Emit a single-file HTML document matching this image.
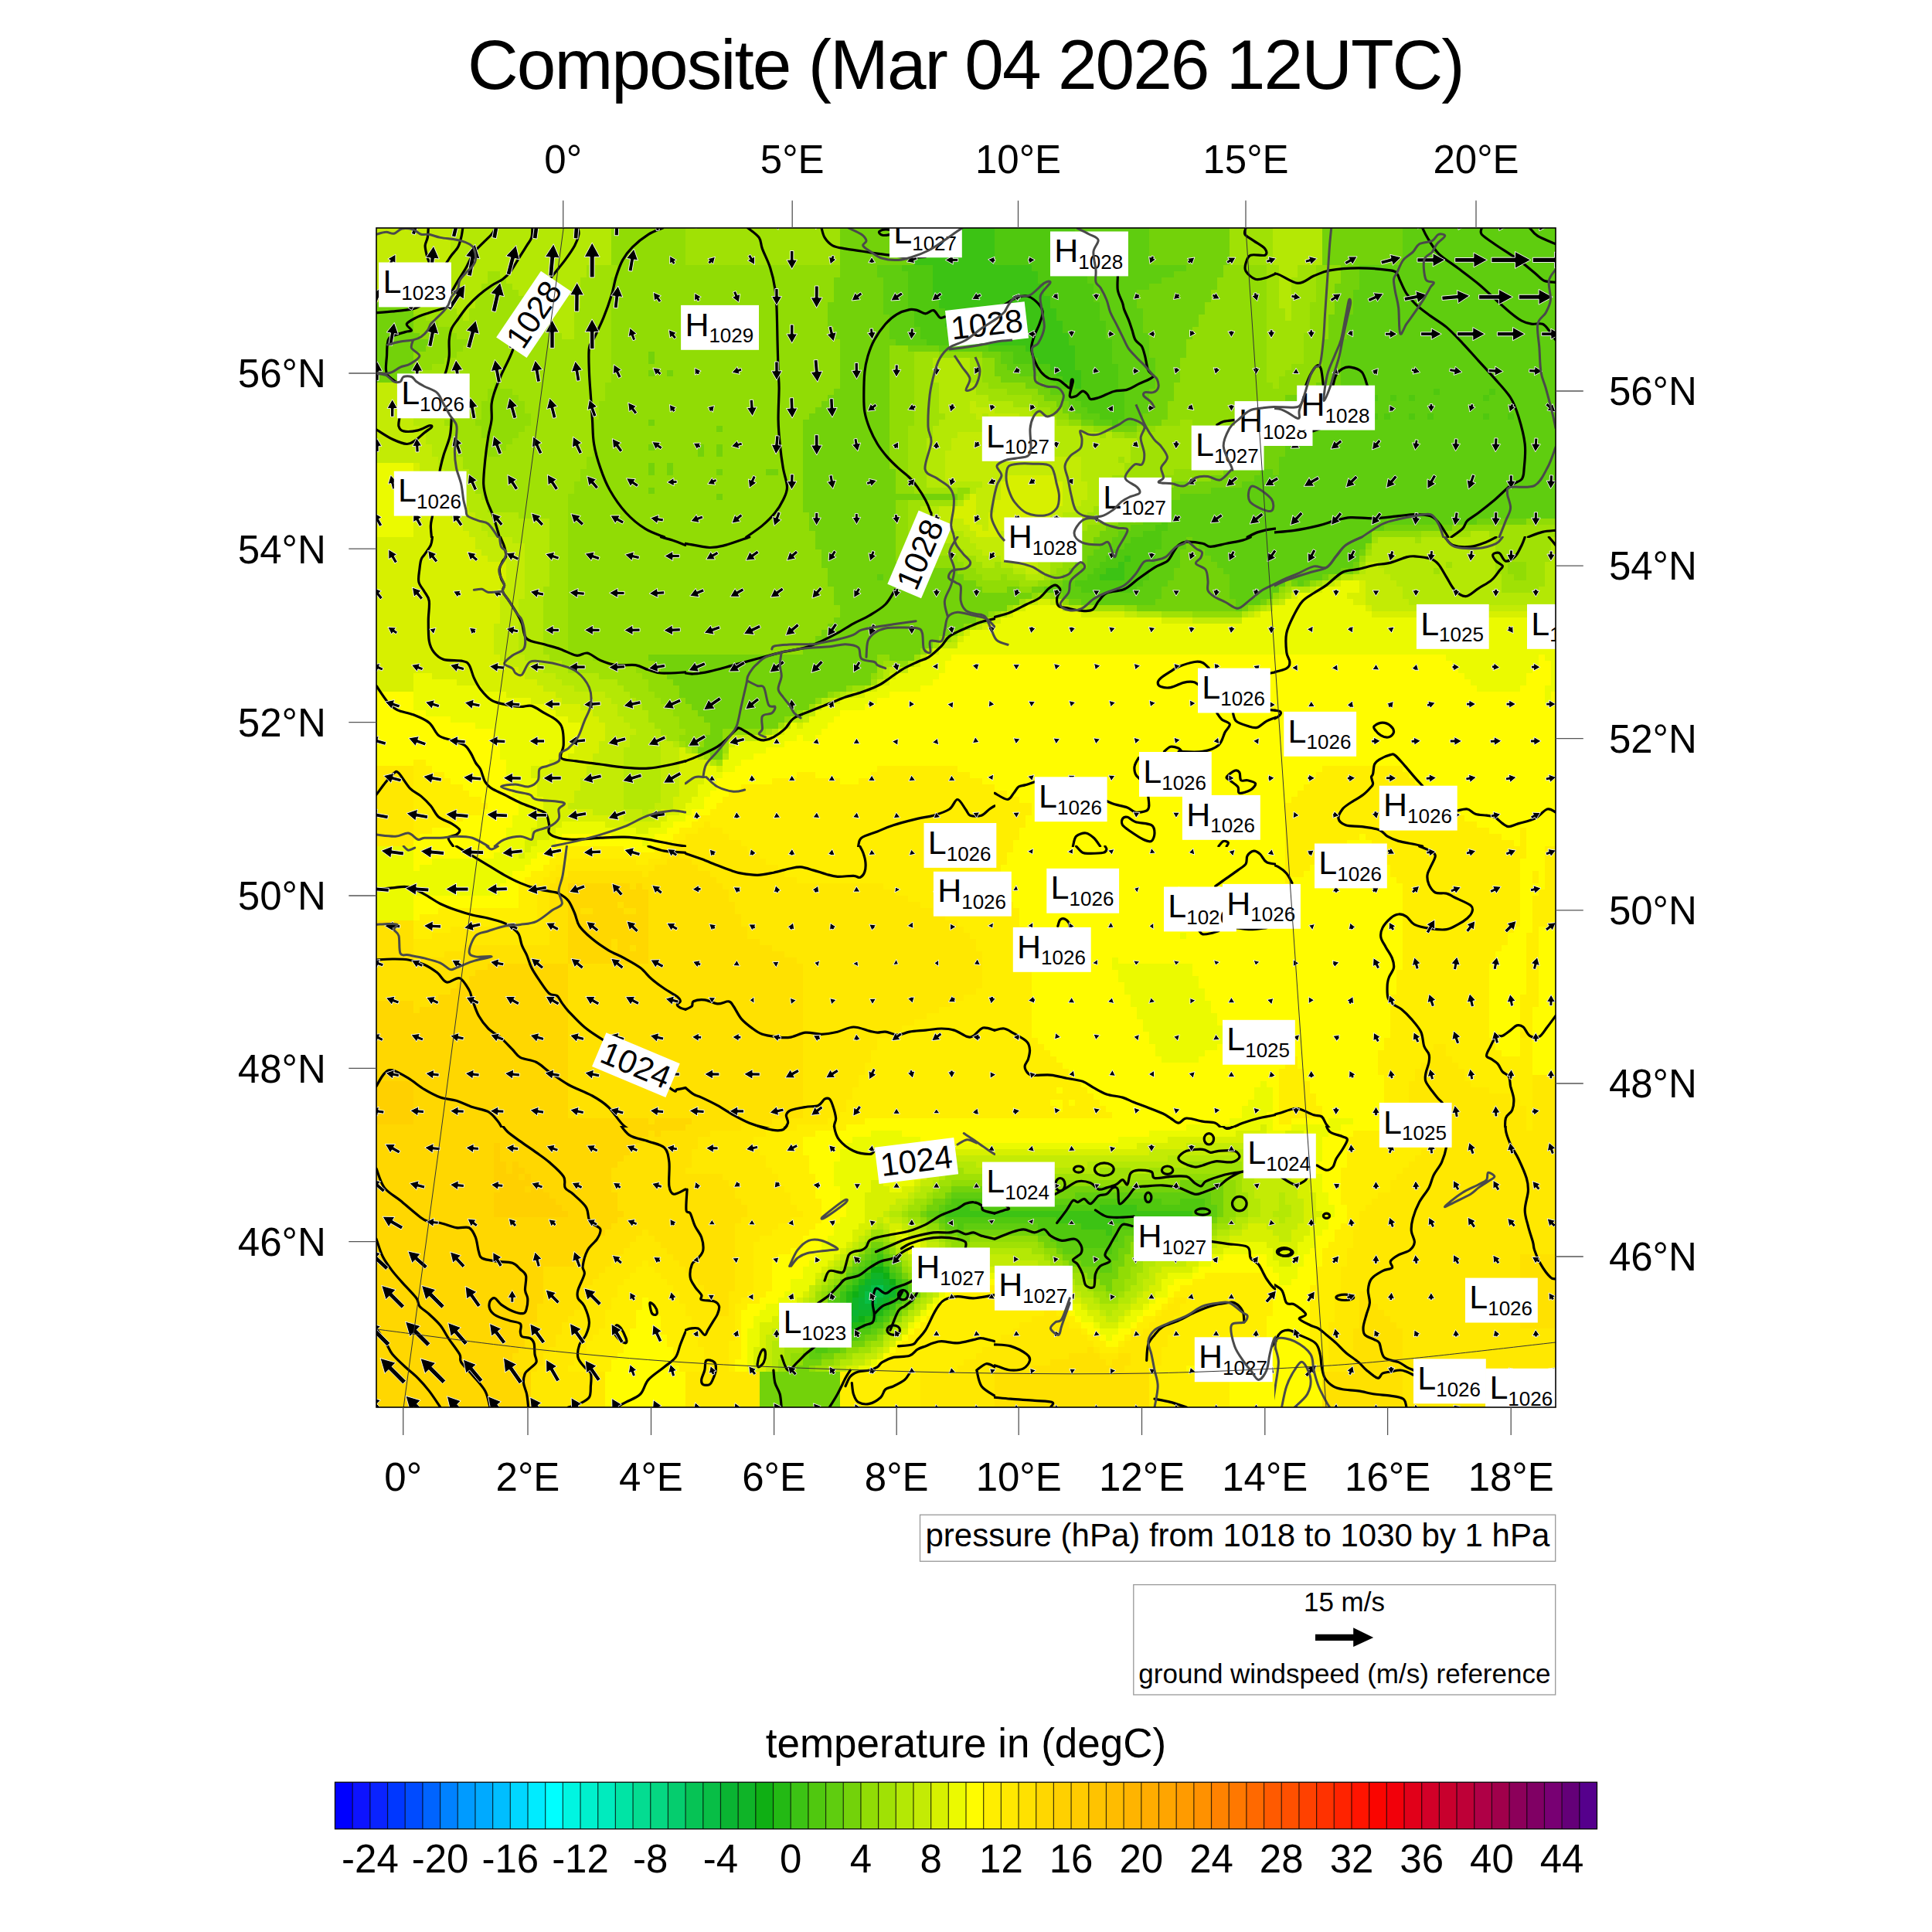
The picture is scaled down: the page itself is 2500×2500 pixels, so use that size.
<!DOCTYPE html>
<html><head><meta charset="utf-8"><title>Composite (Mar 04 2026 12UTC)</title>
<style>html,body{margin:0;padding:0;background:#fff;}svg{display:block;}</style></head>
<body><svg xmlns="http://www.w3.org/2000/svg" width="2500" height="2500" viewBox="0 0 2500 2500">
<rect width="2500" height="2500" fill="#fff"/>
<defs>
<clipPath id="cmap"><rect x="487" y="295" width="1526" height="1526"/></clipPath>
<clipPath id="tA"><rect x="487" y="295" width="401" height="401"/></clipPath>
<clipPath id="tB"><rect x="886" y="295" width="402" height="401"/></clipPath>
<clipPath id="tC"><rect x="1286" y="295" width="365" height="401"/></clipPath>
<clipPath id="tD"><rect x="1649" y="295" width="365" height="401"/></clipPath>
<clipPath id="tE"><rect x="487" y="694" width="401" height="402"/></clipPath>
<clipPath id="tF"><rect x="886" y="694" width="402" height="402"/></clipPath>
<clipPath id="tG"><rect x="1286" y="694" width="365" height="402"/></clipPath>
<clipPath id="tH"><rect x="1649" y="694" width="365" height="402"/></clipPath>
<clipPath id="tI"><rect x="487" y="1094" width="401" height="365"/></clipPath>
<clipPath id="tJ"><rect x="886" y="1094" width="402" height="365"/></clipPath>
<clipPath id="tK"><rect x="1286" y="1094" width="365" height="365"/></clipPath>
<clipPath id="tL"><rect x="1649" y="1094" width="365" height="365"/></clipPath>
<clipPath id="tM"><rect x="487" y="1457" width="401" height="365"/></clipPath>
<clipPath id="tN"><rect x="886" y="1457" width="402" height="365"/></clipPath>
<clipPath id="tO"><rect x="1286" y="1457" width="365" height="365"/></clipPath>
<clipPath id="tP"><rect x="1649" y="1457" width="365" height="365"/></clipPath>
</defs>
<g clip-path="url(#cmap)">
<path fill="#c3eb05" d="M487 295h96v8h-96zM487 303h96v8h-96zM487 311h96v8h-96zM487 319h96v8h-96zM487 327h96v8h-96zM487 335h96v8h-96zM487 343h48v8h-48zM487 351h48v8h-48zM487 359h48v8h-48zM487 367h48v8h-48zM487 375h48v8h-48zM487 383h48v8h-48zM487 495h48v8h-48zM487 503h48v8h-48zM487 511h48v8h-48zM487 519h48v8h-48zM1255 519h8v8h-8zM487 527h48v8h-48zM1255 527h32v8h-32zM487 535h48v8h-48zM1263 535h8v8h-8zM1279 535h40v8h-40zM487 543h48v8h-48zM1271 543h64v8h-64zM487 551h56v8h-56zM1279 551h64v8h-64zM487 559h64v8h-64zM1239 559h104v8h-104zM487 567h64v8h-64zM1231 567h120v8h-120zM487 575h72v8h-72zM1231 575h120v8h-120zM487 583h72v8h-72zM1223 583h136v8h-136zM487 591h80v8h-80zM1223 591h176v8h-176zM543 599h24v8h-24zM1223 599h176v8h-176zM543 607h32v8h-32zM1223 607h176v8h-176zM551 615h32v8h-32zM1223 615h80v8h-80zM1367 615h32v8h-32zM559 623h24v8h-24zM1271 623h24v8h-24zM1375 623h32v8h-32zM559 631h32v8h-32zM1263 631h32v8h-32zM1375 631h32v8h-32zM567 639h24v8h-24zM1263 639h32v8h-32zM1375 639h32v8h-32zM567 647h32v8h-32zM1263 647h24v8h-24zM1375 647h24v8h-24zM575 655h32v8h-32zM1215 655h16v8h-16zM1263 655h24v8h-24zM1367 655h24v8h-24zM583 663h32v8h-32zM1215 663h16v8h-16zM1263 663h16v8h-16zM1359 663h16v8h-16zM591 671h32v8h-32zM1215 671h32v8h-32zM1263 671h16v8h-16zM1351 671h16v8h-16zM599 679h24v8h-24zM1215 679h40v8h-40zM1271 679h8v8h-8zM1319 679h16v8h-16zM1351 679h16v8h-16zM607 687h24v8h-24zM1247 687h16v8h-16zM1295 687h64v8h-64zM615 695h48v8h-48zM1255 695h104v8h-104zM615 703h64v8h-64zM1263 703h88v8h-88zM623 711h56v8h-56zM1271 711h80v8h-80zM631 719h48v8h-48zM1295 719h56v8h-56zM655 727h24v8h-24zM1311 727h32v8h-32zM1767 727h16v8h-16zM655 735h24v8h-24zM1327 735h16v8h-16zM1767 735h24v8h-24zM655 743h24v8h-24zM1751 743h48v8h-48zM647 751h32v8h-32zM1719 751h8v8h-8zM1767 751h40v8h-40zM647 759h32v8h-32zM1695 759h8v8h-8zM1767 759h48v8h-48zM647 767h32v8h-32zM1767 767h48v8h-48zM647 775h24v8h-24zM1335 775h8v8h-8zM1359 775h8v8h-8zM1655 775h8v8h-8zM1767 775h56v8h-56zM647 783h24v8h-24zM1375 783h8v8h-8zM1639 783h8v8h-8zM1775 783h240v8h-240zM647 791h24v8h-24zM1455 791h16v8h-16zM1615 791h8v8h-8zM647 799h24v8h-24zM1279 799h8v8h-8zM1543 799h64v8h-64zM639 807h32v8h-32zM1263 807h8v8h-8zM639 815h32v8h-32zM639 823h32v8h-32zM639 831h32v8h-32zM1215 831h24v8h-24zM639 839h32v8h-32zM647 847h32v8h-32zM1191 847h8v8h-8zM655 855h40v8h-40zM671 863h32v8h-32zM1151 863h24v8h-24zM679 871h40v8h-40zM695 879h32v8h-32zM1135 879h8v8h-8zM703 887h40v8h-40zM719 895h64v8h-64zM1095 895h8v8h-8zM727 903h64v8h-64zM1071 903h8v8h-8zM751 911h48v8h-48zM1055 911h8v8h-8zM767 919h32v8h-32zM1047 919h8v8h-8zM775 927h32v8h-32zM1039 927h8v8h-8zM783 935h32v8h-32zM1015 935h8v8h-8zM783 943h40v8h-40zM783 951h32v8h-32zM943 951h48v8h-48zM775 959h40v8h-40zM855 959h16v8h-16zM775 967h32v8h-32zM855 967h24v8h-24zM767 975h40v8h-40zM855 975h24v8h-24zM767 983h40v8h-40zM855 983h24v8h-24zM759 991h48v8h-48zM855 991h24v8h-24zM759 999h48v8h-48zM855 999h24v8h-24zM751 1007h56v8h-56zM855 1007h24v8h-24zM751 1015h56v8h-56zM855 1015h24v8h-24zM743 1023h64v8h-64zM855 1023h24v8h-24zM743 1031h64v8h-64zM855 1031h16v8h-16zM735 1039h72v8h-72zM847 1039h24v8h-24zM767 1047h64v8h-64zM839 1047h16v8h-16zM807 1055h40v8h-40zM1535 1479h96v8h-96zM1487 1487h112v8h-112zM1615 1487h16v8h-16zM1231 1495h280v8h-280zM1623 1495h8v8h-8zM1639 1495h24v8h-24zM1223 1503h8v8h-8zM1263 1503h144v8h-144zM1623 1503h8v8h-8zM1639 1503h24v8h-24zM1215 1511h8v8h-8zM1623 1511h48v8h-48zM1199 1519h16v8h-16zM1623 1519h48v8h-48zM1191 1527h16v8h-16zM1623 1527h56v8h-56zM1183 1535h8v8h-8zM1623 1535h56v8h-56zM1175 1543h8v8h-8zM1623 1543h32v8h-32zM1663 1543h16v8h-16zM1159 1551h16v8h-16zM1631 1551h24v8h-24zM1663 1551h24v8h-24zM1151 1559h16v8h-16zM1631 1559h24v8h-24zM1671 1559h16v8h-16zM1143 1567h8v8h-8zM1631 1567h16v8h-16zM1671 1567h16v8h-16zM1135 1575h8v8h-8zM1151 1575h16v8h-16zM1615 1575h40v8h-40zM1663 1575h24v8h-24zM1127 1583h8v8h-8zM1143 1583h8v8h-8zM1167 1583h8v8h-8zM1607 1583h8v8h-8zM1639 1583h40v8h-40zM1119 1591h8v8h-8zM1175 1591h16v8h-16zM1591 1591h16v8h-16zM1647 1591h24v8h-24zM1111 1599h8v8h-8zM1151 1599h8v8h-8zM1191 1599h8v8h-8zM1575 1599h16v8h-16zM1655 1599h16v8h-16zM1103 1607h8v8h-8zM1159 1607h8v8h-8zM1199 1607h16v8h-16zM1567 1607h8v8h-8zM1095 1615h8v8h-8zM1167 1615h8v8h-8zM1207 1615h16v8h-16zM1551 1615h16v8h-16zM1087 1623h8v8h-8zM1175 1623h8v8h-8zM1223 1623h8v8h-8zM1263 1623h48v8h-48zM1535 1623h16v8h-16zM1079 1631h8v8h-8zM1231 1631h40v8h-40zM1279 1631h64v8h-64zM1495 1631h40v8h-40zM1071 1639h8v8h-8zM1183 1639h8v8h-8zM1343 1639h16v8h-16zM1487 1639h16v8h-16zM1063 1647h8v8h-8zM1191 1647h8v8h-8zM1359 1647h8v8h-8zM1487 1647h8v8h-8zM1055 1655h8v8h-8zM1199 1655h8v8h-8zM1367 1655h16v8h-16zM1479 1655h16v8h-16zM1047 1663h8v8h-8zM1207 1663h8v8h-8zM1375 1663h16v8h-16zM1479 1663h8v8h-8zM1047 1671h8v8h-8zM1207 1671h8v8h-8zM1391 1671h8v8h-8zM1471 1671h8v8h-8zM1039 1679h8v8h-8zM1199 1679h8v8h-8zM1399 1679h16v8h-16zM1463 1679h8v8h-8zM1039 1687h8v8h-8zM1191 1687h8v8h-8zM1407 1687h16v8h-16zM1447 1687h16v8h-16zM1031 1695h8v8h-8zM1183 1695h8v8h-8zM1423 1695h8v8h-8zM1439 1695h16v8h-16zM1023 1703h16v8h-16zM1175 1703h8v8h-8zM1431 1703h16v8h-16zM1007 1711h24v8h-24zM1167 1711h8v8h-8zM999 1719h24v8h-24zM1159 1719h8v8h-8zM991 1727h16v8h-16zM1151 1727h8v8h-8zM991 1735h8v8h-8zM1143 1735h8v8h-8zM991 1743h8v8h-8zM1135 1743h8v8h-8zM991 1751h8v8h-8zM1119 1751h16v8h-16zM991 1759h8v8h-8zM1103 1759h16v8h-16zM991 1767h8v8h-8zM1087 1767h8v8h-8z"/>
<path fill="#b4e805" d="M583 295h208v8h-208zM1647 295h64v8h-64zM583 303h208v8h-208zM1647 303h64v8h-64zM583 311h208v8h-208zM1647 311h64v8h-64zM583 319h208v8h-208zM1647 319h64v8h-64zM583 327h208v8h-208zM1647 327h64v8h-64zM583 335h208v8h-208zM1647 335h64v8h-64zM535 343h224v8h-224zM1655 343h24v8h-24zM535 351h96v8h-96zM647 351h112v8h-112zM1655 351h24v8h-24zM535 359h96v8h-96zM655 359h96v8h-96zM1655 359h16v8h-16zM535 367h88v8h-88zM663 367h88v8h-88zM1655 367h16v8h-16zM543 375h80v8h-80zM671 375h80v8h-80zM1655 375h16v8h-16zM559 383h56v8h-56zM679 383h72v8h-72zM1655 383h16v8h-16zM575 391h40v8h-40zM687 391h64v8h-64zM1655 391h16v8h-16zM591 399h16v8h-16zM695 399h48v8h-48zM1663 399h8v8h-8zM599 407h8v8h-8zM703 407h40v8h-40zM1663 407h8v8h-8zM711 415h32v8h-32zM719 423h24v8h-24zM727 431h16v8h-16zM1207 463h48v8h-48zM1207 471h48v8h-48zM1207 479h48v8h-48zM583 487h16v8h-16zM1207 487h48v8h-48zM567 495h32v8h-32zM1215 495h48v8h-48zM551 503h40v8h-40zM1215 503h48v8h-48zM543 511h48v8h-48zM1215 511h64v8h-64zM535 519h48v8h-48zM1215 519h40v8h-40zM1263 519h48v8h-48zM535 527h48v8h-48zM1215 527h40v8h-40zM1287 527h48v8h-48zM535 535h48v8h-48zM1223 535h40v8h-40zM1271 535h8v8h-8zM1319 535h32v8h-32zM535 543h40v8h-40zM1215 543h56v8h-56zM1335 543h32v8h-32zM543 551h40v8h-40zM1207 551h72v8h-72zM1343 551h56v8h-56zM551 559h32v8h-32zM1207 559h32v8h-32zM1343 559h80v8h-80zM1431 559h8v8h-8zM551 567h40v8h-40zM1199 567h32v8h-32zM1351 567h120v8h-120zM559 575h32v8h-32zM1199 575h32v8h-32zM1351 575h112v8h-112zM559 583h32v8h-32zM1199 583h24v8h-24zM1359 583h104v8h-104zM567 591h32v8h-32zM1199 591h24v8h-24zM1399 591h48v8h-48zM1455 591h8v8h-8zM567 599h32v8h-32zM1199 599h24v8h-24zM1399 599h56v8h-56zM575 607h32v8h-32zM1199 607h24v8h-24zM1399 607h56v8h-56zM583 615h24v8h-24zM1199 615h24v8h-24zM1399 615h40v8h-40zM583 623h32v8h-32zM1199 623h72v8h-72zM1407 623h40v8h-40zM591 631h24v8h-24zM1255 631h8v8h-8zM1407 631h32v8h-32zM591 639h32v8h-32zM1247 639h8v8h-8zM1407 639h32v8h-32zM599 647h32v8h-32zM1239 647h8v8h-8zM1399 647h32v8h-32zM607 655h24v8h-24zM1191 655h24v8h-24zM1391 655h24v8h-24zM615 663h56v8h-56zM1191 663h24v8h-24zM1375 663h32v8h-32zM623 671h88v8h-88zM1191 671h24v8h-24zM1367 671h24v8h-24zM623 679h88v8h-88zM1191 679h24v8h-24zM1367 679h16v8h-16zM631 687h80v8h-80zM1191 687h56v8h-56zM1359 687h16v8h-16zM1903 687h24v8h-24zM663 695h48v8h-48zM1199 695h56v8h-56zM1359 695h16v8h-16zM1783 695h48v8h-48zM1839 695h96v8h-96zM2007 695h8v8h-8zM679 703h32v8h-32zM1239 703h24v8h-24zM1351 703h16v8h-16zM1775 703h160v8h-160zM2007 703h8v8h-8zM679 711h32v8h-32zM1247 711h24v8h-24zM1351 711h16v8h-16zM1775 711h160v8h-160zM2007 711h8v8h-8zM679 719h32v8h-32zM1263 719h32v8h-32zM1351 719h8v8h-8zM1767 719h168v8h-168zM2007 719h8v8h-8zM679 727h32v8h-32zM1271 727h16v8h-16zM1295 727h16v8h-16zM1343 727h16v8h-16zM1783 727h88v8h-88zM1879 727h56v8h-56zM1999 727h16v8h-16zM679 735h32v8h-32zM1311 735h16v8h-16zM1343 735h16v8h-16zM1759 735h8v8h-8zM1791 735h64v8h-64zM1863 735h72v8h-72zM1999 735h16v8h-16zM679 743h32v8h-32zM1327 743h24v8h-24zM1735 743h16v8h-16zM1799 743h144v8h-144zM1999 743h16v8h-16zM679 751h32v8h-32zM1711 751h8v8h-8zM1807 751h136v8h-136zM1999 751h16v8h-16zM679 759h24v8h-24zM1671 759h24v8h-24zM1815 759h128v8h-128zM1991 759h24v8h-24zM679 767h24v8h-24zM1663 767h8v8h-8zM1815 767h200v8h-200zM671 775h32v8h-32zM1327 775h8v8h-8zM1367 775h8v8h-8zM1647 775h8v8h-8zM1823 775h192v8h-192zM671 783h32v8h-32zM1311 783h8v8h-8zM1383 783h16v8h-16zM1631 783h8v8h-8zM671 791h32v8h-32zM1295 791h8v8h-8zM1471 791h32v8h-32zM1607 791h8v8h-8zM671 799h32v8h-32zM671 807h32v8h-32zM1255 807h8v8h-8zM671 815h32v8h-32zM1239 815h8v8h-8zM671 823h32v8h-32zM1231 823h8v8h-8zM671 831h32v8h-32zM671 839h32v8h-32zM1199 839h8v8h-8zM679 847h32v8h-32zM695 855h32v8h-32zM1175 855h8v8h-8zM703 863h32v8h-32zM1143 863h8v8h-8zM719 871h56v8h-56zM1143 871h8v8h-8zM727 879h72v8h-72zM743 887h64v8h-64zM1119 887h8v8h-8zM783 895h32v8h-32zM1087 895h8v8h-8zM791 903h32v8h-32zM1063 903h8v8h-8zM799 911h32v8h-32zM799 919h40v8h-40zM1039 919h8v8h-8zM807 927h32v8h-32zM1023 927h16v8h-16zM815 935h32v8h-32zM823 943h32v8h-32zM999 943h8v8h-8zM815 951h48v8h-48zM815 959h40v8h-40zM871 959h8v8h-8zM807 967h48v8h-48zM887 967h8v8h-8zM807 975h48v8h-48zM903 975h8v8h-8zM935 975h8v8h-8zM807 983h48v8h-48zM919 983h8v8h-8zM807 991h48v8h-48zM807 999h48v8h-48zM807 1007h48v8h-48zM807 1015h48v8h-48zM807 1023h48v8h-48zM807 1031h48v8h-48zM807 1039h40v8h-40zM831 1047h8v8h-8zM1599 1487h16v8h-16zM1511 1495h112v8h-112zM1231 1503h32v8h-32zM1407 1503h128v8h-128zM1607 1503h16v8h-16zM1223 1511h16v8h-16zM1247 1511h176v8h-176zM1463 1511h24v8h-24zM1607 1511h16v8h-16zM1215 1519h8v8h-8zM1607 1519h16v8h-16zM1207 1527h8v8h-8zM1607 1527h16v8h-16zM1191 1535h16v8h-16zM1607 1535h16v8h-16zM1183 1543h16v8h-16zM1615 1543h8v8h-8zM1655 1543h8v8h-8zM1175 1551h8v8h-8zM1615 1551h16v8h-16zM1655 1551h8v8h-8zM1167 1559h8v8h-8zM1615 1559h16v8h-16zM1655 1559h16v8h-16zM1151 1567h16v8h-16zM1615 1567h16v8h-16zM1647 1567h24v8h-24zM1167 1575h8v8h-8zM1599 1575h16v8h-16zM1655 1575h8v8h-8zM1135 1583h8v8h-8zM1175 1583h16v8h-16zM1591 1583h16v8h-16zM1143 1591h8v8h-8zM1191 1591h8v8h-8zM1575 1591h16v8h-16zM1119 1599h8v8h-8zM1199 1599h16v8h-16zM1559 1599h16v8h-16zM1111 1607h8v8h-8zM1215 1607h8v8h-8zM1551 1607h16v8h-16zM1103 1615h8v8h-8zM1159 1615h8v8h-8zM1223 1615h8v8h-8zM1263 1615h72v8h-72zM1535 1615h16v8h-16zM1095 1623h8v8h-8zM1167 1623h8v8h-8zM1231 1623h32v8h-32zM1311 1623h40v8h-40zM1487 1623h48v8h-48zM1087 1631h8v8h-8zM1175 1631h8v8h-8zM1343 1631h16v8h-16zM1479 1631h16v8h-16zM1079 1639h8v8h-8zM1359 1639h16v8h-16zM1479 1639h8v8h-8zM1071 1647h8v8h-8zM1367 1647h16v8h-16zM1471 1647h16v8h-16zM1063 1655h8v8h-8zM1191 1655h8v8h-8zM1383 1655h8v8h-8zM1471 1655h8v8h-8zM1055 1663h8v8h-8zM1199 1663h8v8h-8zM1391 1663h16v8h-16zM1463 1663h16v8h-16zM1199 1671h8v8h-8zM1399 1671h16v8h-16zM1455 1671h16v8h-16zM1047 1679h8v8h-8zM1191 1679h8v8h-8zM1415 1679h8v8h-8zM1447 1679h16v8h-16zM1047 1687h8v8h-8zM1183 1687h8v8h-8zM1423 1687h24v8h-24zM1039 1695h8v8h-8zM1175 1695h8v8h-8zM1431 1695h8v8h-8zM1039 1703h8v8h-8zM1167 1703h8v8h-8zM1031 1711h8v8h-8zM1159 1711h8v8h-8zM1023 1719h16v8h-16zM1151 1719h8v8h-8zM1007 1727h24v8h-24zM1143 1727h8v8h-8zM999 1735h24v8h-24zM999 1743h16v8h-16zM1127 1743h8v8h-8zM999 1751h16v8h-16zM1103 1751h16v8h-16zM999 1759h8v8h-8zM1087 1759h16v8h-16zM999 1767h8v8h-8zM1071 1767h16v8h-16z"/>
<path fill="#91dc05" d="M791 295h96v8h-96zM791 303h96v8h-96zM791 311h96v8h-96zM791 319h96v8h-96zM791 327h96v8h-96zM791 335h96v8h-96zM799 343h288v8h-288zM1583 343h56v8h-56zM1703 343h32v8h-32zM799 351h288v8h-288zM1583 351h56v8h-56zM1703 351h32v8h-32zM791 359h288v8h-288zM1575 359h64v8h-64zM1703 359h32v8h-32zM791 367h288v8h-288zM1575 367h64v8h-64zM1703 367h24v8h-24zM791 375h288v8h-288zM1567 375h72v8h-72zM1703 375h24v8h-24zM791 383h288v8h-288zM1567 383h72v8h-72zM1703 383h24v8h-24zM791 391h280v8h-280zM1559 391h80v8h-80zM1695 391h32v8h-32zM791 399h280v8h-280zM1559 399h80v8h-80zM1695 399h32v8h-32zM535 407h16v8h-16zM791 407h280v8h-280zM1551 407h88v8h-88zM1695 407h24v8h-24zM535 415h32v8h-32zM791 415h280v8h-280zM1551 415h88v8h-88zM1695 415h24v8h-24zM535 423h48v8h-48zM791 423h288v8h-288zM1543 423h96v8h-96zM1695 423h24v8h-24zM543 431h48v8h-48zM791 431h288v8h-288zM1543 431h96v8h-96zM1687 431h32v8h-32zM559 439h48v8h-48zM791 439h296v8h-296zM1535 439h104v8h-104zM1687 439h24v8h-24zM551 447h48v8h-48zM791 447h296v8h-296zM1151 447h24v8h-24zM1535 447h104v8h-104zM1687 447h24v8h-24zM535 455h56v8h-56zM791 455h48v8h-48zM847 455h240v8h-240zM1151 455h32v8h-32zM1215 455h56v8h-56zM1535 455h104v8h-104zM1687 455h24v8h-24zM535 463h40v8h-40zM791 463h48v8h-48zM847 463h240v8h-240zM1151 463h32v8h-32zM1271 463h16v8h-16zM1527 463h112v8h-112zM1687 463h24v8h-24zM535 471h24v8h-24zM791 471h296v8h-296zM1151 471h32v8h-32zM1271 471h16v8h-16zM1527 471h112v8h-112zM1671 471h40v8h-40zM535 479h8v8h-8zM791 479h48v8h-48zM847 479h16v8h-16zM871 479h216v8h-216zM1151 479h32v8h-32zM1271 479h16v8h-16zM1527 479h112v8h-112zM1663 479h48v8h-48zM791 487h296v8h-296zM1151 487h32v8h-32zM1271 487h24v8h-24zM1527 487h112v8h-112zM1655 487h56v8h-56zM639 495h8v8h-8zM783 495h304v8h-304zM1151 495h32v8h-32zM1279 495h48v8h-48zM1519 495h128v8h-128zM1655 495h48v8h-48zM631 503h32v8h-32zM783 503h296v8h-296zM1151 503h32v8h-32zM1303 503h40v8h-40zM1519 503h160v8h-160zM631 511h40v8h-40zM783 511h288v8h-288zM1151 511h32v8h-32zM1335 511h16v8h-16zM1519 511h144v8h-144zM623 519h56v8h-56zM775 519h288v8h-288zM1151 519h32v8h-32zM1343 519h24v8h-24zM1511 519h144v8h-144zM623 527h56v8h-56zM775 527h280v8h-280zM1151 527h32v8h-32zM1359 527h16v8h-16zM1511 527h144v8h-144zM623 535h64v8h-64zM775 535h272v8h-272zM1151 535h32v8h-32zM1367 535h16v8h-16zM1511 535h136v8h-136zM615 543h72v8h-72zM767 543h72v8h-72zM847 543h192v8h-192zM1151 543h32v8h-32zM1383 543h16v8h-16zM1503 543h24v8h-24zM1543 543h104v8h-104zM623 551h56v8h-56zM767 551h160v8h-160zM935 551h104v8h-104zM1151 551h24v8h-24zM1415 551h24v8h-24zM1471 551h24v8h-24zM1551 551h96v8h-96zM623 559h48v8h-48zM767 559h272v8h-272zM1151 559h24v8h-24zM1455 559h16v8h-16zM1567 559h80v8h-80zM631 567h32v8h-32zM767 567h272v8h-272zM1151 567h24v8h-24zM1575 567h56v8h-56zM631 575h24v8h-24zM767 575h72v8h-72zM847 575h56v8h-56zM911 575h16v8h-16zM935 575h104v8h-104zM1151 575h24v8h-24zM1567 575h56v8h-56zM631 583h16v8h-16zM767 583h136v8h-136zM911 583h16v8h-16zM935 583h104v8h-104zM1151 583h24v8h-24zM1559 583h48v8h-48zM759 591h280v8h-280zM1151 591h24v8h-24zM1551 591h48v8h-48zM759 599h80v8h-80zM847 599h16v8h-16zM871 599h168v8h-168zM1151 599h24v8h-24zM1543 599h48v8h-48zM751 607h88v8h-88zM847 607h16v8h-16zM871 607h56v8h-56zM935 607h56v8h-56zM1007 607h32v8h-32zM1159 607h16v8h-16zM1519 607h64v8h-64zM751 615h288v8h-288zM1159 615h16v8h-16zM1503 615h64v8h-64zM743 623h296v8h-296zM1159 623h24v8h-24zM1495 623h24v8h-24zM743 631h96v8h-96zM847 631h192v8h-192zM1159 631h24v8h-24zM1239 631h16v8h-16zM1479 631h32v8h-32zM735 639h192v8h-192zM935 639h104v8h-104zM1239 639h8v8h-8zM1471 639h24v8h-24zM735 647h304v8h-304zM1159 647h16v8h-16zM1455 647h32v8h-32zM735 655h304v8h-304zM1159 655h16v8h-16zM1447 655h24v8h-24zM735 663h312v8h-312zM1159 663h16v8h-16zM1431 663h32v8h-32zM735 671h312v8h-312zM1159 671h16v8h-16zM1423 671h24v8h-24zM1975 671h40v8h-40zM735 679h312v8h-312zM1159 679h16v8h-16zM1407 679h24v8h-24zM1879 679h64v8h-64zM735 687h320v8h-320zM1159 687h16v8h-16zM1399 687h24v8h-24zM1775 687h64v8h-64zM735 695h320v8h-320zM1159 695h16v8h-16zM1391 695h24v8h-24zM735 703h320v8h-320zM1159 703h16v8h-16zM1383 703h16v8h-16zM1767 703h8v8h-8zM735 711h328v8h-328zM1159 711h24v8h-24zM1383 711h16v8h-16zM735 719h328v8h-328zM1159 719h80v8h-80zM1375 719h16v8h-16zM1759 719h8v8h-8zM735 727h328v8h-328zM1175 727h72v8h-72zM1375 727h16v8h-16zM1951 727h24v8h-24zM735 735h336v8h-336zM1239 735h24v8h-24zM1367 735h16v8h-16zM1751 735h8v8h-8zM1951 735h24v8h-24zM735 743h336v8h-336zM1247 743h24v8h-24zM1295 743h8v8h-8zM1359 743h16v8h-16zM1719 743h8v8h-8zM1959 743h16v8h-16zM735 751h336v8h-336zM1263 751h56v8h-56zM1343 751h16v8h-16zM1663 751h8v8h-8zM1695 751h8v8h-8zM735 759h344v8h-344zM1271 759h32v8h-32zM1319 759h16v8h-16zM1655 759h8v8h-8zM735 767h344v8h-344zM1335 767h8v8h-8zM1359 767h8v8h-8zM1647 767h8v8h-8zM735 775h344v8h-344zM1375 775h8v8h-8zM1639 775h8v8h-8zM735 783h352v8h-352zM1455 783h16v8h-16zM1615 783h8v8h-8zM735 791h352v8h-352zM1279 791h8v8h-8zM1543 791h64v8h-64zM735 799h344v8h-344zM1263 799h8v8h-8zM735 807h336v8h-336zM1247 807h8v8h-8zM735 815h328v8h-328zM1231 815h8v8h-8zM735 823h320v8h-320zM1215 823h8v8h-8zM735 831h312v8h-312zM735 839h304v8h-304zM1191 839h8v8h-8zM767 847h72v8h-72zM1135 847h16v8h-16zM799 855h48v8h-48zM1135 855h8v8h-8zM1159 855h16v8h-16zM823 863h32v8h-32zM831 871h32v8h-32zM1127 871h8v8h-8zM839 879h32v8h-32zM839 887h40v8h-40zM1095 887h8v8h-8zM847 895h32v8h-32zM1071 895h8v8h-8zM855 903h32v8h-32zM1055 903h8v8h-8zM863 911h32v8h-32zM871 919h32v8h-32zM1031 919h8v8h-8zM879 927h32v8h-32zM1015 927h8v8h-8zM879 935h40v8h-40zM887 943h32v8h-32zM935 943h56v8h-56zM879 951h32v8h-32zM935 951h8v8h-8zM887 959h24v8h-24zM1511 1519h80v8h-80zM1231 1527h296v8h-296zM1583 1527h16v8h-16zM1215 1535h16v8h-16zM1303 1535h72v8h-72zM1583 1535h16v8h-16zM1207 1543h16v8h-16zM1583 1543h16v8h-16zM1199 1551h8v8h-8zM1583 1551h16v8h-16zM1191 1559h8v8h-8zM1583 1559h16v8h-16zM1175 1567h16v8h-16zM1583 1567h16v8h-16zM1191 1575h8v8h-8zM1575 1575h16v8h-16zM1199 1583h16v8h-16zM1559 1583h16v8h-16zM1215 1591h8v8h-8zM1551 1591h8v8h-8zM1127 1599h16v8h-16zM1223 1599h16v8h-16zM1255 1599h88v8h-88zM1503 1599h48v8h-48zM1119 1607h8v8h-8zM1143 1607h8v8h-8zM1231 1607h24v8h-24zM1343 1607h8v8h-8zM1463 1607h56v8h-56zM1111 1615h8v8h-8zM1151 1615h8v8h-8zM1351 1615h16v8h-16zM1463 1615h16v8h-16zM1359 1623h16v8h-16zM1455 1623h16v8h-16zM1375 1631h8v8h-8zM1455 1631h16v8h-16zM1167 1639h8v8h-8zM1383 1639h16v8h-16zM1447 1639h16v8h-16zM1087 1647h8v8h-8zM1175 1647h8v8h-8zM1399 1647h8v8h-8zM1447 1647h16v8h-16zM1079 1655h8v8h-8zM1183 1655h8v8h-8zM1407 1655h16v8h-16zM1439 1655h16v8h-16zM1071 1663h8v8h-8zM1415 1663h16v8h-16zM1439 1663h16v8h-16zM1063 1671h8v8h-8zM1431 1671h16v8h-16zM1063 1679h8v8h-8zM1055 1687h8v8h-8zM1175 1687h8v8h-8zM1055 1695h8v8h-8zM1167 1695h8v8h-8zM1159 1703h8v8h-8zM1047 1711h8v8h-8zM1151 1711h8v8h-8zM1047 1719h8v8h-8zM1143 1719h8v8h-8zM1039 1727h8v8h-8zM1135 1727h8v8h-8zM1039 1735h8v8h-8zM1119 1735h8v8h-8zM1039 1743h8v8h-8zM1095 1743h16v8h-16zM1023 1751h16v8h-16zM1079 1751h16v8h-16zM1023 1759h16v8h-16zM1063 1759h16v8h-16zM1023 1767h8v8h-8zM1047 1767h8v8h-8z"/>
<path fill="#a0e105" d="M887 295h200v8h-200zM1591 295h56v8h-56zM887 303h200v8h-200zM1591 303h56v8h-56zM887 311h200v8h-200zM1591 311h56v8h-56zM887 319h200v8h-200zM1591 319h56v8h-56zM887 327h200v8h-200zM1591 327h56v8h-56zM887 335h200v8h-200zM1591 335h56v8h-56zM759 343h40v8h-40zM1639 343h16v8h-16zM1679 343h24v8h-24zM631 351h16v8h-16zM759 351h40v8h-40zM1639 351h16v8h-16zM1679 351h24v8h-24zM631 359h24v8h-24zM751 359h40v8h-40zM1639 359h16v8h-16zM1671 359h32v8h-32zM623 367h40v8h-40zM751 367h40v8h-40zM1639 367h16v8h-16zM1671 367h32v8h-32zM535 375h8v8h-8zM623 375h48v8h-48zM751 375h40v8h-40zM1639 375h16v8h-16zM1671 375h32v8h-32zM535 383h24v8h-24zM615 383h64v8h-64zM751 383h40v8h-40zM1639 383h16v8h-16zM1671 383h32v8h-32zM535 391h40v8h-40zM615 391h72v8h-72zM751 391h40v8h-40zM1639 391h16v8h-16zM1671 391h24v8h-24zM535 399h56v8h-56zM607 399h88v8h-88zM743 399h48v8h-48zM1639 399h24v8h-24zM1671 399h24v8h-24zM551 407h48v8h-48zM607 407h96v8h-96zM743 407h48v8h-48zM1639 407h24v8h-24zM1671 407h24v8h-24zM567 415h144v8h-144zM743 415h48v8h-48zM1639 415h56v8h-56zM583 423h136v8h-136zM743 423h48v8h-48zM1639 423h56v8h-56zM591 431h136v8h-136zM743 431h48v8h-48zM1639 431h48v8h-48zM607 439h184v8h-184zM1639 439h48v8h-48zM599 447h192v8h-192zM1639 447h48v8h-48zM591 455h200v8h-200zM1183 455h32v8h-32zM1639 455h48v8h-48zM575 463h216v8h-216zM1183 463h24v8h-24zM1255 463h16v8h-16zM1639 463h48v8h-48zM559 471h232v8h-232zM1183 471h24v8h-24zM1255 471h16v8h-16zM1639 471h32v8h-32zM543 479h248v8h-248zM1183 479h24v8h-24zM1255 479h16v8h-16zM1639 479h24v8h-24zM535 487h48v8h-48zM599 487h192v8h-192zM1183 487h24v8h-24zM1255 487h16v8h-16zM1639 487h16v8h-16zM535 495h32v8h-32zM599 495h40v8h-40zM647 495h136v8h-136zM1183 495h32v8h-32zM1263 495h16v8h-16zM1647 495h8v8h-8zM535 503h16v8h-16zM591 503h40v8h-40zM663 503h120v8h-120zM1183 503h32v8h-32zM1263 503h40v8h-40zM535 511h8v8h-8zM591 511h40v8h-40zM671 511h112v8h-112zM1183 511h32v8h-32zM1279 511h56v8h-56zM583 519h40v8h-40zM679 519h96v8h-96zM1183 519h32v8h-32zM1311 519h32v8h-32zM583 527h40v8h-40zM679 527h96v8h-96zM1183 527h32v8h-32zM1335 527h24v8h-24zM583 535h40v8h-40zM687 535h88v8h-88zM1183 535h40v8h-40zM1351 535h16v8h-16zM575 543h40v8h-40zM687 543h80v8h-80zM1183 543h32v8h-32zM1367 543h16v8h-16zM1527 543h16v8h-16zM583 551h40v8h-40zM679 551h88v8h-88zM1175 551h32v8h-32zM1399 551h16v8h-16zM1495 551h56v8h-56zM583 559h40v8h-40zM671 559h96v8h-96zM1175 559h32v8h-32zM1423 559h8v8h-8zM1439 559h16v8h-16zM1471 559h96v8h-96zM591 567h40v8h-40zM663 567h104v8h-104zM1175 567h24v8h-24zM1471 567h104v8h-104zM591 575h40v8h-40zM655 575h112v8h-112zM1175 575h24v8h-24zM1463 575h104v8h-104zM591 583h40v8h-40zM647 583h120v8h-120zM1175 583h24v8h-24zM1463 583h96v8h-96zM599 591h160v8h-160zM1175 591h24v8h-24zM1447 591h8v8h-8zM1463 591h88v8h-88zM599 599h160v8h-160zM1175 599h24v8h-24zM1455 599h88v8h-88zM607 607h144v8h-144zM1175 607h24v8h-24zM1455 607h64v8h-64zM607 615h144v8h-144zM1175 615h24v8h-24zM1439 615h64v8h-64zM615 623h128v8h-128zM1183 623h16v8h-16zM1447 623h48v8h-48zM615 631h128v8h-128zM1183 631h56v8h-56zM1439 631h40v8h-40zM623 639h112v8h-112zM1439 639h32v8h-32zM631 647h104v8h-104zM1175 647h64v8h-64zM1431 647h24v8h-24zM631 655h104v8h-104zM1175 655h16v8h-16zM1415 655h32v8h-32zM671 663h64v8h-64zM1175 663h16v8h-16zM1407 663h24v8h-24zM711 671h24v8h-24zM1175 671h16v8h-16zM1391 671h32v8h-32zM711 679h24v8h-24zM1175 679h16v8h-16zM1383 679h24v8h-24zM1943 679h72v8h-72zM711 687h24v8h-24zM1175 687h16v8h-16zM1375 687h24v8h-24zM1839 687h64v8h-64zM1927 687h88v8h-88zM711 695h24v8h-24zM1175 695h24v8h-24zM1375 695h16v8h-16zM1775 695h8v8h-8zM1831 695h8v8h-8zM1935 695h72v8h-72zM711 703h24v8h-24zM1175 703h64v8h-64zM1367 703h16v8h-16zM1935 703h72v8h-72zM711 711h24v8h-24zM1183 711h64v8h-64zM1367 711h16v8h-16zM1767 711h8v8h-8zM1935 711h72v8h-72zM711 719h24v8h-24zM1239 719h24v8h-24zM1359 719h16v8h-16zM1935 719h72v8h-72zM711 727h24v8h-24zM1247 727h24v8h-24zM1287 727h8v8h-8zM1359 727h16v8h-16zM1759 727h8v8h-8zM1871 727h8v8h-8zM1935 727h16v8h-16zM1975 727h24v8h-24zM711 735h24v8h-24zM1263 735h48v8h-48zM1359 735h8v8h-8zM1855 735h8v8h-8zM1935 735h16v8h-16zM1975 735h24v8h-24zM711 743h24v8h-24zM1271 743h24v8h-24zM1303 743h24v8h-24zM1351 743h8v8h-8zM1727 743h8v8h-8zM1943 743h16v8h-16zM1975 743h24v8h-24zM711 751h24v8h-24zM1319 751h24v8h-24zM1703 751h8v8h-8zM1943 751h56v8h-56zM703 759h32v8h-32zM1663 759h8v8h-8zM1943 759h48v8h-48zM703 767h32v8h-32zM1343 767h16v8h-16zM1655 767h8v8h-8zM703 775h32v8h-32zM1319 775h8v8h-8zM703 783h32v8h-32zM1303 783h8v8h-8zM1399 783h56v8h-56zM1623 783h8v8h-8zM703 791h32v8h-32zM1287 791h8v8h-8zM1503 791h40v8h-40zM703 799h32v8h-32zM1271 799h8v8h-8zM703 807h32v8h-32zM703 815h32v8h-32zM703 823h32v8h-32zM1223 823h8v8h-8zM703 831h32v8h-32zM1207 831h8v8h-8zM703 839h32v8h-32zM711 847h56v8h-56zM1183 847h8v8h-8zM727 855h72v8h-72zM1143 855h16v8h-16zM735 863h88v8h-88zM1135 863h8v8h-8zM775 871h56v8h-56zM1135 871h8v8h-8zM799 879h40v8h-40zM1127 879h8v8h-8zM807 887h32v8h-32zM1103 887h16v8h-16zM815 895h32v8h-32zM1079 895h8v8h-8zM823 903h32v8h-32zM831 911h32v8h-32zM1047 911h8v8h-8zM839 919h32v8h-32zM839 927h40v8h-40zM847 935h32v8h-32zM1007 935h8v8h-8zM855 943h32v8h-32zM991 943h8v8h-8zM863 951h16v8h-16zM879 959h8v8h-8zM935 959h8v8h-8zM895 967h8v8h-8zM935 967h8v8h-8zM911 975h8v8h-8zM927 983h8v8h-8zM1535 1503h72v8h-72zM1239 1511h8v8h-8zM1423 1511h40v8h-40zM1487 1511h120v8h-120zM1223 1519h288v8h-288zM1591 1519h16v8h-16zM1215 1527h16v8h-16zM1599 1527h8v8h-8zM1207 1535h8v8h-8zM1599 1535h8v8h-8zM1199 1543h8v8h-8zM1599 1543h16v8h-16zM1183 1551h16v8h-16zM1599 1551h16v8h-16zM1175 1559h16v8h-16zM1599 1559h16v8h-16zM1167 1567h8v8h-8zM1599 1567h16v8h-16zM1175 1575h16v8h-16zM1591 1575h8v8h-8zM1191 1583h8v8h-8zM1575 1583h16v8h-16zM1127 1591h16v8h-16zM1199 1591h16v8h-16zM1559 1591h16v8h-16zM1143 1599h8v8h-8zM1215 1599h8v8h-8zM1551 1599h8v8h-8zM1151 1607h8v8h-8zM1223 1607h8v8h-8zM1255 1607h88v8h-88zM1519 1607h32v8h-32zM1231 1615h32v8h-32zM1335 1615h16v8h-16zM1479 1615h56v8h-56zM1103 1623h8v8h-8zM1159 1623h8v8h-8zM1351 1623h8v8h-8zM1471 1623h16v8h-16zM1095 1631h8v8h-8zM1167 1631h8v8h-8zM1359 1631h16v8h-16zM1471 1631h8v8h-8zM1087 1639h8v8h-8zM1175 1639h8v8h-8zM1375 1639h8v8h-8zM1463 1639h16v8h-16zM1079 1647h8v8h-8zM1183 1647h8v8h-8zM1383 1647h16v8h-16zM1463 1647h8v8h-8zM1071 1655h8v8h-8zM1391 1655h16v8h-16zM1455 1655h16v8h-16zM1063 1663h8v8h-8zM1191 1663h8v8h-8zM1407 1663h8v8h-8zM1455 1663h8v8h-8zM1055 1671h8v8h-8zM1191 1671h8v8h-8zM1415 1671h16v8h-16zM1447 1671h8v8h-8zM1055 1679h8v8h-8zM1183 1679h8v8h-8zM1423 1679h24v8h-24zM1047 1695h8v8h-8zM1047 1703h8v8h-8zM1039 1711h8v8h-8zM1039 1719h8v8h-8zM1031 1727h8v8h-8zM1023 1735h16v8h-16zM1127 1735h16v8h-16zM1015 1743h24v8h-24zM1111 1743h16v8h-16zM1015 1751h8v8h-8zM1095 1751h8v8h-8zM1007 1759h16v8h-16zM1079 1759h8v8h-8zM1007 1767h16v8h-16zM1055 1767h16v8h-16z"/>
<path fill="#73d20a" d="M1087 295h96v8h-96zM1487 295h104v8h-104zM1711 295h104v8h-104zM1087 303h96v8h-96zM1487 303h104v8h-104zM1711 303h104v8h-104zM1087 311h96v8h-96zM1487 311h104v8h-104zM1711 311h104v8h-104zM1087 319h96v8h-96zM1487 319h104v8h-104zM1711 319h104v8h-104zM1087 327h96v8h-96zM1487 327h104v8h-104zM1711 327h104v8h-104zM1087 335h96v8h-96zM1487 335h104v8h-104zM1711 335h104v8h-104zM1087 343h48v8h-48zM1535 343h48v8h-48zM1735 343h24v8h-24zM1087 351h48v8h-48zM1519 351h64v8h-64zM1735 351h24v8h-24zM1079 359h64v8h-64zM1503 359h72v8h-72zM1735 359h24v8h-24zM1079 367h64v8h-64zM1487 367h88v8h-88zM1727 367h32v8h-32zM1079 375h64v8h-64zM1471 375h96v8h-96zM1727 375h24v8h-24zM1079 383h64v8h-64zM1471 383h96v8h-96zM1727 383h24v8h-24zM487 391h48v8h-48zM1071 391h72v8h-72zM1471 391h88v8h-88zM1727 391h24v8h-24zM487 399h48v8h-48zM1071 399h72v8h-72zM1479 399h80v8h-80zM1727 399h24v8h-24zM487 407h48v8h-48zM1071 407h80v8h-80zM1479 407h72v8h-72zM1719 407h24v8h-24zM487 415h48v8h-48zM1071 415h80v8h-80zM1479 415h72v8h-72zM1719 415h24v8h-24zM487 423h48v8h-48zM1079 423h72v8h-72zM1479 423h64v8h-64zM1719 423h24v8h-24zM487 431h56v8h-56zM1079 431h72v8h-72zM1487 431h56v8h-56zM1719 431h24v8h-24zM487 439h72v8h-72zM1087 439h72v8h-72zM1487 439h48v8h-48zM1711 439h24v8h-24zM487 447h64v8h-64zM1087 447h64v8h-64zM1175 447h40v8h-40zM1487 447h48v8h-48zM1711 447h24v8h-24zM487 455h48v8h-48zM839 455h8v8h-8zM1087 455h64v8h-64zM1271 455h24v8h-24zM1487 455h48v8h-48zM1711 455h24v8h-24zM487 463h48v8h-48zM839 463h8v8h-8zM1087 463h64v8h-64zM1287 463h8v8h-8zM1495 463h32v8h-32zM1711 463h24v8h-24zM487 471h48v8h-48zM1087 471h64v8h-64zM1287 471h16v8h-16zM1495 471h32v8h-32zM1711 471h24v8h-24zM487 479h48v8h-48zM839 479h8v8h-8zM863 479h8v8h-8zM1087 479h64v8h-64zM1287 479h32v8h-32zM1495 479h32v8h-32zM1711 479h24v8h-24zM487 487h48v8h-48zM1087 487h64v8h-64zM1295 487h48v8h-48zM1495 487h32v8h-32zM1711 487h24v8h-24zM1087 495h64v8h-64zM1327 495h24v8h-24zM1495 495h24v8h-24zM1703 495h32v8h-32zM1079 503h72v8h-72zM1343 503h16v8h-16zM1487 503h32v8h-32zM1679 503h56v8h-56zM1071 511h80v8h-80zM1351 511h24v8h-24zM1487 511h32v8h-32zM1663 511h72v8h-72zM1063 519h88v8h-88zM1367 519h16v8h-16zM1487 519h24v8h-24zM1655 519h72v8h-72zM1055 527h96v8h-96zM1375 527h16v8h-16zM1487 527h24v8h-24zM1655 527h48v8h-48zM1047 535h104v8h-104zM1383 535h16v8h-16zM1479 535h32v8h-32zM1647 535h32v8h-32zM839 543h8v8h-8zM1039 543h112v8h-112zM1399 543h16v8h-16zM1471 543h32v8h-32zM1647 543h16v8h-16zM927 551h8v8h-8zM1039 551h112v8h-112zM1439 551h32v8h-32zM1647 551h16v8h-16zM1039 559h112v8h-112zM1647 559h16v8h-16zM1039 567h112v8h-112zM1631 567h32v8h-32zM839 575h8v8h-8zM903 575h8v8h-8zM927 575h8v8h-8zM1039 575h112v8h-112zM1623 575h40v8h-40zM903 583h8v8h-8zM927 583h8v8h-8zM1039 583h112v8h-112zM1607 583h56v8h-56zM1039 591h112v8h-112zM1599 591h56v8h-56zM839 599h8v8h-8zM863 599h8v8h-8zM1039 599h112v8h-112zM1591 599h64v8h-64zM839 607h8v8h-8zM863 607h8v8h-8zM927 607h8v8h-8zM991 607h16v8h-16zM1039 607h120v8h-120zM1583 607h48v8h-48zM1647 607h8v8h-8zM1039 615h120v8h-120zM1567 615h56v8h-56zM1039 623h120v8h-120zM1519 623h88v8h-88zM839 631h8v8h-8zM1039 631h120v8h-120zM1511 631h56v8h-56zM927 639h8v8h-8zM1039 639h200v8h-200zM1495 639h32v8h-32zM1039 647h120v8h-120zM1487 647h24v8h-24zM1039 655h120v8h-120zM1471 655h32v8h-32zM1047 663h112v8h-112zM1463 663h24v8h-24zM1047 671h112v8h-112zM1447 671h32v8h-32zM1911 671h64v8h-64zM1047 679h112v8h-112zM1431 679h32v8h-32zM1791 679h88v8h-88zM1055 687h104v8h-104zM1423 687h24v8h-24zM1055 695h104v8h-104zM1415 695h24v8h-24zM1535 695h8v8h-8zM1055 703h104v8h-104zM1399 703h24v8h-24zM1535 703h16v8h-16zM1063 711h96v8h-96zM1399 711h16v8h-16zM1527 711h32v8h-32zM1759 711h8v8h-8zM1063 719h96v8h-96zM1391 719h16v8h-16zM1527 719h40v8h-40zM1063 727h112v8h-112zM1391 727h16v8h-16zM1527 727h48v8h-48zM1751 727h8v8h-8zM1071 735h168v8h-168zM1383 735h16v8h-16zM1519 735h64v8h-64zM1735 735h16v8h-16zM1071 743h64v8h-64zM1143 743h104v8h-104zM1375 743h16v8h-16zM1519 743h72v8h-72zM1711 743h8v8h-8zM1071 751h192v8h-192zM1359 751h16v8h-16zM1511 751h80v8h-80zM1671 751h8v8h-8zM1687 751h8v8h-8zM1079 759h192v8h-192zM1303 759h16v8h-16zM1335 759h16v8h-16zM1503 759h88v8h-88zM1079 767h256v8h-256zM1367 767h8v8h-8zM1503 767h88v8h-88zM1079 775h240v8h-240zM1383 775h16v8h-16zM1495 775h104v8h-104zM1631 775h8v8h-8zM1087 783h216v8h-216zM1471 783h128v8h-128zM1607 783h8v8h-8zM1087 791h192v8h-192zM1079 799h184v8h-184zM1071 807h176v8h-176zM1063 815h168v8h-168zM1055 823h160v8h-160zM1047 831h160v8h-160zM1039 839h152v8h-152zM839 847h296v8h-296zM1151 847h32v8h-32zM847 855h288v8h-288zM855 863h280v8h-280zM863 871h264v8h-264zM871 879h256v8h-256zM879 887h216v8h-216zM879 895h192v8h-192zM887 903h168v8h-168zM895 911h152v8h-152zM903 919h128v8h-128zM911 927h104v8h-104zM919 935h88v8h-88zM919 943h16v8h-16zM911 951h24v8h-24zM911 959h24v8h-24zM903 967h32v8h-32zM919 975h16v8h-16zM1527 1527h56v8h-56zM1231 1535h72v8h-72zM1375 1535h208v8h-208zM1223 1543h8v8h-8zM1287 1543h104v8h-104zM1567 1543h16v8h-16zM1207 1551h16v8h-16zM1567 1551h16v8h-16zM1199 1559h16v8h-16zM1575 1559h8v8h-8zM1191 1567h8v8h-8zM1575 1567h8v8h-8zM1199 1575h16v8h-16zM1559 1575h16v8h-16zM1215 1583h8v8h-8zM1543 1583h16v8h-16zM1223 1591h16v8h-16zM1247 1591h96v8h-96zM1487 1591h64v8h-64zM1239 1599h16v8h-16zM1343 1599h16v8h-16zM1455 1599h48v8h-48zM1127 1607h16v8h-16zM1351 1607h16v8h-16zM1455 1607h8v8h-8zM1119 1615h8v8h-8zM1143 1615h8v8h-8zM1367 1615h8v8h-8zM1447 1615h16v8h-16zM1111 1623h8v8h-8zM1151 1623h8v8h-8zM1375 1623h16v8h-16zM1447 1623h8v8h-8zM1103 1631h8v8h-8zM1159 1631h8v8h-8zM1383 1631h16v8h-16zM1439 1631h16v8h-16zM1095 1639h8v8h-8zM1399 1639h24v8h-24zM1439 1639h8v8h-8zM1167 1647h8v8h-8zM1407 1647h40v8h-40zM1175 1655h8v8h-8zM1423 1655h16v8h-16zM1183 1663h8v8h-8zM1431 1663h8v8h-8zM1071 1671h8v8h-8zM1183 1671h8v8h-8zM1175 1679h8v8h-8zM1063 1687h8v8h-8zM1167 1687h8v8h-8zM1063 1695h8v8h-8zM1159 1695h8v8h-8zM1055 1703h8v8h-8zM1151 1703h8v8h-8zM1055 1711h8v8h-8zM1143 1711h8v8h-8zM1135 1719h8v8h-8zM1047 1727h8v8h-8zM1119 1727h16v8h-16zM1047 1735h8v8h-8zM1103 1735h16v8h-16zM1087 1743h8v8h-8zM1039 1751h8v8h-8zM1063 1751h16v8h-16zM1039 1759h24v8h-24zM1031 1767h16v8h-16zM983 1775h104v8h-104zM983 1783h104v8h-104zM983 1791h104v8h-104zM983 1799h104v8h-104zM983 1807h104v8h-104zM983 1815h104v8h-104z"/>
<path fill="#3cc314" d="M1183 295h104v8h-104zM1183 303h104v8h-104zM1183 311h104v8h-104zM1183 319h104v8h-104zM1183 327h104v8h-104zM1183 335h104v8h-104zM1207 343h128v8h-128zM1207 351h136v8h-136zM1207 359h136v8h-136zM1207 367h144v8h-144zM1207 375h144v8h-144zM1215 383h144v8h-144zM1215 391h144v8h-144zM1223 399h144v8h-144zM1223 407h144v8h-144zM1223 415h152v8h-152zM1231 423h144v8h-144zM1231 431h152v8h-152zM1239 439h144v8h-144zM1327 447h64v8h-64zM1335 455h56v8h-56zM1343 463h48v8h-48zM1359 471h32v8h-32zM1367 479h32v8h-32zM1375 487h24v8h-24zM1391 495h8v8h-8zM1455 719h8v8h-8zM1447 727h8v8h-8zM1431 735h24v8h-24zM1423 743h32v8h-32zM1239 1559h16v8h-16zM1423 1559h48v8h-48zM1223 1567h320v8h-320zM1367 1575h88v8h-88zM1399 1583h40v8h-40zM1431 1591h8v8h-8zM1135 1623h8v8h-8zM1127 1631h8v8h-8zM1119 1639h8v8h-8zM1111 1647h8v8h-8zM1151 1647h8v8h-8zM1103 1655h8v8h-8zM1159 1655h8v8h-8zM1095 1663h8v8h-8zM1167 1663h8v8h-8zM1087 1671h8v8h-8zM1167 1671h8v8h-8zM1087 1679h8v8h-8zM1159 1679h8v8h-8zM1151 1687h8v8h-8zM1079 1695h8v8h-8zM1143 1695h8v8h-8zM1079 1703h8v8h-8zM1135 1703h8v8h-8zM1071 1711h8v8h-8zM1119 1711h8v8h-8zM1071 1719h8v8h-8zM1103 1719h8v8h-8zM1071 1727h24v8h-24zM1063 1735h16v8h-16z"/>
<path fill="#50c80f" d="M1287 295h104v8h-104zM1287 303h104v8h-104zM1287 311h104v8h-104zM1287 319h104v8h-104zM1287 327h104v8h-104zM1287 335h104v8h-104zM1167 343h40v8h-40zM1335 343h72v8h-72zM1175 351h32v8h-32zM1343 351h64v8h-64zM1175 359h32v8h-32zM1343 359h64v8h-64zM1175 367h32v8h-32zM1351 367h64v8h-64zM1175 375h32v8h-32zM1351 375h64v8h-64zM1175 383h40v8h-40zM1359 383h56v8h-56zM1175 391h40v8h-40zM1359 391h64v8h-64zM1183 399h40v8h-40zM1367 399h56v8h-56zM1183 407h40v8h-40zM1367 407h56v8h-56zM1183 415h40v8h-40zM1375 415h56v8h-56zM1191 423h40v8h-40zM1375 423h56v8h-56zM1191 431h40v8h-40zM1383 431h48v8h-48zM1199 439h40v8h-40zM1383 439h56v8h-56zM1279 447h48v8h-48zM1391 447h48v8h-48zM1311 455h24v8h-24zM1391 455h48v8h-48zM1311 463h32v8h-32zM1391 463h48v8h-48zM1335 471h24v8h-24zM1391 471h56v8h-56zM1351 479h16v8h-16zM1399 479h48v8h-48zM1359 487h16v8h-16zM1399 487h48v8h-48zM1367 495h24v8h-24zM1399 495h48v8h-48zM1383 503h72v8h-72zM1855 503h8v8h-8zM1927 503h8v8h-8zM1391 511h64v8h-64zM1775 511h8v8h-8zM1799 511h8v8h-8zM1823 511h8v8h-8zM1919 511h8v8h-8zM1399 519h56v8h-56zM1407 527h48v8h-48zM1423 535h32v8h-32zM1775 535h8v8h-8zM1791 535h8v8h-8zM1823 535h8v8h-8zM1847 535h8v8h-8zM1919 535h8v8h-8zM1951 535h8v8h-8zM1439 543h8v8h-8zM1503 671h8v8h-8zM1495 679h16v8h-16zM1479 687h24v8h-24zM1463 695h40v8h-40zM1455 703h48v8h-48zM1439 711h56v8h-56zM1431 719h24v8h-24zM1463 719h32v8h-32zM1423 727h24v8h-24zM1455 727h40v8h-40zM1415 735h16v8h-16zM1455 735h32v8h-32zM1407 743h16v8h-16zM1455 743h32v8h-32zM1391 751h88v8h-88zM1399 759h72v8h-72zM1231 1551h40v8h-40zM1407 1551h96v8h-96zM1527 1551h32v8h-32zM1223 1559h16v8h-16zM1255 1559h168v8h-168zM1471 1559h88v8h-88zM1215 1567h8v8h-8zM1543 1567h16v8h-16zM1223 1575h144v8h-144zM1455 1575h88v8h-88zM1239 1583h8v8h-8zM1343 1583h56v8h-56zM1439 1583h32v8h-32zM1359 1591h72v8h-72zM1439 1591h8v8h-8zM1367 1599h80v8h-80zM1399 1607h40v8h-40zM1135 1615h8v8h-8zM1431 1615h8v8h-8zM1127 1623h8v8h-8zM1119 1631h8v8h-8zM1143 1631h8v8h-8zM1111 1639h8v8h-8zM1151 1639h8v8h-8zM1103 1647h8v8h-8zM1159 1647h8v8h-8zM1095 1655h8v8h-8zM1167 1655h8v8h-8zM1087 1663h8v8h-8zM1079 1679h8v8h-8zM1079 1687h8v8h-8zM1071 1695h8v8h-8zM1151 1695h8v8h-8zM1071 1703h8v8h-8zM1143 1703h8v8h-8zM1127 1711h16v8h-16zM1063 1719h8v8h-8zM1111 1719h16v8h-16zM1063 1727h8v8h-8zM1095 1727h16v8h-16zM1079 1735h8v8h-8zM1055 1743h16v8h-16z"/>
<path fill="#5fcd0f" d="M1391 295h96v8h-96zM1815 295h200v8h-200zM1391 303h96v8h-96zM1815 303h200v8h-200zM1391 311h96v8h-96zM1815 311h200v8h-200zM1391 319h96v8h-96zM1815 319h200v8h-200zM1391 327h96v8h-96zM1815 327h200v8h-200zM1391 335h96v8h-96zM1815 335h200v8h-200zM1135 343h32v8h-32zM1407 343h128v8h-128zM1759 343h256v8h-256zM1135 351h40v8h-40zM1407 351h112v8h-112zM1759 351h256v8h-256zM1143 359h32v8h-32zM1407 359h96v8h-96zM1759 359h256v8h-256zM1143 367h32v8h-32zM1415 367h72v8h-72zM1759 367h256v8h-256zM1143 375h32v8h-32zM1415 375h56v8h-56zM1751 375h264v8h-264zM1143 383h32v8h-32zM1415 383h56v8h-56zM1751 383h264v8h-264zM1143 391h32v8h-32zM1423 391h48v8h-48zM1751 391h264v8h-264zM1143 399h40v8h-40zM1423 399h56v8h-56zM1751 399h264v8h-264zM1151 407h32v8h-32zM1423 407h56v8h-56zM1743 407h272v8h-272zM1151 415h32v8h-32zM1431 415h48v8h-48zM1743 415h272v8h-272zM1151 423h40v8h-40zM1431 423h48v8h-48zM1743 423h272v8h-272zM1151 431h40v8h-40zM1431 431h56v8h-56zM1743 431h272v8h-272zM1159 439h40v8h-40zM1439 439h48v8h-48zM1735 439h280v8h-280zM1215 447h64v8h-64zM1439 447h48v8h-48zM1735 447h280v8h-280zM1295 455h16v8h-16zM1439 455h48v8h-48zM1735 455h280v8h-280zM1295 463h16v8h-16zM1439 463h56v8h-56zM1735 463h280v8h-280zM1303 471h32v8h-32zM1447 471h48v8h-48zM1735 471h280v8h-280zM1319 479h32v8h-32zM1447 479h48v8h-48zM1735 479h280v8h-280zM1343 487h16v8h-16zM1447 487h48v8h-48zM1735 487h280v8h-280zM1351 495h16v8h-16zM1447 495h48v8h-48zM1735 495h280v8h-280zM1359 503h24v8h-24zM1455 503h32v8h-32zM1735 503h120v8h-120zM1863 503h64v8h-64zM1935 503h80v8h-80zM1375 511h16v8h-16zM1455 511h32v8h-32zM1735 511h40v8h-40zM1783 511h16v8h-16zM1807 511h16v8h-16zM1831 511h88v8h-88zM1927 511h88v8h-88zM1383 519h16v8h-16zM1455 519h32v8h-32zM1727 519h288v8h-288zM1391 527h16v8h-16zM1455 527h32v8h-32zM1703 527h312v8h-312zM1399 535h24v8h-24zM1455 535h24v8h-24zM1679 535h96v8h-96zM1783 535h8v8h-8zM1799 535h24v8h-24zM1831 535h16v8h-16zM1855 535h64v8h-64zM1927 535h24v8h-24zM1959 535h56v8h-56zM1415 543h24v8h-24zM1447 543h24v8h-24zM1663 543h352v8h-352zM1663 551h352v8h-352zM1663 559h352v8h-352zM1663 567h352v8h-352zM1663 575h352v8h-352zM1663 583h352v8h-352zM1655 591h360v8h-360zM1655 599h360v8h-360zM1631 607h16v8h-16zM1655 607h360v8h-360zM1623 615h392v8h-392zM1607 623h408v8h-408zM1567 631h448v8h-448zM1527 639h488v8h-488zM1511 647h504v8h-504zM1503 655h512v8h-512zM1487 663h528v8h-528zM1479 671h24v8h-24zM1511 671h400v8h-400zM1463 679h32v8h-32zM1511 679h280v8h-280zM1447 687h32v8h-32zM1503 687h272v8h-272zM1439 695h24v8h-24zM1503 695h32v8h-32zM1543 695h232v8h-232zM1423 703h32v8h-32zM1503 703h32v8h-32zM1551 703h216v8h-216zM1415 711h24v8h-24zM1495 711h32v8h-32zM1559 711h200v8h-200zM1407 719h24v8h-24zM1495 719h32v8h-32zM1567 719h192v8h-192zM1407 727h16v8h-16zM1495 727h32v8h-32zM1575 727h176v8h-176zM1399 735h16v8h-16zM1487 735h32v8h-32zM1583 735h152v8h-152zM1135 743h8v8h-8zM1391 743h16v8h-16zM1487 743h32v8h-32zM1591 743h120v8h-120zM1375 751h16v8h-16zM1479 751h32v8h-32zM1591 751h72v8h-72zM1679 751h8v8h-8zM1351 759h48v8h-48zM1471 759h32v8h-32zM1591 759h64v8h-64zM1375 767h128v8h-128zM1591 767h56v8h-56zM1399 775h96v8h-96zM1599 775h32v8h-32zM1599 783h8v8h-8zM1231 1543h56v8h-56zM1391 1543h176v8h-176zM1223 1551h8v8h-8zM1271 1551h136v8h-136zM1503 1551h24v8h-24zM1559 1551h8v8h-8zM1215 1559h8v8h-8zM1559 1559h16v8h-16zM1199 1567h16v8h-16zM1559 1567h16v8h-16zM1215 1575h8v8h-8zM1543 1575h16v8h-16zM1223 1583h16v8h-16zM1247 1583h96v8h-96zM1471 1583h72v8h-72zM1239 1591h8v8h-8zM1343 1591h16v8h-16zM1447 1591h40v8h-40zM1359 1599h8v8h-8zM1447 1599h8v8h-8zM1367 1607h32v8h-32zM1439 1607h16v8h-16zM1127 1615h8v8h-8zM1375 1615h56v8h-56zM1439 1615h8v8h-8zM1119 1623h8v8h-8zM1143 1623h8v8h-8zM1391 1623h56v8h-56zM1111 1631h8v8h-8zM1151 1631h8v8h-8zM1399 1631h40v8h-40zM1103 1639h8v8h-8zM1159 1639h8v8h-8zM1423 1639h16v8h-16zM1095 1647h8v8h-8zM1087 1655h8v8h-8zM1079 1663h8v8h-8zM1175 1663h8v8h-8zM1079 1671h8v8h-8zM1175 1671h8v8h-8zM1071 1679h8v8h-8zM1167 1679h8v8h-8zM1071 1687h8v8h-8zM1159 1687h8v8h-8zM1063 1703h8v8h-8zM1063 1711h8v8h-8zM1055 1719h8v8h-8zM1127 1719h8v8h-8zM1055 1727h8v8h-8zM1111 1727h8v8h-8zM1055 1735h8v8h-8zM1087 1735h16v8h-16zM1047 1743h8v8h-8zM1071 1743h16v8h-16zM1047 1751h16v8h-16z"/>
<path fill="#ebfa00" d="M487 599h48v8h-48zM487 607h48v8h-48zM487 615h48v8h-48zM487 623h48v8h-48zM487 631h48v8h-48zM487 639h48v8h-48zM487 647h48v8h-48zM487 655h48v8h-48zM487 663h48v8h-48zM487 671h48v8h-48zM487 679h48v8h-48zM487 687h48v8h-48zM1735 751h24v8h-24zM1711 759h48v8h-48zM1679 767h64v8h-64zM1663 775h88v8h-88zM1327 783h48v8h-48zM1647 783h120v8h-120zM1311 791h88v8h-88zM1631 791h144v8h-144zM1295 799h208v8h-208zM1607 799h408v8h-408zM1279 807h736v8h-736zM1255 815h760v8h-760zM1247 823h768v8h-768zM1239 831h776v8h-776zM1215 839h800v8h-800zM1199 847h32v8h-32zM1871 847h120v8h-120zM1999 847h16v8h-16zM1191 855h32v8h-32zM1879 855h112v8h-112zM2007 855h8v8h-8zM1175 863h48v8h-48zM1887 863h96v8h-96zM2007 863h8v8h-8zM535 871h24v8h-24zM1159 871h56v8h-56zM1895 871h80v8h-80zM2007 871h8v8h-8zM535 879h56v8h-56zM1151 879h56v8h-56zM1903 879h72v8h-72zM2007 879h8v8h-8zM535 887h88v8h-88zM1135 887h56v8h-56zM1911 887h56v8h-56zM1999 887h16v8h-16zM535 895h120v8h-120zM1119 895h32v8h-32zM1999 895h8v8h-8zM535 903h152v8h-152zM1087 903h48v8h-48zM1999 903h8v8h-8zM535 911h176v8h-176zM1063 911h56v8h-56zM551 919h168v8h-168zM1055 919h32v8h-32zM583 927h152v8h-152zM1047 927h32v8h-32zM615 935h136v8h-136zM1023 935h8v8h-8zM1039 935h32v8h-32zM639 943h112v8h-112zM1015 943h48v8h-48zM639 951h112v8h-112zM999 951h32v8h-32zM1039 951h16v8h-16zM647 959h96v8h-96zM951 959h64v8h-64zM647 967h96v8h-96zM943 967h48v8h-48zM647 975h88v8h-88zM943 975h32v8h-32zM655 983h56v8h-56zM935 983h24v8h-24zM655 991h32v8h-32zM911 991h16v8h-16zM935 991h16v8h-16zM655 999h32v8h-32zM911 999h24v8h-24zM663 1007h32v8h-32zM911 1007h16v8h-16zM663 1015h32v8h-32zM903 1015h24v8h-24zM663 1023h32v8h-32zM903 1023h16v8h-16zM671 1031h32v8h-32zM895 1031h16v8h-16zM671 1039h32v8h-32zM887 1039h24v8h-24zM671 1047h32v8h-32zM879 1047h16v8h-16zM663 1055h32v8h-32zM863 1055h24v8h-24zM663 1063h32v8h-32zM727 1063h56v8h-56zM855 1063h16v8h-16zM655 1071h32v8h-32zM719 1071h104v8h-104zM839 1071h24v8h-24zM655 1079h32v8h-32zM711 1079h16v8h-16zM791 1079h56v8h-56zM647 1087h32v8h-32zM695 1087h24v8h-24zM831 1087h8v8h-8zM487 1095h48v8h-48zM647 1095h32v8h-32zM687 1095h24v8h-24zM487 1103h48v8h-48zM639 1103h32v8h-32zM679 1103h16v8h-16zM487 1111h48v8h-48zM559 1111h128v8h-128zM487 1119h48v8h-48zM543 1119h136v8h-136zM487 1127h176v8h-176zM487 1135h168v8h-168zM487 1143h160v8h-160zM487 1151h160v8h-160zM1527 1151h8v8h-8zM487 1159h48v8h-48zM487 1167h48v8h-48zM487 1175h48v8h-48zM487 1183h48v8h-48zM1527 1207h8v8h-8zM1439 1239h8v8h-8zM1439 1247h104v8h-104zM1447 1255h96v8h-96zM1447 1263h104v8h-104zM1455 1271h96v8h-96zM1455 1279h104v8h-104zM1463 1287h96v8h-96zM1463 1295h104v8h-104zM1471 1303h96v8h-96zM1471 1311h104v8h-104zM1479 1319h96v8h-96zM1479 1327h104v8h-104zM1487 1335h96v8h-96zM1487 1343h96v8h-96zM1495 1351h80v8h-80zM1495 1359h64v8h-64zM1503 1367h48v8h-48zM1631 1399h8v8h-8zM1623 1407h24v8h-24zM1623 1415h24v8h-24zM1615 1423h32v8h-32zM1607 1431h40v8h-40zM1607 1439h32v8h-32zM1591 1447h56v8h-56zM1719 1447h32v8h-32zM1535 1455h96v8h-96zM1639 1455h8v8h-8zM1671 1455h64v8h-64zM1127 1463h40v8h-40zM1487 1463h112v8h-112zM1639 1463h24v8h-24zM1687 1463h32v8h-32zM1103 1471h88v8h-88zM1447 1471h64v8h-64zM1679 1471h32v8h-32zM1095 1479h104v8h-104zM1231 1479h240v8h-240zM1679 1479h32v8h-32zM1087 1487h120v8h-120zM1215 1487h16v8h-16zM1679 1487h32v8h-32zM1087 1495h136v8h-136zM1679 1495h32v8h-32zM1079 1503h128v8h-128zM1687 1503h16v8h-16zM1079 1511h120v8h-120zM1687 1511h16v8h-16zM1079 1519h112v8h-112zM1687 1519h24v8h-24zM1079 1527h48v8h-48zM1143 1527h40v8h-40zM1695 1527h16v8h-16zM1087 1535h40v8h-40zM1151 1535h16v8h-16zM1695 1535h16v8h-16zM1087 1543h32v8h-32zM1703 1543h16v8h-16zM1087 1551h32v8h-32zM1703 1551h16v8h-16zM1095 1559h24v8h-24zM1703 1559h24v8h-24zM1095 1567h24v8h-24zM1711 1567h16v8h-16zM1087 1575h32v8h-32zM1703 1575h16v8h-16zM1079 1583h32v8h-32zM1695 1583h24v8h-24zM1079 1591h24v8h-24zM1159 1591h8v8h-8zM1695 1591h16v8h-16zM1071 1599h32v8h-32zM1167 1599h8v8h-8zM1687 1599h16v8h-16zM1063 1607h32v8h-32zM1175 1607h16v8h-16zM1591 1607h48v8h-48zM1679 1607h24v8h-24zM1063 1615h24v8h-24zM1175 1615h8v8h-8zM1191 1615h8v8h-8zM1583 1615h64v8h-64zM1679 1615h16v8h-16zM1055 1623h24v8h-24zM1183 1623h8v8h-8zM1199 1623h8v8h-8zM1567 1623h16v8h-16zM1639 1623h8v8h-8zM1671 1623h16v8h-16zM1047 1631h24v8h-24zM1191 1631h8v8h-8zM1207 1631h16v8h-16zM1551 1631h16v8h-16zM1639 1631h16v8h-16zM1671 1631h16v8h-16zM1039 1639h24v8h-24zM1199 1639h8v8h-8zM1223 1639h8v8h-8zM1543 1639h8v8h-8zM1647 1639h32v8h-32zM1039 1647h16v8h-16zM1231 1647h112v8h-112zM1511 1647h32v8h-32zM1655 1647h24v8h-24zM1023 1655h32v8h-32zM1207 1655h8v8h-8zM1343 1655h8v8h-8zM1503 1655h16v8h-16zM1655 1655h16v8h-16zM1023 1663h24v8h-24zM1215 1663h8v8h-8zM1351 1663h16v8h-16zM1503 1663h8v8h-8zM1015 1671h24v8h-24zM1215 1671h8v8h-8zM1359 1671h16v8h-16zM1495 1671h16v8h-16zM1007 1679h24v8h-24zM1207 1679h8v8h-8zM1375 1679h8v8h-8zM1487 1679h8v8h-8zM991 1687h32v8h-32zM1199 1687h8v8h-8zM1383 1687h16v8h-16zM1479 1687h8v8h-8zM983 1695h24v8h-24zM1191 1695h8v8h-8zM1391 1695h16v8h-16zM1463 1695h16v8h-16zM975 1703h24v8h-24zM1183 1703h8v8h-8zM1399 1703h16v8h-16zM1455 1703h16v8h-16zM975 1711h8v8h-8zM1175 1711h8v8h-8zM1415 1711h8v8h-8zM1447 1711h16v8h-16zM967 1719h16v8h-16zM1423 1719h24v8h-24zM967 1727h16v8h-16zM1431 1727h8v8h-8zM967 1735h16v8h-16zM967 1743h8v8h-8zM967 1751h8v8h-8zM967 1759h8v8h-8zM1127 1759h8v8h-8zM967 1767h8v8h-8zM1111 1767h16v8h-16z"/>
<path fill="#d7f000" d="M535 599h8v8h-8zM535 607h8v8h-8zM535 615h16v8h-16zM1303 615h64v8h-64zM535 623h24v8h-24zM1295 623h80v8h-80zM535 631h24v8h-24zM1295 631h80v8h-80zM535 639h32v8h-32zM1255 639h8v8h-8zM1295 639h80v8h-80zM535 647h32v8h-32zM1247 647h16v8h-16zM1287 647h88v8h-88zM535 655h40v8h-40zM1231 655h32v8h-32zM1287 655h80v8h-80zM535 663h48v8h-48zM1231 663h32v8h-32zM1279 663h80v8h-80zM535 671h56v8h-56zM1247 671h16v8h-16zM1279 671h72v8h-72zM535 679h64v8h-64zM1255 679h16v8h-16zM1279 679h40v8h-40zM1335 679h16v8h-16zM535 687h72v8h-72zM1263 687h32v8h-32zM487 695h128v8h-128zM487 703h128v8h-128zM487 711h136v8h-136zM487 719h144v8h-144zM487 727h168v8h-168zM487 735h168v8h-168zM487 743h168v8h-168zM487 751h160v8h-160zM1727 751h8v8h-8zM1759 751h8v8h-8zM487 759h160v8h-160zM1703 759h8v8h-8zM1759 759h8v8h-8zM487 767h160v8h-160zM1671 767h8v8h-8zM1743 767h24v8h-24zM487 775h160v8h-160zM1343 775h16v8h-16zM1751 775h16v8h-16zM487 783h160v8h-160zM1319 783h8v8h-8zM1767 783h8v8h-8zM487 791h160v8h-160zM1303 791h8v8h-8zM1399 791h56v8h-56zM1623 791h8v8h-8zM1775 791h240v8h-240zM487 799h160v8h-160zM1287 799h8v8h-8zM1503 799h40v8h-40zM487 807h152v8h-152zM1271 807h8v8h-8zM487 815h152v8h-152zM1247 815h8v8h-8zM487 823h152v8h-152zM1239 823h8v8h-8zM487 831h152v8h-152zM487 839h152v8h-152zM1207 839h8v8h-8zM487 847h160v8h-160zM487 855h168v8h-168zM1183 855h8v8h-8zM487 863h184v8h-184zM487 871h48v8h-48zM559 871h120v8h-120zM1151 871h8v8h-8zM487 879h48v8h-48zM591 879h104v8h-104zM1143 879h8v8h-8zM487 887h48v8h-48zM623 887h80v8h-80zM1127 887h8v8h-8zM655 895h64v8h-64zM1103 895h16v8h-16zM687 903h40v8h-40zM1079 903h8v8h-8zM711 911h40v8h-40zM719 919h48v8h-48zM735 927h40v8h-40zM751 935h32v8h-32zM1031 935h8v8h-8zM751 943h32v8h-32zM1007 943h8v8h-8zM751 951h32v8h-32zM991 951h8v8h-8zM743 959h32v8h-32zM943 959h8v8h-8zM743 967h32v8h-32zM879 967h8v8h-8zM735 975h32v8h-32zM879 975h24v8h-24zM711 983h56v8h-56zM879 983h40v8h-40zM687 991h72v8h-72zM879 991h32v8h-32zM927 991h8v8h-8zM687 999h72v8h-72zM879 999h32v8h-32zM695 1007h56v8h-56zM879 1007h32v8h-32zM695 1015h56v8h-56zM879 1015h24v8h-24zM695 1023h48v8h-48zM879 1023h24v8h-24zM703 1031h40v8h-40zM871 1031h24v8h-24zM703 1039h32v8h-32zM871 1039h16v8h-16zM703 1047h64v8h-64zM855 1047h24v8h-24zM695 1055h112v8h-112zM847 1055h16v8h-16zM695 1063h32v8h-32zM783 1063h72v8h-72zM687 1071h32v8h-32zM823 1071h16v8h-16zM687 1079h24v8h-24zM679 1087h16v8h-16zM679 1095h8v8h-8zM671 1103h8v8h-8zM1631 1455h8v8h-8zM1599 1463h40v8h-40zM1663 1463h24v8h-24zM1511 1471h168v8h-168zM1471 1479h64v8h-64zM1631 1479h48v8h-48zM1231 1487h256v8h-256zM1631 1487h48v8h-48zM1223 1495h8v8h-8zM1631 1495h8v8h-8zM1663 1495h16v8h-16zM1207 1503h16v8h-16zM1631 1503h8v8h-8zM1663 1503h24v8h-24zM1199 1511h16v8h-16zM1671 1511h16v8h-16zM1191 1519h8v8h-8zM1671 1519h16v8h-16zM1127 1527h16v8h-16zM1183 1527h8v8h-8zM1679 1527h16v8h-16zM1127 1535h24v8h-24zM1167 1535h16v8h-16zM1679 1535h16v8h-16zM1119 1543h56v8h-56zM1679 1543h24v8h-24zM1119 1551h40v8h-40zM1687 1551h16v8h-16zM1119 1559h32v8h-32zM1687 1559h16v8h-16zM1119 1567h24v8h-24zM1687 1567h24v8h-24zM1119 1575h16v8h-16zM1143 1575h8v8h-8zM1687 1575h16v8h-16zM1111 1583h16v8h-16zM1151 1583h16v8h-16zM1615 1583h24v8h-24zM1679 1583h16v8h-16zM1103 1591h16v8h-16zM1151 1591h8v8h-8zM1167 1591h8v8h-8zM1607 1591h40v8h-40zM1671 1591h24v8h-24zM1103 1599h8v8h-8zM1159 1599h8v8h-8zM1175 1599h16v8h-16zM1591 1599h64v8h-64zM1671 1599h16v8h-16zM1095 1607h8v8h-8zM1167 1607h8v8h-8zM1191 1607h8v8h-8zM1575 1607h16v8h-16zM1639 1607h40v8h-40zM1087 1615h8v8h-8zM1199 1615h8v8h-8zM1567 1615h16v8h-16zM1647 1615h32v8h-32zM1079 1623h8v8h-8zM1207 1623h16v8h-16zM1551 1623h16v8h-16zM1647 1623h24v8h-24zM1071 1631h8v8h-8zM1183 1631h8v8h-8zM1223 1631h8v8h-8zM1271 1631h8v8h-8zM1535 1631h16v8h-16zM1655 1631h16v8h-16zM1063 1639h8v8h-8zM1191 1639h8v8h-8zM1231 1639h112v8h-112zM1503 1639h40v8h-40zM1055 1647h8v8h-8zM1199 1647h8v8h-8zM1343 1647h16v8h-16zM1495 1647h16v8h-16zM1351 1655h16v8h-16zM1495 1655h8v8h-8zM1367 1663h8v8h-8zM1487 1663h16v8h-16zM1039 1671h8v8h-8zM1375 1671h16v8h-16zM1479 1671h16v8h-16zM1031 1679h8v8h-8zM1383 1679h16v8h-16zM1471 1679h16v8h-16zM1023 1687h16v8h-16zM1399 1687h8v8h-8zM1463 1687h16v8h-16zM1007 1695h24v8h-24zM1407 1695h16v8h-16zM1455 1695h8v8h-8zM999 1703h24v8h-24zM1415 1703h16v8h-16zM1447 1703h8v8h-8zM983 1711h24v8h-24zM1423 1711h24v8h-24zM983 1719h16v8h-16zM1167 1719h8v8h-8zM983 1727h8v8h-8zM1159 1727h8v8h-8zM983 1735h8v8h-8zM1151 1735h8v8h-8zM975 1743h16v8h-16zM1143 1743h8v8h-8zM975 1751h16v8h-16zM1135 1751h8v8h-8zM975 1759h16v8h-16zM1119 1759h8v8h-8zM975 1767h16v8h-16zM1095 1767h16v8h-16z"/>
<path fill="#fffc00" d="M1231 847h640v8h-640zM1991 847h8v8h-8zM1223 855h656v8h-656zM1991 855h16v8h-16zM1223 863h664v8h-664zM1983 863h24v8h-24zM1215 871h680v8h-680zM1975 871h32v8h-32zM1207 879h696v8h-696zM1975 879h32v8h-32zM1191 887h720v8h-720zM1967 887h32v8h-32zM487 895h48v8h-48zM1151 895h848v8h-848zM2007 895h8v8h-8zM487 903h48v8h-48zM1135 903h864v8h-864zM2007 903h8v8h-8zM487 911h48v8h-48zM1119 911h896v8h-896zM487 919h64v8h-64zM1087 919h928v8h-928zM487 927h96v8h-96zM1079 927h936v8h-936zM487 935h128v8h-128zM1071 935h944v8h-944zM487 943h152v8h-152zM1063 943h952v8h-952zM487 951h152v8h-152zM1031 951h8v8h-8zM1055 951h960v8h-960zM487 959h160v8h-160zM1015 959h1000v8h-1000zM487 967h160v8h-160zM991 967h1024v8h-1024zM487 975h160v8h-160zM975 975h1040v8h-1040zM487 983h48v8h-48zM551 983h104v8h-104zM959 983h1056v8h-1056zM559 991h96v8h-96zM951 991h184v8h-184zM1239 991h472v8h-472zM1815 991h200v8h-200zM575 999h80v8h-80zM935 999h96v8h-96zM1055 999h72v8h-72zM1255 999h448v8h-448zM1823 999h192v8h-192zM583 1007h80v8h-80zM927 1007h72v8h-72zM1087 1007h24v8h-24zM1271 1007h424v8h-424zM1831 1007h184v8h-184zM599 1015h64v8h-64zM927 1015h32v8h-32zM1287 1015h400v8h-400zM1839 1015h176v8h-176zM607 1023h56v8h-56zM919 1023h24v8h-24zM1303 1023h376v8h-376zM1847 1023h168v8h-168zM623 1031h48v8h-48zM911 1031h24v8h-24zM1319 1031h352v8h-352zM1855 1031h160v8h-160zM631 1039h40v8h-40zM911 1039h16v8h-16zM1335 1039h328v8h-328zM1863 1039h152v8h-152zM623 1047h48v8h-48zM895 1047h24v8h-24zM1335 1047h328v8h-328zM1879 1047h136v8h-136zM599 1055h64v8h-64zM887 1055h16v8h-16zM1327 1055h336v8h-336zM1895 1055h120v8h-120zM583 1063h80v8h-80zM871 1063h24v8h-24zM1327 1063h336v8h-336zM1911 1063h104v8h-104zM559 1071h96v8h-96zM863 1071h16v8h-16zM1319 1071h344v8h-344zM1927 1071h40v8h-40zM1975 1071h40v8h-40zM543 1079h112v8h-112zM727 1079h64v8h-64zM847 1079h24v8h-24zM1319 1079h344v8h-344zM1759 1079h8v8h-8zM1943 1079h24v8h-24zM1975 1079h40v8h-40zM535 1087h112v8h-112zM719 1087h112v8h-112zM839 1087h16v8h-16zM1311 1087h352v8h-352zM1743 1087h32v8h-32zM1959 1087h8v8h-8zM1975 1087h40v8h-40zM535 1095h112v8h-112zM711 1095h24v8h-24zM807 1095h40v8h-40zM1311 1095h352v8h-352zM1735 1095h40v8h-40zM1975 1095h24v8h-24zM535 1103h104v8h-104zM695 1103h24v8h-24zM1303 1103h360v8h-360zM1719 1103h64v8h-64zM1975 1103h24v8h-24zM535 1111h24v8h-24zM687 1111h24v8h-24zM1303 1111h360v8h-360zM1711 1111h80v8h-80zM1967 1111h32v8h-32zM535 1119h8v8h-8zM679 1119h24v8h-24zM1295 1119h368v8h-368zM1695 1119h104v8h-104zM1967 1119h32v8h-32zM663 1127h24v8h-24zM1295 1127h368v8h-368zM1687 1127h112v8h-112zM1967 1127h16v8h-16zM1991 1127h8v8h-8zM655 1135h24v8h-24zM1287 1135h376v8h-376zM1671 1135h136v8h-136zM1967 1135h16v8h-16zM1991 1135h8v8h-8zM647 1143h24v8h-24zM1287 1143h528v8h-528zM1967 1143h32v8h-32zM647 1151h24v8h-24zM1295 1151h232v8h-232zM1535 1151h280v8h-280zM1967 1151h24v8h-24zM535 1159h136v8h-136zM1303 1159h512v8h-512zM1967 1159h16v8h-16zM535 1167h136v8h-136zM1311 1167h504v8h-504zM1967 1167h16v8h-16zM535 1175h32v8h-32zM1319 1175h496v8h-496zM1967 1175h16v8h-16zM535 1183h8v8h-8zM1319 1183h496v8h-496zM1967 1183h16v8h-16zM1319 1191h496v8h-496zM1967 1191h16v8h-16zM1327 1199h488v8h-488zM1959 1199h24v8h-24zM1991 1199h24v8h-24zM1327 1207h200v8h-200zM1535 1207h280v8h-280zM1951 1207h24v8h-24zM1991 1207h24v8h-24zM1327 1215h488v8h-488zM1951 1215h24v8h-24zM1991 1215h24v8h-24zM1335 1223h480v8h-480zM1943 1223h32v8h-32zM1991 1223h24v8h-24zM1335 1231h480v8h-480zM1935 1231h40v8h-40zM1991 1231h24v8h-24zM1335 1239h104v8h-104zM1447 1239h368v8h-368zM1935 1239h40v8h-40zM1991 1239h24v8h-24zM1335 1247h104v8h-104zM1543 1247h272v8h-272zM1927 1247h48v8h-48zM1991 1247h24v8h-24zM1335 1255h112v8h-112zM1543 1255h264v8h-264zM1927 1255h48v8h-48zM1991 1255h24v8h-24zM1335 1263h112v8h-112zM1551 1263h256v8h-256zM1927 1263h48v8h-48zM1991 1263h24v8h-24zM1335 1271h120v8h-120zM1551 1271h256v8h-256zM1927 1271h48v8h-48zM1991 1271h24v8h-24zM1335 1279h120v8h-120zM1559 1279h248v8h-248zM1927 1279h48v8h-48zM1991 1279h24v8h-24zM1335 1287h128v8h-128zM1559 1287h240v8h-240zM1927 1287h40v8h-40zM1991 1287h24v8h-24zM1335 1295h128v8h-128zM1567 1295h232v8h-232zM1927 1295h40v8h-40zM1991 1295h24v8h-24zM1335 1303h136v8h-136zM1567 1303h232v8h-232zM1927 1303h40v8h-40zM1983 1303h32v8h-32zM1335 1311h136v8h-136zM1575 1311h224v8h-224zM1927 1311h40v8h-40zM1983 1311h32v8h-32zM1335 1319h144v8h-144zM1575 1319h224v8h-224zM1927 1319h40v8h-40zM1983 1319h32v8h-32zM1335 1327h144v8h-144zM1583 1327h216v8h-216zM1927 1327h40v8h-40zM1983 1327h32v8h-32zM1335 1335h152v8h-152zM1583 1335h216v8h-216zM1927 1335h40v8h-40zM1983 1335h32v8h-32zM1343 1343h144v8h-144zM1583 1343h208v8h-208zM1935 1343h32v8h-32zM1983 1343h32v8h-32zM1351 1351h144v8h-144zM1575 1351h88v8h-88zM1671 1351h120v8h-120zM1935 1351h32v8h-32zM1983 1351h32v8h-32zM1359 1359h136v8h-136zM1559 1359h104v8h-104zM1671 1359h112v8h-112zM1943 1359h24v8h-24zM1983 1359h32v8h-32zM1367 1367h136v8h-136zM1551 1367h112v8h-112zM1679 1367h104v8h-104zM1983 1367h32v8h-32zM1375 1375h288v8h-288zM1679 1375h104v8h-104zM1983 1375h32v8h-32zM1383 1383h272v8h-272zM1687 1383h96v8h-96zM1983 1383h32v8h-32zM1391 1391h264v8h-264zM1687 1391h104v8h-104zM1399 1399h232v8h-232zM1639 1399h16v8h-16zM1695 1399h96v8h-96zM1367 1407h8v8h-8zM1407 1407h216v8h-216zM1647 1407h8v8h-8zM1695 1407h96v8h-96zM1415 1415h208v8h-208zM1647 1415h8v8h-8zM1703 1415h88v8h-88zM1359 1423h16v8h-16zM1383 1423h8v8h-8zM1423 1423h192v8h-192zM1647 1423h8v8h-8zM1703 1423h88v8h-88zM1367 1431h8v8h-8zM1431 1431h176v8h-176zM1647 1431h8v8h-8zM1711 1431h80v8h-80zM1439 1439h168v8h-168zM1639 1439h16v8h-16zM1711 1439h88v8h-88zM1119 1447h472v8h-472zM1647 1447h8v8h-8zM1671 1447h48v8h-48zM1751 1447h56v8h-56zM1095 1455h440v8h-440zM1647 1455h24v8h-24zM1735 1455h64v8h-64zM1055 1463h72v8h-72zM1167 1463h320v8h-320zM1719 1463h32v8h-32zM1039 1471h64v8h-64zM1191 1471h256v8h-256zM1711 1471h32v8h-32zM1039 1479h56v8h-56zM1199 1479h32v8h-32zM1711 1479h32v8h-32zM1039 1487h48v8h-48zM1207 1487h8v8h-8zM1711 1487h32v8h-32zM1047 1495h40v8h-40zM1711 1495h32v8h-32zM1047 1503h32v8h-32zM1703 1503h40v8h-40zM1047 1511h32v8h-32zM1703 1511h32v8h-32zM1055 1519h24v8h-24zM1711 1519h24v8h-24zM1055 1527h24v8h-24zM1711 1527h24v8h-24zM1055 1535h32v8h-32zM1711 1535h24v8h-24zM1055 1543h32v8h-32zM1719 1543h16v8h-16zM1063 1551h24v8h-24zM1719 1551h16v8h-16zM1063 1559h32v8h-32zM1727 1559h16v8h-16zM1063 1567h32v8h-32zM1727 1567h16v8h-16zM1063 1575h24v8h-24zM1719 1575h24v8h-24zM1055 1583h24v8h-24zM1719 1583h16v8h-16zM1047 1591h32v8h-32zM1711 1591h16v8h-16zM1039 1599h32v8h-32zM1703 1599h24v8h-24zM1039 1607h24v8h-24zM1703 1607h16v8h-16zM1023 1615h40v8h-40zM1183 1615h8v8h-8zM1695 1615h16v8h-16zM1007 1623h48v8h-48zM1191 1623h8v8h-8zM1583 1623h56v8h-56zM1687 1623h24v8h-24zM999 1631h48v8h-48zM1199 1631h8v8h-8zM1567 1631h72v8h-72zM1687 1631h24v8h-24zM999 1639h40v8h-40zM1207 1639h16v8h-16zM1551 1639h96v8h-96zM1679 1639h24v8h-24zM999 1647h40v8h-40zM1207 1647h8v8h-8zM1223 1647h8v8h-8zM1543 1647h16v8h-16zM1639 1647h16v8h-16zM1679 1647h24v8h-24zM999 1655h24v8h-24zM1215 1655h8v8h-8zM1231 1655h112v8h-112zM1519 1655h24v8h-24zM1639 1655h16v8h-16zM1671 1655h32v8h-32zM999 1663h24v8h-24zM1223 1663h8v8h-8zM1335 1663h16v8h-16zM1511 1663h16v8h-16zM1647 1663h48v8h-48zM991 1671h24v8h-24zM1223 1671h8v8h-8zM1351 1671h8v8h-8zM1511 1671h8v8h-8zM1647 1671h48v8h-48zM831 1679h8v8h-8zM983 1679h24v8h-24zM1215 1679h8v8h-8zM1359 1679h16v8h-16zM1495 1679h16v8h-16zM1647 1679h48v8h-48zM831 1687h16v8h-16zM967 1687h24v8h-24zM1207 1687h8v8h-8zM1367 1687h16v8h-16zM1487 1687h16v8h-16zM1647 1687h48v8h-48zM823 1695h24v8h-24zM959 1695h24v8h-24zM1199 1695h8v8h-8zM1383 1695h8v8h-8zM1479 1695h16v8h-16zM1647 1695h48v8h-48zM823 1703h32v8h-32zM959 1703h16v8h-16zM1191 1703h8v8h-8zM1391 1703h8v8h-8zM1471 1703h8v8h-8zM1639 1703h56v8h-56zM823 1711h32v8h-32zM959 1711h16v8h-16zM1183 1711h8v8h-8zM1399 1711h16v8h-16zM1463 1711h8v8h-8zM1639 1711h56v8h-56zM815 1719h40v8h-40zM959 1719h8v8h-8zM1175 1719h8v8h-8zM1407 1719h16v8h-16zM1447 1719h16v8h-16zM1639 1719h56v8h-56zM815 1727h48v8h-48zM959 1727h8v8h-8zM1167 1727h8v8h-8zM1423 1727h8v8h-8zM1439 1727h16v8h-16zM1639 1727h56v8h-56zM807 1735h56v8h-56zM959 1735h8v8h-8zM1159 1735h8v8h-8zM1431 1735h16v8h-16zM1599 1735h96v8h-96zM807 1743h64v8h-64zM959 1743h8v8h-8zM1151 1743h8v8h-8zM1583 1743h112v8h-112zM799 1751h72v8h-72zM959 1751h8v8h-8zM1143 1751h8v8h-8zM1567 1751h128v8h-128zM791 1759h80v8h-80zM951 1759h16v8h-16zM1135 1759h8v8h-8zM1551 1759h144v8h-144zM791 1767h88v8h-88zM951 1767h16v8h-16zM1127 1767h8v8h-8zM1535 1767h160v8h-160zM783 1775h104v8h-104zM1591 1775h120v8h-120zM783 1783h104v8h-104zM1591 1783h120v8h-120zM783 1791h104v8h-104zM1591 1791h120v8h-120zM783 1799h104v8h-104zM1591 1799h120v8h-120zM783 1807h104v8h-104zM1591 1807h120v8h-120zM783 1815h104v8h-104zM1591 1815h120v8h-120z"/>
<path fill="#ffee00" d="M535 983h16v8h-16zM535 991h24v8h-24zM1135 991h104v8h-104zM1711 991h104v8h-104zM535 999h40v8h-40zM1031 999h24v8h-24zM1127 999h128v8h-128zM1703 999h120v8h-120zM535 1007h48v8h-48zM999 1007h88v8h-88zM1111 1007h160v8h-160zM1695 1007h136v8h-136zM535 1015h64v8h-64zM959 1015h328v8h-328zM1687 1015h152v8h-152zM535 1023h72v8h-72zM943 1023h360v8h-360zM1679 1023h168v8h-168zM535 1031h88v8h-88zM935 1031h384v8h-384zM1671 1031h184v8h-184zM535 1039h96v8h-96zM927 1039h408v8h-408zM1663 1039h200v8h-200zM535 1047h88v8h-88zM919 1047h416v8h-416zM1663 1047h216v8h-216zM535 1055h64v8h-64zM903 1055h424v8h-424zM1663 1055h232v8h-232zM535 1063h48v8h-48zM895 1063h16v8h-16zM919 1063h408v8h-408zM1663 1063h248v8h-248zM535 1071h24v8h-24zM879 1071h24v8h-24zM935 1071h384v8h-384zM1663 1071h264v8h-264zM1967 1071h8v8h-8zM535 1079h8v8h-8zM871 1079h16v8h-16zM943 1079h376v8h-376zM1663 1079h96v8h-96zM1767 1079h176v8h-176zM1967 1079h8v8h-8zM855 1087h24v8h-24zM959 1087h352v8h-352zM1663 1087h80v8h-80zM1775 1087h184v8h-184zM1967 1087h8v8h-8zM735 1095h72v8h-72zM847 1095h16v8h-16zM967 1095h344v8h-344zM1663 1095h72v8h-72zM1775 1095h200v8h-200zM1999 1095h16v8h-16zM719 1103h136v8h-136zM983 1103h320v8h-320zM1663 1103h56v8h-56zM1783 1103h192v8h-192zM1999 1103h16v8h-16zM711 1111h24v8h-24zM823 1111h16v8h-16zM991 1111h312v8h-312zM1663 1111h48v8h-48zM1791 1111h176v8h-176zM1999 1111h16v8h-16zM703 1119h16v8h-16zM1007 1119h288v8h-288zM1663 1119h32v8h-32zM1799 1119h168v8h-168zM1999 1119h16v8h-16zM687 1127h24v8h-24zM1015 1127h280v8h-280zM1663 1127h24v8h-24zM1799 1127h168v8h-168zM1983 1127h8v8h-8zM1999 1127h16v8h-16zM679 1135h24v8h-24zM1031 1135h256v8h-256zM1663 1135h8v8h-8zM1807 1135h160v8h-160zM1983 1135h8v8h-8zM1999 1135h16v8h-16zM671 1143h24v8h-24zM1143 1143h144v8h-144zM1815 1143h152v8h-152zM1999 1143h16v8h-16zM671 1151h24v8h-24zM1159 1151h136v8h-136zM1815 1151h152v8h-152zM1991 1151h24v8h-24zM671 1159h24v8h-24zM1175 1159h128v8h-128zM1815 1159h152v8h-152zM1983 1159h32v8h-32zM671 1167h24v8h-24zM1191 1167h120v8h-120zM1815 1167h152v8h-152zM1983 1167h32v8h-32zM567 1175h128v8h-128zM1207 1175h112v8h-112zM1815 1175h152v8h-152zM1983 1175h32v8h-32zM543 1183h152v8h-152zM1223 1183h96v8h-96zM1815 1183h152v8h-152zM1983 1183h32v8h-32zM535 1191h160v8h-160zM1239 1191h80v8h-80zM1815 1191h152v8h-152zM1983 1191h32v8h-32zM535 1199h48v8h-48zM1247 1199h80v8h-80zM1815 1199h144v8h-144zM1983 1199h8v8h-8zM535 1207h24v8h-24zM1255 1207h72v8h-72zM1815 1207h136v8h-136zM1975 1207h16v8h-16zM1263 1215h64v8h-64zM1815 1215h136v8h-136zM1975 1215h16v8h-16zM1263 1223h72v8h-72zM1815 1223h128v8h-128zM1975 1223h16v8h-16zM1271 1231h64v8h-64zM1815 1231h120v8h-120zM1975 1231h16v8h-16zM1271 1239h64v8h-64zM1815 1239h120v8h-120zM1975 1239h16v8h-16zM1271 1247h64v8h-64zM1815 1247h112v8h-112zM1975 1247h16v8h-16zM1271 1255h64v8h-64zM1807 1255h120v8h-120zM1975 1255h16v8h-16zM1271 1263h64v8h-64zM1807 1263h120v8h-120zM1975 1263h16v8h-16zM1271 1271h64v8h-64zM1807 1271h120v8h-120zM1975 1271h16v8h-16zM1263 1279h72v8h-72zM1807 1279h120v8h-120zM1975 1279h16v8h-16zM1247 1287h88v8h-88zM1799 1287h128v8h-128zM1967 1287h24v8h-24zM1231 1295h104v8h-104zM1799 1295h128v8h-128zM1967 1295h24v8h-24zM1215 1303h120v8h-120zM1799 1303h128v8h-128zM1967 1303h16v8h-16zM1199 1311h136v8h-136zM1799 1311h128v8h-128zM1967 1311h16v8h-16zM1183 1319h152v8h-152zM1799 1319h128v8h-128zM1967 1319h16v8h-16zM1167 1327h168v8h-168zM1799 1327h128v8h-128zM1967 1327h16v8h-16zM1151 1335h184v8h-184zM1799 1335h128v8h-128zM1975 1335h8v8h-8zM1135 1343h208v8h-208zM1791 1343h144v8h-144zM1967 1343h16v8h-16zM1135 1351h216v8h-216zM1663 1351h8v8h-8zM1791 1351h64v8h-64zM1871 1351h64v8h-64zM1967 1351h16v8h-16zM1127 1359h232v8h-232zM1663 1359h8v8h-8zM1783 1359h64v8h-64zM1871 1359h72v8h-72zM1967 1359h16v8h-16zM1127 1367h240v8h-240zM1663 1367h16v8h-16zM1783 1367h64v8h-64zM1879 1367h104v8h-104zM1119 1375h256v8h-256zM1663 1375h16v8h-16zM1783 1375h56v8h-56zM1887 1375h96v8h-96zM1119 1383h264v8h-264zM1655 1383h32v8h-32zM1783 1383h48v8h-48zM1895 1383h88v8h-88zM1111 1391h280v8h-280zM1655 1391h32v8h-32zM1791 1391h40v8h-40zM1895 1391h88v8h-88zM1111 1399h288v8h-288zM1655 1399h40v8h-40zM1791 1399h32v8h-32zM1903 1399h80v8h-80zM1103 1407h264v8h-264zM1375 1407h32v8h-32zM1655 1407h40v8h-40zM1791 1407h32v8h-32zM1927 1407h56v8h-56zM1103 1415h312v8h-312zM1655 1415h48v8h-48zM1791 1415h32v8h-32zM1959 1415h24v8h-24zM1095 1423h264v8h-264zM1375 1423h8v8h-8zM1391 1423h32v8h-32zM1655 1423h48v8h-48zM1791 1423h32v8h-32zM1967 1423h16v8h-16zM1095 1431h272v8h-272zM1375 1431h56v8h-56zM1655 1431h56v8h-56zM1791 1431h40v8h-40zM1975 1431h8v8h-8zM1087 1439h352v8h-352zM1655 1439h56v8h-56zM1799 1439h32v8h-32zM1975 1439h8v8h-8zM1071 1447h48v8h-48zM1655 1447h16v8h-16zM1807 1447h32v8h-32zM1975 1447h8v8h-8zM1031 1455h64v8h-64zM1799 1455h48v8h-48zM1975 1455h8v8h-8zM991 1463h64v8h-64zM1751 1463h104v8h-104zM975 1471h64v8h-64zM1743 1471h112v8h-112zM975 1479h64v8h-64zM1743 1479h104v8h-104zM983 1487h56v8h-56zM1743 1487h96v8h-96zM991 1495h56v8h-56zM1743 1495h88v8h-88zM991 1503h56v8h-56zM1743 1503h80v8h-80zM999 1511h48v8h-48zM1735 1511h80v8h-80zM1007 1519h48v8h-48zM1735 1519h72v8h-72zM1007 1527h48v8h-48zM1735 1527h64v8h-64zM1015 1535h40v8h-40zM1735 1535h64v8h-64zM1023 1543h32v8h-32zM1735 1543h48v8h-48zM1023 1551h40v8h-40zM1735 1551h40v8h-40zM1031 1559h32v8h-32zM1743 1559h24v8h-24zM1039 1567h24v8h-24zM1743 1567h16v8h-16zM1023 1575h40v8h-40zM1743 1575h16v8h-16zM1007 1583h48v8h-48zM1735 1583h24v8h-24zM999 1591h48v8h-48zM1727 1591h24v8h-24zM983 1599h56v8h-56zM1727 1599h24v8h-24zM975 1607h64v8h-64zM1719 1607h32v8h-32zM975 1615h48v8h-48zM1711 1615h32v8h-32zM975 1623h32v8h-32zM1711 1623h32v8h-32zM831 1631h8v8h-8zM975 1631h24v8h-24zM1711 1631h32v8h-32zM823 1639h24v8h-24zM975 1639h24v8h-24zM1703 1639h32v8h-32zM815 1647h40v8h-40zM975 1647h24v8h-24zM1215 1647h8v8h-8zM1559 1647h80v8h-80zM1703 1647h32v8h-32zM807 1655h56v8h-56zM975 1655h24v8h-24zM1223 1655h8v8h-8zM1543 1655h96v8h-96zM1703 1655h32v8h-32zM799 1663h72v8h-72zM975 1663h24v8h-24zM1231 1663h104v8h-104zM1527 1663h120v8h-120zM1695 1663h40v8h-40zM799 1671h80v8h-80zM967 1671h24v8h-24zM1231 1671h120v8h-120zM1519 1671h128v8h-128zM1695 1671h32v8h-32zM791 1679h40v8h-40zM839 1679h40v8h-40zM959 1679h24v8h-24zM1223 1679h136v8h-136zM1511 1679h8v8h-8zM1535 1679h112v8h-112zM1695 1679h32v8h-32zM791 1687h40v8h-40zM847 1687h40v8h-40zM951 1687h16v8h-16zM1215 1687h152v8h-152zM1503 1687h8v8h-8zM1527 1687h120v8h-120zM1695 1687h32v8h-32zM783 1695h40v8h-40zM847 1695h40v8h-40zM951 1695h8v8h-8zM1207 1695h144v8h-144zM1367 1695h16v8h-16zM1495 1695h8v8h-8zM1527 1695h120v8h-120zM1695 1695h32v8h-32zM783 1703h40v8h-40zM855 1703h40v8h-40zM951 1703h8v8h-8zM1199 1703h136v8h-136zM1375 1703h16v8h-16zM1479 1703h16v8h-16zM1519 1703h120v8h-120zM1695 1703h32v8h-32zM783 1711h40v8h-40zM855 1711h40v8h-40zM951 1711h8v8h-8zM1191 1711h128v8h-128zM1383 1711h16v8h-16zM1471 1711h16v8h-16zM1519 1711h120v8h-120zM1695 1711h24v8h-24zM775 1719h40v8h-40zM855 1719h40v8h-40zM951 1719h8v8h-8zM1183 1719h128v8h-128zM1399 1719h8v8h-8zM1463 1719h16v8h-16zM1519 1719h120v8h-120zM1695 1719h24v8h-24zM767 1727h48v8h-48zM863 1727h40v8h-40zM951 1727h8v8h-8zM1175 1727h120v8h-120zM1407 1727h16v8h-16zM1455 1727h8v8h-8zM1511 1727h128v8h-128zM1695 1727h24v8h-24zM759 1735h48v8h-48zM863 1735h40v8h-40zM943 1735h16v8h-16zM1167 1735h120v8h-120zM1415 1735h16v8h-16zM1447 1735h8v8h-8zM1511 1735h88v8h-88zM1695 1735h24v8h-24zM759 1743h48v8h-48zM871 1743h40v8h-40zM943 1743h16v8h-16zM1159 1743h112v8h-112zM1423 1743h24v8h-24zM1503 1743h80v8h-80zM1695 1743h24v8h-24zM751 1751h48v8h-48zM871 1751h40v8h-40zM943 1751h16v8h-16zM1151 1751h112v8h-112zM1503 1751h64v8h-64zM1695 1751h24v8h-24zM743 1759h48v8h-48zM871 1759h40v8h-40zM943 1759h8v8h-8zM1143 1759h104v8h-104zM1503 1759h48v8h-48zM1695 1759h24v8h-24zM735 1767h56v8h-56zM879 1767h40v8h-40zM943 1767h8v8h-8zM1135 1767h104v8h-104zM1495 1767h40v8h-40zM1695 1767h24v8h-24zM1087 1775h104v8h-104zM1487 1775h104v8h-104zM1087 1783h104v8h-104zM1487 1783h104v8h-104zM1087 1791h104v8h-104zM1487 1791h104v8h-104zM1087 1799h104v8h-104zM1487 1799h104v8h-104zM1087 1807h104v8h-104zM1487 1807h104v8h-104zM1087 1815h104v8h-104zM1487 1815h104v8h-104z"/>
<path fill="#ffe800" d="M487 991h48v8h-48zM487 999h48v8h-48zM487 1007h48v8h-48zM487 1015h48v8h-48zM487 1023h48v8h-48zM487 1031h48v8h-48zM487 1039h48v8h-48zM487 1047h48v8h-48zM487 1055h48v8h-48zM487 1063h48v8h-48zM911 1063h8v8h-8zM487 1071h48v8h-48zM903 1071h32v8h-32zM487 1079h48v8h-48zM887 1079h56v8h-56zM487 1087h48v8h-48zM879 1087h80v8h-80zM863 1095h104v8h-104zM855 1103h16v8h-16zM879 1103h104v8h-104zM735 1111h88v8h-88zM839 1111h24v8h-24zM895 1111h96v8h-96zM719 1119h128v8h-128zM903 1119h104v8h-104zM711 1127h24v8h-24zM831 1127h8v8h-8zM919 1127h96v8h-96zM703 1135h16v8h-16zM927 1135h104v8h-104zM695 1143h16v8h-16zM935 1143h208v8h-208zM695 1151h16v8h-16zM943 1151h216v8h-216zM695 1159h16v8h-16zM943 1159h232v8h-232zM695 1167h16v8h-16zM951 1167h240v8h-240zM695 1175h16v8h-16zM951 1175h256v8h-256zM695 1183h16v8h-16zM959 1183h264v8h-264zM695 1191h16v8h-16zM959 1191h280v8h-280zM583 1199h128v8h-128zM967 1199h280v8h-280zM559 1207h152v8h-152zM967 1207h288v8h-288zM535 1215h176v8h-176zM983 1215h280v8h-280zM535 1223h64v8h-64zM999 1223h264v8h-264zM535 1231h40v8h-40zM1015 1231h256v8h-256zM535 1239h8v8h-8zM1031 1239h240v8h-240zM1039 1247h232v8h-232zM1039 1255h232v8h-232zM1039 1263h232v8h-232zM1039 1271h232v8h-232zM1039 1279h224v8h-224zM1039 1287h208v8h-208zM1039 1295h192v8h-192zM1039 1303h176v8h-176zM1039 1311h160v8h-160zM1039 1319h144v8h-144zM1039 1327h128v8h-128zM1039 1335h112v8h-112zM1967 1335h8v8h-8zM1039 1343h96v8h-96zM1039 1351h96v8h-96zM1855 1351h16v8h-16zM1039 1359h88v8h-88zM1847 1359h24v8h-24zM1039 1367h88v8h-88zM1847 1367h32v8h-32zM1039 1375h80v8h-80zM1839 1375h48v8h-48zM1039 1383h80v8h-80zM1831 1383h64v8h-64zM1039 1391h72v8h-72zM1831 1391h64v8h-64zM1983 1391h32v8h-32zM1039 1399h72v8h-72zM1823 1399h80v8h-80zM1983 1399h32v8h-32zM1039 1407h64v8h-64zM1823 1407h104v8h-104zM1983 1407h32v8h-32zM1039 1415h64v8h-64zM1823 1415h136v8h-136zM1983 1415h32v8h-32zM1039 1423h56v8h-56zM1823 1423h144v8h-144zM1983 1423h32v8h-32zM1039 1431h56v8h-56zM1831 1431h144v8h-144zM1983 1431h32v8h-32zM1039 1439h48v8h-48zM1831 1439h144v8h-144zM1983 1439h32v8h-32zM999 1447h72v8h-72zM1839 1447h136v8h-136zM1983 1447h32v8h-32zM959 1455h72v8h-72zM1847 1455h128v8h-128zM1983 1455h32v8h-32zM919 1463h72v8h-72zM1855 1463h160v8h-160zM903 1471h72v8h-72zM1855 1471h160v8h-160zM903 1479h72v8h-72zM1847 1479h168v8h-168zM895 1487h88v8h-88zM1839 1487h176v8h-176zM895 1495h96v8h-96zM1831 1495h184v8h-184zM895 1503h96v8h-96zM1823 1503h192v8h-192zM887 1511h112v8h-112zM1815 1511h200v8h-200zM935 1519h72v8h-72zM1807 1519h208v8h-208zM943 1527h64v8h-64zM1799 1527h216v8h-216zM951 1535h64v8h-64zM1799 1535h216v8h-216zM951 1543h72v8h-72zM1783 1543h232v8h-232zM959 1551h64v8h-64zM1775 1551h240v8h-240zM967 1559h64v8h-64zM1767 1559h248v8h-248zM967 1567h72v8h-72zM1759 1567h256v8h-256zM959 1575h64v8h-64zM1759 1575h256v8h-256zM951 1583h56v8h-56zM1759 1583h256v8h-256zM831 1591h8v8h-8zM951 1591h48v8h-48zM1751 1591h264v8h-264zM823 1599h24v8h-24zM951 1599h32v8h-32zM1751 1599h264v8h-264zM815 1607h40v8h-40zM951 1607h24v8h-24zM1751 1607h264v8h-264zM807 1615h56v8h-56zM951 1615h24v8h-24zM1743 1615h272v8h-272zM799 1623h72v8h-72zM951 1623h24v8h-24zM1743 1623h224v8h-224zM791 1631h40v8h-40zM839 1631h40v8h-40zM951 1631h24v8h-24zM1743 1631h224v8h-224zM783 1639h40v8h-40zM847 1639h40v8h-40zM951 1639h24v8h-24zM1735 1639h232v8h-232zM775 1647h40v8h-40zM855 1647h40v8h-40zM951 1647h24v8h-24zM1735 1647h232v8h-232zM767 1655h40v8h-40zM863 1655h40v8h-40zM951 1655h24v8h-24zM1735 1655h232v8h-232zM759 1663h40v8h-40zM871 1663h40v8h-40zM951 1663h24v8h-24zM1735 1663h232v8h-232zM759 1671h40v8h-40zM879 1671h40v8h-40zM943 1671h24v8h-24zM1727 1671h32v8h-32zM1767 1671h200v8h-200zM751 1679h40v8h-40zM879 1679h40v8h-40zM943 1679h16v8h-16zM1519 1679h16v8h-16zM1727 1679h32v8h-32zM1775 1679h192v8h-192zM751 1687h40v8h-40zM887 1687h40v8h-40zM943 1687h8v8h-8zM1511 1687h16v8h-16zM1727 1687h32v8h-32zM1783 1687h184v8h-184zM743 1695h40v8h-40zM887 1695h40v8h-40zM943 1695h8v8h-8zM1351 1695h16v8h-16zM1503 1695h24v8h-24zM1727 1695h32v8h-32zM1791 1695h176v8h-176zM735 1703h48v8h-48zM895 1703h56v8h-56zM1335 1703h40v8h-40zM1495 1703h24v8h-24zM1727 1703h32v8h-32zM1799 1703h168v8h-168zM727 1711h56v8h-56zM895 1711h56v8h-56zM1319 1711h64v8h-64zM1487 1711h32v8h-32zM1719 1711h40v8h-40zM1807 1711h160v8h-160zM727 1719h48v8h-48zM895 1719h56v8h-56zM1311 1719h88v8h-88zM1479 1719h40v8h-40zM1719 1719h32v8h-32zM1815 1719h200v8h-200zM719 1727h48v8h-48zM903 1727h48v8h-48zM1295 1727h112v8h-112zM1463 1727h48v8h-48zM1719 1727h32v8h-32zM1815 1727h200v8h-200zM719 1735h40v8h-40zM903 1735h40v8h-40zM1287 1735h128v8h-128zM1455 1735h56v8h-56zM1719 1735h32v8h-32zM1815 1735h200v8h-200zM711 1743h48v8h-48zM911 1743h32v8h-32zM1271 1743h136v8h-136zM1415 1743h8v8h-8zM1447 1743h56v8h-56zM1719 1743h32v8h-32zM1815 1743h200v8h-200zM703 1751h48v8h-48zM911 1751h32v8h-32zM1263 1751h120v8h-120zM1423 1751h24v8h-24zM1463 1751h40v8h-40zM1719 1751h32v8h-32zM1815 1751h200v8h-200zM703 1759h40v8h-40zM911 1759h32v8h-32zM1247 1759h112v8h-112zM1431 1759h8v8h-8zM1463 1759h40v8h-40zM1719 1759h32v8h-32zM1815 1759h200v8h-200zM695 1767h40v8h-40zM919 1767h24v8h-24zM1239 1767h96v8h-96zM1455 1767h40v8h-40zM1719 1767h32v8h-32zM1815 1767h200v8h-200zM687 1775h96v8h-96zM887 1775h96v8h-96zM1191 1775h96v8h-96zM1815 1775h200v8h-200zM687 1783h96v8h-96zM887 1783h96v8h-96zM1191 1783h96v8h-96zM1815 1783h200v8h-200zM687 1791h96v8h-96zM887 1791h96v8h-96zM1191 1791h96v8h-96zM1815 1791h200v8h-200zM687 1799h96v8h-96zM887 1799h96v8h-96zM1191 1799h96v8h-96zM1815 1799h200v8h-200zM687 1807h96v8h-96zM887 1807h96v8h-96zM1191 1807h96v8h-96zM1815 1807h200v8h-200zM687 1815h96v8h-96zM887 1815h96v8h-96zM1191 1815h96v8h-96zM1815 1815h200v8h-200z"/>
<path fill="#ffe100" d="M871 1103h8v8h-8zM863 1111h32v8h-32zM847 1119h56v8h-56zM735 1127h96v8h-96zM839 1127h80v8h-80zM719 1135h208v8h-208zM711 1143h24v8h-24zM815 1143h8v8h-8zM831 1143h104v8h-104zM711 1151h24v8h-24zM839 1151h104v8h-104zM711 1159h24v8h-24zM839 1159h104v8h-104zM711 1167h24v8h-24zM799 1167h8v8h-8zM839 1167h112v8h-112zM711 1175h24v8h-24zM751 1175h16v8h-16zM807 1175h16v8h-16zM839 1175h112v8h-112zM711 1183h24v8h-24zM839 1183h120v8h-120zM487 1191h48v8h-48zM711 1191h24v8h-24zM839 1191h120v8h-120zM487 1199h48v8h-48zM711 1199h24v8h-24zM839 1199h128v8h-128zM487 1207h48v8h-48zM711 1207h24v8h-24zM839 1207h128v8h-128zM487 1215h48v8h-48zM711 1215h24v8h-24zM791 1215h8v8h-8zM839 1215h144v8h-144zM487 1223h48v8h-48zM599 1223h136v8h-136zM791 1223h8v8h-8zM815 1223h8v8h-8zM839 1223h160v8h-160zM487 1231h48v8h-48zM575 1231h160v8h-160zM839 1231h176v8h-176zM487 1239h48v8h-48zM543 1239h192v8h-192zM839 1239h192v8h-192zM487 1247h144v8h-144zM735 1247h304v8h-304zM487 1255h128v8h-128zM735 1255h304v8h-304zM487 1263h120v8h-120zM735 1263h304v8h-304zM487 1271h104v8h-104zM735 1271h304v8h-304zM487 1279h96v8h-96zM735 1279h304v8h-304zM487 1287h80v8h-80zM735 1287h304v8h-304zM535 1295h24v8h-24zM735 1295h304v8h-304zM535 1303h8v8h-8zM735 1303h304v8h-304zM735 1311h304v8h-304zM735 1319h304v8h-304zM735 1327h304v8h-304zM735 1335h304v8h-304zM735 1343h304v8h-304zM735 1351h304v8h-304zM735 1359h304v8h-304zM735 1367h304v8h-304zM735 1375h304v8h-304zM735 1383h304v8h-304zM735 1391h304v8h-304zM735 1399h304v8h-304zM735 1407h304v8h-304zM735 1415h304v8h-304zM735 1423h304v8h-304zM735 1431h304v8h-304zM735 1439h304v8h-304zM839 1447h8v8h-8zM895 1447h104v8h-104zM887 1455h72v8h-72zM839 1463h8v8h-8zM855 1463h64v8h-64zM831 1471h72v8h-72zM823 1479h80v8h-80zM815 1487h80v8h-80zM807 1495h88v8h-88zM799 1503h96v8h-96zM791 1511h96v8h-96zM791 1519h144v8h-144zM791 1527h152v8h-152zM791 1535h160v8h-160zM799 1543h152v8h-152zM799 1551h160v8h-160zM799 1559h168v8h-168zM807 1567h160v8h-160zM799 1575h160v8h-160zM791 1583h160v8h-160zM783 1591h48v8h-48zM839 1591h112v8h-112zM775 1599h48v8h-48zM847 1599h104v8h-104zM767 1607h48v8h-48zM855 1607h96v8h-96zM759 1615h48v8h-48zM863 1615h88v8h-88zM751 1623h48v8h-48zM871 1623h80v8h-80zM1967 1623h48v8h-48zM743 1631h48v8h-48zM879 1631h72v8h-72zM1967 1631h48v8h-48zM703 1639h80v8h-80zM887 1639h64v8h-64zM1967 1639h48v8h-48zM703 1647h72v8h-72zM895 1647h56v8h-56zM1967 1647h48v8h-48zM703 1655h64v8h-64zM903 1655h48v8h-48zM1967 1655h48v8h-48zM703 1663h56v8h-56zM911 1663h40v8h-40zM1967 1663h48v8h-48zM703 1671h56v8h-56zM919 1671h24v8h-24zM1759 1671h8v8h-8zM1967 1671h48v8h-48zM703 1679h48v8h-48zM919 1679h24v8h-24zM1759 1679h16v8h-16zM1967 1679h48v8h-48zM695 1687h56v8h-56zM927 1687h16v8h-16zM1759 1687h24v8h-24zM1967 1687h48v8h-48zM695 1695h48v8h-48zM927 1695h16v8h-16zM1759 1695h32v8h-32zM1967 1695h48v8h-48zM695 1703h40v8h-40zM1759 1703h40v8h-40zM1967 1703h48v8h-48zM687 1711h40v8h-40zM1759 1711h48v8h-48zM1967 1711h48v8h-48zM687 1719h40v8h-40zM1751 1719h64v8h-64zM679 1727h40v8h-40zM1751 1727h64v8h-64zM679 1735h40v8h-40zM1751 1735h64v8h-64zM671 1743h40v8h-40zM1407 1743h8v8h-8zM1751 1743h64v8h-64zM663 1751h40v8h-40zM1383 1751h40v8h-40zM1447 1751h16v8h-16zM1751 1751h64v8h-64zM663 1759h40v8h-40zM1359 1759h72v8h-72zM1439 1759h24v8h-24zM1751 1759h64v8h-64zM655 1767h40v8h-40zM1335 1767h120v8h-120zM1751 1767h64v8h-64zM1287 1775h200v8h-200zM1711 1775h104v8h-104zM1287 1783h200v8h-200zM1711 1783h104v8h-104zM1287 1791h200v8h-200zM1711 1791h104v8h-104zM1287 1799h200v8h-200zM1711 1799h104v8h-104zM1287 1807h200v8h-200zM1711 1807h104v8h-104zM1287 1815h200v8h-200zM1711 1815h104v8h-104z"/>
<path fill="#ffd700" d="M735 1143h80v8h-80zM823 1143h8v8h-8zM735 1151h104v8h-104zM735 1159h104v8h-104zM735 1167h64v8h-64zM807 1167h32v8h-32zM735 1175h16v8h-16zM767 1175h40v8h-40zM823 1175h16v8h-16zM735 1183h104v8h-104zM735 1191h104v8h-104zM735 1199h104v8h-104zM735 1207h104v8h-104zM735 1215h56v8h-56zM799 1215h40v8h-40zM735 1223h56v8h-56zM799 1223h16v8h-16zM823 1223h16v8h-16zM735 1231h104v8h-104zM735 1239h104v8h-104zM631 1247h104v8h-104zM615 1255h120v8h-120zM607 1263h128v8h-128zM591 1271h144v8h-144zM583 1279h152v8h-152zM567 1287h168v8h-168zM487 1295h48v8h-48zM559 1295h176v8h-176zM487 1303h48v8h-48zM543 1303h192v8h-192zM487 1311h248v8h-248zM487 1319h248v8h-248zM487 1327h248v8h-248zM487 1335h248v8h-248zM487 1343h248v8h-248zM487 1351h248v8h-248zM487 1359h248v8h-248zM487 1367h248v8h-248zM487 1375h248v8h-248zM487 1383h248v8h-248zM487 1391h248v8h-248zM535 1399h200v8h-200zM535 1407h200v8h-200zM535 1415h200v8h-200zM535 1423h200v8h-200zM535 1431h200v8h-200zM535 1439h200v8h-200zM535 1447h304v8h-304zM847 1447h48v8h-48zM487 1455h400v8h-400zM487 1463h352v8h-352zM847 1463h8v8h-8zM487 1471h344v8h-344zM487 1479h152v8h-152zM647 1479h176v8h-176zM487 1487h152v8h-152zM647 1487h168v8h-168zM487 1495h152v8h-152zM647 1495h160v8h-160zM487 1503h152v8h-152zM655 1503h8v8h-8zM671 1503h128v8h-128zM487 1511h152v8h-152zM655 1511h8v8h-8zM679 1511h112v8h-112zM487 1519h152v8h-152zM671 1519h8v8h-8zM687 1519h104v8h-104zM487 1527h152v8h-152zM695 1527h96v8h-96zM487 1535h160v8h-160zM679 1535h8v8h-8zM703 1535h88v8h-88zM487 1543h152v8h-152zM711 1543h88v8h-88zM487 1551h152v8h-152zM719 1551h80v8h-80zM487 1559h152v8h-152zM727 1559h72v8h-72zM487 1567h152v8h-152zM735 1567h72v8h-72zM487 1575h312v8h-312zM487 1583h304v8h-304zM487 1591h296v8h-296zM487 1599h288v8h-288zM487 1607h280v8h-280zM487 1615h272v8h-272zM487 1623h264v8h-264zM487 1631h256v8h-256zM487 1639h216v8h-216zM487 1647h216v8h-216zM487 1655h216v8h-216zM487 1663h216v8h-216zM487 1671h216v8h-216zM487 1679h216v8h-216zM487 1687h208v8h-208zM487 1695h208v8h-208zM487 1703h208v8h-208zM487 1711h200v8h-200zM487 1719h200v8h-200zM487 1727h192v8h-192zM487 1735h192v8h-192zM487 1743h184v8h-184zM487 1751h176v8h-176zM487 1759h176v8h-176zM487 1767h168v8h-168zM487 1775h200v8h-200zM487 1783h200v8h-200zM487 1791h200v8h-200zM487 1799h200v8h-200zM487 1807h200v8h-200zM487 1815h200v8h-200z"/>
<path fill="#ffd000" d="M487 1399h48v8h-48zM487 1407h48v8h-48zM487 1415h48v8h-48zM487 1423h48v8h-48zM487 1431h48v8h-48zM487 1439h48v8h-48zM487 1447h48v8h-48zM639 1479h8v8h-8zM639 1487h8v8h-8zM639 1495h8v8h-8zM639 1503h16v8h-16zM663 1503h8v8h-8zM639 1511h16v8h-16zM663 1511h16v8h-16zM639 1519h32v8h-32zM679 1519h8v8h-8zM639 1527h56v8h-56zM647 1535h32v8h-32zM687 1535h16v8h-16zM639 1543h72v8h-72zM639 1551h80v8h-80zM639 1559h88v8h-88zM639 1567h96v8h-96z"/>
<path fill="#23b914" d="M1135 1631h8v8h-8zM1143 1639h8v8h-8zM1119 1647h8v8h-8zM1111 1655h8v8h-8zM1103 1663h8v8h-8zM1159 1663h8v8h-8zM1095 1671h8v8h-8zM1159 1671h8v8h-8zM1095 1679h8v8h-8zM1151 1679h8v8h-8zM1087 1687h8v8h-8zM1143 1687h8v8h-8zM1087 1695h8v8h-8zM1135 1695h8v8h-8zM1119 1703h16v8h-16zM1079 1711h8v8h-8zM1103 1711h16v8h-16zM1079 1719h24v8h-24z"/>
<path fill="#0faf14" d="M1127 1639h16v8h-16zM1143 1647h8v8h-8zM1151 1655h8v8h-8zM1103 1671h8v8h-8zM1095 1687h8v8h-8zM1095 1695h8v8h-8zM1127 1695h8v8h-8zM1087 1703h8v8h-8zM1111 1703h8v8h-8zM1087 1711h16v8h-16z"/>
<path fill="#0fb428" d="M1127 1647h16v8h-16zM1119 1655h8v8h-8zM1143 1655h8v8h-8zM1111 1663h8v8h-8zM1151 1663h8v8h-8zM1111 1671h8v8h-8zM1151 1671h8v8h-8zM1103 1679h8v8h-8zM1143 1679h8v8h-8zM1103 1687h8v8h-8zM1135 1687h8v8h-8zM1111 1695h16v8h-16zM1095 1703h16v8h-16z"/>
<path fill="#0ab432" d="M1127 1655h16v8h-16zM1119 1663h8v8h-8zM1143 1663h8v8h-8zM1143 1671h8v8h-8zM1111 1679h8v8h-8zM1135 1679h8v8h-8zM1111 1687h24v8h-24zM1103 1695h8v8h-8z"/>
<path fill="#08be46" d="M1127 1663h8v8h-8zM1119 1671h8v8h-8zM1135 1671h8v8h-8zM1119 1679h16v8h-16z"/>
<path fill="#06c355" d="M1135 1663h8v8h-8zM1127 1671h8v8h-8z"/>
<path clip-path="url(#tA)" fill="none" stroke="#000" stroke-width="3.2" stroke-linejoin="round" stroke-linecap="round"  d="M554.3,295.0C554.1,297.1 553.9,303.6 553.3,307.4C552.6,311.2 550.3,314.0 550.1,317.8C550.0,321.6 551.4,326.6 552.2,330.2C553.1,333.8 554.8,338.0 555.3,339.5M598.8,295.0C598.5,297.1 597.8,303.3 596.7,307.4C595.7,311.6 594.7,316.0 592.6,319.8C590.5,323.6 586.4,327.4 584.3,330.2C582.2,333.0 581.5,334.3 580.2,336.4C578.8,338.5 576.7,341.6 576.0,342.6M641.2,295.0C640.4,296.4 638.7,300.2 636.1,303.3C633.5,306.4 628.8,310.5 625.7,313.6C622.6,316.7 619.9,319.2 617.4,321.9C615.0,324.7 613.6,326.1 611.2,330.2C608.8,334.3 606.0,341.2 602.9,346.8C599.8,352.3 595.7,358.1 592.6,363.3C589.5,368.5 586.7,373.7 584.3,377.8C581.9,382.0 579.1,386.4 578.1,388.2M688.9,295.0C688.7,297.1 689.0,303.6 687.8,307.4C686.6,311.2 684.4,313.3 681.6,317.8C678.9,322.3 674.7,328.8 671.3,334.3C667.8,339.9 664.4,346.4 660.9,350.9C657.5,355.4 654.7,358.1 650.6,361.3C646.4,364.4 641.2,366.1 636.1,369.5C630.9,373.0 624.7,377.5 619.5,382.0C614.3,386.4 609.5,391.3 605.0,396.4C600.5,401.6 596.0,408.2 592.6,413.0C589.1,417.8 586.2,420.9 584.3,425.4C582.4,429.9 581.7,434.1 581.2,439.9C580.7,445.8 581.7,454.4 581.2,460.6C580.7,466.8 579.0,473.4 578.1,477.2C577.2,481.0 576.4,482.4 576.0,483.4M747.9,295.0C748.0,296.4 749.6,299.5 748.9,303.3C748.2,307.1 746.7,312.3 743.7,317.8C740.8,323.3 736.1,329.9 731.3,336.4C726.5,343.0 721.0,349.2 714.7,357.1C708.5,365.0 700.9,373.7 694.0,384.0C687.1,394.4 678.5,407.5 673.3,419.2C668.2,431.0 667.1,443.4 663.0,454.4C658.8,465.5 652.3,476.8 648.5,485.5C644.7,494.1 642.3,500.0 640.2,506.2C638.1,512.4 636.8,516.5 636.1,522.7C635.4,529.0 636.8,536.5 636.1,543.4C635.4,550.3 633.3,555.5 631.9,564.2C630.5,572.8 628.8,584.9 627.8,595.2C626.8,605.6 625.4,617.6 625.7,626.3C626.1,634.9 627.8,640.1 629.9,647.0C631.9,653.9 635.4,659.7 638.1,667.7C640.9,675.7 645.0,690.4 646.4,695.0M857.6,295.0C854.5,296.4 845.5,299.1 839.0,303.3C832.4,307.4 823.8,314.3 818.3,319.8C812.7,325.4 809.3,330.2 805.8,336.4C802.4,342.6 800.0,349.5 797.6,357.1C795.1,364.7 794.1,373.0 791.3,382.0C788.6,390.9 784.8,401.6 781.0,410.9C777.2,420.3 771.7,431.3 768.6,437.9C765.5,444.4 763.4,443.0 762.4,450.3C761.3,457.5 762.0,471.0 762.4,481.3C762.7,491.7 763.7,502.0 764.4,512.4C765.1,522.7 765.8,533.1 766.5,543.4C767.2,553.8 766.8,564.2 768.6,574.5C770.3,584.9 773.4,595.6 776.9,605.6C780.3,615.6 783.8,624.9 789.3,634.5C794.8,644.2 802.4,655.2 810.0,663.5C817.6,671.8 826.5,679.0 834.8,684.2C843.1,689.5 855.5,693.2 859.7,695.0M487.0,404.7C491.1,404.4 503.9,403.5 511.8,402.7C519.8,401.8 529.4,400.6 534.6,399.6C539.8,398.5 541.5,397.0 542.9,396.4M578.1,397.5C574.3,398.7 561.9,402.5 555.3,404.7C548.8,407.0 543.6,408.5 538.8,410.9C533.9,413.4 527.4,416.5 526.3,419.2C525.3,422.0 532.9,425.8 532.5,427.5C532.2,429.2 528.8,428.2 524.3,429.6C519.8,431.0 509.4,433.4 505.6,435.8C501.8,438.2 502.4,439.9 501.5,444.1C500.6,448.2 500.8,455.1 500.5,460.6C500.1,466.2 499.2,473.1 499.4,477.2C499.6,481.3 499.4,482.7 501.5,485.5C503.6,488.2 510.1,492.4 511.8,493.8M487.0,555.9C490.5,557.9 501.1,565.2 507.7,568.3C514.3,571.4 521.5,574.2 526.3,574.5C531.2,574.8 532.9,572.8 536.7,570.4C540.5,567.9 545.5,562.9 549.1,560.0C552.7,557.1 557.4,554.3 558.4,552.8C559.5,551.2 558.3,550.0 555.3,550.7C552.4,551.4 546.4,555.7 540.8,556.9C535.3,558.1 526.3,558.8 522.2,557.9C518.1,557.1 516.8,554.7 516.0,551.7C515.1,548.8 516.8,542.2 517.0,540.3M584.3,539.3C584.0,543.4 584.0,555.9 582.2,564.2C580.5,572.4 576.0,582.1 574.0,589.0C571.9,595.9 570.7,601.8 569.8,605.6C569.0,609.4 569.5,606.6 568.8,611.8C568.1,616.9 567.2,627.3 565.7,636.6C564.1,645.9 560.8,660.4 559.5,667.7C558.1,674.9 557.6,675.5 557.4,680.1C557.2,684.6 558.3,692.5 558.4,695.0"/>
<path clip-path="url(#tB)" fill="none" stroke="#000" stroke-width="3.2" stroke-linejoin="round" stroke-linecap="round"  d="M967.7,295.0C970.2,297.1 979.1,302.9 982.2,307.4C985.3,311.9 984.0,315.4 986.4,321.9C988.8,328.5 994.0,338.1 996.7,346.8C999.5,355.4 1001.6,365.0 1002.9,373.7C1004.3,382.3 1004.5,387.5 1005.0,398.5C1005.5,409.6 1005.7,426.1 1006.0,439.9C1006.4,453.7 1006.7,471.0 1007.1,481.3C1007.4,491.7 1008.1,491.7 1008.1,502.0C1008.1,512.4 1006.9,531.4 1007.1,543.4C1007.3,555.5 1008.1,564.2 1009.2,574.5C1010.2,584.9 1011.7,596.2 1013.3,605.6C1014.8,614.9 1018.5,623.5 1018.5,630.4C1018.5,637.3 1015.9,641.4 1013.3,647.0C1010.7,652.5 1007.4,658.0 1002.9,663.5C998.5,669.1 992.6,674.8 986.4,680.1C980.2,685.3 969.1,692.5 965.7,695.0M1063.0,295.0C1063.7,297.1 1064.7,303.6 1067.1,307.4C1069.5,311.2 1073.0,315.4 1077.5,317.8C1082.0,320.2 1087.8,320.7 1094.0,321.9C1100.3,323.1 1107.8,324.0 1114.7,325.0C1121.6,326.1 1129.2,327.3 1135.4,328.1C1141.7,329.0 1145.1,329.3 1152.0,330.2C1158.9,331.1 1169.3,333.0 1176.9,333.3C1184.4,333.6 1194.1,332.4 1197.6,332.3M1137.5,300.2C1137.9,299.0 1141.0,297.4 1143.7,297.1C1146.5,296.7 1152.7,297.1 1154.1,298.1C1155.5,299.1 1154.1,302.2 1152.0,303.3C1149.9,304.3 1144.1,304.8 1141.7,304.3C1139.2,303.8 1137.2,301.4 1137.5,300.2M1222.4,409.9C1221.4,410.1 1218.6,412.3 1216.2,410.9C1213.8,409.6 1211.0,402.5 1207.9,401.6C1204.8,400.8 1201.0,405.8 1197.6,405.8C1194.1,405.8 1190.7,402.5 1187.2,401.6C1183.8,400.8 1181.3,399.7 1176.9,400.6C1172.4,401.5 1165.5,403.7 1160.3,406.8C1155.1,409.9 1150.6,413.7 1145.8,419.2C1141.0,424.7 1135.1,433.0 1131.3,439.9C1127.5,446.8 1125.1,453.7 1123.0,460.6C1121.0,467.5 1119.7,472.7 1118.9,481.3C1118.0,490.0 1117.8,503.8 1117.8,512.4C1117.8,521.0 1117.7,526.2 1118.9,533.1C1120.1,540.0 1122.3,546.9 1125.1,553.8C1127.9,560.7 1131.7,568.3 1135.4,574.5C1139.2,580.7 1143.4,585.9 1147.9,591.1C1152.4,596.2 1157.5,601.1 1162.4,605.6C1167.2,610.0 1172.7,613.8 1176.9,618.0C1181.0,622.1 1183.8,625.6 1187.2,630.4C1190.7,635.2 1194.8,641.8 1197.6,647.0C1200.3,652.1 1202.6,658.0 1203.8,661.5C1205.0,664.9 1205.8,662.1 1204.8,667.7C1203.8,673.3 1198.8,690.4 1197.6,695.0"/>
<path clip-path="url(#tC)" fill="none" stroke="#000" stroke-width="3.2" stroke-linejoin="round" stroke-linecap="round"  d="M1287.0,398.5C1289.1,397.8 1294.9,396.4 1299.4,394.4C1303.9,392.3 1309.1,388.0 1313.9,386.1C1318.7,384.2 1323.9,382.3 1328.4,383.0C1332.9,383.7 1337.4,387.0 1340.8,390.2C1344.3,393.5 1348.4,397.8 1349.1,402.7C1349.8,407.5 1346.7,414.0 1345.0,419.2C1343.2,424.4 1340.5,428.5 1338.8,433.7C1337.0,438.9 1334.6,444.8 1334.6,450.3C1334.6,455.8 1336.7,461.7 1338.8,466.8C1340.8,472.0 1343.9,477.5 1347.0,481.3C1350.1,485.1 1353.6,487.9 1357.4,489.6C1361.2,491.3 1366.4,490.3 1369.8,491.7C1373.3,493.1 1375.7,496.2 1378.1,497.9C1380.5,499.6 1382.9,503.1 1384.3,502.0C1385.7,501.0 1385.7,493.1 1386.4,491.7C1387.1,490.3 1388.8,490.3 1388.4,493.8C1388.1,497.2 1383.6,509.3 1384.3,512.4C1385.0,515.5 1389.8,513.4 1392.6,512.4C1395.4,511.4 1398.5,506.5 1400.9,506.2C1403.3,505.8 1405.4,508.6 1407.1,510.3C1408.8,512.0 1408.8,515.8 1411.2,516.5C1413.6,517.2 1418.1,515.5 1421.6,514.5C1425.0,513.4 1428.5,511.7 1431.9,510.3C1435.4,508.9 1437.8,507.2 1442.3,506.2C1446.8,505.1 1453.7,505.7 1458.8,504.1C1464.0,502.6 1467.8,499.6 1473.3,496.9C1478.9,494.1 1489.9,490.5 1492.0,487.5C1494.0,484.6 1487.5,483.8 1485.8,479.3C1484.0,474.8 1483.0,465.8 1481.6,460.6C1480.2,455.5 1479.5,451.7 1477.5,448.2C1475.4,444.8 1471.3,443.4 1469.2,439.9C1467.1,436.5 1466.4,431.6 1465.1,427.5C1463.7,423.4 1462.6,419.6 1460.9,415.1C1459.2,410.6 1456.1,404.4 1454.7,400.6C1453.3,396.8 1454.0,396.4 1452.6,392.3C1451.3,388.2 1447.5,381.6 1446.4,375.7C1445.4,369.9 1446.4,360.2 1446.4,357.1M1612.1,295.0C1611.9,296.4 1609.3,300.5 1611.0,303.3C1612.7,306.0 1618.1,308.5 1622.4,311.6C1626.7,314.7 1634.5,318.8 1636.9,321.9C1639.3,325.0 1640.0,328.8 1636.9,330.2C1633.8,331.6 1622.4,328.5 1618.3,330.2C1614.1,331.9 1613.1,337.1 1612.1,340.5C1611.0,344.0 1610.0,347.4 1612.1,350.9C1614.1,354.4 1620.0,359.9 1624.5,361.3C1629.0,362.6 1633.8,360.6 1639.0,359.2C1644.1,357.8 1650.4,353.3 1655.5,353.0C1660.7,352.6 1665.9,355.0 1670.0,357.1C1674.2,359.2 1677.5,363.8 1680.4,365.4C1683.2,366.9 1685.9,366.3 1687.0,366.4M1574.8,549.7C1576.2,549.0 1579.3,546.6 1583.1,545.5C1586.9,544.5 1595.1,543.8 1597.6,543.4M1614.1,695.0C1616.5,693.9 1622.7,690.2 1628.6,688.4C1634.5,686.6 1642.4,684.9 1649.3,684.2C1656.2,683.5 1663.7,683.5 1670.0,684.2C1676.3,684.9 1684.2,687.7 1687.0,688.4"/>
<path clip-path="url(#tD)" fill="none" stroke="#000" stroke-width="3.2" stroke-linejoin="round" stroke-linecap="round"  d="M1613.0,362.3C1616.1,362.3 1625.4,363.7 1631.6,362.3C1637.8,360.9 1642.3,353.3 1650.3,354.0C1658.2,354.7 1671.0,365.9 1679.3,366.4C1687.5,366.9 1693.1,359.9 1700.0,357.1C1706.9,354.4 1711.0,351.6 1720.7,349.9C1730.3,348.1 1744.8,346.8 1757.9,346.8C1771.0,346.8 1791.1,348.7 1799.3,349.9C1807.6,351.1 1805.5,351.8 1807.6,354.0C1809.7,356.2 1809.7,359.0 1811.8,363.3C1813.8,367.6 1816.6,374.7 1820.0,379.9C1823.5,385.1 1827.3,389.5 1832.5,394.4C1837.6,399.2 1844.5,404.0 1851.1,408.9C1857.7,413.7 1864.9,417.5 1871.8,423.4C1878.7,429.2 1885.6,436.8 1892.5,444.1C1899.4,451.3 1906.3,459.3 1913.2,466.8C1920.1,474.4 1927.0,481.7 1933.9,489.6C1940.8,497.6 1949.4,506.2 1954.6,514.5C1959.8,522.7 1961.9,529.3 1965.0,539.3C1968.1,549.3 1972.0,563.5 1973.2,574.5C1974.5,585.5 1972.9,598.0 1972.2,605.6C1971.5,613.2 1972.0,616.3 1969.1,620.1C1966.2,623.8 1960.5,623.8 1954.6,628.3C1948.7,632.8 1940.8,641.1 1933.9,647.0C1927.0,652.8 1919.1,659.0 1913.2,663.5C1907.3,668.0 1902.2,670.4 1898.7,673.9C1895.3,677.3 1896.0,680.7 1892.5,684.2C1889.1,687.8 1880.4,693.2 1878.0,695.0M1840.7,295.0C1841.8,297.1 1843.5,301.9 1847.0,307.4C1850.4,312.9 1854.9,321.6 1861.4,328.1C1868.0,334.7 1877.7,340.2 1886.3,346.8C1894.9,353.3 1904.9,360.6 1913.2,367.5C1921.5,374.4 1929.1,382.0 1936.0,388.2C1942.9,394.4 1949.1,400.2 1954.6,404.7C1960.1,409.2 1964.6,412.7 1969.1,415.1C1973.6,417.5 1977.0,418.5 1981.5,419.2C1986.0,419.9 1992.2,417.8 1996.0,419.2C1999.8,420.6 2001.5,424.1 2004.3,427.5C2007.1,431.0 2011.6,437.9 2013.0,439.9M1917.3,295.0C1917.3,296.4 1914.6,299.8 1917.3,303.3C1920.1,306.7 1926.0,310.2 1933.9,315.7C1941.8,321.2 1956.3,330.2 1965.0,336.4C1973.6,342.6 1980.1,348.5 1985.7,353.0C1991.2,357.5 1993.5,361.3 1998.1,363.3C2002.6,365.4 2010.5,365.0 2013.0,365.4M1979.5,295.0C1981.2,296.7 1984.2,301.9 1989.8,305.4C1995.4,308.8 2009.1,314.0 2013.0,315.7M1689.6,498.9C1690.6,496.5 1693.4,488.8 1695.8,484.4C1698.2,480.1 1701.9,474.3 1704.1,473.1C1706.3,471.8 1707.9,472.9 1709.3,477.2C1710.7,481.5 1711.9,495.3 1712.4,498.9M1724.8,498.9C1725.5,496.7 1726.9,489.1 1728.9,485.5C1731.0,481.9 1734.1,478.9 1737.2,477.2C1740.3,475.5 1743.4,474.4 1747.6,475.1C1751.7,475.8 1758.4,477.4 1762.1,481.3C1765.7,485.3 1768.1,496.0 1769.3,498.9M1698.9,557.9C1700.5,557.4 1706.7,555.4 1708.2,554.8M1613.0,695.0C1616.5,694.2 1623.4,691.9 1633.7,690.4C1644.1,689.0 1663.0,688.0 1675.1,686.3C1687.2,684.6 1697.5,682.2 1706.2,680.1C1714.8,678.0 1720.0,675.6 1726.9,673.9C1733.8,672.2 1738.9,670.3 1747.6,669.7C1756.2,669.2 1768.3,671.1 1778.6,670.8C1789.0,670.4 1801.1,668.5 1809.7,667.7C1818.3,666.8 1823.5,665.6 1830.4,665.6C1837.3,665.6 1845.9,665.9 1851.1,667.7C1856.3,669.4 1858.3,672.5 1861.4,676.0C1864.6,679.4 1867.7,685.2 1869.7,688.4C1871.8,691.5 1873.2,693.9 1873.9,695.0M1977.4,695.0C1980.5,693.9 1990.1,689.8 1996.0,688.4C2002.0,686.9 2010.2,686.6 2013.0,686.3"/>
<path clip-path="url(#tE)" fill="none" stroke="#000" stroke-width="3.2" stroke-linejoin="round" stroke-linecap="round"  d="M559.5,695.0C559.1,696.7 559.1,701.6 557.4,705.4C555.7,709.1 551.2,714.7 549.1,717.8C547.0,720.9 546.0,720.9 545.0,724.0C543.9,727.1 543.4,731.6 542.9,736.4C542.4,741.2 540.8,748.1 541.9,753.0C542.9,757.8 546.9,761.3 549.1,765.4C551.4,769.5 554.5,771.6 555.3,777.8C556.2,784.0 554.3,794.0 554.3,802.7C554.3,811.3 554.1,822.7 555.3,829.6C556.5,836.5 558.4,840.1 561.5,844.1C564.6,848.0 567.7,851.5 574.0,853.4C580.2,855.3 593.3,854.2 598.8,855.5C604.3,856.7 604.7,857.0 607.1,860.6C609.5,864.3 610.9,872.0 613.3,877.2C615.7,882.4 617.8,886.9 621.6,891.7C625.4,896.5 630.9,902.9 636.1,906.2C641.2,909.5 646.4,910.0 652.6,911.4C658.8,912.7 667.5,914.1 673.3,914.5C679.2,914.8 682.7,912.0 687.8,913.4C693.0,914.8 699.2,919.8 704.4,922.7C709.6,925.7 715.1,927.9 718.9,931.0C722.7,934.1 725.4,935.9 727.2,941.4C728.9,946.9 729.4,957.6 729.2,964.2C729.1,970.7 723.4,977.3 726.1,980.7C728.9,984.2 737.3,983.5 745.8,984.9C754.3,986.2 766.5,987.6 776.9,989.0C787.2,990.4 797.6,992.3 807.9,993.1C818.3,994.0 828.6,994.9 839.0,994.2C849.3,993.5 862.0,990.5 870.0,989.0C878.0,987.4 884.2,985.5 887.0,984.9M855.5,695.0C857.9,695.7 864.8,697.4 870.0,699.1C875.3,700.9 884.2,704.3 887.0,705.4M647.5,695.0C648.3,697.1 651.4,703.3 652.6,707.4C653.8,711.6 655.0,716.7 654.7,719.8C654.4,723.0 651.9,723.3 650.6,726.1C649.2,728.8 646.8,732.6 646.4,736.4C646.1,740.2 647.5,745.4 648.5,748.8C649.5,752.3 652.3,754.4 652.6,757.1C653.0,759.9 649.5,761.9 650.6,765.4C651.6,768.8 655.7,773.0 658.8,777.8C661.9,782.6 666.4,789.5 669.2,794.4C672.0,799.2 673.3,801.5 675.4,806.8C677.5,812.1 676.8,822.0 681.6,826.5C686.4,831.0 697.1,831.5 704.4,833.7C711.6,836.0 718.2,837.5 725.1,839.9C732.0,842.3 739.9,847.3 745.8,848.2C751.7,849.1 755.1,844.1 760.3,845.1C765.5,846.1 770.6,851.8 776.9,854.4C783.1,857.0 790.0,859.6 797.6,860.6C805.2,861.7 815.5,859.6 822.4,860.6C829.3,861.7 833.4,865.1 839.0,866.8C844.5,868.6 847.5,870.5 855.5,871.0C863.5,871.5 881.8,870.1 887.0,869.9M487.0,887.5C489.4,891.0 497.0,903.1 501.5,908.3C506.0,913.4 508.4,915.8 513.9,918.6C519.4,921.4 527.7,922.1 534.6,924.8C541.5,927.6 549.8,930.7 555.3,935.2C560.8,939.7 562.9,947.9 567.7,951.7C572.6,955.5 578.8,955.9 584.3,957.9C589.8,960.0 596.7,961.4 600.9,964.2C605.0,966.9 606.7,970.7 609.2,974.5C611.6,978.3 613.3,983.5 615.4,986.9C617.4,990.4 619.5,991.1 621.6,995.2C623.6,999.3 625.4,1007.6 627.8,1011.8C630.2,1015.9 631.9,1017.3 636.1,1020.1C640.2,1022.8 646.4,1025.2 652.6,1028.3C658.8,1031.4 666.4,1035.6 673.3,1038.7C680.2,1041.8 688.5,1044.6 694.0,1047.0C699.6,1049.4 703.7,1049.7 706.5,1053.2C709.2,1056.6 709.9,1063.5 710.6,1067.7C711.3,1071.8 708.5,1075.3 710.6,1078.0C712.7,1080.8 717.2,1082.9 723.0,1084.2C728.9,1085.6 736.8,1086.3 745.8,1086.3C754.8,1086.3 766.5,1084.8 776.9,1084.2C787.2,1083.7 797.6,1082.9 807.9,1083.2C818.3,1083.5 828.6,1084.8 839.0,1086.3C849.3,1087.9 862.0,1091.1 870.0,1092.5C878.0,1094.0 884.2,1094.6 887.0,1095.0M487.0,1028.3C489.1,1025.6 495.6,1016.4 499.4,1011.8C503.2,1007.1 507.0,1002.3 509.8,1000.4C512.5,998.5 512.5,997.1 516.0,1000.4C519.4,1003.7 525.6,1015.0 530.5,1020.1C535.3,1025.1 540.5,1026.6 545.0,1030.4C549.5,1034.2 553.6,1038.3 557.4,1042.8C561.2,1047.3 563.3,1053.5 567.7,1057.3C572.2,1061.1 579.8,1062.8 584.3,1065.6C588.8,1068.4 593.6,1071.5 594.7,1073.9C595.7,1076.3 592.9,1078.4 590.5,1080.1C588.1,1081.8 580.9,1081.7 580.2,1084.2C579.5,1086.7 585.3,1093.2 586.4,1095.0"/>
<path clip-path="url(#tF)" fill="none" stroke="#000" stroke-width="3.2" stroke-linejoin="round" stroke-linecap="round"  d="M887.0,703.3C892.2,704.1 909.4,708.1 918.1,708.5C926.7,708.8 930.1,707.6 938.8,705.4C947.4,703.1 964.6,696.7 969.8,695.0M1158.2,763.3C1156.2,766.4 1151.3,776.4 1145.8,782.0C1140.3,787.5 1132.0,792.3 1125.1,796.4C1118.2,800.6 1111.3,803.0 1104.4,806.8C1097.5,810.6 1090.6,815.4 1083.7,819.2C1076.8,823.0 1069.9,826.5 1063.0,829.6C1056.1,832.7 1050.9,835.4 1042.3,837.9C1033.7,840.3 1021.6,841.7 1011.2,844.1C1000.9,846.5 990.5,849.6 980.2,852.3C969.8,855.1 959.5,857.9 949.1,860.6C938.8,863.4 926.7,867.0 918.1,868.9C909.4,870.8 902.5,871.7 897.4,872.0C892.2,872.4 888.7,871.2 887.0,871.0M887.0,984.9C890.5,983.5 900.8,979.7 907.7,976.6C914.6,973.5 922.9,969.7 928.4,966.2C933.9,962.8 936.7,959.7 940.8,955.9C945.0,952.1 950.5,945.7 953.3,943.4C956.0,941.2 954.6,941.4 957.4,942.4C960.2,943.4 966.0,947.4 969.8,949.7C973.6,951.9 977.1,954.5 980.2,955.9C983.3,957.2 985.0,958.3 988.4,957.9C991.9,957.6 996.4,956.2 1000.9,953.8C1005.4,951.4 1010.9,947.6 1015.4,943.4C1019.9,939.3 1021.6,933.1 1027.8,929.0C1034.0,924.8 1045.0,921.7 1052.6,918.6C1060.2,915.5 1066.4,913.1 1073.3,910.3C1080.2,907.6 1087.1,904.5 1094.0,902.0C1100.9,899.6 1107.8,898.2 1114.7,895.8C1121.6,893.4 1130.3,890.0 1135.4,887.5C1140.6,885.1 1140.6,884.8 1145.8,881.3C1151.0,877.9 1159.6,871.0 1166.5,866.8C1173.4,862.7 1181.3,859.3 1187.2,856.5C1193.1,853.7 1196.5,853.7 1201.7,850.3C1206.9,846.8 1213.8,840.3 1218.3,835.8C1222.7,831.3 1223.4,827.2 1228.6,823.4C1233.8,819.6 1242.4,816.1 1249.3,813.0C1256.2,809.9 1263.7,806.8 1270.0,804.7C1276.3,802.7 1284.2,801.3 1287.0,800.6M1110.6,1095.0C1111.3,1093.2 1110.6,1087.4 1114.7,1084.2C1118.9,1081.1 1128.5,1078.7 1135.4,1076.0C1142.3,1073.2 1147.5,1070.4 1156.2,1067.7C1164.8,1064.9 1178.6,1061.5 1187.2,1059.4C1195.8,1057.3 1201.0,1057.3 1207.9,1055.2C1214.8,1053.2 1223.4,1050.4 1228.6,1047.0C1233.8,1043.5 1235.5,1034.5 1239.0,1034.5C1242.4,1034.5 1246.6,1043.5 1249.3,1047.0C1252.1,1050.4 1252.1,1053.9 1255.5,1055.2C1259.0,1056.6 1265.9,1056.6 1270.0,1055.2C1274.2,1053.9 1277.5,1049.0 1280.4,1047.0C1283.2,1044.9 1285.9,1043.5 1287.0,1042.8"/>
<path clip-path="url(#tG)" fill="none" stroke="#000" stroke-width="3.2" stroke-linejoin="round" stroke-linecap="round"  d="M1287.0,798.5C1290.5,797.5 1300.8,795.1 1307.7,792.3C1314.6,789.5 1322.2,785.1 1328.4,782.0C1334.6,778.9 1340.1,777.1 1345.0,773.7C1349.8,770.2 1353.9,764.0 1357.4,761.3C1360.8,758.5 1363.3,756.8 1365.7,757.1C1368.1,757.5 1371.5,760.6 1371.9,763.3C1372.2,766.1 1368.1,770.2 1367.7,773.7C1367.4,777.1 1367.4,781.8 1369.8,784.0C1372.2,786.3 1377.4,786.1 1382.2,787.1C1387.1,788.2 1393.6,789.9 1398.8,790.2C1404.0,790.6 1409.5,791.3 1413.3,789.2C1417.1,787.1 1418.5,781.4 1421.6,777.8C1424.7,774.2 1426.8,769.9 1431.9,767.5C1437.1,765.0 1447.5,765.0 1452.6,763.3C1457.8,761.6 1459.5,759.5 1463.0,757.1C1466.4,754.7 1468.2,752.6 1473.3,748.8C1478.5,745.0 1487.8,738.1 1494.0,734.3C1500.3,730.5 1506.5,729.5 1510.6,726.1C1514.7,722.6 1516.5,717.1 1518.9,713.6C1521.3,710.2 1522.3,707.4 1525.1,705.4C1527.9,703.3 1530.3,701.6 1535.4,701.2C1540.6,700.9 1551.0,702.2 1556.2,703.3C1561.3,704.3 1561.3,707.4 1566.5,707.4C1571.7,707.4 1580.3,704.7 1587.2,703.3C1594.1,701.9 1602.7,700.5 1607.9,699.1C1613.1,697.8 1616.5,695.7 1618.3,695.0M1564.4,864.8C1563.1,863.6 1559.3,858.9 1556.2,857.5C1553.0,856.1 1551.0,855.6 1545.8,856.5C1540.6,857.4 1530.3,860.6 1525.1,862.7C1519.9,864.8 1518.5,866.5 1514.7,868.9C1510.9,871.3 1505.1,874.8 1502.3,877.2C1499.6,879.6 1498.2,881.5 1498.2,883.4C1498.2,885.3 1499.6,887.5 1502.3,888.6C1505.1,889.6 1509.9,890.5 1514.7,889.6C1519.6,888.8 1526.5,884.6 1531.3,883.4C1536.1,882.2 1540.6,882.0 1543.7,882.4C1546.8,882.7 1548.9,885.0 1549.9,885.5M1687.0,775.7C1685.2,778.2 1679.4,783.0 1676.2,790.2C1673.1,797.5 1669.7,810.9 1668.0,819.2C1666.2,827.5 1665.9,833.7 1665.9,839.9C1665.9,846.1 1669.0,852.0 1668.0,856.5C1666.9,861.0 1663.6,864.4 1659.7,866.8C1655.7,869.3 1646.7,870.3 1644.1,871.0M1574.8,922.7C1575.8,924.1 1578.2,928.6 1581.0,931.0C1583.8,933.4 1590.7,934.5 1591.3,937.2C1592.0,940.0 1587.6,943.1 1585.1,947.6C1582.7,952.1 1581.7,960.0 1576.9,964.2C1572.0,968.3 1564.8,971.1 1556.2,972.4C1547.5,973.8 1530.3,972.4 1525.1,972.4M1595.5,922.7C1596.2,924.5 1596.5,930.3 1599.6,933.1C1602.7,935.9 1609.6,937.9 1614.1,939.3C1618.6,940.7 1622.4,942.4 1626.5,941.4C1630.7,940.3 1634.5,935.5 1639.0,933.1C1643.5,930.7 1650.5,929.0 1653.5,926.9C1656.4,924.8 1658.1,922.1 1656.6,920.7C1655.0,919.3 1646.2,918.9 1644.1,918.6M1506.5,972.4C1507.8,971.4 1511.6,966.9 1514.7,966.2C1517.8,965.5 1522.7,967.3 1525.1,968.3C1527.5,969.3 1528.5,971.7 1529.2,972.4M1473.3,980.7C1472.5,982.4 1468.8,987.6 1468.2,991.1C1467.5,994.5 1468.2,998.7 1469.2,1001.4C1470.2,1004.2 1473.5,1006.6 1474.4,1007.6M1287.0,1026.3C1289.8,1027.6 1299.4,1034.5 1303.6,1034.5C1307.7,1034.5 1309.4,1029.0 1311.8,1026.3C1314.3,1023.5 1315.6,1019.7 1318.1,1018.0C1320.5,1016.3 1322.9,1016.9 1326.3,1015.9C1329.8,1014.9 1336.7,1012.5 1338.8,1011.8M1431.9,1036.6C1433.7,1037.3 1437.8,1039.4 1442.3,1040.8C1446.8,1042.1 1454.4,1043.2 1458.8,1044.9C1463.3,1046.6 1465.1,1050.4 1469.2,1051.1C1473.3,1051.8 1480.8,1050.4 1483.7,1049.0C1486.6,1047.7 1486.4,1045.9 1486.8,1042.8C1487.1,1039.7 1485.9,1032.5 1485.8,1030.4M1452.6,1059.4C1453.7,1057.7 1456.1,1056.6 1458.8,1057.3C1461.6,1058.0 1464.0,1061.8 1469.2,1063.5C1474.4,1065.3 1485.8,1065.3 1489.9,1067.7C1494.0,1070.1 1494.0,1074.6 1494.0,1078.0C1494.0,1081.5 1492.3,1087.0 1489.9,1088.4C1487.5,1089.8 1484.0,1088.4 1479.5,1086.3C1475.1,1084.2 1467.5,1079.1 1463.0,1076.0C1458.5,1072.8 1454.4,1070.4 1452.6,1067.7C1450.9,1064.9 1451.6,1061.1 1452.6,1059.4M1388.4,1095.0C1389.1,1092.9 1389.8,1085.0 1392.6,1082.2C1395.4,1079.3 1401.2,1077.7 1405.0,1078.0C1408.8,1078.4 1412.3,1081.4 1415.4,1084.2C1418.5,1087.1 1422.3,1093.2 1423.6,1095.0M1587.2,1005.6C1588.2,1003.5 1594.8,998.3 1597.6,997.3C1600.3,996.2 1602.4,997.3 1603.8,999.3C1605.2,1001.4 1604.1,1008.0 1605.8,1009.7C1607.6,1011.4 1611.0,1009.0 1614.1,1009.7C1617.2,1010.4 1623.8,1011.8 1624.5,1013.8C1625.2,1015.9 1621.7,1020.1 1618.3,1022.1C1614.8,1024.2 1606.5,1027.0 1603.8,1026.3C1601.0,1025.6 1603.8,1020.7 1601.7,1018.0C1599.6,1015.2 1593.8,1011.8 1591.3,1009.7C1588.9,1007.6 1586.2,1007.6 1587.2,1005.6M1576.9,1095.0C1577.9,1093.9 1581.0,1089.1 1583.1,1088.4C1585.1,1087.6 1588.6,1089.3 1589.3,1090.4C1590.0,1091.5 1587.6,1094.2 1587.2,1095.0"/>
<path clip-path="url(#tH)" fill="none" stroke="#000" stroke-width="3.2" stroke-linejoin="round" stroke-linecap="round"  d="M1644.1,871.0C1647.5,869.9 1660.6,867.2 1664.8,864.8C1668.9,862.4 1668.9,859.9 1668.9,856.5C1668.9,853.0 1665.4,850.3 1664.8,844.1C1664.1,837.9 1663.0,827.5 1664.8,819.2C1666.5,810.9 1671.7,801.3 1675.1,794.4C1678.6,787.5 1681.3,782.3 1685.5,777.8C1689.6,773.3 1694.8,770.9 1700.0,767.5C1705.1,764.0 1710.3,761.6 1716.5,757.1C1722.7,752.6 1730.3,744.0 1737.2,740.5C1744.1,737.1 1751.0,738.0 1757.9,736.4C1764.8,734.9 1771.7,732.6 1778.6,731.2C1785.5,729.9 1792.4,729.9 1799.3,728.1C1806.2,726.4 1814.9,722.3 1820.0,720.9C1825.2,719.5 1825.2,719.5 1830.4,719.8C1835.6,720.2 1845.9,721.2 1851.1,723.0C1856.3,724.7 1858.0,726.2 1861.4,730.2C1864.9,734.2 1868.3,741.2 1871.8,746.8C1875.2,752.3 1878.0,759.2 1882.2,763.3C1886.3,767.5 1891.5,771.9 1896.6,771.6C1901.8,771.3 1907.7,764.7 1913.2,761.3C1918.7,757.8 1925.3,754.7 1929.8,750.9C1934.3,747.1 1937.7,741.6 1940.1,738.5C1942.5,735.4 1945.0,734.3 1944.3,732.3C1943.6,730.2 1938.1,728.5 1936.0,726.1C1933.9,723.6 1931.2,719.5 1931.8,717.8C1932.5,716.0 1937.4,714.3 1940.1,715.7C1942.9,717.1 1945.0,725.4 1948.4,726.1C1951.9,726.7 1957.4,723.3 1960.8,719.8C1964.3,716.4 1967.0,709.5 1969.1,705.4C1971.2,701.2 1972.6,696.7 1973.2,695.0M1869.7,695.0C1871.5,696.7 1874.6,703.3 1880.1,705.4C1885.6,707.4 1895.6,708.1 1902.9,707.4C1910.1,706.7 1918.0,703.3 1923.6,701.2C1929.1,699.1 1933.9,696.0 1936.0,695.0M2004.3,695.0C2005.8,696.7 2011.6,703.6 2013.0,705.4M1613.0,931.0C1615.4,932.8 1623.4,940.7 1627.5,941.4C1631.6,942.1 1633.4,937.6 1637.8,935.2C1642.3,932.8 1651.3,929.3 1654.4,926.9C1657.5,924.5 1658.2,922.1 1656.5,920.7C1654.8,919.3 1646.1,918.9 1644.1,918.6M1778.6,939.3C1780.4,937.9 1785.5,935.2 1789.0,935.2C1792.4,935.2 1796.9,937.2 1799.3,939.3C1801.8,941.4 1803.8,945.2 1803.5,947.6C1803.1,950.0 1800.0,953.1 1797.3,953.8C1794.5,954.5 1790.0,953.5 1786.9,951.7C1783.8,950.0 1780.0,945.5 1778.6,943.4C1777.3,941.4 1776.9,940.7 1778.6,939.3M1840.7,1016.9C1839.0,1015.0 1834.2,1009.9 1830.4,1005.6C1826.6,1001.2 1822.1,995.7 1818.0,991.1C1813.8,986.4 1808.7,980.0 1805.5,977.6C1802.4,975.2 1802.8,975.7 1799.3,976.6C1795.9,977.4 1788.3,980.7 1784.8,982.8C1781.4,984.9 1780.0,985.9 1778.6,989.0C1777.3,992.1 1777.3,998.7 1776.6,1001.4C1775.9,1004.2 1774.5,1003.5 1774.5,1005.6C1774.5,1007.6 1776.6,1011.8 1776.6,1013.8C1776.6,1015.9 1776.6,1015.6 1774.5,1018.0C1772.4,1020.4 1768.6,1024.9 1764.1,1028.3C1759.7,1031.8 1752.1,1035.6 1747.6,1038.7C1743.1,1041.8 1739.8,1043.5 1737.2,1047.0C1734.6,1050.4 1731.4,1055.9 1732.0,1059.4C1732.7,1062.8 1736.4,1065.9 1741.4,1067.7C1746.4,1069.4 1754.8,1068.7 1762.1,1069.7C1769.3,1070.8 1779.3,1071.8 1784.8,1073.9C1790.4,1076.0 1791.1,1079.7 1795.2,1082.2C1799.3,1084.6 1803.8,1086.6 1809.7,1088.4C1815.6,1090.1 1825.2,1091.4 1830.4,1092.5C1835.6,1093.6 1839.0,1094.6 1840.7,1095.0M1885.9,1049.0C1888.0,1048.7 1894.8,1046.3 1898.7,1047.0C1902.6,1047.7 1904.9,1051.8 1909.1,1053.2C1913.2,1054.6 1919.4,1054.6 1923.6,1055.2C1927.7,1055.9 1930.5,1055.6 1933.9,1057.3C1937.4,1059.0 1941.2,1063.5 1944.3,1065.6C1947.4,1067.7 1949.1,1069.7 1952.5,1069.7C1956.0,1069.7 1959.4,1067.3 1965.0,1065.6C1970.5,1063.9 1979.5,1062.5 1985.7,1059.4C1991.9,1056.3 1997.7,1048.3 2002.2,1047.0C2006.8,1045.6 2011.2,1050.4 2013.0,1051.1M1613.0,1022.1C1614.7,1020.4 1621.3,1012.5 1623.4,1011.8C1625.4,1011.1 1627.1,1015.6 1625.4,1018.0C1623.7,1020.4 1615.1,1024.9 1613.0,1026.3"/>
<path clip-path="url(#tI)" fill="none" stroke="#000" stroke-width="3.2" stroke-linejoin="round" stroke-linecap="round"  d="M590.5,1095.0C594.0,1097.1 604.3,1103.3 611.2,1107.4C618.1,1111.6 625.0,1115.7 631.9,1119.8C638.8,1124.0 645.7,1128.5 652.6,1132.3C659.5,1136.1 666.4,1139.7 673.3,1142.6C680.2,1145.6 687.1,1148.0 694.0,1149.9C700.9,1151.8 709.9,1153.0 714.7,1154.0C719.6,1155.0 719.6,1154.2 723.0,1156.1C726.5,1158.0 732.0,1161.1 735.4,1165.4C738.9,1169.7 741.3,1176.4 743.7,1182.0C746.1,1187.5 746.1,1193.0 749.9,1198.5C753.7,1204.0 760.3,1209.9 766.5,1215.1C772.7,1220.3 780.3,1225.4 787.2,1229.6C794.1,1233.7 801.0,1236.1 807.9,1239.9C814.8,1243.7 822.7,1247.9 828.6,1252.3C834.5,1256.8 837.9,1262.4 843.1,1266.8C848.3,1271.3 854.1,1275.5 859.7,1279.3C865.2,1283.1 872.8,1286.9 876.2,1289.6C879.7,1292.4 880.4,1294.1 880.4,1295.8C880.4,1297.6 876.2,1298.6 876.2,1300.0C876.2,1301.3 878.6,1303.1 880.4,1304.1C882.2,1305.1 885.9,1305.8 887.0,1306.2M839.0,1095.0C842.4,1096.0 851.7,1099.8 859.7,1101.2C867.7,1102.6 882.4,1102.9 887.0,1103.3M487.0,1150.9C490.5,1150.6 500.8,1149.3 507.7,1148.8C514.6,1148.3 521.5,1146.4 528.4,1147.8C535.3,1149.2 542.2,1153.5 549.1,1157.1C556.0,1160.7 562.9,1166.1 569.8,1169.5C576.7,1173.0 583.6,1175.4 590.5,1177.8C597.4,1180.2 604.3,1182.3 611.2,1184.0C618.1,1185.8 625.0,1186.4 631.9,1188.2C638.8,1189.9 647.5,1192.3 652.6,1194.4C657.8,1196.4 659.9,1198.2 663.0,1200.6C666.1,1203.0 669.2,1205.1 671.3,1208.9C673.3,1212.7 673.7,1218.9 675.4,1223.4C677.1,1227.9 679.5,1231.0 681.6,1235.8C683.7,1240.6 685.1,1246.8 687.8,1252.3C690.6,1257.9 694.4,1263.4 698.2,1268.9C702.0,1274.4 706.8,1282.2 710.6,1285.5C714.4,1288.8 718.2,1286.5 721.0,1288.6C723.7,1290.7 724.8,1294.6 727.2,1297.9C729.6,1301.2 730.6,1303.1 735.4,1308.3C740.3,1313.4 749.2,1323.1 756.2,1329.0C763.1,1334.8 766.5,1336.9 776.9,1343.4C787.2,1350.0 803.1,1357.4 818.3,1368.3C833.4,1379.2 858.3,1401.8 868.0,1408.7C877.6,1415.6 873.1,1409.9 876.2,1409.7C879.4,1409.5 885.2,1408.0 887.0,1407.6M487.0,1242.0C490.5,1241.8 500.8,1241.0 507.7,1241.0C514.6,1241.0 521.5,1240.8 528.4,1242.0C535.3,1243.2 542.9,1245.4 549.1,1248.2C555.3,1251.0 560.8,1254.8 565.7,1258.6C570.5,1262.4 573.3,1269.8 578.1,1271.0C582.9,1272.2 589.8,1264.1 594.7,1265.8C599.5,1267.5 604.3,1276.7 607.1,1281.3C609.8,1286.0 609.2,1288.2 611.2,1293.8C613.3,1299.3 616.1,1308.3 619.5,1314.5C623.0,1320.7 627.1,1326.2 631.9,1331.0C636.8,1335.9 643.3,1339.0 648.5,1343.4C653.7,1347.9 658.8,1353.8 663.0,1357.9C667.1,1362.1 668.2,1365.5 673.3,1368.3C678.5,1371.1 687.8,1371.4 694.0,1374.5C700.3,1377.6 703.7,1382.1 710.6,1386.9C717.5,1391.8 726.1,1398.3 735.4,1403.5C744.8,1408.7 757.9,1413.2 766.5,1418.0C775.1,1422.8 780.3,1425.9 787.2,1432.5C794.1,1439.0 801.0,1451.5 807.9,1457.3C814.8,1463.2 821.7,1464.6 828.6,1467.7C835.5,1470.8 843.8,1471.4 849.3,1476.0C854.8,1480.5 859.7,1491.8 861.7,1495.0M487.0,1405.6C488.7,1402.8 493.9,1392.4 497.4,1389.0C500.8,1385.5 502.5,1383.8 507.7,1384.9C512.9,1385.9 521.5,1391.1 528.4,1395.2C535.3,1399.3 542.2,1405.6 549.1,1409.7C556.0,1413.8 562.9,1417.6 569.8,1420.1C576.7,1422.5 583.6,1422.1 590.5,1424.2C597.4,1426.3 604.3,1430.1 611.2,1432.5C618.1,1434.9 626.4,1435.6 631.9,1438.7C637.4,1441.8 640.9,1447.0 644.3,1451.1C647.8,1455.2 648.8,1459.4 652.6,1463.5C656.4,1467.7 661.9,1471.8 667.1,1476.0C672.3,1480.1 679.2,1485.2 683.7,1488.4C688.2,1491.5 692.3,1493.9 694.0,1495.0"/>
<path clip-path="url(#tJ)" fill="none" stroke="#000" stroke-width="3.2" stroke-linejoin="round" stroke-linecap="round"  d="M887.0,1104.3C890.5,1105.5 900.8,1109.0 907.7,1111.6C914.6,1114.2 922.2,1117.4 928.4,1119.8C934.6,1122.3 939.8,1124.3 945.0,1126.1C950.1,1127.8 953.6,1129.2 959.5,1130.2C965.3,1131.2 973.3,1132.4 980.2,1132.3C987.1,1132.1 994.0,1130.5 1000.9,1129.2C1007.8,1127.8 1015.7,1125.2 1021.6,1124.0C1027.4,1122.8 1030.9,1121.6 1036.1,1121.9C1041.2,1122.3 1047.1,1124.5 1052.6,1126.1C1058.2,1127.6 1064.0,1129.9 1069.2,1131.2C1074.4,1132.6 1077.8,1134.0 1083.7,1134.3C1089.6,1134.7 1099.6,1133.1 1104.4,1133.3C1109.2,1133.5 1110.3,1136.2 1112.7,1135.4C1115.1,1134.5 1117.7,1131.4 1118.9,1128.1C1120.1,1124.8 1120.3,1119.8 1119.9,1115.7C1119.6,1111.6 1118.0,1106.7 1116.8,1103.3C1115.6,1099.8 1113.4,1096.4 1112.7,1095.0M887.0,1306.2C888.4,1305.5 893.6,1303.8 895.3,1302.0C897.0,1300.3 894.6,1297.2 897.4,1295.8C900.1,1294.4 906.7,1293.2 911.8,1293.8C917.0,1294.3 923.2,1298.6 928.4,1298.9C933.6,1299.3 939.4,1295.3 942.9,1295.8C946.4,1296.3 946.4,1298.2 949.1,1302.0C951.9,1305.8 955.3,1313.8 959.5,1318.6C963.6,1323.4 969.5,1327.7 974.0,1331.0C978.4,1334.3 981.5,1336.5 986.4,1338.3C991.2,1340.0 997.1,1340.7 1002.9,1341.4C1008.8,1342.1 1015.0,1343.3 1021.6,1342.4C1028.1,1341.5 1035.4,1336.9 1042.3,1336.2C1049.2,1335.5 1056.1,1338.4 1063.0,1338.3C1069.9,1338.1 1076.8,1336.7 1083.7,1335.2C1090.6,1333.6 1097.5,1329.1 1104.4,1329.0C1111.3,1328.8 1119.9,1332.9 1125.1,1334.1C1130.3,1335.3 1132.0,1336.0 1135.4,1336.2C1138.9,1336.4 1141.3,1334.6 1145.8,1335.2C1150.3,1335.7 1157.2,1339.3 1162.4,1339.3C1167.5,1339.3 1171.0,1336.2 1176.9,1335.2C1182.7,1334.1 1190.7,1333.8 1197.6,1333.1C1204.5,1332.4 1212.1,1331.0 1218.3,1331.0C1224.5,1331.0 1229.3,1331.4 1234.8,1333.1C1240.3,1334.8 1247.2,1340.2 1251.4,1341.4C1255.5,1342.6 1256.2,1342.2 1259.7,1340.3C1263.1,1338.4 1267.5,1331.2 1272.1,1330.0C1276.6,1328.8 1284.5,1332.6 1287.0,1333.1M887.0,1407.6C888.7,1409.0 893.9,1413.8 897.4,1415.9C900.8,1418.0 902.5,1417.6 907.7,1420.1C912.9,1422.5 921.5,1426.6 928.4,1430.4C935.3,1434.2 942.2,1439.0 949.1,1442.8C956.0,1446.6 962.9,1450.4 969.8,1453.2C976.7,1455.9 983.6,1458.0 990.5,1459.4C997.4,1460.8 1006.4,1462.5 1011.2,1461.5C1016.1,1460.4 1018.5,1456.3 1019.5,1453.2C1020.5,1450.1 1016.7,1445.6 1017.4,1442.8C1018.1,1440.1 1019.5,1438.3 1023.6,1436.6C1027.8,1434.9 1036.4,1433.5 1042.3,1432.5C1048.1,1431.4 1054.7,1432.1 1058.8,1430.4C1063.0,1428.7 1064.7,1423.5 1067.1,1422.1C1069.5,1420.7 1071.6,1420.7 1073.3,1422.1C1075.1,1423.5 1076.1,1426.3 1077.5,1430.4C1078.9,1434.5 1081.3,1442.5 1081.6,1447.0C1082.0,1451.5 1079.2,1453.2 1079.5,1457.3C1079.9,1461.5 1081.3,1467.3 1083.7,1471.8C1086.1,1476.3 1088.9,1480.8 1094.0,1484.2C1099.2,1487.7 1110.3,1490.7 1114.7,1492.5C1119.2,1494.3 1119.9,1494.6 1121.0,1495.0M1149.9,1495.0C1151.7,1493.2 1157.9,1484.2 1160.3,1484.2C1162.7,1484.2 1163.7,1493.2 1164.4,1495.0"/>
<path clip-path="url(#tK)" fill="none" stroke="#000" stroke-width="3.2" stroke-linejoin="round" stroke-linecap="round"  d="M1392.6,1095.0C1394.0,1096.4 1397.8,1101.7 1400.9,1103.3C1404.0,1104.8 1406.7,1104.3 1411.2,1104.3C1415.7,1104.3 1424.3,1104.1 1427.8,1103.3C1431.2,1102.4 1431.6,1100.5 1431.9,1099.1C1432.3,1097.8 1430.2,1095.7 1429.9,1095.0M1572.7,1146.8C1575.1,1145.0 1582.4,1139.9 1587.2,1136.4C1592.0,1133.0 1597.6,1129.2 1601.7,1126.1C1605.8,1123.0 1610.0,1120.9 1612.1,1117.8C1614.1,1114.7 1612.4,1110.2 1614.1,1107.4C1615.8,1104.7 1619.6,1101.6 1622.4,1101.2C1625.2,1100.9 1627.9,1102.9 1630.7,1105.4C1633.4,1107.8 1634.8,1113.3 1639.0,1115.7C1643.1,1118.1 1651.0,1117.4 1655.5,1119.8C1660.0,1122.3 1663.1,1126.7 1665.9,1130.2C1668.6,1133.6 1671.4,1138.1 1672.1,1140.5C1672.8,1143.0 1670.4,1144.0 1670.0,1144.7M1552.0,1204.7C1552.7,1205.4 1553.7,1208.4 1556.2,1208.9C1558.6,1209.4 1563.1,1208.5 1566.5,1207.8C1570.0,1207.1 1575.1,1205.2 1576.9,1204.7M1599.6,1200.6C1602.7,1200.9 1611.7,1202.7 1618.3,1202.7C1624.8,1202.7 1635.5,1200.9 1639.0,1200.6M1368.8,1198.5C1369.3,1197.1 1370.3,1191.8 1371.9,1190.2C1373.4,1188.7 1376.2,1188.5 1378.1,1189.2C1380.0,1189.9 1382.2,1192.6 1383.3,1194.4C1384.3,1196.2 1384.1,1199.2 1384.3,1200.2M1287.0,1333.1C1289.1,1332.8 1295.3,1330.3 1299.4,1331.0C1303.6,1331.7 1307.0,1334.5 1311.8,1337.2C1316.7,1340.0 1325.0,1344.1 1328.4,1347.6C1331.9,1351.0 1332.2,1354.1 1332.5,1357.9C1332.9,1361.7 1331.5,1366.9 1330.5,1370.4C1329.4,1373.8 1326.9,1376.2 1326.3,1378.6C1325.8,1381.1 1326.0,1382.8 1327.4,1384.9C1328.8,1386.9 1329.3,1390.0 1334.6,1391.1C1340.0,1392.1 1351.9,1390.4 1359.5,1391.1C1367.1,1391.8 1373.3,1393.8 1380.2,1395.2C1387.1,1396.6 1395.0,1397.3 1400.9,1399.3C1406.7,1401.4 1410.2,1404.9 1415.4,1407.6C1420.5,1410.4 1425.7,1413.8 1431.9,1415.9C1438.1,1418.0 1446.8,1418.3 1452.6,1420.1C1458.5,1421.8 1461.9,1424.2 1467.1,1426.3C1472.3,1428.3 1477.5,1430.1 1483.7,1432.5C1489.9,1434.9 1499.2,1438.3 1504.4,1440.8C1509.6,1443.2 1511.3,1444.9 1514.7,1447.0C1518.2,1449.0 1521.6,1453.2 1525.1,1453.2C1528.5,1453.2 1530.3,1447.3 1535.4,1447.0C1540.6,1446.6 1549.9,1450.1 1556.2,1451.1C1562.4,1452.1 1568.6,1451.8 1572.7,1453.2C1576.9,1454.6 1577.5,1458.4 1581.0,1459.4C1584.4,1460.4 1588.9,1460.4 1593.4,1459.4C1597.9,1458.4 1602.0,1455.2 1607.9,1453.2C1613.8,1451.1 1621.7,1448.7 1628.6,1447.0C1635.5,1445.2 1642.4,1444.6 1649.3,1442.8C1656.2,1441.1 1663.7,1438.0 1670.0,1436.6C1676.3,1435.2 1684.2,1434.9 1687.0,1434.5M1560.3,1465.6C1560.6,1463.2 1564.1,1460.4 1566.5,1461.5C1568.9,1462.5 1573.7,1468.7 1574.8,1471.8C1575.8,1474.9 1574.4,1479.4 1572.7,1480.1C1571.0,1480.8 1566.5,1478.4 1564.4,1476.0C1562.4,1473.5 1559.9,1468.0 1560.3,1465.6M1525.1,1495.0C1526.8,1493.6 1530.3,1487.4 1535.4,1486.3C1540.6,1485.2 1549.2,1488.4 1556.2,1488.4C1563.1,1488.4 1570.0,1486.3 1576.9,1486.3C1583.8,1486.3 1592.7,1486.9 1597.6,1488.4C1602.4,1489.8 1604.5,1493.9 1605.8,1495.0"/>
<path clip-path="url(#tL)" fill="none" stroke="#000" stroke-width="3.2" stroke-linejoin="round" stroke-linecap="round"  d="M1613.0,1111.6C1614.4,1109.8 1618.5,1102.6 1621.3,1101.2C1624.0,1099.8 1626.5,1100.9 1629.6,1103.3C1632.7,1105.7 1635.8,1112.6 1639.9,1115.7C1644.1,1118.8 1650.3,1119.5 1654.4,1121.9C1658.5,1124.3 1661.8,1126.7 1664.8,1130.2C1667.7,1133.6 1670.8,1140.5 1672.0,1142.6M1836.6,1095.0C1839.0,1096.0 1847.6,1099.1 1851.1,1101.2C1854.5,1103.3 1857.3,1104.0 1857.3,1107.4C1857.3,1110.9 1852.8,1117.8 1851.1,1121.9C1849.4,1126.1 1847.3,1128.5 1847.0,1132.3C1846.6,1136.1 1847.3,1140.9 1849.0,1144.7C1850.8,1148.5 1853.5,1153.1 1857.3,1155.0C1861.1,1156.9 1867.7,1155.0 1871.8,1156.1C1875.9,1157.1 1877.0,1158.7 1882.2,1161.3C1887.3,1163.8 1899.1,1168.5 1902.9,1171.6C1906.7,1174.7 1905.6,1177.1 1904.9,1179.9C1904.2,1182.6 1901.8,1185.4 1898.7,1188.2C1895.6,1190.9 1890.8,1194.0 1886.3,1196.4C1881.8,1198.9 1877.7,1201.8 1871.8,1202.7C1865.9,1203.5 1858.0,1202.7 1851.1,1201.6C1844.2,1200.6 1835.6,1199.0 1830.4,1196.4C1825.2,1193.9 1823.5,1188.3 1820.0,1186.1C1816.6,1183.9 1813.1,1182.6 1809.7,1183.0C1806.2,1183.3 1802.8,1185.2 1799.3,1188.2C1795.9,1191.1 1791.1,1196.4 1789.0,1200.6C1786.9,1204.7 1786.2,1208.9 1786.9,1213.0C1787.6,1217.2 1790.7,1220.9 1793.1,1225.4C1795.5,1229.9 1799.7,1235.4 1801.4,1239.9C1803.1,1244.4 1804.2,1248.2 1803.5,1252.3C1802.8,1256.5 1798.6,1261.0 1797.3,1264.8C1795.9,1268.6 1795.4,1270.6 1795.2,1275.1C1795.0,1279.6 1794.8,1287.5 1796.2,1291.7C1797.6,1295.8 1800.5,1297.6 1803.5,1300.0C1806.4,1302.4 1810.0,1303.1 1813.8,1306.2C1817.6,1309.3 1822.1,1313.8 1826.3,1318.6C1830.4,1323.4 1835.9,1329.3 1838.7,1335.2C1841.4,1341.0 1841.1,1349.0 1842.8,1353.8C1844.5,1358.6 1848.0,1360.7 1849.0,1364.2C1850.1,1367.6 1849.7,1370.4 1849.0,1374.5C1848.3,1378.6 1845.6,1384.9 1844.9,1389.0C1844.2,1393.1 1843.5,1395.6 1844.9,1399.3C1846.3,1403.1 1850.4,1408.0 1853.2,1411.8C1855.9,1415.6 1859.0,1419.0 1861.4,1422.1C1863.9,1425.2 1866.3,1424.5 1867.7,1430.4C1869.0,1436.3 1869.0,1448.3 1869.7,1457.3C1870.4,1466.3 1871.8,1478.0 1871.8,1484.2C1871.8,1490.5 1870.1,1493.2 1869.7,1495.0M2013.0,1314.5C2011.2,1316.9 2005.8,1324.5 2002.2,1329.0C1998.7,1333.4 1995.7,1339.5 1991.9,1341.4C1988.1,1343.3 1982.9,1342.4 1979.5,1340.3C1976.0,1338.3 1973.9,1331.2 1971.2,1329.0C1968.4,1326.7 1965.7,1326.2 1962.9,1326.9C1960.1,1327.6 1957.7,1330.9 1954.6,1333.1C1951.5,1335.3 1947.4,1339.0 1944.3,1340.3C1941.2,1341.7 1938.7,1338.8 1936.0,1341.4C1933.2,1344.0 1929.8,1351.7 1927.7,1355.9C1925.6,1360.0 1923.2,1363.8 1923.6,1366.2C1923.9,1368.6 1927.4,1368.6 1929.8,1370.4C1932.2,1372.1 1935.6,1373.8 1938.1,1376.6C1940.5,1379.3 1941.8,1384.2 1944.3,1386.9C1946.7,1389.7 1950.8,1390.0 1952.5,1393.1C1954.3,1396.2 1953.6,1400.7 1954.6,1405.6C1955.7,1410.4 1958.4,1416.9 1958.8,1422.1C1959.1,1427.3 1958.4,1432.5 1956.7,1436.6C1955.0,1440.8 1949.8,1441.8 1948.4,1447.0C1947.0,1452.1 1947.7,1461.5 1948.4,1467.7C1949.1,1473.9 1950.5,1479.7 1952.5,1484.2C1954.6,1488.8 1959.4,1493.2 1960.8,1495.0M1613.0,1455.2C1616.5,1453.9 1626.8,1449.4 1633.7,1447.0C1640.6,1444.6 1647.5,1442.8 1654.4,1440.8C1661.3,1438.7 1669.9,1435.2 1675.1,1434.5C1680.3,1433.9 1681.3,1435.2 1685.5,1436.6C1689.6,1438.0 1695.8,1441.4 1700.0,1442.8C1704.1,1444.2 1707.5,1442.8 1710.3,1444.9C1713.1,1447.0 1714.1,1452.1 1716.5,1455.2C1718.9,1458.4 1722.0,1461.8 1724.8,1463.5C1727.6,1465.3 1730.0,1463.9 1733.1,1465.6C1736.2,1467.3 1742.7,1470.1 1743.4,1473.9C1744.1,1477.7 1738.9,1484.9 1737.2,1488.4C1735.5,1491.9 1733.8,1493.9 1733.1,1495.0"/>
<path clip-path="url(#tM)" fill="none" stroke="#000" stroke-width="3.2" stroke-linejoin="round" stroke-linecap="round"  d="M569.8,1421.0C574.3,1421.7 589.8,1423.1 596.7,1425.1C603.6,1427.2 605.4,1431.0 611.2,1433.4C617.1,1435.8 626.1,1436.5 631.9,1439.6C637.8,1442.7 642.3,1447.9 646.4,1452.1C650.6,1456.2 652.3,1460.3 656.8,1464.5C661.3,1468.6 667.1,1472.4 673.3,1476.9C679.5,1481.4 687.8,1486.9 694.0,1491.4C700.3,1495.9 704.7,1498.6 710.6,1503.8C716.5,1509.0 725.8,1516.9 729.2,1522.4C732.7,1528.0 729.2,1533.1 731.3,1536.9C733.4,1540.7 737.2,1541.1 741.7,1545.2C746.1,1549.4 754.8,1556.3 758.2,1561.8C761.7,1567.3 760.6,1574.6 762.4,1578.3C764.1,1582.1 766.2,1582.5 768.6,1584.6C771.0,1586.6 776.2,1587.7 776.9,1590.8C777.5,1593.9 775.5,1598.7 772.7,1603.2C770.0,1607.7 763.4,1611.8 760.3,1617.7C757.2,1623.6 754.8,1633.2 754.1,1638.4C753.4,1643.6 757.2,1643.6 756.2,1648.7C755.1,1653.9 749.2,1664.3 747.9,1669.4C746.5,1674.6 746.5,1676.3 747.9,1679.8C749.2,1683.2 753.7,1685.0 756.2,1690.2C758.6,1695.3 762.0,1704.6 762.4,1710.9C762.7,1717.1 760.3,1722.6 758.2,1727.4C756.2,1732.2 751.7,1735.0 749.9,1739.8C748.2,1744.7 746.8,1751.6 747.9,1756.4C748.9,1761.2 753.4,1765.4 756.2,1768.8C758.9,1772.3 763.1,1773.0 764.4,1777.1C765.8,1781.2 764.8,1788.5 764.4,1793.7C764.1,1798.8 764.8,1804.4 762.4,1808.2C759.9,1812.0 754.4,1814.3 749.9,1816.4C745.5,1818.6 737.9,1820.2 735.4,1821.0M764.4,1421.0C768.2,1423.1 781.7,1428.9 787.2,1433.4C792.7,1437.9 793.1,1442.0 797.6,1447.9C802.0,1453.8 807.2,1463.8 814.1,1468.6C821.0,1473.4 831.4,1474.1 839.0,1476.9C846.6,1479.7 855.2,1480.7 859.7,1485.2C864.2,1489.7 864.8,1495.5 865.9,1503.8C866.9,1512.1 864.8,1528.0 865.9,1534.9C866.9,1541.8 868.6,1544.5 872.1,1545.2C875.6,1545.9 884.5,1540.0 887.0,1539.0M487.0,1512.1C488.7,1516.2 492.2,1530.0 497.4,1536.9C502.5,1543.8 510.5,1547.3 518.1,1553.5C525.6,1559.7 537.0,1569.7 542.9,1574.2C548.8,1578.7 548.8,1579.0 553.3,1580.4C557.7,1581.8 563.6,1581.1 569.8,1582.5C576.0,1583.9 584.3,1587.7 590.5,1588.7C596.7,1589.7 602.9,1586.6 607.1,1588.7C611.2,1590.8 613.3,1595.9 615.4,1601.1C617.4,1606.3 618.1,1615.3 619.5,1619.8C620.9,1624.2 619.9,1626.0 623.6,1628.0C627.4,1630.1 635.7,1631.1 642.3,1632.2C648.8,1633.2 657.8,1632.5 663.0,1634.3C668.2,1636.0 670.4,1639.8 673.3,1642.5C676.3,1645.3 679.5,1646.3 680.6,1650.8C681.6,1655.3 679.2,1664.6 679.5,1669.4C679.9,1674.3 682.3,1676.0 682.7,1679.8C683.0,1683.6 682.5,1688.9 681.6,1692.2C680.8,1695.5 680.6,1698.8 677.5,1699.5C674.4,1700.2 667.8,1698.3 663.0,1696.4C658.2,1694.5 652.3,1690.8 648.5,1688.1C644.7,1685.3 642.6,1680.5 640.2,1679.8C637.8,1679.1 635.0,1681.5 634.0,1683.9C633.0,1686.4 632.6,1691.2 634.0,1694.3C635.4,1697.4 638.1,1700.2 642.3,1702.6C646.4,1705.0 653.7,1707.1 658.8,1708.8C664.0,1710.5 670.9,1710.5 673.3,1712.9C675.8,1715.3 673.0,1720.5 673.3,1723.3C673.7,1726.0 673.3,1728.1 675.4,1729.5C677.5,1730.9 683.2,1730.2 685.8,1731.6C688.3,1732.9 689.9,1734.3 690.9,1737.8C692.0,1741.2 691.5,1748.1 692.0,1752.3C692.5,1756.4 695.1,1759.5 694.0,1762.6C693.0,1765.7 688.2,1768.5 685.8,1770.9C683.3,1773.3 680.9,1774.0 679.5,1777.1C678.2,1780.2 677.1,1785.0 677.5,1789.5C677.8,1794.0 680.6,1798.8 681.6,1804.0C682.7,1809.3 683.3,1818.2 683.7,1821.0M487.0,1603.2C488.4,1607.0 491.8,1619.1 495.3,1626.0C498.7,1632.9 503.6,1639.1 507.7,1644.6C511.8,1650.1 515.0,1653.2 520.1,1659.1C525.3,1665.0 535.0,1674.6 538.8,1679.8C542.6,1685.0 540.1,1686.7 542.9,1690.2C545.7,1693.6 550.8,1696.4 555.3,1700.5C559.8,1704.6 565.7,1709.8 569.8,1715.0C574.0,1720.2 576.0,1725.3 580.2,1731.6C584.3,1737.8 591.9,1747.1 594.7,1752.3C597.4,1757.4 594.0,1758.1 596.7,1762.6C599.5,1767.1 606.0,1773.0 611.2,1779.2C616.4,1785.4 624.0,1792.9 627.8,1799.9C631.6,1806.9 633.0,1817.5 634.0,1821.0M487.0,1719.1C489.1,1722.2 496.0,1732.2 499.4,1737.8C502.9,1743.3 503.6,1747.1 507.7,1752.3C511.8,1757.4 518.7,1763.7 524.3,1768.8C529.8,1774.0 535.7,1778.1 540.8,1783.3C546.0,1788.5 550.5,1793.6 555.3,1799.9C560.2,1806.2 567.4,1817.5 569.8,1821.0M841.0,1686.0C841.7,1684.6 845.7,1688.1 847.2,1690.2C848.8,1692.2 850.4,1696.5 850.4,1698.4C850.4,1700.3 848.5,1701.5 847.2,1701.5C846.0,1701.5 844.1,1701.0 843.1,1698.4C842.1,1695.8 840.3,1687.4 841.0,1686.0M797.6,1715.0C799.1,1714.3 801.7,1716.4 803.8,1719.1C805.8,1721.9 808.9,1728.5 810.0,1731.6C811.0,1734.7 811.4,1737.4 810.0,1737.8C808.6,1738.1 804.3,1736.0 801.7,1733.6C799.1,1731.2 795.1,1726.4 794.5,1723.3C793.8,1720.2 796.0,1715.7 797.6,1715.0M887.0,1723.3C885.9,1726.0 882.5,1734.3 880.4,1739.8C878.2,1745.4 877.6,1751.6 874.2,1756.4C870.7,1761.2 865.5,1764.0 859.7,1768.8C853.8,1773.7 844.1,1779.5 839.0,1785.4C833.8,1791.3 833.4,1799.2 828.6,1804.0C823.8,1808.9 815.2,1811.5 810.0,1814.4C804.8,1817.2 799.6,1819.9 797.6,1821.0"/>
<path clip-path="url(#tN)" fill="none" stroke="#000" stroke-width="3.2" stroke-linejoin="round" stroke-linecap="round"  d="M907.7,1421.0C911.2,1422.7 921.5,1428.2 928.4,1431.4C935.3,1434.5 942.2,1436.2 949.1,1439.6C956.0,1443.1 962.9,1448.6 969.8,1452.1C976.7,1455.5 983.6,1458.6 990.5,1460.3C997.4,1462.1 1006.4,1463.4 1011.2,1462.4C1016.1,1461.4 1018.1,1457.2 1019.5,1454.1C1020.9,1451.0 1017.4,1446.9 1019.5,1443.8C1021.6,1440.7 1026.4,1437.4 1031.9,1435.5C1037.4,1433.6 1047.8,1433.8 1052.6,1432.4C1057.5,1431.0 1058.2,1428.9 1060.9,1427.2C1063.7,1425.5 1066.8,1422.7 1069.2,1422.0C1071.6,1421.3 1073.7,1420.5 1075.4,1423.1C1077.1,1425.7 1078.9,1431.7 1079.5,1437.6C1080.2,1443.4 1078.5,1452.1 1079.5,1458.3C1080.6,1464.5 1081.6,1469.7 1085.8,1474.8C1089.9,1480.0 1097.8,1486.2 1104.4,1489.3C1110.9,1492.4 1120.6,1493.5 1125.1,1493.5C1129.6,1493.5 1130.3,1490.0 1131.3,1489.3M889.1,1539.0C888.9,1543.5 887.3,1560.8 888.0,1565.9C888.7,1571.1 891.3,1566.6 893.2,1570.1C895.1,1573.5 897.0,1581.5 899.4,1586.6C901.8,1591.8 906.0,1595.9 907.7,1601.1C909.4,1606.3 910.5,1613.2 909.8,1617.7C909.1,1622.2 906.0,1624.9 903.6,1628.0C901.1,1631.1 897.0,1632.2 895.3,1636.3C893.6,1640.5 892.5,1648.1 893.2,1652.9C893.9,1657.7 897.0,1661.5 899.4,1665.3C901.8,1669.1 906.3,1672.9 907.7,1675.7C909.1,1678.4 904.9,1680.5 907.7,1681.9C910.5,1683.2 920.5,1682.6 924.3,1683.9C928.1,1685.3 929.8,1687.4 930.5,1690.2C931.2,1692.9 929.8,1697.1 928.4,1700.5C927.0,1704.0 924.3,1707.4 922.2,1710.9C920.1,1714.3 917.7,1718.4 916.0,1721.2C914.3,1724.0 913.9,1727.8 911.8,1727.4C909.8,1727.1 906.7,1720.5 903.6,1719.1C900.5,1717.8 896.0,1718.8 893.2,1719.1C890.5,1719.5 888.0,1720.9 887.0,1721.2M1058.8,1686.0C1061.3,1684.3 1068.8,1679.5 1073.3,1675.7C1077.8,1671.9 1082.3,1666.7 1085.8,1663.2C1089.2,1659.8 1089.9,1657.0 1094.0,1655.0C1098.2,1652.9 1105.4,1653.2 1110.6,1650.8C1115.8,1648.4 1120.3,1643.6 1125.1,1640.5C1129.9,1637.4 1134.4,1634.3 1139.6,1632.2C1144.8,1630.1 1151.3,1630.1 1156.2,1628.0C1161.0,1626.0 1164.4,1622.2 1168.6,1619.8C1172.7,1617.3 1178.9,1614.6 1181.0,1613.5M1067.1,1657.0C1068.2,1655.0 1069.5,1646.3 1073.3,1644.6C1077.1,1642.9 1086.4,1647.7 1089.9,1646.7C1093.3,1645.6 1092.7,1642.2 1094.0,1638.4C1095.4,1634.6 1096.5,1627.0 1098.2,1623.9C1099.9,1620.8 1101.6,1620.8 1104.4,1619.8C1107.2,1618.7 1112.0,1618.7 1114.7,1617.7C1117.5,1616.7 1119.2,1615.6 1121.0,1613.5C1122.7,1611.5 1122.7,1607.3 1125.1,1605.3C1127.5,1603.2 1130.3,1602.5 1135.4,1601.1C1140.6,1599.7 1149.2,1598.4 1156.2,1597.0C1163.1,1595.6 1170.0,1594.9 1176.9,1592.8C1183.8,1590.8 1192.4,1587.0 1197.6,1584.6C1202.7,1582.1 1204.5,1580.4 1207.9,1578.3C1211.4,1576.3 1213.1,1574.6 1218.3,1572.1C1223.4,1569.7 1233.8,1566.3 1239.0,1563.9C1244.1,1561.4 1245.9,1559.0 1249.3,1557.6C1252.8,1556.3 1256.2,1555.2 1259.7,1555.6C1263.1,1555.9 1268.0,1558.0 1270.0,1559.7C1272.1,1561.4 1269.3,1564.2 1272.1,1565.9C1274.9,1567.7 1284.5,1569.4 1287.0,1570.1M1133.4,1619.8C1135.8,1618.7 1143.0,1615.6 1147.9,1613.5C1152.7,1611.5 1158.2,1609.1 1162.4,1607.3C1166.5,1605.6 1168.6,1604.6 1172.7,1603.2C1176.9,1601.8 1181.3,1600.4 1187.2,1599.1C1193.1,1597.7 1201.0,1595.6 1207.9,1594.9C1214.8,1594.2 1223.4,1595.3 1228.6,1594.9C1233.8,1594.6 1235.5,1592.5 1239.0,1592.8C1242.4,1593.2 1245.9,1596.6 1249.3,1597.0C1252.8,1597.3 1256.2,1594.6 1259.7,1594.9C1263.1,1595.3 1265.5,1597.7 1270.0,1599.1C1274.6,1600.4 1284.2,1602.5 1287.0,1603.2M1166.5,1615.6C1168.2,1614.6 1171.7,1611.5 1176.9,1609.4C1182.0,1607.3 1190.7,1604.6 1197.6,1603.2C1204.5,1601.8 1211.4,1601.1 1218.3,1601.1C1225.2,1601.1 1233.8,1602.2 1239.0,1603.2C1244.1,1604.2 1247.6,1605.3 1249.3,1607.3C1251.0,1609.4 1249.3,1614.2 1249.3,1615.6M1106.5,1721.2C1108.5,1720.2 1115.1,1716.7 1118.9,1715.0C1122.7,1713.3 1127.2,1713.3 1129.2,1710.9C1131.3,1708.4 1131.3,1704.6 1131.3,1700.5C1131.3,1696.4 1128.9,1691.5 1129.2,1686.0C1129.6,1680.5 1130.6,1669.4 1133.4,1667.4C1136.1,1665.3 1142.0,1673.6 1145.8,1673.6C1149.6,1673.6 1151.7,1669.4 1156.2,1667.4C1160.6,1665.3 1168.6,1662.9 1172.7,1661.2C1176.9,1659.4 1179.6,1657.7 1181.0,1657.0M1152.0,1721.2C1153.7,1717.1 1159.3,1701.5 1162.4,1696.4C1165.5,1691.2 1167.5,1692.6 1170.6,1690.2C1173.7,1687.7 1178.2,1685.0 1181.0,1681.9C1183.8,1678.8 1186.2,1673.2 1187.2,1671.5M1162.4,1741.9C1165.5,1741.6 1176.9,1741.2 1181.0,1739.8C1185.1,1738.5 1184.4,1736.7 1187.2,1733.6C1190.0,1730.5 1194.1,1726.7 1197.6,1721.2C1201.0,1715.7 1205.2,1705.7 1207.9,1700.5C1210.7,1695.3 1211.7,1693.3 1214.1,1690.2C1216.5,1687.0 1218.3,1683.9 1222.4,1681.9C1226.5,1679.8 1232.8,1678.1 1239.0,1677.7C1245.2,1677.4 1251.7,1680.1 1259.7,1679.8C1267.7,1679.5 1282.4,1676.3 1287.0,1675.7M1011.2,1754.3C1012.6,1757.4 1016.1,1771.6 1019.5,1773.0C1023.0,1774.3 1028.1,1766.1 1031.9,1762.6C1035.7,1759.2 1038.8,1755.4 1042.3,1752.3C1045.7,1749.2 1048.5,1747.4 1052.6,1744.0C1056.8,1740.5 1063.7,1735.7 1067.1,1731.6C1070.6,1727.4 1072.3,1721.2 1073.3,1719.1M1000.9,1773.0C1001.2,1775.7 1001.6,1784.4 1002.9,1789.5C1004.3,1794.7 1007.8,1798.8 1009.2,1804.0C1010.5,1809.3 1010.9,1818.2 1011.2,1821.0M1094.0,1793.7C1095.1,1791.6 1097.5,1784.4 1100.3,1781.2C1103.0,1778.1 1106.5,1776.4 1110.6,1775.0C1114.7,1773.7 1121.0,1774.0 1125.1,1773.0C1129.2,1771.9 1132.7,1770.6 1135.4,1768.8C1138.2,1767.1 1138.2,1764.7 1141.7,1762.6C1145.1,1760.5 1150.3,1757.8 1156.2,1756.4C1162.0,1755.0 1171.7,1756.1 1176.9,1754.3C1182.0,1752.6 1183.8,1748.1 1187.2,1746.1C1190.7,1744.0 1194.1,1743.3 1197.6,1741.9C1201.0,1740.5 1204.5,1738.8 1207.9,1737.8C1211.4,1736.7 1213.1,1735.7 1218.3,1735.7C1223.4,1735.7 1232.1,1738.1 1239.0,1737.8C1245.9,1737.4 1254.5,1734.7 1259.7,1733.6C1264.8,1732.6 1265.5,1731.2 1270.0,1731.6C1274.6,1731.9 1284.2,1735.0 1287.0,1735.7M1102.3,1789.5C1102.7,1791.9 1103.0,1799.9 1104.4,1804.0C1105.8,1808.2 1107.2,1812.3 1110.6,1814.4C1114.1,1816.4 1120.3,1817.5 1125.1,1816.4C1129.9,1815.4 1136.1,1811.3 1139.6,1808.2C1143.0,1805.1 1143.0,1800.2 1145.8,1797.8C1148.6,1795.4 1152.0,1795.7 1156.2,1793.7C1160.3,1791.6 1167.2,1788.1 1170.6,1785.4C1174.1,1782.6 1175.8,1778.5 1176.9,1777.1M913.9,1760.5C916.0,1758.8 922.2,1760.5 924.3,1762.6C926.3,1764.7 926.7,1769.2 926.3,1773.0C926.0,1776.8 923.6,1782.3 922.2,1785.4C920.8,1788.5 920.1,1790.6 918.1,1791.6C916.0,1792.6 911.5,1792.6 909.8,1791.6C908.0,1790.6 907.4,1788.5 907.7,1785.4C908.0,1782.3 910.8,1777.1 911.8,1773.0C912.9,1768.8 911.8,1762.3 913.9,1760.5M980.2,1764.7C980.5,1761.6 982.9,1753.3 984.3,1750.2C985.7,1747.1 987.4,1745.7 988.4,1746.1C989.5,1746.4 990.5,1749.5 990.5,1752.3C990.5,1755.0 989.8,1759.9 988.4,1762.6C987.1,1765.4 983.6,1768.5 982.2,1768.8C980.9,1769.2 979.8,1767.8 980.2,1764.7M1073.3,1821.0C1075.1,1818.2 1080.2,1810.3 1083.7,1804.0C1087.1,1797.7 1091.3,1788.5 1094.0,1783.3C1096.8,1778.1 1099.2,1774.7 1100.3,1773.0M1263.8,1773.0C1265.9,1771.6 1272.4,1765.4 1276.2,1764.7C1280.1,1764.0 1285.2,1768.1 1287.0,1768.8M1263.8,1773.0C1264.8,1776.4 1266.2,1788.1 1270.0,1793.7C1273.9,1799.2 1284.2,1804.0 1287.0,1806.1M1131.3,1700.5C1133.0,1698.8 1138.2,1692.6 1141.7,1690.2C1145.1,1687.7 1148.6,1687.7 1152.0,1686.0C1155.5,1684.3 1159.6,1682.6 1162.4,1679.8C1165.1,1677.0 1167.5,1671.2 1168.6,1669.4"/>
<path clip-path="url(#tO)" fill="none" stroke="#000" stroke-width="3.2" stroke-linejoin="round" stroke-linecap="round"  d="M1458.8,1421.0C1461.3,1422.0 1467.5,1424.8 1473.3,1427.2C1479.2,1429.6 1487.1,1432.4 1494.0,1435.5C1500.9,1438.6 1509.6,1443.1 1514.7,1445.8C1519.9,1448.6 1521.6,1451.7 1525.1,1452.1C1528.5,1452.4 1530.3,1447.9 1535.4,1447.9C1540.6,1447.9 1549.2,1451.0 1556.2,1452.1C1563.1,1453.1 1571.7,1452.7 1576.9,1454.1C1582.0,1455.5 1583.8,1459.8 1587.2,1460.3C1590.7,1460.9 1592.4,1459.0 1597.6,1457.2C1602.7,1455.5 1611.4,1452.2 1618.3,1450.0C1625.2,1447.7 1632.1,1445.8 1639.0,1443.8C1645.9,1441.7 1653.8,1439.1 1659.7,1437.6C1665.5,1436.0 1669.6,1435.1 1674.2,1434.5C1678.7,1433.8 1684.9,1433.6 1687.0,1433.4M1365.7,1545.2C1368.1,1543.8 1375.3,1539.7 1380.2,1536.9C1385.0,1534.2 1389.5,1529.7 1394.7,1528.7C1399.8,1527.6 1406.7,1529.0 1411.2,1530.7C1415.7,1532.5 1418.1,1538.0 1421.6,1539.0C1425.0,1540.0 1428.1,1538.0 1431.9,1536.9C1435.7,1535.9 1440.9,1534.5 1444.3,1532.8C1447.8,1531.1 1450.2,1526.6 1452.6,1526.6C1455.0,1526.6 1457.1,1534.2 1458.8,1532.8C1460.6,1531.4 1460.6,1521.4 1463.0,1518.3C1465.4,1515.2 1468.8,1514.5 1473.3,1514.2C1477.8,1513.8 1486.4,1514.5 1489.9,1516.2C1493.3,1518.0 1489.9,1523.5 1494.0,1524.5C1498.2,1525.6 1507.8,1522.8 1514.7,1522.4C1521.6,1522.1 1530.3,1521.1 1535.4,1522.4C1540.6,1523.8 1542.7,1528.7 1545.8,1530.7C1548.9,1532.8 1551.7,1535.2 1554.1,1534.9C1556.5,1534.5 1556.5,1530.7 1560.3,1528.7C1564.1,1526.6 1571.3,1524.2 1576.9,1522.4C1582.4,1520.7 1588.2,1519.3 1593.4,1518.3C1598.6,1517.3 1605.5,1516.6 1607.9,1516.2M1287.0,1603.2C1290.5,1601.8 1301.5,1597.0 1307.7,1594.9C1313.9,1592.8 1319.1,1590.8 1324.3,1590.8C1329.4,1590.8 1334.3,1594.9 1338.8,1594.9C1343.2,1594.9 1347.7,1590.1 1351.2,1590.8C1354.6,1591.5 1355.7,1596.6 1359.5,1599.1C1363.3,1601.5 1368.8,1604.6 1374.0,1605.3C1379.1,1606.0 1386.4,1602.2 1390.5,1603.2C1394.7,1604.2 1397.4,1608.4 1398.8,1611.5C1400.2,1614.6 1400.5,1618.7 1398.8,1621.8C1397.1,1624.9 1389.1,1627.7 1388.4,1630.1C1387.8,1632.5 1392.6,1633.2 1394.7,1636.3C1396.7,1639.4 1399.1,1644.3 1400.9,1648.7C1402.6,1653.2 1402.6,1660.5 1405.0,1663.2C1407.4,1666.0 1413.3,1667.7 1415.4,1665.3C1417.4,1662.9 1416.1,1653.2 1417.4,1648.7C1418.8,1644.3 1420.5,1641.2 1423.6,1638.4C1426.8,1635.6 1435.0,1634.6 1436.1,1632.2C1437.1,1629.8 1429.9,1627.3 1429.9,1623.9C1429.9,1620.4 1433.7,1616.0 1436.1,1611.5C1438.5,1607.0 1441.6,1601.5 1444.3,1597.0C1447.1,1592.5 1449.2,1586.3 1452.6,1584.6C1456.1,1582.8 1463.0,1586.3 1465.1,1586.6M1367.7,1582.5C1369.8,1579.7 1376.7,1570.8 1380.2,1565.9C1383.6,1561.1 1386.0,1555.2 1388.4,1553.5C1390.9,1551.8 1392.2,1555.9 1394.7,1555.6C1397.1,1555.2 1400.2,1551.1 1402.9,1551.4C1405.7,1551.8 1408.1,1558.3 1411.2,1557.6C1414.3,1557.0 1418.1,1549.4 1421.6,1547.3C1425.0,1545.2 1428.8,1546.9 1431.9,1545.2C1435.0,1543.5 1437.8,1538.0 1440.2,1536.9C1442.6,1535.9 1445.0,1535.6 1446.4,1539.0C1447.8,1542.5 1446.4,1555.9 1448.5,1557.6C1450.6,1559.4 1455.4,1552.8 1458.8,1549.4C1462.3,1545.9 1465.1,1539.4 1469.2,1536.9C1473.3,1534.5 1477.8,1535.4 1483.7,1534.9C1489.6,1534.4 1497.5,1533.5 1504.4,1533.8C1511.3,1534.2 1518.2,1535.0 1525.1,1536.9C1532.0,1538.8 1540.6,1544.2 1545.8,1545.2C1551.0,1546.3 1551.0,1544.9 1556.2,1543.2C1561.3,1541.4 1571.7,1537.6 1576.9,1534.9C1582.0,1532.1 1583.1,1529.4 1587.2,1526.6C1591.3,1523.8 1598.2,1520.0 1601.7,1518.3C1605.2,1516.6 1606.9,1516.6 1607.9,1516.2M1417.4,1565.9C1419.9,1567.3 1426.1,1572.7 1431.9,1574.2C1437.8,1575.8 1446.8,1575.2 1452.6,1575.2C1458.5,1575.2 1464.7,1574.4 1467.1,1574.2M1566.5,1606.3C1570.0,1606.8 1579.3,1608.2 1587.2,1609.4C1595.1,1610.6 1608.9,1610.4 1614.1,1613.5C1619.3,1616.7 1615.8,1624.2 1618.3,1628.0C1620.7,1631.8 1625.2,1631.8 1628.6,1636.3C1632.1,1640.8 1635.5,1649.8 1639.0,1655.0C1642.4,1660.1 1645.9,1665.0 1649.3,1667.4C1652.8,1669.8 1657.3,1667.0 1659.7,1669.4C1662.1,1671.9 1662.4,1677.7 1663.8,1681.9C1665.2,1686.0 1665.2,1691.2 1668.0,1694.3C1670.7,1697.4 1677.2,1698.8 1680.4,1700.5C1683.5,1702.2 1685.9,1704.0 1687.0,1704.6M1525.1,1497.6C1526.1,1495.2 1530.3,1491.0 1535.4,1489.3C1540.6,1487.6 1551.0,1486.9 1556.2,1487.3C1561.3,1487.6 1563.1,1491.0 1566.5,1491.4C1570.0,1491.7 1571.7,1489.7 1576.9,1489.3C1582.0,1489.0 1593.1,1487.9 1597.6,1489.3C1602.0,1490.7 1604.5,1495.2 1603.8,1497.6C1603.1,1500.0 1598.6,1503.0 1593.4,1503.8C1588.2,1504.7 1578.9,1502.1 1572.7,1502.8C1566.5,1503.5 1560.6,1506.7 1556.2,1508.0C1551.7,1509.2 1550.3,1510.7 1545.8,1510.0C1541.3,1509.3 1532.7,1505.9 1529.2,1503.8C1525.8,1501.7 1524.1,1500.0 1525.1,1497.6M1287.0,1739.8C1290.5,1740.2 1300.8,1739.8 1307.7,1741.9C1314.6,1744.0 1324.3,1749.2 1328.4,1752.3C1332.5,1755.4 1333.2,1757.4 1332.5,1760.5C1331.9,1763.7 1328.4,1768.8 1324.3,1770.9C1320.1,1773.0 1312.9,1773.3 1307.7,1773.0C1302.5,1772.6 1296.7,1769.9 1293.2,1768.8C1289.8,1767.8 1288.0,1767.1 1287.0,1766.8M1287.0,1808.2C1290.5,1808.5 1299.1,1809.5 1307.7,1810.2C1316.3,1810.9 1329.8,1811.6 1338.8,1812.3C1347.7,1813.0 1358.1,1812.9 1361.5,1814.4C1365.0,1815.8 1359.8,1819.9 1359.5,1821.0M1483.7,1760.5C1484.0,1757.1 1484.0,1745.4 1485.8,1739.8C1487.5,1734.3 1490.9,1731.2 1494.0,1727.4C1497.1,1723.6 1499.2,1720.2 1504.4,1717.1C1509.6,1714.0 1518.2,1711.9 1525.1,1708.8C1532.0,1705.7 1538.9,1701.5 1545.8,1698.4C1552.7,1695.3 1559.6,1692.2 1566.5,1690.2C1573.4,1688.1 1582.0,1686.7 1587.2,1686.0C1592.4,1685.3 1594.1,1684.3 1597.6,1686.0C1601.0,1687.7 1605.8,1692.2 1607.9,1696.4C1610.0,1700.5 1609.6,1708.4 1610.0,1710.9M1494.0,1810.2C1497.5,1810.9 1507.8,1812.6 1514.7,1814.4C1521.6,1816.2 1532.0,1819.9 1535.4,1821.0M1645.2,1744.0C1646.9,1741.2 1651.4,1731.2 1655.5,1727.4C1659.7,1723.6 1664.8,1721.6 1670.0,1721.2C1675.3,1720.9 1684.2,1724.7 1687.0,1725.3M1287.0,1570.1C1289.1,1569.4 1296.3,1567.0 1299.4,1565.9C1302.5,1564.9 1305.6,1565.2 1305.6,1563.9C1305.6,1562.5 1300.5,1558.7 1299.4,1557.6"/>
<path clip-path="url(#tP)" fill="none" stroke="#000" stroke-width="3.2" stroke-linejoin="round" stroke-linecap="round"  d="M1613.0,1454.1C1616.5,1452.9 1626.8,1449.0 1633.7,1446.9C1640.6,1444.8 1647.9,1443.6 1654.4,1441.7C1661.0,1439.8 1668.6,1436.5 1673.0,1435.5C1677.5,1434.5 1677.5,1434.6 1681.3,1435.5C1685.1,1436.4 1691.0,1438.9 1695.8,1440.7C1700.6,1442.4 1707.2,1443.9 1710.3,1445.8C1713.4,1447.7 1712.7,1449.0 1714.4,1452.1C1716.2,1455.2 1716.9,1461.4 1720.7,1464.5C1724.5,1467.6 1733.4,1469.0 1737.2,1470.7C1741.0,1472.4 1743.4,1472.1 1743.4,1474.8C1743.4,1477.6 1739.6,1483.1 1737.2,1487.3C1734.8,1491.4 1731.0,1495.9 1728.9,1499.7C1726.9,1503.5 1726.9,1507.6 1724.8,1510.0C1722.7,1512.4 1720.0,1514.5 1716.5,1514.2C1713.1,1513.8 1706.2,1509.0 1704.1,1508.0M1658.5,1523.5C1661.3,1525.0 1670.3,1531.9 1675.1,1532.8C1679.9,1533.7 1684.8,1530.2 1687.5,1528.7C1690.3,1527.1 1691.0,1524.3 1691.7,1523.5M1865.6,1421.0C1866.6,1422.4 1870.4,1424.1 1871.8,1429.3C1873.2,1434.5 1873.9,1443.1 1873.9,1452.1C1873.9,1461.0 1873.2,1474.5 1871.8,1483.1C1870.4,1491.7 1868.3,1497.6 1865.6,1503.8C1862.8,1510.0 1858.0,1514.9 1855.2,1520.4C1852.5,1525.9 1852.1,1531.1 1849.0,1536.9C1845.9,1542.8 1840.1,1549.0 1836.6,1555.6C1833.2,1562.1 1830.0,1570.1 1828.3,1576.3C1826.6,1582.5 1825.9,1587.7 1826.3,1592.8C1826.6,1598.0 1830.7,1603.2 1830.4,1607.3C1830.0,1611.5 1827.6,1614.9 1824.2,1617.7C1820.7,1620.4 1813.8,1621.5 1809.7,1623.9C1805.5,1626.3 1800.7,1629.4 1799.3,1632.2C1798.0,1634.9 1803.1,1638.4 1801.4,1640.5C1799.7,1642.5 1793.5,1642.2 1789.0,1644.6C1784.5,1647.0 1777.6,1650.8 1774.5,1655.0C1771.4,1659.1 1770.7,1664.3 1770.3,1669.4C1770.0,1674.6 1772.8,1680.8 1772.4,1686.0C1772.1,1691.2 1769.7,1695.3 1768.3,1700.5C1766.9,1705.7 1764.5,1712.6 1764.1,1717.1C1763.8,1721.6 1763.8,1724.7 1766.2,1727.4C1768.6,1730.2 1775.5,1731.9 1778.6,1733.6C1781.7,1735.4 1782.8,1734.0 1784.8,1737.8C1786.9,1741.6 1786.9,1752.3 1791.1,1756.4C1795.2,1760.5 1804.9,1760.5 1809.7,1762.6C1814.5,1764.7 1816.8,1767.1 1820.0,1768.8C1823.2,1770.6 1827.5,1772.3 1828.9,1773.0M1956.7,1421.0C1957.0,1422.7 1959.8,1427.6 1958.8,1431.4C1957.7,1435.1 1952.2,1438.6 1950.5,1443.8C1948.7,1449.0 1947.7,1456.2 1948.4,1462.4C1949.1,1468.6 1951.9,1474.8 1954.6,1481.0C1957.4,1487.3 1961.5,1492.4 1965.0,1499.7C1968.4,1506.9 1973.2,1517.6 1975.3,1524.5C1977.4,1531.4 1977.7,1534.2 1977.4,1541.1C1977.0,1548.0 1973.2,1558.3 1973.2,1565.9C1973.2,1573.5 1975.7,1579.7 1977.4,1586.6C1979.1,1593.5 1982.2,1602.2 1983.6,1607.3C1985.0,1612.5 1983.9,1612.9 1985.7,1617.7C1987.4,1622.5 1990.5,1630.5 1994.0,1636.3C1997.4,1642.2 2003.2,1649.8 2006.4,1652.9C2009.5,1656.0 2011.9,1654.6 2013.0,1655.0M1613.0,1628.0C1614.7,1628.4 1619.9,1627.3 1623.4,1630.1C1626.8,1632.9 1630.3,1639.8 1633.7,1644.6C1637.2,1649.4 1639.9,1655.0 1644.1,1659.1C1648.2,1663.2 1655.1,1665.0 1658.5,1669.4C1662.0,1673.9 1662.0,1682.9 1664.8,1686.0C1667.5,1689.1 1671.0,1685.7 1675.1,1688.1C1679.3,1690.5 1688.6,1697.4 1689.6,1700.5C1690.6,1703.6 1680.3,1704.3 1681.3,1706.7C1682.4,1709.1 1691.7,1712.9 1695.8,1715.0C1700.0,1717.1 1702.7,1717.1 1706.2,1719.1C1709.6,1721.2 1712.7,1724.3 1716.5,1727.4C1720.3,1730.5 1724.8,1734.0 1728.9,1737.8C1733.1,1741.6 1736.5,1746.1 1741.4,1750.2C1746.2,1754.3 1753.4,1758.8 1757.9,1762.6C1762.4,1766.4 1764.1,1769.5 1768.3,1773.0C1772.4,1776.4 1779.3,1782.6 1782.8,1783.3C1786.2,1784.0 1786.2,1778.5 1789.0,1777.1C1791.7,1775.7 1795.5,1775.7 1799.3,1775.0C1803.1,1774.3 1808.3,1773.0 1811.8,1773.0C1815.2,1773.0 1817.2,1774.0 1820.0,1775.0C1822.9,1776.1 1827.5,1778.5 1828.9,1779.2M1646.1,1752.3C1647.5,1748.1 1651.0,1732.6 1654.4,1727.4C1657.9,1722.2 1662.3,1721.2 1666.8,1721.2C1671.3,1721.2 1675.5,1724.7 1681.3,1727.4C1687.2,1730.2 1697.5,1733.6 1702.0,1737.8C1706.5,1741.9 1706.9,1747.1 1708.2,1752.3C1709.6,1757.4 1709.3,1763.7 1710.3,1768.8C1711.3,1774.0 1712.0,1779.2 1714.4,1783.3C1716.9,1787.5 1721.0,1791.3 1724.8,1793.7C1728.6,1796.1 1731.7,1796.8 1737.2,1797.8C1742.7,1798.8 1751.0,1798.8 1757.9,1799.9C1764.8,1800.9 1771.7,1803.0 1778.6,1804.0C1785.5,1805.1 1793.1,1805.1 1799.3,1806.1C1805.5,1807.1 1812.4,1807.7 1815.9,1810.2C1819.3,1812.7 1819.3,1819.2 1820.0,1821.0"/>
<ellipse cx="1395.7" cy="1513.1" rx="6.2" ry="4.1" fill="none" stroke="#000" stroke-width="3.2"/>
<ellipse cx="1428.8" cy="1513.1" rx="12.4" ry="8.3" fill="none" stroke="#000" stroke-width="3.2"/>
<ellipse cx="1510.6" cy="1514.2" rx="7.2" ry="5.2" fill="none" stroke="#000" stroke-width="3.2"/>
<ellipse cx="1564.4" cy="1473.8" rx="6.2" ry="7.2" fill="none" stroke="#000" stroke-width="3.2"/>
<ellipse cx="1603.8" cy="1557.6" rx="9.3" ry="9.3" fill="none" stroke="#000" stroke-width="3.2"/>
<ellipse cx="1556.2" cy="1568.0" rx="9.3" ry="4.1" fill="none" stroke="#000" stroke-width="3.2"/>
<ellipse cx="1661.7" cy="1619.8" rx="9.3" ry="5.2" fill="none" stroke="#000" stroke-width="3.2"/>
<ellipse cx="1485.8" cy="1549.4" rx="4.1" ry="6.2" fill="none" stroke="#000" stroke-width="3.2"/>
<ellipse cx="1371.9" cy="1532.8" rx="6.2" ry="8.3" fill="none" stroke="#000" stroke-width="3.2"/>
<ellipse cx="1663.7" cy="1620.8" rx="9.3" ry="4.6" fill="none" stroke="#000" stroke-width="3.2"/>
<ellipse cx="1716.5" cy="1573.2" rx="4.1" ry="3.1" fill="none" stroke="#000" stroke-width="3.2"/>
<ellipse cx="1740.3" cy="1678.8" rx="11.4" ry="3.7" fill="none" stroke="#000" stroke-width="3.2"/>
<ellipse cx="1168.6" cy="1675.7" rx="6.2" ry="6.2" fill="none" stroke="#000" stroke-width="3.2"/>
<ellipse cx="1156.2" cy="1721.2" rx="8.3" ry="6.2" fill="none" stroke="#000" stroke-width="3.2"/>
<path fill="#000" stroke="#fff" stroke-width="0.9" stroke-linejoin="miter" d="M485.2,301.0L490.1,289.4L494.5,291.2L492.9,276.9L481.6,285.7L485.9,287.6L481.0,299.2zM537.1,303.9L542.4,288.2L547.5,289.9L544.7,273.9L532.6,284.9L537.7,286.6L532.4,302.3zM589.6,307.0L594.6,286.9L600.5,288.3L595.8,270.7L583.5,284.2L589.3,285.6L584.4,305.7zM642.3,308.6L646.4,286.1L652.7,287.2L646.7,268.9L634.6,283.9L640.9,285.1L636.8,307.6zM694.9,309.1L698.0,285.8L704.5,286.6L697.5,268.3L685.9,284.1L692.4,285.0L689.3,308.3zM747.8,309.0L749.5,285.6L756.0,286.1L748.0,268.3L737.4,284.7L743.9,285.2L742.2,308.6zM800.3,304.8L800.8,287.1L806.4,287.2L798.7,272.3L790.1,286.8L795.7,286.9L795.2,304.7zM853.3,298.0L852.1,289.3L856.2,288.7L848.6,278.7L843.9,290.4L848.0,289.8L849.2,298.6zM901.6,295.5L902.8,291.2L906.1,292.1L903.4,282.0L895.9,289.4L899.2,290.2L898.0,294.5zM946.2,285.5L950.5,288.8L948.4,291.6L959.2,293.1L955.0,282.9L952.9,285.8L948.6,282.4zM1001.2,280.1L1002.7,287.6L998.9,288.4L1006.8,297.4L1010.6,285.9L1006.7,286.7L1005.2,279.2zM1055.7,279.9L1054.9,286.6L1051.2,286.2L1055.7,296.8L1062.6,287.6L1058.9,287.1L1059.7,280.4zM1113.7,285.1L1110.4,286.0L1109.5,282.9L1102.6,290.2L1112.3,292.6L1111.4,289.5L1114.7,288.6zM1166.5,287.0L1162.7,286.8L1162.8,283.5L1153.8,288.2L1162.3,293.8L1162.5,290.5L1166.3,290.7zM1218.6,286.2L1213.9,286.5L1213.7,283.0L1204.9,289.0L1214.4,293.7L1214.1,290.2L1218.8,289.9zM1269.6,286.3L1265.9,286.5L1265.7,283.2L1257.3,288.9L1266.3,293.5L1266.1,290.2L1269.9,290.0zM1320.2,287.4L1318.5,287.2L1318.9,284.3L1310.4,287.9L1317.6,293.6L1318.0,290.6L1319.7,290.9zM1362.3,289.7L1363.5,289.8L1363.2,292.7L1371.4,289.0L1364.2,283.6L1363.9,286.4L1362.6,286.3zM1422.5,285.7L1421.3,286.0L1420.5,283.3L1414.3,289.6L1422.9,292.1L1422.1,289.3L1423.3,289.0zM1473.4,284.4L1471.9,285.4L1470.3,282.9L1466.2,291.2L1475.4,290.8L1473.8,288.3L1475.3,287.3zM1516.4,287.8L1518.7,288.9L1517.3,291.7L1526.9,290.8L1521.5,282.9L1520.2,285.7L1517.9,284.6zM1569.0,292.5L1572.0,291.2L1573.2,294.2L1579.1,286.2L1569.3,284.9L1570.6,287.9L1567.6,289.2zM1620.0,292.5L1623.8,291.1L1624.9,294.2L1631.4,286.3L1621.3,284.5L1622.5,287.6L1618.8,289.0zM1671.1,292.9L1675.8,291.1L1677.1,294.3L1683.8,285.9L1673.1,284.3L1674.4,287.5L1669.7,289.4zM1721.6,293.9L1728.2,291.0L1729.8,294.5L1736.8,285.0L1725.1,283.7L1726.6,287.3L1720.0,290.2zM1770.0,294.3L1780.9,290.7L1782.3,295.0L1791.7,284.8L1778.1,282.2L1779.5,286.5L1768.6,290.1zM1816.9,293.3L1833.9,290.8L1834.7,296.2L1847.9,286.2L1832.4,280.4L1833.2,285.8L1816.2,288.3zM1864.4,291.9L1886.8,291.2L1887.0,297.5L1903.5,287.8L1886.4,279.3L1886.6,285.6L1864.3,286.4zM1912.8,291.5L1939.7,291.5L1939.7,298.6L1958.4,288.5L1939.7,278.4L1939.7,285.5L1912.8,285.5zM1963.6,291.6L1991.8,291.6L1991.8,298.9L2011.0,288.5L1991.8,278.1L1991.8,285.5L1963.6,285.5zM2015.5,291.6L2043.4,291.6L2043.4,298.8L2062.5,288.5L2043.4,278.2L2043.4,285.5L2015.5,285.5zM505.3,344.7L508.6,338.8L511.9,340.7L511.9,329.1L501.9,335.0L505.2,336.8L501.8,342.7zM560.3,354.8L562.3,334.4L568.3,335.0L561.1,318.3L550.9,333.3L557.0,333.9L555.0,354.3zM610.2,357.3L614.5,333.7L621.0,334.9L614.8,316.0L602.4,331.5L608.9,332.7L604.6,356.3zM660.5,356.0L666.2,334.4L672.3,336.0L667.8,317.5L654.7,331.4L660.8,333.0L655.1,354.6zM715.5,357.3L717.6,333.4L724.2,333.9L716.3,315.7L705.4,332.3L711.9,332.9L709.9,356.8zM769.1,358.9L769.2,332.4L776.2,332.4L766.2,313.9L756.2,332.4L763.2,332.4L763.2,358.9zM817.9,351.1L820.4,336.0L825.5,336.9L820.3,322.1L810.5,334.4L815.7,335.2L813.1,350.3zM874.0,340.6L872.5,337.8L875.3,336.3L866.7,331.3L866.6,341.2L869.3,339.6L870.9,342.4zM918.5,341.8L920.7,339.6L922.9,341.8L925.4,332.3L915.9,334.8L918.1,337.0L915.9,339.2zM967.8,331.2L970.3,335.5L967.3,337.2L976.5,342.5L976.6,331.8L973.6,333.6L971.1,329.3zM1022.5,324.5L1022.5,336.2L1017.9,336.2L1024.7,348.3L1031.5,336.2L1026.9,336.2L1026.9,324.5zM1076.7,330.3L1075.6,333.3L1072.6,332.2L1074.4,341.9L1082.0,335.6L1079.0,334.5L1080.1,331.5zM1129.8,340.3L1129.8,339.8L1132.6,339.8L1128.0,332.5L1123.7,339.9L1126.5,339.8L1126.5,340.4zM1185.8,332.3L1181.2,333.9L1180.1,330.6L1173.2,338.8L1183.7,340.7L1182.5,337.4L1187.0,335.8zM1239.7,334.4L1233.2,334.4L1233.2,330.7L1223.3,336.5L1233.3,342.1L1233.2,338.4L1239.7,338.3zM1288.0,335.4L1286.6,335.2L1287.0,332.3L1278.7,335.7L1285.7,341.4L1286.1,338.6L1287.5,338.8zM1330.7,338.2L1331.7,338.2L1331.7,341.0L1339.2,336.3L1331.5,332.0L1331.6,334.8L1330.6,334.8zM1382.1,337.1L1383.0,337.3L1382.4,340.1L1390.7,337.4L1384.4,331.2L1383.8,334.0L1382.9,333.8zM1442.5,334.6L1441.6,334.6L1441.5,331.8L1434.1,336.5L1441.7,340.8L1441.7,338.0L1442.6,338.0zM1490.4,330.8L1489.5,333.1L1486.6,331.9L1488.0,341.3L1495.6,335.6L1492.7,334.4L1493.6,332.2zM1538.7,341.1L1540.6,339.6L1542.5,342.0L1545.9,333.0L1536.4,334.4L1538.4,336.8L1536.4,338.4zM1588.7,341.2L1592.2,339.2L1593.9,342.1L1599.0,333.2L1588.7,333.1L1590.4,336.0L1586.9,338.0zM1639.6,340.3L1643.5,339.0L1644.6,342.1L1651.2,334.2L1641.1,332.3L1642.2,335.5L1638.4,336.8zM1689.9,340.2L1695.4,338.8L1696.4,342.3L1704.2,334.4L1693.5,331.6L1694.4,335.0L1688.9,336.5zM1741.9,342.5L1748.2,338.9L1750.2,342.2L1756.1,332.0L1744.3,332.0L1746.2,335.4L1739.9,339.0zM1787.9,342.1L1801.2,338.6L1802.4,343.3L1813.1,332.9L1798.7,329.3L1799.9,334.0L1786.7,337.6zM1833.9,339.1L1854.1,339.1L1854.1,345.0L1869.9,336.3L1854.1,327.8L1854.1,333.7L1833.9,333.8zM1882.7,339.3L1907.0,339.3L1907.0,345.9L1924.5,336.4L1906.9,326.9L1906.9,333.5L1882.7,333.5zM1929.9,339.6L1960.5,339.6L1960.5,347.3L1980.7,336.4L1960.5,325.5L1960.5,333.2L1929.9,333.2zM1983.3,339.5L2011.5,339.5L2011.5,346.8L2030.7,336.4L2011.5,326.0L2011.5,333.3L1983.3,333.3zM485.2,397.4L490.3,384.9L494.8,386.7L492.9,372.0L481.4,381.3L485.9,383.2L480.9,395.7zM532.9,401.4L543.2,383.6L548.4,386.7L548.8,368.5L533.3,377.9L538.5,381.0L528.3,398.7zM583.4,401.4L595.0,383.7L600.2,387.1L601.7,368.7L585.4,377.3L590.5,380.7L578.8,398.4zM641.5,403.7L646.4,382.3L652.5,383.7L647.4,365.5L634.9,379.6L641.0,381.0L636.1,402.4zM696.4,403.2L697.7,382.0L703.8,382.3L695.9,365.6L686.1,381.3L692.2,381.6L691.0,402.8zM749.0,403.1L749.2,381.8L755.4,381.9L746.7,365.5L737.7,381.7L743.8,381.8L743.6,403.0zM799.0,398.8L800.7,383.8L805.8,384.4L799.8,370.0L790.8,382.7L795.9,383.3L794.2,398.3zM855.8,389.3L852.6,384.8L855.5,382.7L845.5,378.2L846.6,389.1L849.5,387.0L852.7,391.5zM905.9,388.5L904.5,385.8L907.3,384.3L898.9,379.3L898.5,389.0L901.3,387.5L902.7,390.2zM948.6,377.9L950.8,383.2L947.4,384.6L956.2,391.4L957.7,380.4L954.4,381.8L952.2,376.5zM1002.8,373.5L1002.8,383.6L998.5,383.6L1005.0,395.1L1011.5,383.6L1007.2,383.6L1007.1,373.5zM1054.4,370.0L1054.3,385.0L1049.2,385.0L1056.6,398.6L1064.2,385.0L1059.1,385.0L1059.2,370.0zM1113.5,378.0L1108.7,381.6L1106.5,378.7L1102.1,389.0L1113.3,387.7L1111.1,384.7L1115.9,381.1zM1166.2,377.9L1160.3,381.8L1158.2,378.6L1152.9,389.0L1164.6,388.3L1162.5,385.1L1168.4,381.3zM1216.6,378.2L1212.2,381.5L1210.1,378.7L1205.9,388.8L1216.7,387.4L1214.6,384.6L1218.9,381.3zM1268.3,379.7L1264.8,381.5L1263.3,378.6L1257.8,387.2L1268.0,387.8L1266.5,384.8L1270.0,383.0zM1320.5,383.5L1318.5,383.1L1319.0,380.2L1310.3,383.4L1317.3,389.5L1317.8,386.6L1319.8,386.9zM1363.1,381.7L1363.7,382.5L1361.3,384.1L1369.3,387.9L1368.8,379.0L1366.5,380.6L1365.9,379.7zM1416.6,380.1L1416.7,381.1L1413.9,381.3L1418.9,388.6L1422.9,380.7L1420.1,380.9L1420.0,379.9zM1472.5,380.1L1471.6,380.9L1469.7,378.7L1466.9,387.2L1475.7,385.6L1473.8,383.5L1474.8,382.6zM1524.4,379.8L1523.1,380.9L1521.1,378.8L1518.5,387.5L1527.4,385.7L1525.4,383.5L1526.7,382.3zM1568.3,383.3L1570.3,384.4L1568.8,387.1L1578.2,386.8L1573.5,378.7L1572.0,381.3L1570.0,380.2zM1622.1,379.5L1622.9,382.1L1619.9,383.0L1626.9,389.6L1629.3,380.2L1626.3,381.1L1625.6,378.5zM1670.7,385.0L1674.3,385.6L1673.7,388.8L1683.2,385.4L1675.5,378.8L1674.9,382.0L1671.4,381.4zM1723.4,390.3L1728.3,386.9L1730.4,390.0L1735.3,379.9L1724.1,380.7L1726.2,383.7L1721.2,387.1zM1771.9,390.6L1780.6,386.6L1782.4,390.4L1790.0,380.0L1777.1,378.8L1778.9,382.7L1770.1,386.7zM1817.8,389.4L1833.7,386.5L1834.6,391.8L1847.0,381.6L1831.8,376.5L1832.8,381.7L1816.9,384.6zM1866.2,388.5L1886.3,386.7L1886.8,392.7L1901.8,382.7L1885.3,375.5L1885.9,381.4L1865.7,383.2zM1913.6,387.2L1939.4,387.2L1939.4,394.1L1957.6,384.3L1939.4,374.4L1939.4,381.3L1913.6,381.4zM1965.3,387.2L1991.1,387.2L1991.1,394.1L2009.3,384.3L1991.1,374.4L1991.1,381.3L1965.3,381.3zM2018.7,387.1L2042.1,387.1L2042.1,393.6L2059.3,384.3L2042.1,375.0L2042.1,381.5L2018.7,381.5zM507.5,447.3L510.3,431.6L515.5,432.6L510.3,417.5L500.3,429.9L505.5,430.8L502.7,446.5zM558.7,448.6L562.2,431.2L567.7,432.3L562.6,416.2L551.7,429.1L557.2,430.2L553.7,447.6zM609.0,450.5L614.3,430.7L620.1,432.2L615.8,414.6L603.3,427.7L609.1,429.3L603.8,449.1zM663.9,450.6L665.7,430.1L671.7,430.6L664.4,414.0L654.3,429.1L660.3,429.7L658.6,450.1zM717.2,450.4L717.2,429.9L723.2,429.9L714.5,414.0L705.8,429.9L711.8,429.9L711.8,450.4zM769.0,451.5L768.9,429.4L775.3,429.4L766.1,412.8L757.1,429.5L763.4,429.4L763.5,451.6zM822.6,439.4L820.3,433.1L823.9,431.8L815.1,424.3L813.1,435.7L816.6,434.4L818.9,440.7zM875.4,436.5L872.5,432.8L875.2,430.6L865.3,426.7L866.8,437.2L869.5,435.1L872.4,438.8zM919.9,427.2L919.7,429.0L916.8,428.9L921.0,437.1L926.2,429.4L923.2,429.3L923.3,427.4zM970.6,424.1L970.9,430.6L967.2,430.7L973.4,440.4L978.6,430.2L974.9,430.4L974.6,423.9zM1022.5,420.1L1022.5,432.0L1017.8,432.0L1024.7,444.2L1031.6,432.0L1026.9,432.0L1026.9,420.1zM1072.0,423.1L1074.1,431.7L1070.1,432.6L1078.8,441.8L1082.2,429.7L1078.2,430.7L1076.1,422.1zM1125.5,425.3L1126.0,430.2L1122.5,430.6L1128.8,439.2L1133.2,429.5L1129.8,429.8L1129.3,424.9zM1178.5,425.0L1178.1,429.8L1174.6,429.6L1179.2,439.2L1185.3,430.5L1181.9,430.2L1182.3,425.3zM1229.8,427.6L1229.8,429.0L1226.9,429.0L1231.5,436.7L1236.1,429.0L1233.2,429.0L1233.3,427.7zM1288.8,431.6L1286.4,431.1L1287.1,428.1L1278.0,431.0L1284.9,437.5L1285.6,434.5L1288.0,435.1zM1340.0,430.7L1338.0,430.6L1338.2,427.6L1329.9,431.9L1337.6,437.1L1337.8,434.1L1339.8,434.2zM1384.8,428.0L1384.8,428.9L1382.0,429.0L1386.7,436.4L1391.0,428.7L1388.2,428.8L1388.2,427.9zM1434.0,433.6L1434.9,433.6L1434.7,436.5L1442.5,432.5L1435.3,427.5L1435.1,430.3L1434.2,430.2zM1494.2,430.4L1493.3,430.4L1493.2,427.6L1485.8,432.3L1493.5,436.6L1493.4,433.8L1494.3,433.7zM1542.4,427.7L1541.9,428.5L1539.5,427.0L1539.5,435.8L1547.3,431.6L1544.9,430.2L1545.3,429.4zM1591.7,427.9L1591.7,428.9L1588.9,428.8L1593.4,436.4L1597.9,428.9L1595.1,428.9L1595.1,428.0zM1643.3,426.8L1643.3,429.3L1640.2,429.3L1645.1,437.5L1649.9,429.3L1646.9,429.3L1646.9,426.8zM1695.0,426.9L1695.0,429.3L1691.9,429.4L1696.9,437.5L1701.6,429.3L1698.5,429.3L1698.5,426.8zM1744.9,429.4L1745.4,430.2L1742.9,431.7L1750.7,435.8L1750.7,427.0L1748.3,428.5L1747.8,427.6zM1792.5,434.1L1798.3,434.1L1798.3,437.7L1807.9,432.2L1798.3,426.6L1798.3,430.2L1792.5,430.3zM1838.5,434.5L1852.2,434.5L1852.2,439.4L1865.3,432.2L1852.3,424.9L1852.2,429.8L1838.5,429.8zM1885.7,434.8L1905.8,434.8L1905.8,440.8L1921.5,432.2L1905.8,423.6L1905.8,429.5L1885.7,429.5zM1937.4,434.8L1957.5,434.8L1957.5,440.8L1973.2,432.2L1957.5,423.5L1957.5,429.5L1937.4,429.5zM1994.7,434.4L2006.9,434.4L2006.9,439.1L2019.3,432.2L2006.9,425.2L2006.9,429.9L1994.7,429.9zM490.0,492.4L490.3,480.2L494.9,480.3L488.2,467.8L481.1,480.0L485.7,480.1L485.5,492.3zM541.8,492.7L542.0,480.1L546.7,480.1L539.9,467.4L532.7,479.9L537.4,480.0L537.2,492.7zM595.1,494.1L593.7,479.1L598.8,478.6L590.0,465.8L583.8,480.1L588.9,479.6L590.4,494.5zM648.3,494.3L645.3,478.7L650.5,477.7L640.3,465.4L635.3,480.5L640.5,479.6L643.5,495.2zM699.5,493.6L697.0,479.0L702.1,478.2L692.5,466.2L687.3,480.7L692.3,479.8L694.8,494.4zM750.9,492.5L748.7,479.5L753.5,478.7L744.4,467.3L739.4,481.1L744.2,480.3L746.3,493.2zM804.1,487.6L800.6,480.3L804.2,478.6L794.2,471.6L793.3,483.8L796.9,482.1L800.4,489.4zM856.0,482.6L853.0,480.2L855.0,477.6L844.9,476.1L848.6,485.6L850.6,483.0L853.7,485.5zM905.7,483.1L904.7,481.7L907.2,480.1L899.0,476.1L899.3,485.2L901.8,483.6L902.8,485.0zM958.9,476.3L955.0,477.6L954.0,474.4L947.1,482.0L957.2,484.3L956.2,481.1L960.0,479.9zM1002.7,468.1L1002.8,479.9L998.1,479.9L1005.0,492.1L1011.9,479.9L1007.2,479.9L1007.2,468.0zM1053.1,465.9L1054.4,481.0L1049.2,481.5L1057.9,494.4L1064.3,480.2L1059.2,480.6L1057.9,465.5zM1106.1,469.5L1106.2,479.3L1102.0,479.4L1108.5,490.7L1114.8,479.2L1110.5,479.3L1110.4,469.4zM1158.3,472.0L1158.2,478.2L1154.5,478.2L1159.9,488.1L1165.8,478.4L1162.1,478.3L1162.3,472.1zM1210.1,474.3L1210.0,477.4L1206.9,477.3L1211.7,485.8L1216.8,477.4L1213.6,477.4L1213.7,474.3zM1264.4,474.8L1263.4,476.6L1260.8,475.1L1261.0,484.5L1269.1,479.8L1266.5,478.3L1267.5,476.5zM1318.6,476.4L1317.2,477.1L1315.9,474.5L1311.0,482.2L1320.1,482.8L1318.8,480.2L1320.2,479.5zM1367.8,475.5L1367.2,476.4L1364.8,474.9L1364.5,483.7L1372.5,479.8L1370.1,478.3L1370.7,477.3zM1414.1,480.7L1415.0,480.9L1414.3,483.6L1422.7,481.1L1416.5,474.9L1415.8,477.6L1415.0,477.4zM1466.1,481.7L1466.9,481.7L1466.9,484.5L1474.5,480.2L1467.1,475.5L1467.0,478.3L1466.1,478.3zM1521.7,475.5L1521.4,476.4L1518.8,475.5L1520.7,484.1L1527.3,478.3L1524.7,477.5L1524.9,476.6zM1573.2,475.5L1572.9,476.5L1570.2,475.7L1572.6,484.2L1578.9,478.1L1576.2,477.4L1576.5,476.4zM1623.7,475.6L1623.7,476.9L1620.8,476.9L1625.4,484.6L1630.0,476.9L1627.1,476.9L1627.1,475.6zM1681.3,483.7L1677.2,476.5L1672.7,483.5zM1732.2,484.5L1729.6,476.6L1723.8,482.5zM1779.1,484.7L1779.9,483.6L1782.2,485.4L1783.3,476.5L1774.9,479.7L1777.2,481.5L1776.3,482.6zM1826.1,480.1L1829.1,481.0L1828.2,484.1L1837.7,481.8L1831.1,474.5L1830.2,477.6L1827.2,476.7zM1875.5,480.5L1881.9,481.7L1881.2,485.4L1892.0,481.5L1883.2,474.1L1882.6,477.8L1876.2,476.7zM1925.9,481.5L1934.3,482.1L1934.0,486.1L1945.2,480.7L1934.8,473.9L1934.6,477.9L1926.2,477.4zM1978.6,481.7L1985.7,482.0L1985.5,485.8L1995.9,480.5L1986.0,474.2L1985.8,478.0L1978.8,477.7zM2029.9,481.6L2037.5,482.0L2037.3,485.9L2048.0,480.5L2037.9,474.1L2037.7,478.0L2030.1,477.6zM509.8,539.2L509.9,528.5L514.3,528.5L507.7,516.7L501.1,528.4L505.5,528.5L505.5,539.2zM562.5,539.6L561.6,528.1L566.2,527.7L558.5,516.2L552.6,528.7L557.2,528.4L558.1,539.9zM615.9,541.0L613.3,527.1L618.2,526.2L608.6,514.5L603.8,528.8L608.7,527.9L611.3,541.8zM668.7,540.4L664.9,526.9L669.7,525.6L659.2,514.9L655.6,529.5L660.4,528.2L664.2,541.7zM720.0,540.2L716.7,527.1L721.4,525.9L711.2,515.1L707.4,529.5L712.2,528.2L715.5,541.4zM772.0,537.9L768.4,527.7L772.6,526.2L762.5,517.3L760.1,530.6L764.3,529.1L767.8,539.4zM824.7,533.8L820.4,528.0L823.5,525.7L812.7,520.9L814.1,532.7L817.2,530.4L821.5,536.2zM874.2,531.3L872.7,529.2L875.2,527.4L866.4,523.5L867.3,533.1L869.8,531.3L871.3,533.4zM919.4,532.4L920.3,531.4L922.4,533.5L924.4,524.7L915.8,527.0L917.8,529.1L916.9,530.0zM970.1,517.5L970.8,527.4L966.5,527.7L973.7,538.6L979.4,526.8L975.1,527.1L974.4,517.2zM1021.9,514.9L1022.4,528.3L1017.5,528.5L1025.2,541.1L1031.9,528.0L1027.0,528.1L1026.6,514.7zM1073.6,515.9L1074.1,527.9L1069.5,528.1L1077.0,540.1L1083.3,527.5L1078.6,527.7L1078.1,515.7zM1132.5,522.3L1128.7,525.1L1126.7,522.4L1122.5,532.1L1133.1,530.9L1131.0,528.1L1134.8,525.3zM1184.0,524.1L1181.6,525.2L1180.3,522.3L1174.8,530.2L1184.4,531.2L1183.1,528.4L1185.5,527.3zM1231.3,522.4L1230.6,524.7L1227.7,523.8L1230.0,533.1L1237.0,526.6L1234.0,525.7L1234.7,523.4zM1283.1,523.4L1282.8,524.3L1280.2,523.3L1281.7,531.9L1288.6,526.5L1286.0,525.5L1286.3,524.6zM1335.8,523.4L1335.2,524.3L1332.8,522.8L1332.6,531.6L1340.5,527.6L1338.1,526.1L1338.7,525.2zM1388.3,532.2L1388.3,531.3L1391.1,531.3L1386.6,523.8L1382.1,531.2L1384.9,531.3L1384.9,532.1zM1437.6,532.4L1438.1,531.7L1440.5,533.1L1440.4,524.3L1432.7,528.5L1435.1,530.0L1434.7,530.7zM1485.8,529.7L1486.7,529.7L1486.7,532.5L1494.2,527.9L1486.7,523.5L1486.7,526.3L1485.8,526.3zM1537.4,526.4L1538.1,527.1L1536.2,529.2L1544.9,530.8L1542.2,522.4L1540.3,524.5L1539.6,523.9zM1591.7,523.7L1591.7,524.6L1588.9,524.6L1593.4,532.2L1597.9,524.7L1595.1,524.7L1595.1,523.7zM1647.9,523.3L1646.2,524.7L1644.2,522.4L1641.1,531.3L1650.4,529.7L1648.5,527.4L1650.2,526.0zM1701.0,531.0L1696.8,524.8L1692.6,531.1zM1752.1,531.7L1751.3,530.0L1754.1,528.8L1746.5,523.5L1745.5,532.7L1748.2,531.4L1748.9,533.1zM1803.8,530.8L1803.3,530.0L1805.8,528.6L1798.1,524.3L1797.9,533.1L1800.4,531.7L1800.8,532.5zM1850.1,522.6L1850.1,525.1L1847.0,525.1L1851.9,533.3L1856.8,525.1L1853.7,525.1L1853.7,522.6zM1903.7,522.3L1902.9,524.7L1900.0,523.7L1901.8,533.0L1909.1,526.9L1906.2,525.9L1907.1,523.5zM1955.4,522.3L1954.6,524.7L1951.7,523.7L1953.5,533.1L1960.8,526.9L1957.9,525.9L1958.8,523.5zM1999.9,524.4L2004.3,528.2L2001.9,530.9L2012.9,533.0L2009.2,522.5L2006.8,525.2L2002.4,521.4zM490.1,584.3L490.0,577.4L493.8,577.3L487.9,567.3L482.2,577.5L486.0,577.5L486.1,584.4zM542.2,584.8L541.8,577.1L545.7,576.9L539.2,566.8L533.8,577.6L537.7,577.3L538.1,585.0zM597.4,586.4L593.6,575.4L597.9,573.9L587.5,564.6L585.0,578.3L589.4,576.8L593.2,587.8zM649.5,586.5L645.3,575.2L649.6,573.6L638.8,564.4L636.7,578.4L641.0,576.8L645.2,588.0zM701.9,585.9L696.9,575.1L701.1,573.2L689.8,564.9L688.6,578.9L692.8,576.9L697.8,587.7zM753.5,585.6L748.6,575.2L752.8,573.2L741.5,565.2L740.5,579.0L744.6,577.1L749.5,587.5zM805.7,582.8L800.5,575.4L803.9,573.0L792.4,567.6L793.6,580.3L797.0,577.9L802.3,585.3zM857.1,578.4L852.7,575.4L854.7,572.5L843.8,571.7L848.5,581.5L850.5,578.6L854.9,581.6zM906.9,576.8L905.0,575.8L906.5,573.1L897.2,573.4L901.9,581.5L903.3,578.8L905.2,579.8zM959.6,572.3L955.0,573.5L954.1,570.1L946.5,577.6L956.7,580.5L955.9,577.1L960.6,576.0zM1003.8,563.7L1002.8,575.5L998.2,575.1L1004.0,587.8L1011.8,576.2L1007.2,575.8L1008.2,564.1zM1054.3,562.7L1054.4,576.1L1049.5,576.1L1056.8,589.0L1063.9,576.1L1059.0,576.1L1059.0,562.7zM1104.9,568.1L1106.1,574.6L1102.5,575.3L1110.0,584.0L1113.7,573.1L1110.0,573.8L1108.8,567.4zM1159.3,580.8L1160.1,579.4L1162.6,580.9L1162.4,571.8L1154.5,576.3L1157.1,577.7L1156.3,579.1zM1213.0,580.9L1213.2,579.1L1216.2,579.4L1212.3,571.0L1206.8,578.4L1209.8,578.7L1209.6,580.5zM1265.0,570.9L1263.9,572.4L1261.5,570.6L1260.6,579.8L1269.1,576.2L1266.7,574.4L1267.8,572.9zM1317.1,571.3L1316.1,572.4L1314.0,570.4L1312.0,579.2L1320.7,576.8L1318.6,574.8L1319.7,573.7zM1364.7,571.7L1364.8,572.8L1362.0,573.1L1367.4,580.2L1371.1,572.1L1368.2,572.4L1368.1,571.3zM1414.9,578.6L1415.9,578.4L1416.6,581.1L1422.7,574.7L1414.2,572.3L1415.0,575.1L1414.0,575.3zM1465.8,574.0L1466.8,575.0L1464.8,577.1L1473.7,579.0L1471.1,570.3L1469.1,572.4L1468.1,571.5zM1520.6,570.5L1520.5,572.8L1517.4,572.6L1521.6,581.0L1527.0,573.3L1524.0,573.1L1524.1,570.8zM1574.8,569.5L1573.2,572.8L1570.2,571.3L1571.0,581.4L1579.4,575.8L1576.5,574.4L1578.1,571.1zM1629.8,569.1L1625.5,573.1L1623.0,570.5L1619.7,581.1L1630.6,578.6L1628.1,576.0L1632.4,572.0zM1683.0,569.8L1677.5,573.3L1675.5,570.1L1670.2,580.2L1681.6,579.8L1679.6,576.6L1685.1,573.1zM1734.3,568.9L1728.8,573.3L1726.4,570.3L1722.0,581.2L1733.6,579.5L1731.3,576.5L1736.8,572.1zM1783.9,568.5L1780.1,573.2L1777.3,570.9L1775.5,582.0L1786.0,577.9L1783.2,575.6L1787.0,570.9zM1831.4,568.9L1830.7,573.3L1827.4,572.8L1831.2,582.5L1837.8,574.4L1834.4,573.8L1835.1,569.5zM1882.3,567.8L1882.0,573.9L1878.4,573.7L1883.5,583.8L1889.6,574.3L1885.9,574.1L1886.2,568.0zM1934.0,566.8L1933.6,574.3L1929.7,574.2L1935.2,584.8L1941.6,574.7L1937.7,574.5L1938.0,567.0zM1985.9,566.9L1985.4,574.3L1981.5,574.0L1986.7,584.7L1993.3,574.8L1989.4,574.5L1989.9,567.2zM2034.6,568.6L2036.6,574.8L2033.0,575.9L2041.5,583.7L2043.9,572.5L2040.4,573.6L2038.4,567.4zM511.9,632.2L510.0,624.5L513.9,623.6L505.5,614.8L502.2,626.4L506.0,625.5L507.9,633.2zM564.9,632.5L561.7,623.9L565.6,622.5L555.9,614.3L553.9,626.8L557.8,625.4L560.9,633.9zM617.6,633.0L613.3,623.4L617.3,621.6L606.6,613.6L605.3,626.9L609.3,625.1L613.6,634.8zM670.6,631.9L664.9,623.0L668.6,620.7L656.8,614.4L657.6,627.8L661.3,625.4L666.9,634.3zM722.5,632.0L716.6,623.0L720.3,620.5L708.4,614.2L709.2,627.7L712.9,625.3L718.8,634.4zM774.5,630.2L768.4,623.0L771.6,620.3L759.5,615.9L761.9,628.5L765.1,625.8L771.3,633.0zM826.4,627.0L820.2,622.9L822.4,619.6L810.5,618.8L815.8,629.5L818.0,626.2L824.1,630.4zM876.0,621.6L871.9,621.8L871.8,618.5L863.1,624.0L872.2,628.8L872.1,625.5L876.1,625.3zM926.2,619.4L922.8,621.0L921.4,618.0L915.7,626.4L925.7,627.3L924.3,624.3L927.7,622.8zM974.6,615.3L971.8,621.4L968.4,619.9L969.6,631.4L978.9,624.6L975.5,623.0L978.2,616.9zM1022.9,613.7L1022.6,622.7L1018.5,622.6L1024.4,633.7L1031.0,622.9L1026.8,622.8L1027.1,613.8zM1072.9,615.3L1074.2,622.7L1070.3,623.4L1077.9,632.6L1082.0,621.3L1078.2,622.0L1076.9,614.6zM1122.3,627.4L1126.4,626.2L1127.4,629.4L1134.4,621.8L1124.3,619.4L1125.3,622.6L1121.2,623.9zM1177.1,629.2L1179.2,626.9L1181.5,629.1L1183.8,619.6L1174.4,622.2L1176.6,624.4L1174.5,626.7zM1231.6,618.1L1230.8,620.5L1227.8,619.5L1229.7,628.8L1237.0,622.7L1234.1,621.6L1234.9,619.2zM1287.4,620.0L1285.2,621.0L1284.0,618.2L1278.3,625.8L1287.7,627.1L1286.5,624.3L1288.8,623.3zM1338.1,619.4L1336.4,620.6L1334.7,618.1L1330.7,626.6L1340.0,626.0L1338.3,623.5L1340.1,622.3zM1383.1,620.9L1383.5,621.7L1381.0,623.0L1388.6,627.4L1389.0,618.7L1386.5,620.0L1386.0,619.2zM1435.5,619.8L1435.8,621.1L1433.1,621.8L1439.4,628.1L1441.9,619.5L1439.2,620.2L1438.8,619.0zM1494.4,620.2L1492.1,621.1L1491.0,618.2L1485.0,625.6L1494.4,627.3L1493.3,624.4L1495.6,623.5zM1546.6,618.9L1542.9,621.0L1541.2,618.0L1535.9,626.9L1546.3,627.2L1544.6,624.3L1548.4,622.2zM1598.9,616.5L1593.2,621.2L1590.8,618.3L1586.6,629.4L1598.3,627.3L1595.8,624.3L1601.5,619.6zM1652.4,617.1L1645.0,621.4L1643.0,617.9L1636.8,628.6L1649.2,628.5L1647.1,625.0L1654.5,620.7zM1705.3,616.3L1696.2,621.6L1694.0,617.8L1687.2,629.3L1700.6,629.1L1698.4,625.3L1707.4,620.1zM1754.1,615.2L1747.7,621.5L1744.8,618.6L1741.5,630.8L1753.6,627.4L1750.7,624.5L1757.0,618.2zM1805.0,614.8L1799.3,621.6L1796.1,619.0L1793.8,631.4L1805.6,626.9L1802.5,624.3L1808.2,617.5zM1855.0,614.1L1850.6,621.8L1847.0,619.8L1847.0,632.4L1857.8,625.9L1854.2,623.9L1858.6,616.2zM1905.0,613.7L1902.0,622.1L1898.1,620.7L1900.2,633.1L1909.8,624.9L1905.9,623.5L1908.9,615.1zM1953.3,614.9L1953.3,622.3L1949.4,622.3L1955.3,632.6L1961.2,622.3L1957.3,622.3L1957.3,614.9zM2005.5,614.8L2005.1,622.2L2001.2,622.0L2006.5,632.6L2013.0,622.6L2009.1,622.4L2009.5,615.0zM494.7,679.3L490.3,671.5L493.9,669.4L483.1,662.9L483.0,675.6L486.7,673.5L491.1,681.4zM546.4,679.3L542.0,671.5L545.6,669.4L534.8,663.0L534.8,675.6L538.4,673.5L542.8,681.3zM598.9,678.6L593.7,671.2L597.1,668.8L585.6,663.4L586.8,676.0L590.2,673.6L595.4,681.1zM651.1,677.9L645.4,671.1L648.5,668.4L636.7,664.0L639.0,676.4L642.2,673.8L647.8,680.6zM703.6,677.9L696.9,670.7L700.0,667.8L687.6,663.9L690.7,676.6L693.8,673.7L700.5,680.8zM755.6,677.1L748.6,670.6L751.4,667.5L738.8,664.6L742.8,676.9L745.7,673.8L752.7,680.2zM807.5,674.5L800.3,670.4L802.2,666.9L789.9,667.0L796.2,677.5L798.2,674.0L805.5,678.1zM858.6,671.1L851.8,669.9L852.5,666.2L841.6,670.2L850.5,677.6L851.2,673.9L857.9,675.0zM908.7,667.0L902.5,669.2L901.3,665.7L893.9,674.4L905.1,676.4L903.9,672.9L910.0,670.7zM958.3,664.8L953.3,669.0L950.9,666.2L947.0,677.0L958.3,674.9L955.9,672.0L960.9,667.8zM1006.3,662.0L1003.5,669.8L999.7,668.4L1001.8,680.5L1011.1,672.6L1007.4,671.2L1010.2,663.4zM1054.8,663.4L1054.7,669.9L1051.0,669.9L1056.6,679.9L1062.4,670.0L1058.7,670.0L1058.8,663.4zM1106.4,664.6L1106.5,669.5L1103.0,669.5L1108.5,678.7L1113.7,669.4L1110.3,669.4L1110.2,664.6zM1157.3,666.0L1157.9,669.4L1154.7,669.9L1161.1,677.6L1164.7,668.3L1161.5,668.8L1160.9,665.4zM1210.0,665.9L1210.0,668.9L1206.8,668.9L1211.8,677.4L1216.8,668.9L1213.6,668.9L1213.6,665.9zM1264.3,666.0L1263.1,668.3L1260.4,666.9L1261.1,676.5L1269.1,671.2L1266.3,669.9L1267.5,667.5zM1317.6,666.6L1315.9,668.3L1313.7,666.2L1311.5,675.5L1320.7,672.9L1318.5,670.8L1320.1,669.0zM1365.8,666.7L1365.6,668.3L1362.7,667.9L1366.3,676.3L1371.9,669.2L1369.0,668.8L1369.2,667.2zM1416.4,667.5L1416.5,668.6L1413.7,669.0L1419.1,676.0L1422.7,667.9L1419.9,668.2L1419.8,667.0zM1472.0,666.6L1470.8,668.2L1468.4,666.3L1467.2,675.6L1475.9,672.2L1473.5,670.3L1474.8,668.7zM1525.8,666.7L1523.1,668.6L1521.2,666.0L1517.1,675.1L1527.0,674.2L1525.2,671.6L1528.0,669.6zM1579.9,664.8L1573.7,669.2L1571.5,665.9L1566.3,676.8L1578.3,675.7L1576.0,672.5L1582.2,668.2zM1632.3,663.4L1624.7,669.5L1622.0,666.1L1617.2,678.2L1630.0,676.1L1627.4,672.8L1635.0,666.7zM1682.9,662.2L1675.9,669.7L1672.7,666.7L1669.7,679.6L1682.3,675.6L1679.1,672.6L1686.1,665.1zM1733.5,662.5L1727.8,669.5L1724.6,666.9L1722.5,679.4L1734.3,674.8L1731.0,672.2L1736.8,665.2zM1784.6,662.8L1779.6,669.4L1776.4,667.0L1774.8,679.2L1786.1,674.4L1782.9,671.9L1787.9,665.3zM1831.1,663.4L1830.4,669.7L1826.7,669.3L1831.3,679.7L1838.0,670.5L1834.3,670.1L1835.0,663.8zM1883.2,662.8L1882.1,669.8L1878.4,669.2L1882.6,680.2L1889.9,671.0L1886.1,670.4L1887.2,663.4zM1933.8,662.7L1933.6,670.1L1929.7,670.0L1935.3,680.5L1941.6,670.4L1937.7,670.2L1937.9,662.8zM1985.4,662.9L1985.3,670.1L1981.5,670.0L1987.2,680.4L1993.2,670.2L1989.3,670.2L1989.5,662.9zM2037.3,663.3L2037.1,669.9L2033.3,669.8L2038.7,679.9L2044.8,670.1L2041.0,670.0L2041.2,663.4zM514.4,726.9L510.1,719.4L513.6,717.4L502.8,711.1L502.9,723.6L506.5,721.5L510.8,729.0zM566.7,725.5L561.8,719.3L564.9,716.8L553.7,712.3L555.5,724.3L558.6,721.8L563.5,728.0zM618.6,723.4L613.7,719.2L616.1,716.4L604.9,714.2L608.7,725.0L611.1,722.1L616.0,726.4zM671.6,721.6L665.0,718.3L666.7,714.8L654.8,715.7L661.5,725.5L663.2,722.0L669.9,725.2zM723.7,720.4L716.5,718.0L717.7,714.3L705.9,716.8L714.0,725.6L715.2,721.9L722.4,724.2zM776.1,720.7L767.9,717.9L769.3,714.1L757.0,716.3L765.2,725.7L766.6,721.9L774.7,724.7zM827.6,719.6L819.5,717.8L820.5,713.9L808.7,717.4L817.7,725.7L818.6,721.8L826.7,723.7zM879.3,717.4L870.7,717.4L870.7,713.4L859.9,719.5L870.7,725.7L870.7,721.6L879.3,721.6zM927.9,713.4L921.6,717.0L919.7,713.7L913.7,723.9L925.5,723.9L923.6,720.5L929.9,716.9zM979.7,712.2L972.7,717.2L970.3,713.9L965.1,725.2L977.5,723.9L975.1,720.6L982.1,715.6zM1030.0,712.2L1024.5,717.0L1022.0,714.1L1018.1,725.3L1029.7,722.9L1027.2,720.0L1032.6,715.3zM1079.1,712.0L1075.8,716.9L1072.8,714.9L1072.1,726.0L1082.1,721.0L1079.1,719.0L1082.3,714.1zM1128.6,712.5L1127.1,716.7L1123.9,715.6L1125.8,725.9L1133.8,719.1L1130.6,718.0L1132.1,713.8zM1178.0,713.8L1178.0,716.8L1174.8,716.8L1179.8,725.3L1184.8,716.8L1181.6,716.8L1181.6,713.8zM1229.8,714.7L1229.8,716.4L1226.8,716.4L1231.5,724.3L1236.2,716.5L1233.3,716.5L1233.3,714.7zM1284.9,713.9L1283.3,716.2L1280.7,714.5L1280.0,724.2L1288.8,720.0L1286.2,718.2L1287.8,715.9zM1336.2,714.1L1334.9,716.1L1332.3,714.5L1332.1,724.0L1340.5,719.6L1337.9,718.0L1339.2,715.9zM1385.5,715.0L1385.3,716.1L1382.5,715.7L1386.0,723.8L1391.5,716.9L1388.7,716.5L1388.9,715.5zM1437.0,715.3L1436.9,716.0L1434.1,715.8L1438.0,723.6L1443.0,716.5L1440.3,716.3L1440.3,715.6zM1488.8,715.3L1488.8,716.0L1486.0,715.6L1489.5,723.6L1494.9,716.7L1492.1,716.4L1492.2,715.7zM1542.1,713.7L1541.1,716.3L1538.2,715.1L1539.6,724.6L1547.3,718.8L1544.4,717.6L1545.4,715.1zM1594.8,712.5L1592.7,716.7L1589.6,715.2L1590.3,725.7L1599.2,719.9L1596.1,718.4L1598.2,714.1zM1648.5,711.0L1644.2,717.2L1641.0,715.0L1640.0,726.9L1650.8,721.7L1647.6,719.5L1651.9,713.3zM1699.2,710.7L1695.7,717.3L1692.3,715.4L1692.6,727.4L1702.7,721.1L1699.3,719.2L1702.8,712.6zM1750.5,711.4L1747.6,717.1L1744.3,715.4L1744.8,726.7L1754.4,720.6L1751.1,718.9L1754.0,713.2zM1800.0,712.5L1798.9,716.8L1795.6,716.0L1798.5,726.1L1805.9,718.6L1802.6,717.8L1803.7,713.4zM1850.8,712.5L1850.3,717.1L1846.9,716.7L1851.1,726.4L1857.4,717.9L1854.0,717.5L1854.6,712.9zM1902.5,712.4L1902.0,717.1L1898.5,716.7L1902.8,726.4L1909.1,717.9L1905.7,717.5L1906.2,712.8zM1953.7,711.9L1953.5,717.4L1949.9,717.3L1954.9,727.1L1960.9,717.8L1957.3,717.6L1957.6,712.1zM2005.3,713.0L2005.2,717.1L2001.9,717.0L2006.8,726.0L2012.3,717.3L2008.9,717.2L2009.0,713.1zM495.3,773.2L490.4,767.2L493.5,764.7L482.3,760.3L484.2,772.2L487.3,769.7L492.1,775.8zM547.5,773.5L542.0,766.9L545.1,764.3L533.4,760.0L535.7,772.2L538.8,769.6L544.4,776.2zM596.9,768.0L594.8,767.0L596.0,764.2L586.6,765.2L592.0,773.0L593.3,770.2L595.4,771.2zM649.1,767.9L646.3,766.8L647.5,763.8L637.8,765.2L643.7,773.0L644.9,770.1L647.7,771.3zM703.8,767.2L696.7,765.7L697.5,762.0L686.2,765.6L695.0,773.5L695.8,769.7L703.0,771.2zM756.4,766.2L747.8,765.4L748.1,761.4L736.8,766.6L747.1,773.7L747.4,769.6L756.0,770.3zM808.0,765.4L799.3,765.3L799.3,761.2L788.4,767.3L799.2,773.6L799.3,769.5L808.0,769.6zM859.6,764.7L850.8,765.3L850.6,761.2L840.1,768.0L851.3,773.5L851.1,769.4L859.8,768.9zM909.8,761.7L901.8,765.1L900.2,761.3L892.6,771.2L905.0,772.7L903.4,768.9L911.4,765.6zM960.8,760.8L953.2,765.1L951.2,761.5L944.8,772.2L957.3,772.3L955.3,768.7L962.9,764.4zM1011.8,760.1L1004.7,765.1L1002.4,761.7L997.0,773.0L1009.4,771.8L1007.1,768.5L1014.2,763.5zM1061.0,759.4L1056.1,765.0L1053.2,762.4L1050.9,774.1L1062.1,770.2L1059.2,767.6L1064.0,762.1zM1110.2,760.5L1107.9,764.5L1104.9,762.8L1104.9,773.4L1114.1,768.1L1111.1,766.4L1113.5,762.4zM1159.5,761.2L1158.9,764.5L1155.7,763.8L1158.9,773.2L1165.6,765.9L1162.4,765.2L1163.1,762.0zM1210.3,762.2L1210.2,764.4L1207.1,764.3L1211.6,772.6L1216.7,764.7L1213.7,764.6L1213.8,762.3zM1262.0,762.5L1261.9,764.3L1258.9,764.2L1263.3,772.3L1268.3,764.6L1265.4,764.4L1265.4,762.6zM1315.3,762.2L1314.6,764.0L1311.8,762.9L1313.5,772.0L1320.7,766.2L1317.9,765.2L1318.5,763.4zM1366.6,762.5L1366.2,763.9L1363.4,763.0L1365.6,771.8L1372.2,765.7L1369.5,764.9L1369.9,763.5zM1414.3,763.8L1418.5,771.2L1423.1,764.1zM1466.0,763.8L1470.2,771.2L1474.8,764.1zM1517.7,763.8L1521.9,771.2L1526.5,764.1zM1572.8,762.4L1572.5,764.1L1569.6,763.5L1572.9,772.1L1578.9,765.2L1576.0,764.7L1576.2,763.0zM1624.6,762.1L1624.2,764.1L1621.3,763.6L1624.4,772.4L1630.6,765.4L1627.7,764.8L1628.1,762.8zM1675.6,763.1L1675.5,764.0L1672.7,763.9L1676.9,771.7L1681.7,764.3L1678.9,764.2L1679.0,763.2zM1727.3,763.0L1727.2,764.1L1724.4,764.0L1728.6,771.8L1733.5,764.3L1730.6,764.2L1730.7,763.1zM1776.1,763.9L1780.4,771.3L1785.0,764.0zM1830.7,763.1L1830.7,764.0L1827.8,763.9L1832.0,771.7L1836.9,764.3L1834.0,764.2L1834.1,763.2zM1882.9,762.4L1882.7,764.1L1879.7,763.6L1883.2,772.1L1889.0,765.1L1886.1,764.6L1886.3,763.0zM1934.0,762.3L1934.0,764.4L1930.9,764.3L1935.4,772.5L1940.5,764.6L1937.5,764.5L1937.5,762.4zM1985.5,762.6L1985.5,764.3L1982.6,764.4L1987.3,772.2L1992.0,764.3L1989.0,764.3L1989.0,762.6zM2036.9,762.4L2037.0,764.6L2034.0,764.8L2039.3,772.5L2043.6,764.2L2040.6,764.4L2040.4,762.2zM514.6,817.6L510.6,815.0L512.5,812.1L501.9,811.4L506.6,821.0L508.5,818.1L512.5,820.7zM564.2,812.4L555.8,814.0L561.1,820.6zM615.9,817.0L614.6,815.9L616.5,813.6L607.4,812.3L610.5,820.9L612.4,818.6L613.7,819.7zM670.8,815.0L665.1,813.8L665.8,810.2L655.2,813.7L663.5,821.1L664.3,817.6L670.0,818.8zM723.4,813.3L716.0,813.3L716.0,809.4L705.6,815.3L715.9,821.2L715.9,817.3L723.4,817.4zM776.0,813.3L767.3,813.2L767.3,809.1L756.4,815.3L767.3,821.5L767.3,817.4L776.0,817.4zM828.0,813.0L818.8,813.2L818.7,809.0L807.8,815.5L819.0,821.6L818.9,817.4L828.1,817.2zM880.2,812.6L870.2,813.1L870.0,808.8L858.9,815.8L870.6,821.7L870.4,817.4L880.4,816.9zM930.7,809.6L921.2,813.0L919.7,809.0L911.2,819.0L924.2,821.1L922.7,817.1L932.1,813.6zM982.6,808.3L972.3,813.2L970.4,809.0L962.4,820.3L976.2,821.3L974.2,817.2L984.5,812.3zM1031.5,806.7L1023.9,813.2L1021.1,809.9L1016.5,822.2L1029.4,819.8L1026.6,816.5L1034.3,810.0zM1080.2,806.2L1075.3,813.2L1072.0,810.9L1070.9,823.2L1082.1,817.9L1078.8,815.6L1083.6,808.6zM1128.9,807.4L1126.9,812.8L1123.5,811.6L1125.4,822.5L1134.0,815.4L1130.6,814.2L1132.6,808.7zM1178.0,809.6L1178.0,812.6L1174.8,812.6L1179.8,821.0L1184.8,812.6L1181.6,812.6L1181.6,809.6zM1229.0,810.9L1229.3,812.5L1226.4,813.0L1232.3,820.0L1235.6,811.5L1232.7,812.0L1232.4,810.3zM1281.5,810.7L1281.5,812.1L1278.6,812.1L1283.2,819.9L1287.8,812.1L1284.9,812.1L1284.9,810.7zM1334.0,810.8L1333.8,811.8L1331.0,811.2L1334.1,819.5L1340.0,812.9L1337.2,812.4L1337.3,811.4zM1385.6,811.1L1385.5,811.7L1382.8,811.2L1385.9,819.2L1391.6,812.7L1388.8,812.2L1388.9,811.7zM1434.6,811.1L1437.6,819.1L1443.2,812.6zM1486.2,811.2L1489.5,819.1L1494.8,812.5zM1540.7,811.1L1540.6,811.7L1537.8,811.2L1541.1,819.2L1546.6,812.6L1543.9,812.2L1544.0,811.6zM1592.3,810.7L1592.1,811.9L1589.3,811.5L1592.8,819.7L1598.4,812.7L1595.5,812.3L1595.7,811.1zM1643.5,810.3L1643.4,812.2L1640.5,812.1L1645.0,820.2L1649.9,812.4L1646.9,812.3L1647.0,810.5zM1691.3,814.2L1698.5,818.7L1699.1,810.2zM1745.3,812.4L1745.6,812.9L1743.0,814.1L1750.2,818.9L1751.1,810.4L1748.6,811.5L1748.3,811.0zM1795.3,812.5L1800.8,819.1L1804.1,811.2zM1848.5,812.0L1849.0,813.1L1846.4,814.3L1853.8,819.3L1854.7,810.4L1852.1,811.7L1851.6,810.6zM1900.0,811.8L1900.7,813.2L1898.0,814.5L1905.6,819.6L1906.5,810.5L1903.8,811.8L1903.1,810.3zM1951.0,812.0L1952.2,813.8L1949.7,815.5L1958.2,819.6L1957.7,810.2L1955.1,811.9L1953.9,810.0zM2002.6,812.1L2003.9,813.9L2001.4,815.7L2010.0,819.5L2009.2,810.1L2006.7,811.9L2005.4,810.1zM495.9,864.4L490.5,862.1L491.9,858.7L480.8,860.2L487.6,869.1L489.0,865.7L494.5,868.0zM547.6,864.0L542.2,862.0L543.4,858.6L532.5,860.5L539.6,869.1L540.8,865.7L546.3,867.7zM601.0,863.8L593.2,861.6L594.3,857.7L582.4,860.6L590.9,869.4L592.0,865.5L599.9,867.7zM652.9,862.1L644.5,861.3L644.9,857.2L633.5,862.2L643.6,869.4L644.0,865.4L652.4,866.3zM704.2,861.9L696.2,861.2L696.6,857.3L685.5,862.4L695.6,869.3L695.9,865.3L703.9,866.0zM757.2,861.0L747.2,861.0L747.2,856.7L735.8,863.2L747.2,869.7L747.2,865.3L757.2,865.3zM808.5,860.6L799.0,861.0L798.8,856.8L787.8,863.7L799.3,869.5L799.1,865.3L808.7,864.8zM860.1,859.2L850.2,860.9L849.5,856.7L839.3,865.0L851.7,869.4L851.0,865.2L860.9,863.5zM911.4,856.7L901.1,861.0L899.3,856.8L890.9,867.7L904.5,869.3L902.8,865.1L913.2,860.7zM962.2,855.5L952.5,861.1L950.3,857.2L943.3,869.0L957.0,868.8L954.7,864.9L964.5,859.3zM1012.7,854.6L1004.0,861.2L1001.3,857.6L996.0,870.1L1009.4,868.2L1006.7,864.6L1015.3,858.0zM1062.1,854.5L1055.9,861.0L1052.8,858.2L1049.8,870.5L1061.9,866.8L1058.9,863.9L1065.2,857.4zM1110.5,855.5L1107.6,860.6L1104.5,858.8L1104.6,870.0L1114.2,864.3L1111.0,862.5L1113.9,857.4zM1157.0,858.5L1157.7,860.9L1154.7,861.6L1161.5,868.3L1164.1,859.2L1161.1,860.0L1160.5,857.6zM1206.3,862.4L1213.7,866.5L1213.9,858.0zM1260.9,859.7L1261.0,860.3L1258.3,861.0L1264.5,867.1L1267.0,858.8L1264.3,859.5L1264.1,858.8zM1310.8,859.7L1315.2,867.0L1319.6,859.7zM1363.6,858.7L1365.9,866.9L1372.1,861.0zM1415.6,858.4L1417.4,866.7L1423.9,861.3zM1467.3,858.5L1469.1,866.7L1475.6,861.3zM1519.0,858.5L1520.8,866.7L1527.3,861.3zM1573.9,858.9L1573.7,859.4L1571.2,858.2L1572.0,866.7L1579.2,862.1L1576.7,860.9L1577.0,860.4zM1629.7,863.2L1629.2,863.0L1630.3,860.5L1621.8,861.6L1626.8,868.6L1627.9,866.1L1628.4,866.3zM1679.2,868.4L1678.9,859.9L1671.6,864.1zM1731.2,868.3L1730.5,859.8L1723.3,864.4zM1784.7,866.9L1780.7,859.4L1775.9,866.4zM1832.8,867.5L1832.9,866.9L1835.6,867.6L1833.2,859.3L1827.0,865.3L1829.7,866.0L1829.5,866.6zM1879.1,865.0L1880.8,864.9L1880.8,867.9L1888.7,863.2L1880.8,858.5L1880.8,861.5L1879.1,861.5zM1930.3,864.3L1932.5,864.6L1932.1,867.6L1940.7,863.8L1933.2,858.1L1932.9,861.1L1930.8,860.9zM1981.5,864.9L1984.6,864.9L1984.5,868.1L1993.0,863.3L1984.7,858.2L1984.6,861.3L1981.6,861.3zM2033.1,864.5L2036.2,864.8L2035.9,867.9L2044.7,863.7L2036.7,858.0L2036.5,861.2L2033.4,860.9zM517.7,912.1L509.4,909.4L510.6,905.5L498.4,908.1L506.8,917.3L508.1,913.4L516.4,916.1zM568.9,911.8L561.2,909.5L562.4,905.7L550.5,908.4L558.9,917.2L560.0,913.4L567.7,915.7zM621.3,911.0L612.5,909.2L613.3,905.1L601.3,909.1L610.9,917.4L611.7,913.3L620.5,915.1zM672.9,909.8L664.0,909.1L664.4,905.0L652.9,910.2L663.3,917.4L663.6,913.3L672.5,914.0zM724.6,908.9L715.4,909.0L715.4,904.8L704.4,911.2L715.5,917.4L715.5,913.2L724.6,913.1zM776.8,908.1L766.7,908.9L766.4,904.6L755.4,911.9L767.4,917.5L767.0,913.2L777.1,912.4zM828.4,906.6L818.0,908.8L817.0,904.5L807.0,913.4L819.8,917.4L818.9,913.1L829.3,910.9zM879.6,904.2L868.9,908.9L867.0,904.7L858.7,915.9L872.6,917.2L870.7,913.0L881.4,908.3zM930.8,901.7L919.8,909.3L917.0,905.3L910.5,918.6L925.2,917.1L922.4,913.1L933.4,905.5zM980.1,902.8L972.2,908.9L969.6,905.6L964.6,917.7L977.6,915.7L974.9,912.3L982.7,906.1zM1027.3,917.4L1026.8,913.2L1030.1,912.9L1024.0,904.6L1019.8,914.0L1023.1,913.7L1023.6,917.8zM1075.8,916.5L1076.8,914.5L1079.5,915.7L1078.6,906.4L1070.8,911.7L1073.6,913.0L1072.6,915.1zM1123.8,912.7L1124.8,912.7L1124.7,915.5L1132.3,911.1L1124.9,906.5L1124.8,909.3L1123.9,909.3zM1176.3,915.4L1183.7,911.2L1176.5,906.6zM1232.8,916.5L1233.8,908.1L1225.9,911.2zM1279.2,915.0L1286.9,911.5L1280.2,906.3zM1330.8,907.2L1334.6,914.8L1339.5,907.9zM1383.2,906.7L1385.7,914.7L1391.7,908.7zM1435.1,906.5L1437.3,914.7L1443.5,908.9zM1487.2,906.2L1488.6,914.6L1495.4,909.4zM1539.5,905.9L1540.0,914.4L1547.2,910.0zM1595.8,906.0L1589.8,911.9L1597.8,914.5zM1650.6,912.1L1643.3,907.7L1642.8,916.2zM1701.3,914.4L1696.7,907.3L1692.5,914.7zM1748.6,915.6L1748.9,914.8L1751.6,915.8L1750.0,907.1L1743.1,912.6L1745.8,913.6L1745.4,914.4zM1798.5,915.7L1799.5,914.6L1801.7,916.5L1803.2,907.6L1794.6,910.4L1796.8,912.3L1795.9,913.5zM1847.2,914.5L1849.8,913.7L1850.8,916.6L1857.1,909.3L1847.7,907.3L1848.7,910.3L1846.1,911.1zM1897.6,913.0L1901.0,912.9L1901.1,916.2L1909.6,911.0L1901.0,906.1L1901.0,909.3L1897.6,909.3zM1949.1,913.0L1952.8,912.9L1952.8,916.2L1961.5,911.0L1952.7,906.0L1952.8,909.3L1949.1,909.3zM2000.8,913.0L2004.5,912.9L2004.5,916.2L2013.2,911.0L2004.4,906.0L2004.5,909.3L2000.8,909.3zM499.8,960.1L489.0,956.9L490.2,952.6L476.9,955.7L486.4,965.5L487.7,961.2L498.5,964.4zM551.5,960.9L540.7,957.0L542.3,952.7L528.7,955.0L537.7,965.4L539.2,961.2L550.0,965.1zM602.3,957.8L592.3,956.9L592.7,952.6L580.7,958.0L591.5,965.5L591.9,961.2L601.9,962.1zM653.9,957.4L643.9,956.9L644.2,952.6L632.4,958.3L643.4,965.5L643.7,961.2L653.7,961.7zM704.6,956.9L695.9,956.9L695.9,952.8L685.0,959.0L695.9,965.2L695.9,961.1L704.6,961.1zM757.3,955.7L746.9,956.7L746.4,952.4L735.5,960.1L747.8,965.4L747.3,961.1L757.7,960.0zM809.0,953.8L797.9,956.7L796.7,952.3L786.8,962.0L800.2,965.4L799.1,961.0L810.1,958.1zM859.8,952.0L849.2,956.8L847.3,952.7L839.1,963.9L853.0,965.1L851.0,960.9L861.6,956.1zM911.2,950.7L900.5,957.0L898.1,952.9L890.8,965.3L905.1,965.0L902.8,960.9L913.5,954.6zM962.6,954.4L953.7,956.7L952.6,952.6L943.4,961.5L955.8,964.8L954.7,960.8L963.7,958.5zM1009.4,962.4L1005.0,955.1L1000.6,962.5zM1060.3,963.2L1057.4,955.3L1051.7,961.6zM1112.7,962.5L1108.5,955.2L1104.0,962.4zM1161.7,964.3L1162.2,955.9L1154.5,959.4zM1214.7,963.8L1213.1,955.5L1206.5,960.7zM1258.5,961.6L1266.9,960.4L1262.0,953.6zM1311.3,954.9L1314.7,962.7L1320.0,956.1zM1363.0,955.0L1366.5,962.7L1371.6,956.0zM1414.9,954.8L1418.0,962.7L1423.5,956.3zM1467.1,954.3L1469.2,962.6L1475.5,956.9zM1519.1,954.2L1520.7,962.5L1527.3,957.2zM1576.5,954.1L1570.0,959.5L1577.8,962.8zM1629.2,954.9L1621.6,958.7L1628.6,963.6zM1682.5,957.4L1674.0,956.7L1677.4,964.6zM1732.8,961.1L1732.2,960.4L1734.4,958.6L1726.1,955.7L1727.5,964.4L1729.6,962.6L1730.2,963.3zM1774.9,961.0L1777.9,960.9L1778.0,964.0L1786.2,958.7L1777.6,954.1L1777.7,957.3L1774.7,957.4zM1826.3,961.2L1829.8,961.0L1830.0,964.2L1838.3,958.6L1829.3,954.1L1829.5,957.3L1826.0,957.5zM1876.3,961.0L1882.0,960.9L1882.0,964.5L1891.5,958.9L1881.9,953.5L1881.9,957.1L1876.3,957.1zM1928.5,961.2L1933.6,961.0L1933.7,964.5L1942.8,958.7L1933.3,953.6L1933.4,957.2L1928.3,957.4zM1980.6,960.9L1985.0,960.9L1985.0,964.3L1994.1,958.9L1985.0,953.7L1985.0,957.1L1980.5,957.1zM2032.4,961.3L2036.8,961.0L2037.0,964.4L2045.7,958.5L2036.4,953.9L2036.6,957.2L2032.2,957.5zM519.6,1007.8L508.6,1004.8L509.7,1000.4L496.3,1003.8L506.2,1013.5L507.4,1009.1L518.5,1012.0zM571.5,1006.8L560.0,1004.7L560.8,1000.2L547.6,1004.7L558.4,1013.6L559.2,1009.1L570.8,1011.2zM623.0,1005.7L611.6,1004.7L612.0,1000.1L599.4,1005.8L610.8,1013.6L611.2,1009.1L622.7,1010.1zM674.3,1004.9L663.3,1004.7L663.3,1000.2L651.3,1006.6L663.1,1013.6L663.2,1009.1L674.2,1009.3zM726.2,1004.6L714.8,1004.6L714.8,1000.1L702.8,1006.9L714.9,1013.6L714.8,1009.1L726.2,1009.0zM777.5,1001.9L765.8,1004.6L764.8,1000.1L754.4,1009.6L767.9,1013.6L766.8,1009.0L778.6,1006.3zM829.3,1001.1L817.2,1004.7L815.8,1000.1L805.8,1010.5L819.9,1013.6L818.5,1009.1L830.6,1005.4zM879.5,998.6L868.4,1004.9L866.0,1000.8L858.6,1013.1L873.0,1013.0L870.7,1008.9L881.8,1002.6zM925.8,1010.2L921.2,1003.0L916.9,1010.4zM975.0,1011.1L974.9,1010.0L977.8,1009.8L972.7,1002.5L968.7,1010.4L971.5,1010.2L971.6,1011.3zM1029.1,1010.3L1024.7,1003.1L1020.4,1010.4zM1080.7,1010.4L1076.5,1003.1L1072.0,1010.3zM1132.4,1010.5L1128.2,1003.1L1123.6,1010.3zM1184.5,1009.9L1179.4,1003.1L1175.8,1010.8zM1236.0,1010.2L1231.3,1003.2L1227.3,1010.6zM1277.9,1005.8L1284.7,1009.8L1285.5,1002.0zM1329.9,1004.5L1335.7,1010.3L1338.3,1002.5zM1382.2,1003.3L1386.6,1010.6L1391.0,1003.4zM1434.1,1003.1L1438.1,1010.6L1442.9,1003.6zM1486.0,1002.9L1489.6,1010.6L1494.7,1003.9zM1537.0,1003.8L1542.1,1010.6L1545.7,1003.0zM1589.9,1011.2L1597.2,1006.9L1589.9,1002.5zM1641.3,1008.9L1641.9,1008.9L1642.1,1011.6L1649.1,1006.5L1641.3,1002.8L1641.6,1005.5L1641.0,1005.6zM1692.1,1008.6L1693.7,1008.6L1693.7,1011.5L1701.5,1006.8L1693.7,1002.2L1693.7,1005.1L1692.1,1005.1zM1743.5,1009.0L1745.7,1008.8L1745.9,1011.9L1753.7,1006.5L1745.2,1002.3L1745.4,1005.3L1743.2,1005.5zM1793.5,1008.7L1797.9,1008.7L1797.9,1012.1L1806.9,1006.9L1797.9,1001.6L1797.9,1005.0L1793.5,1005.0zM1845.4,1009.2L1849.7,1008.9L1850.0,1012.3L1858.5,1006.3L1849.2,1001.8L1849.4,1005.2L1845.1,1005.5zM1897.3,1009.9L1901.7,1009.1L1902.2,1012.5L1910.3,1005.7L1900.4,1002.1L1901.0,1005.4L1896.6,1006.2zM1948.9,1009.9L1953.4,1009.1L1954.0,1012.5L1962.1,1005.7L1952.2,1002.0L1952.8,1005.4L1948.2,1006.2zM2000.7,1009.9L2005.1,1009.1L2005.7,1012.5L2013.6,1005.7L2003.8,1002.1L2004.4,1005.4L2000.0,1006.2zM502.5,1055.0L487.7,1052.3L488.7,1047.2L473.9,1052.1L485.9,1062.0L486.8,1057.0L501.6,1059.8zM553.8,1054.9L539.6,1052.3L540.5,1047.3L526.0,1052.3L537.8,1062.0L538.7,1057.0L553.0,1059.6zM606.2,1053.6L590.8,1052.3L591.2,1047.1L576.8,1053.5L589.9,1062.3L590.3,1057.1L605.7,1058.5zM656.6,1053.1L642.9,1052.4L643.1,1047.5L629.7,1054.0L642.4,1062.0L642.6,1057.1L656.4,1057.8zM707.5,1052.5L694.7,1052.5L694.7,1047.7L682.1,1054.8L694.7,1061.8L694.7,1057.0L707.5,1057.0zM758.2,1050.6L746.3,1052.5L745.5,1047.9L734.5,1056.7L747.7,1061.5L747.0,1057.0L758.9,1055.0zM808.5,1048.7L797.7,1052.6L796.2,1048.3L787.1,1058.7L800.8,1061.0L799.2,1056.7L810.0,1052.9zM860.0,1051.4L850.5,1052.5L850.0,1048.3L839.5,1055.9L851.4,1061.0L851.0,1056.8L860.5,1055.7zM903.8,1059.1L903.6,1057.7L906.5,1057.4L901.1,1050.2L897.3,1058.4L900.2,1058.1L900.4,1059.4zM955.2,1058.8L955.2,1058.0L958.0,1057.8L953.1,1050.6L949.0,1058.4L951.8,1058.2L951.9,1059.0zM1009.7,1057.9L1004.7,1051.0L1000.9,1058.6zM1060.8,1058.6L1057.0,1051.0L1052.0,1057.8zM1112.1,1058.9L1109.0,1051.1L1103.5,1057.5zM1164.8,1057.8L1159.7,1051.1L1156.2,1058.7zM1216.7,1057.5L1211.2,1051.1L1208.1,1058.9zM1258.9,1051.6L1263.8,1058.4L1267.5,1050.9zM1310.7,1051.4L1315.4,1058.4L1319.4,1051.0zM1362.2,1051.7L1367.3,1058.3L1370.8,1050.7zM1414.1,1051.4L1418.7,1058.4L1422.8,1051.1zM1466.2,1050.9L1470.1,1058.4L1474.9,1051.5zM1517.7,1051.2L1521.9,1058.5L1526.4,1051.3zM1568.2,1055.9L1576.6,1057.1L1573.8,1049.1zM1622.1,1059.3L1629.3,1054.6L1621.8,1050.4zM1673.2,1058.8L1681.0,1055.2L1674.1,1050.0zM1724.4,1055.5L1725.2,1055.7L1724.6,1058.5L1732.9,1055.6L1726.5,1049.7L1725.9,1052.4L1725.1,1052.2zM1777.7,1050.3L1778.2,1052.2L1775.2,1052.8L1781.5,1059.6L1784.5,1050.8L1781.6,1051.4L1781.2,1049.5zM1827.7,1051.3L1829.1,1053.4L1826.6,1055.1L1835.2,1059.2L1834.6,1049.7L1832.1,1051.4L1830.6,1049.3zM1878.4,1057.4L1881.5,1056.9L1882.0,1060.1L1889.7,1053.9L1880.5,1050.2L1881.0,1053.4L1877.8,1053.8zM1929.9,1057.9L1933.5,1057.1L1934.2,1060.3L1941.7,1053.4L1932.1,1050.3L1932.8,1053.5L1929.1,1054.3zM1982.2,1059.6L1986.2,1057.5L1987.8,1060.5L1993.2,1051.6L1982.8,1051.2L1984.4,1054.2L1980.5,1056.3zM2033.4,1059.0L2037.5,1057.3L2038.8,1060.5L2045.2,1052.3L2034.9,1050.7L2036.2,1053.9L2032.1,1055.5zM522.6,1102.1L507.1,1100.1L507.8,1094.9L493.1,1100.7L505.8,1110.1L506.5,1104.9L522.0,1107.0zM574.8,1101.5L558.5,1100.1L559.0,1094.8L544.2,1101.3L557.6,1110.3L558.1,1105.0L574.4,1106.5zM625.7,1100.8L610.4,1100.2L610.6,1095.0L596.6,1102.1L610.0,1110.2L610.2,1105.0L625.6,1105.6zM675.8,1098.9L662.2,1100.4L661.7,1095.5L649.6,1104.0L663.2,1109.9L662.7,1105.0L676.3,1103.6zM725.9,1097.9L714.2,1100.4L713.2,1095.9L702.6,1105.2L716.1,1109.3L715.1,1104.8L726.8,1102.3zM777.3,1099.9L766.6,1100.4L766.4,1096.0L755.0,1103.2L767.0,1109.2L766.8,1104.8L777.5,1104.3zM828.5,1103.5L819.3,1100.8L820.5,1096.7L807.9,1099.7L816.9,1109.0L818.1,1104.9L827.3,1107.6zM876.6,1105.1L872.4,1102.3L874.4,1099.4L863.7,1098.6L868.4,1108.3L870.3,1105.4L874.5,1108.2zM925.6,1105.1L924.6,1103.9L926.9,1102.1L918.3,1099.1L919.8,1108.0L922.0,1106.2L923.0,1107.3zM976.0,1106.1L975.7,1105.2L978.4,1104.2L971.6,1098.6L969.8,1107.2L972.5,1106.3L972.8,1107.3zM1026.1,1107.0L1026.2,1106.0L1029.0,1106.2L1025.0,1098.4L1020.0,1105.6L1022.8,1105.8L1022.7,1106.8zM1077.4,1106.8L1077.5,1106.3L1080.2,1106.7L1077.0,1098.7L1071.5,1105.3L1074.2,1105.7L1074.1,1106.3zM1132.7,1105.8L1127.8,1099.1L1124.1,1106.5zM1184.7,1105.1L1179.1,1099.3L1176.3,1106.9zM1235.9,1106.1L1231.4,1099.1L1227.3,1106.3zM1277.8,1102.3L1285.1,1105.4L1284.8,1097.4zM1329.7,1101.8L1336.4,1105.4L1337.1,1097.9zM1381.4,1102.2L1388.2,1105.3L1388.5,1097.8zM1433.6,1100.3L1438.9,1105.8L1441.8,1098.7zM1489.9,1097.3L1487.5,1104.7L1495.2,1103.9zM1544.1,1097.8L1538.4,1103.3L1545.9,1106.1zM1598.0,1099.5L1590.0,1101.6L1595.6,1107.8zM1648.8,1106.9L1645.8,1098.8L1640.1,1105.2zM1694.6,1106.5L1695.2,1106.0L1696.9,1108.2L1700.1,1100.1L1691.4,1101.1L1693.1,1103.4L1692.5,1103.8zM1744.2,1104.8L1745.5,1104.7L1745.8,1107.5L1753.0,1102.2L1744.8,1098.4L1745.1,1101.3L1743.8,1101.4zM1795.0,1101.8L1796.7,1102.8L1795.3,1105.4L1804.6,1105.0L1799.8,1097.0L1798.4,1099.7L1796.6,1098.7zM1846.2,1105.1L1849.5,1104.7L1849.8,1107.9L1857.8,1102.0L1848.7,1097.9L1849.1,1101.1L1845.8,1101.5zM1898.0,1106.0L1901.7,1105.0L1902.5,1108.2L1909.7,1101.0L1899.9,1098.3L1900.7,1101.5L1897.1,1102.5zM1949.6,1106.8L1953.8,1105.2L1955.0,1108.4L1961.7,1100.2L1951.3,1098.5L1952.5,1101.7L1948.3,1103.3zM2001.3,1106.8L2005.6,1105.2L2006.8,1108.4L2013.4,1100.2L2003.0,1098.5L2004.2,1101.7L1999.9,1103.3zM503.4,1149.4L487.1,1148.0L487.6,1142.6L472.8,1149.2L486.2,1158.2L486.7,1152.9L503.0,1154.3zM555.0,1149.1L538.8,1148.0L539.2,1142.7L524.6,1149.5L538.1,1158.2L538.5,1152.9L554.7,1154.0zM606.0,1148.1L590.6,1148.1L590.6,1142.9L576.8,1150.5L590.5,1158.2L590.6,1153.0L606.0,1153.0zM656.2,1147.9L642.8,1148.2L642.6,1143.3L629.9,1150.9L643.0,1157.7L642.9,1152.9L656.4,1152.5zM706.9,1146.2L694.4,1148.3L693.6,1143.6L682.4,1152.6L695.9,1157.5L695.1,1152.8L707.6,1150.7zM755.7,1144.8L746.5,1148.3L744.9,1144.2L736.6,1154.3L749.5,1156.3L748.0,1152.3L757.2,1148.8zM806.1,1156.6L800.5,1150.0L803.6,1147.4L791.9,1143.1L794.2,1155.4L797.3,1152.7L802.9,1159.3zM857.3,1153.9L852.6,1150.2L854.8,1147.3L843.7,1145.6L847.9,1156.1L850.1,1153.2L854.8,1157.0zM906.9,1148.5L904.3,1148.6L904.2,1145.5L896.2,1150.8L904.7,1155.3L904.5,1152.2L907.1,1152.0zM958.3,1151.7L956.8,1150.7L958.4,1148.2L949.2,1147.9L953.3,1156.1L954.9,1153.7L956.4,1154.6zM1007.9,1154.6L1007.5,1153.1L1010.3,1152.3L1003.7,1146.0L1001.3,1154.8L1004.2,1154.0L1004.6,1155.6zM1056.4,1155.5L1057.0,1154.1L1059.7,1155.3L1058.6,1146.3L1051.2,1151.5L1053.8,1152.7L1053.2,1154.1zM1112.8,1154.0L1108.3,1146.8L1104.1,1154.1zM1165.0,1150.9L1158.7,1148.1L1157.9,1155.0zM1216.2,1154.0L1211.8,1146.8L1207.5,1154.1zM1260.4,1154.8L1266.7,1150.4L1260.2,1146.4zM1310.7,1152.5L1317.6,1152.0L1315.0,1145.6zM1361.9,1151.1L1368.8,1152.7L1368.0,1145.6zM1413.6,1150.3L1420.1,1152.9L1420.6,1146.0zM1474.3,1147.6L1467.6,1149.6L1471.6,1155.3zM1526.2,1147.9L1519.4,1149.4L1522.9,1155.4zM1578.4,1147.5L1570.4,1149.4L1575.7,1155.7zM1630.4,1147.9L1622.0,1149.1L1627.0,1155.9zM1679.5,1154.7L1679.3,1153.5L1682.1,1153.0L1676.4,1146.1L1673.0,1154.4L1675.9,1154.0L1676.1,1155.2zM1730.8,1155.0L1730.7,1153.6L1733.6,1153.5L1728.6,1146.0L1724.4,1153.9L1727.3,1153.8L1727.3,1155.2zM1777.6,1154.9L1779.1,1153.7L1780.9,1156.1L1784.5,1147.6L1775.3,1148.5L1777.0,1150.9L1775.5,1152.1zM1829.0,1155.9L1831.5,1153.6L1833.6,1156.0L1836.6,1146.5L1826.9,1148.6L1829.0,1150.9L1826.6,1153.2zM1878.2,1154.9L1882.5,1153.1L1883.8,1156.3L1890.3,1147.9L1879.8,1146.5L1881.1,1149.6L1876.8,1151.4zM1929.6,1155.5L1934.6,1153.1L1936.2,1156.4L1942.4,1147.3L1931.4,1146.4L1933.0,1149.7L1928.0,1152.0zM1981.0,1153.7L1985.5,1152.8L1986.1,1156.2L1994.0,1149.2L1984.0,1145.8L1984.7,1149.1L1980.2,1150.1zM2032.8,1154.4L2037.5,1153.0L2038.5,1156.3L2045.7,1148.5L2035.3,1146.1L2036.3,1149.4L2031.7,1150.8zM517.7,1196.6L508.8,1196.3L508.9,1192.2L497.7,1198.2L508.6,1204.7L508.7,1200.5L517.6,1200.8zM570.6,1196.7L560.1,1196.3L560.3,1191.9L548.3,1197.9L559.7,1205.0L559.9,1200.6L570.4,1201.1zM621.1,1194.0L611.3,1196.2L610.4,1192.0L600.6,1200.8L613.2,1204.6L612.3,1200.4L622.0,1198.2zM670.4,1199.9L665.4,1197.5L666.9,1194.3L656.0,1195.2L662.2,1204.3L663.8,1201.0L668.8,1203.4zM723.2,1200.8L716.7,1197.3L718.6,1193.9L706.7,1194.2L713.0,1204.3L714.8,1200.9L721.3,1204.4zM774.8,1202.6L768.5,1197.6L770.9,1194.5L758.9,1192.6L763.4,1204.0L765.9,1200.8L772.2,1205.8zM826.2,1203.5L820.2,1197.7L823.0,1194.8L811.0,1191.9L814.6,1203.7L817.3,1200.7L823.4,1206.5zM877.3,1200.6L872.2,1197.7L874.0,1194.5L862.9,1194.5L868.5,1204.2L870.3,1201.1L875.3,1204.0zM926.1,1200.1L924.8,1199.1L926.7,1196.8L917.6,1195.4L920.7,1204.0L922.6,1201.7L923.9,1202.8zM977.9,1199.4L976.6,1198.6L978.1,1196.0L969.0,1196.0L973.2,1204.0L974.7,1201.5L976.1,1202.4zM1024.6,1203.4L1025.2,1202.0L1027.9,1203.0L1026.4,1194.1L1019.2,1199.7L1022.0,1200.7L1021.4,1202.1zM1079.9,1201.7L1079.3,1200.5L1081.9,1199.3L1074.4,1194.4L1073.6,1203.3L1076.2,1202.0L1076.8,1203.2zM1132.3,1199.4L1131.8,1199.1L1133.5,1196.8L1124.8,1196.0L1128.2,1204.0L1129.8,1201.8L1130.4,1202.2zM1174.2,1198.1L1181.9,1201.3L1181.2,1193.0zM1237.0,1199.2L1229.6,1195.2L1229.5,1203.7zM1278.2,1197.9L1284.6,1200.9L1285.4,1193.9zM1329.8,1198.2L1336.6,1200.9L1336.7,1193.6zM1382.7,1202.4L1390.2,1198.7L1383.5,1193.8zM1433.5,1200.6L1441.1,1199.9L1437.4,1193.2zM1492.7,1194.3L1487.2,1198.4L1492.8,1202.5zM1543.5,1193.8L1538.9,1199.1L1545.4,1201.7zM1591.3,1194.0L1592.0,1200.8L1598.3,1198.1zM1646.8,1193.4L1642.0,1199.4L1649.5,1201.4zM1701.3,1195.6L1693.7,1197.3L1698.4,1203.5zM1751.6,1202.0L1751.2,1200.9L1753.9,1199.9L1747.0,1194.3L1745.3,1203.0L1748.0,1202.0L1748.4,1203.2zM1804.6,1202.5L1803.1,1199.9L1805.9,1198.3L1797.4,1193.4L1797.2,1203.2L1800.0,1201.7L1801.5,1204.3zM1848.9,1207.9L1853.1,1200.4L1856.7,1202.5L1856.7,1190.0L1846.0,1196.3L1849.5,1198.4L1845.3,1205.8zM1900.0,1206.4L1904.2,1200.9L1907.2,1203.2L1908.8,1191.7L1898.0,1196.1L1901.0,1198.5L1896.8,1203.9zM1949.9,1206.8L1956.0,1200.7L1958.9,1203.6L1962.1,1191.5L1950.1,1194.9L1953.0,1197.7L1947.0,1203.8zM2001.9,1204.7L2006.7,1201.1L2008.9,1204.0L2013.3,1193.7L2002.1,1195.1L2004.3,1198.0L1999.5,1201.6zM496.4,1247.0L490.3,1245.0L491.5,1241.5L480.3,1243.7L487.8,1252.3L489.0,1248.7L495.1,1250.8zM547.5,1247.9L542.3,1245.4L543.8,1242.1L532.7,1243.0L539.0,1252.2L540.6,1248.9L545.8,1251.4zM599.0,1248.4L594.0,1245.6L595.8,1242.5L584.8,1242.5L590.3,1252.1L592.1,1249.0L597.1,1251.8zM652.1,1245.9L644.9,1244.6L645.6,1240.8L634.5,1244.7L643.5,1252.4L644.2,1248.6L651.4,1249.9zM703.6,1250.9L697.0,1245.4L699.6,1242.3L687.3,1240.1L691.7,1251.8L694.3,1248.6L701.0,1254.1zM755.3,1250.7L748.7,1245.4L751.2,1242.2L739.0,1240.3L743.6,1251.8L746.1,1248.6L752.7,1254.0zM807.1,1250.7L800.4,1245.4L802.9,1242.2L790.6,1240.3L795.3,1251.8L797.8,1248.6L804.5,1253.9zM858.9,1248.8L852.1,1245.2L853.9,1241.7L841.9,1242.1L848.3,1252.2L850.2,1248.8L857.0,1252.4zM907.3,1246.6L904.9,1245.7L906.0,1242.8L896.6,1244.4L902.5,1251.9L903.6,1249.0L906.0,1249.9zM957.5,1250.0L953.5,1242.5L948.7,1249.6zM1004.4,1251.9L1008.0,1244.3L999.6,1244.7zM1060.7,1243.1L1053.8,1245.6L1058.6,1251.1zM1110.7,1250.7L1109.7,1243.8L1103.5,1246.9zM1155.7,1248.4L1162.5,1247.7L1159.8,1241.4zM1214.6,1242.2L1209.0,1246.3L1214.6,1250.4zM1264.8,1240.9L1260.3,1247.8L1268.5,1248.7zM1316.4,1240.8L1311.8,1247.9L1320.3,1248.7zM1361.7,1246.5L1368.9,1248.7L1368.2,1241.2zM1413.6,1246.3L1420.3,1248.7L1420.3,1241.6zM1466.6,1243.0L1469.9,1249.1L1474.7,1244.0zM1518.5,1242.8L1521.5,1249.0L1526.5,1244.3zM1570.6,1242.4L1572.9,1249.0L1578.5,1244.8zM1622.1,1242.5L1624.7,1249.1L1630.1,1244.4zM1673.4,1250.5L1680.7,1246.5L1673.7,1241.8zM1725.3,1249.1L1726.0,1248.9L1726.8,1251.5L1732.7,1245.2L1724.3,1242.9L1725.1,1245.6L1724.4,1245.8zM1785.5,1252.1L1783.1,1247.3L1786.3,1245.7L1777.2,1239.6L1776.5,1250.6L1779.7,1249.0L1782.1,1253.8zM1836.2,1253.3L1834.6,1247.6L1838.1,1246.6L1830.1,1238.8L1827.3,1249.6L1830.8,1248.6L1832.4,1254.3zM1884.4,1254.9L1885.6,1248.3L1889.3,1248.9L1885.4,1238.1L1877.9,1246.9L1881.7,1247.6L1880.5,1254.2zM1936.0,1254.6L1937.2,1248.4L1940.8,1249.1L1937.1,1238.4L1929.7,1247.0L1933.3,1247.7L1932.1,1253.9zM1987.2,1254.5L1988.7,1248.5L1992.3,1249.5L1989.3,1238.6L1981.4,1246.6L1985.0,1247.6L1983.4,1253.6zM2038.0,1254.1L2040.1,1248.8L2043.4,1250.2L2041.8,1239.2L2033.1,1246.1L2036.5,1247.4L2034.4,1252.7zM516.6,1295.3L509.8,1292.8L511.1,1289.2L499.5,1291.2L507.1,1300.2L508.4,1296.6L515.2,1299.1zM567.9,1296.0L561.7,1293.1L563.3,1289.6L551.7,1290.6L558.4,1300.1L560.0,1296.7L566.2,1299.6zM620.0,1296.0L613.3,1293.0L614.9,1289.4L603.1,1290.5L610.0,1300.2L611.6,1296.6L618.3,1299.7zM672.3,1297.1L664.8,1292.9L666.8,1289.4L654.3,1289.5L660.8,1300.1L662.8,1296.6L670.2,1300.7zM724.0,1297.3L716.5,1293.0L718.5,1289.4L706.1,1289.3L712.4,1300.1L714.4,1296.6L721.9,1300.9zM775.7,1297.2L768.2,1292.9L770.2,1289.4L757.8,1289.4L764.1,1300.1L766.1,1296.6L773.6,1300.8zM827.3,1296.8L819.9,1292.9L821.8,1289.3L809.4,1289.8L816.1,1300.2L818.0,1296.6L825.4,1300.4zM878.3,1294.3L871.6,1292.6L872.5,1288.9L861.3,1292.2L869.8,1300.2L870.7,1296.5L877.4,1298.2zM917.0,1290.6L921.2,1298.0L925.8,1290.9zM975.8,1290.1L970.1,1294.2L975.9,1298.3zM1030.3,1294.3L1022.5,1291.3L1023.5,1299.7zM1082.0,1293.7L1073.9,1291.7L1075.9,1299.8zM1133.4,1292.3L1125.1,1292.4L1128.9,1299.7zM1177.2,1290.8L1177.3,1291.3L1174.6,1292.0L1180.8,1298.0L1183.2,1289.8L1180.6,1290.5L1180.4,1289.9zM1234.7,1290.3L1233.3,1291.1L1231.8,1288.6L1227.4,1296.6L1236.5,1296.7L1235.1,1294.1L1236.5,1293.3zM1282.3,1289.2L1282.0,1290.8L1279.2,1290.3L1282.4,1298.9L1288.3,1292.0L1285.5,1291.4L1285.7,1289.9zM1339.0,1291.9L1337.9,1292.0L1337.4,1289.2L1330.6,1294.8L1338.8,1298.2L1338.4,1295.4L1339.5,1295.2zM1390.8,1297.9L1386.7,1290.5L1382.1,1297.6zM1441.6,1298.5L1439.1,1291.0L1433.4,1296.4zM1494.8,1296.4L1489.3,1291.0L1486.6,1298.3zM1547.0,1294.5L1539.9,1291.6L1540.0,1299.2zM1597.8,1297.7L1593.4,1290.5L1589.1,1297.7zM1645.6,1299.8L1647.7,1291.7L1639.5,1293.6zM1693.3,1298.6L1700.5,1294.2L1693.3,1289.8zM1747.8,1299.6L1748.8,1297.6L1751.5,1299.0L1750.8,1289.6L1742.9,1294.7L1745.6,1296.1L1744.7,1298.0zM1804.3,1299.9L1802.8,1295.7L1805.9,1294.5L1797.9,1287.8L1796.0,1298.2L1799.2,1297.0L1800.8,1301.2zM1856.4,1301.5L1854.3,1295.2L1857.9,1294.0L1849.3,1286.3L1847.0,1297.6L1850.5,1296.4L1852.6,1302.7zM1907.5,1302.1L1905.9,1295.3L1909.6,1294.4L1901.7,1285.9L1898.3,1297.1L1902.0,1296.2L1903.6,1303.0zM1958.5,1301.5L1957.5,1295.8L1961.1,1295.1L1954.0,1286.6L1950.1,1297.0L1953.7,1296.4L1954.7,1302.2zM2008.8,1301.4L2008.9,1296.4L2012.4,1296.4L2007.1,1287.1L2001.6,1296.3L2005.1,1296.3L2005.0,1301.3zM496.0,1343.9L490.5,1341.1L492.1,1337.8L480.8,1338.5L487.1,1348.0L488.7,1344.6L494.3,1347.4zM548.1,1343.4L542.0,1340.9L543.4,1337.4L532.0,1339.0L539.1,1348.0L540.5,1344.6L546.6,1347.0zM600.4,1341.9L593.3,1340.4L594.0,1336.6L582.8,1340.3L591.7,1348.1L592.5,1344.4L599.6,1345.8zM652.1,1343.2L645.2,1340.7L646.5,1337.1L634.8,1339.1L642.5,1348.1L643.8,1344.5L650.7,1347.0zM704.0,1342.6L696.7,1340.5L697.7,1336.7L686.1,1339.6L694.5,1348.2L695.6,1344.4L702.9,1346.5zM755.9,1342.5L748.3,1340.5L749.3,1336.6L737.6,1339.7L746.2,1348.2L747.2,1344.4L754.9,1346.5zM808.1,1342.7L799.8,1340.4L800.9,1336.4L788.8,1339.5L797.6,1348.3L798.7,1344.4L807.0,1346.7zM859.0,1342.2L851.8,1340.5L852.7,1336.7L841.3,1340.0L850.0,1348.2L850.9,1344.4L858.0,1346.1zM907.8,1340.5L904.2,1340.4L904.4,1337.1L895.5,1341.8L903.9,1347.3L904.1,1344.0L907.6,1344.2zM958.9,1340.5L956.1,1340.4L956.3,1337.3L947.8,1341.9L955.9,1347.1L956.0,1344.0L958.8,1344.1zM1010.6,1341.7L1008.2,1341.1L1009.0,1338.1L999.9,1340.8L1006.6,1347.5L1007.3,1344.5L1009.7,1345.1zM1061.8,1342.8L1060.2,1342.0L1061.6,1339.4L1052.4,1339.9L1057.3,1347.7L1058.6,1345.1L1060.2,1345.8zM1110.4,1346.0L1110.4,1345.3L1113.1,1345.1L1108.1,1338.1L1104.2,1345.8L1107.0,1345.6L1107.1,1346.2zM1165.0,1336.0L1160.5,1339.4L1158.4,1336.5L1154.0,1346.6L1165.0,1345.3L1162.8,1342.5L1167.3,1339.1zM1216.6,1336.1L1212.3,1339.3L1210.1,1336.5L1205.8,1346.6L1216.7,1345.3L1214.6,1342.4L1218.9,1339.1zM1268.5,1340.9L1266.7,1340.7L1267.0,1337.7L1258.7,1341.6L1266.0,1347.1L1266.3,1344.2L1268.2,1344.4zM1319.3,1340.5L1318.7,1340.5L1318.7,1337.8L1311.2,1342.0L1318.5,1346.6L1318.5,1343.9L1319.1,1343.9zM1365.8,1336.6L1364.7,1344.8L1372.5,1342.1zM1414.9,1338.2L1418.1,1345.4L1423.3,1339.4zM1474.4,1338.6L1467.0,1341.4L1472.7,1346.9zM1526.3,1338.8L1518.8,1341.3L1524.2,1347.0zM1578.3,1345.3L1573.4,1338.4L1569.6,1345.9zM1629.8,1345.5L1625.3,1338.3L1621.1,1345.7zM1681.6,1338.8L1673.4,1341.1L1679.3,1347.3zM1733.4,1342.2L1732.5,1341.9L1733.6,1339.3L1724.9,1340.4L1730.0,1347.6L1731.2,1345.0L1732.0,1345.3zM1785.2,1347.0L1783.3,1343.3L1786.2,1341.8L1777.5,1336.3L1777.0,1346.6L1780.0,1345.1L1781.9,1348.7zM1836.8,1347.8L1834.8,1343.3L1838.0,1341.9L1829.3,1335.7L1828.2,1346.3L1831.4,1344.9L1833.4,1349.3zM1888.7,1349.5L1886.3,1342.9L1889.9,1341.6L1881.0,1334.0L1878.9,1345.5L1882.5,1344.2L1884.9,1350.9zM1939.5,1349.3L1937.9,1343.4L1941.5,1342.5L1933.6,1334.4L1930.6,1345.2L1934.2,1344.3L1935.7,1350.3zM1989.2,1348.0L1989.1,1344.7L1992.4,1344.7L1987.2,1336.2L1982.3,1344.8L1985.5,1344.7L1985.6,1348.0zM2040.5,1348.1L2040.7,1344.8L2043.9,1345.0L2039.4,1336.2L2033.8,1344.4L2037.0,1344.6L2036.8,1347.9zM516.6,1389.6L509.6,1388.3L510.3,1384.5L499.1,1388.4L508.1,1396.0L508.8,1392.2L515.9,1393.6zM568.3,1389.1L561.2,1388.2L561.7,1384.4L550.8,1388.9L560.2,1396.0L560.7,1392.2L567.8,1393.1zM620.3,1389.1L612.7,1388.1L613.2,1384.2L602.2,1388.9L611.8,1396.1L612.2,1392.2L619.8,1393.1zM672.6,1389.0L664.2,1388.1L664.7,1384.0L653.3,1388.9L663.3,1396.2L663.7,1392.2L672.1,1393.1zM724.4,1389.6L716.0,1388.1L716.7,1384.1L705.0,1388.3L714.5,1396.2L715.3,1392.2L723.6,1393.7zM776.0,1389.8L767.7,1388.2L768.5,1384.2L756.8,1388.1L766.2,1396.2L766.9,1392.2L775.2,1393.9zM827.7,1389.5L819.4,1388.1L820.1,1384.1L808.5,1388.4L818.0,1396.2L818.7,1392.2L827.0,1393.6zM879.3,1388.0L870.7,1387.9L870.8,1383.8L859.9,1389.9L870.7,1396.1L870.7,1392.1L879.3,1392.1zM930.9,1388.0L922.5,1387.9L922.5,1383.9L911.7,1389.9L922.4,1396.1L922.4,1392.1L930.9,1392.1zM983.3,1388.0L973.9,1387.9L974.0,1383.7L962.7,1389.8L973.8,1396.3L973.9,1392.1L983.2,1392.2zM1032.3,1383.4L1024.6,1387.6L1022.6,1384.0L1016.1,1394.7L1028.6,1394.9L1026.7,1391.3L1034.3,1387.1zM1083.1,1383.4L1076.5,1387.5L1074.4,1384.2L1068.7,1394.8L1080.7,1394.3L1078.6,1391.0L1085.2,1386.9zM1129.7,1382.4L1127.2,1387.4L1124.0,1385.8L1124.8,1396.8L1133.9,1390.6L1130.7,1389.0L1133.1,1384.0zM1176.8,1385.3L1177.4,1387.6L1174.4,1388.3L1181.1,1395.0L1183.8,1386.0L1180.8,1386.7L1180.2,1384.5zM1229.6,1385.2L1229.7,1387.0L1226.7,1387.0L1231.6,1394.8L1236.1,1386.8L1233.2,1386.9L1233.1,1385.1zM1288.8,1390.6L1281.2,1386.8L1281.3,1395.3zM1340.5,1389.7L1332.3,1387.1L1333.9,1395.5zM1389.4,1385.1L1382.9,1390.5L1390.7,1393.8zM1439.5,1384.5L1435.1,1391.6L1443.4,1392.3zM1493.4,1385.5L1486.3,1390.1L1493.7,1394.2zM1546.2,1386.7L1538.2,1389.0L1544.0,1395.1zM1597.8,1393.4L1593.3,1386.2L1589.1,1393.5zM1647.7,1393.4L1647.6,1392.8L1650.3,1392.1L1644.1,1386.1L1641.7,1394.4L1644.4,1393.7L1644.5,1394.2zM1698.7,1394.6L1698.7,1393.0L1701.6,1392.9L1696.6,1385.3L1692.3,1393.3L1695.2,1393.2L1695.3,1394.7zM1752.4,1393.7L1751.4,1391.8L1754.1,1390.4L1746.1,1385.4L1745.6,1394.8L1748.3,1393.4L1749.3,1395.4zM1803.0,1395.4L1802.5,1392.3L1805.6,1391.7L1799.1,1384.3L1795.8,1393.5L1798.9,1392.9L1799.5,1396.0zM1855.5,1396.2L1854.3,1391.6L1857.6,1390.8L1850.1,1383.2L1847.3,1393.5L1850.6,1392.6L1851.8,1397.2zM1906.7,1396.4L1905.9,1391.8L1909.2,1391.2L1902.3,1383.2L1898.8,1393.2L1902.2,1392.5L1903.0,1397.1zM1956.7,1396.3L1957.0,1392.6L1960.2,1392.8L1955.7,1383.8L1950.0,1392.2L1953.3,1392.4L1953.1,1396.1zM2008.6,1395.8L2008.7,1392.7L2011.9,1392.8L2007.2,1384.2L2001.9,1392.5L2005.1,1392.6L2005.0,1395.7zM497.1,1437.2L489.7,1436.1L490.3,1432.2L479.2,1436.6L488.6,1443.9L489.1,1440.1L496.5,1441.2zM548.7,1436.6L541.3,1436.0L541.7,1432.1L530.9,1437.1L540.6,1443.9L541.0,1440.0L548.3,1440.7zM600.3,1436.2L593.0,1435.9L593.1,1432.0L582.6,1437.5L592.7,1443.8L592.8,1439.9L600.1,1440.2zM651.9,1436.2L644.7,1435.9L644.8,1432.1L634.3,1437.5L644.4,1443.8L644.5,1439.9L651.8,1440.2zM703.9,1437.3L696.6,1436.1L697.2,1432.3L686.0,1436.4L695.3,1443.9L695.9,1440.1L703.2,1441.3zM755.6,1437.7L748.3,1436.2L749.1,1432.4L737.8,1436.1L746.7,1444.0L747.5,1440.1L754.8,1441.6zM807.2,1438.2L800.2,1436.3L801.2,1432.6L789.7,1435.6L798.1,1443.9L799.1,1440.2L806.2,1442.1zM858.8,1436.7L851.6,1436.0L851.9,1432.1L841.2,1437.1L850.8,1443.9L851.2,1440.0L858.5,1440.7zM911.2,1436.5L902.9,1435.9L903.2,1431.9L892.1,1437.2L902.4,1444.0L902.7,1440.0L910.9,1440.6zM962.6,1435.9L954.6,1435.8L954.7,1431.8L944.0,1437.8L954.5,1443.9L954.6,1439.9L962.6,1440.0zM1013.5,1434.0L1005.9,1435.6L1005.1,1431.7L996.1,1439.8L1007.6,1443.4L1006.8,1439.6L1014.3,1438.0zM1062.5,1430.9L1056.6,1435.4L1054.3,1432.3L1049.6,1443.3L1061.4,1441.7L1059.1,1438.6L1065.0,1434.1zM1111.3,1430.5L1108.0,1435.2L1105.0,1433.0L1103.9,1444.1L1114.0,1439.6L1111.1,1437.5L1114.5,1432.8zM1164.5,1441.4L1160.1,1434.1L1155.7,1441.3zM1215.9,1440.8L1211.8,1435.0L1207.7,1440.7zM1263.8,1442.2L1263.9,1441.6L1266.6,1442.6L1264.8,1434.1L1258.2,1439.6L1260.8,1440.5L1260.6,1441.1zM1311.1,1440.4L1312.4,1440.2L1313.0,1443.0L1319.7,1437.0L1311.2,1433.9L1311.8,1436.8L1310.4,1437.1zM1364.0,1433.1L1365.5,1441.5L1372.3,1436.2zM1414.9,1433.6L1417.9,1441.6L1423.5,1435.2zM1467.1,1433.2L1469.1,1441.5L1475.5,1435.9zM1518.3,1433.6L1521.3,1441.6L1527.0,1435.3zM1570.8,1433.1L1572.4,1441.4L1579.0,1436.1zM1622.1,1433.3L1624.3,1441.6L1630.6,1435.8zM1675.4,1433.2L1675.4,1434.7L1672.5,1434.7L1677.0,1442.5L1681.8,1434.8L1678.9,1434.8L1678.9,1433.2zM1727.3,1432.9L1727.2,1434.7L1724.2,1434.6L1728.6,1442.7L1733.7,1435.1L1730.7,1434.9L1730.8,1433.1zM1782.3,1443.6L1782.3,1440.6L1785.5,1440.6L1780.5,1432.1L1775.5,1440.6L1778.7,1440.6L1778.7,1443.6zM1834.2,1443.9L1834.1,1440.4L1837.3,1440.3L1832.1,1431.8L1827.2,1440.5L1830.4,1440.5L1830.5,1444.0zM1887.2,1445.0L1886.2,1439.4L1889.7,1438.8L1882.5,1430.4L1878.8,1440.8L1882.4,1440.1L1883.4,1445.7zM1937.8,1444.8L1937.6,1440.0L1941.1,1439.8L1935.3,1430.8L1930.4,1440.3L1933.8,1440.1L1934.1,1445.0zM1982.6,1440.3L1984.6,1440.0L1985.0,1443.0L1992.2,1437.2L1983.7,1433.6L1984.1,1436.6L1982.1,1436.8zM2036.6,1443.2L2038.5,1441.1L2040.8,1443.2L2042.7,1433.7L2033.5,1436.6L2035.8,1438.7L2033.9,1440.8zM518.1,1489.2L509.4,1484.2L511.5,1480.5L498.4,1480.5L505.1,1491.7L507.3,1488.0L516.0,1492.9zM569.3,1484.6L560.7,1483.8L561.1,1479.7L549.7,1484.9L559.9,1492.0L560.3,1487.9L568.9,1488.7zM619.5,1484.4L612.9,1483.9L613.2,1480.2L602.9,1485.1L612.4,1491.6L612.6,1487.9L619.2,1488.4zM670.9,1484.6L664.8,1484.0L665.2,1480.4L654.9,1484.9L664.0,1491.5L664.4,1487.9L670.5,1488.5zM722.5,1486.6L716.9,1484.6L718.2,1481.2L707.2,1483.1L714.4,1491.7L715.6,1488.2L721.1,1490.2zM774.0,1487.5L768.8,1484.9L770.4,1481.6L759.3,1482.3L765.4,1491.6L767.0,1488.3L772.3,1490.9zM825.6,1487.1L820.5,1484.8L822.0,1481.5L811.0,1482.7L817.4,1491.6L818.9,1488.3L824.0,1490.6zM876.6,1485.1L872.2,1484.3L872.8,1480.9L862.9,1484.6L870.9,1491.4L871.5,1488.0L876.0,1488.8zM929.0,1483.9L923.2,1483.8L923.3,1480.2L913.6,1485.7L923.2,1491.3L923.2,1487.7L929.0,1487.8zM980.2,1482.4L974.5,1483.5L973.8,1479.9L965.4,1487.2L975.9,1490.9L975.3,1487.3L980.9,1486.2zM1030.7,1480.6L1025.6,1483.2L1024.0,1479.9L1017.8,1489.2L1028.9,1489.9L1027.3,1486.6L1032.4,1484.1zM1081.3,1488.4L1079.7,1486.6L1081.9,1484.5L1072.8,1481.9L1074.9,1491.2L1077.1,1489.1L1078.8,1490.8zM1129.2,1490.1L1129.3,1489.3L1132.0,1489.7L1128.7,1481.7L1123.2,1488.4L1125.9,1488.8L1125.8,1489.6zM1174.2,1485.1L1181.8,1489.0L1181.7,1480.5zM1230.6,1480.9L1230.4,1482.3L1227.5,1481.8L1230.7,1490.3L1236.6,1483.5L1233.8,1483.0L1234.0,1481.6zM1287.3,1489.6L1283.5,1482.0L1278.6,1488.9zM1338.4,1490.1L1335.7,1482.1L1329.9,1488.2zM1391.2,1489.0L1386.4,1482.1L1382.5,1489.5zM1443.9,1485.2L1435.7,1483.1L1437.6,1491.3zM1488.3,1481.0L1488.3,1482.6L1485.4,1482.6L1490.0,1490.5L1494.7,1482.7L1491.8,1482.7L1491.8,1481.1zM1540.2,1481.4L1540.2,1482.4L1537.3,1482.2L1541.5,1490.1L1546.4,1482.7L1543.6,1482.6L1543.6,1481.6zM1597.9,1489.2L1593.3,1482.0L1589.1,1489.4zM1648.6,1488.5L1648.2,1487.9L1650.7,1486.5L1643.1,1482.2L1642.8,1490.9L1645.3,1489.5L1645.6,1490.2zM1698.6,1490.5L1698.6,1488.8L1701.5,1488.8L1696.7,1481.0L1692.2,1488.9L1695.1,1488.9L1695.1,1490.5zM1750.7,1490.9L1750.5,1488.5L1753.6,1488.2L1748.1,1480.5L1743.9,1489.0L1747.0,1488.8L1747.2,1491.2zM1799.7,1492.7L1801.2,1488.6L1804.4,1489.7L1802.4,1479.4L1794.5,1486.2L1797.7,1487.3L1796.2,1491.5zM1854.6,1492.6L1854.0,1487.7L1857.5,1487.3L1851.1,1478.7L1846.8,1488.6L1850.3,1488.1L1850.9,1493.0zM1908.1,1492.4L1906.1,1486.9L1909.5,1485.6L1901.0,1478.5L1899.0,1489.5L1902.4,1488.2L1904.4,1493.7zM1958.6,1492.4L1957.6,1487.5L1961.0,1486.8L1953.9,1478.8L1950.4,1488.9L1953.9,1488.2L1954.9,1493.1zM2011.3,1492.4L2009.5,1487.0L2012.9,1485.8L2004.5,1478.5L2002.4,1489.4L2005.8,1488.2L2007.7,1493.6zM498.4,1539.6L489.7,1532.1L492.6,1528.7L479.0,1526.0L483.8,1539.0L486.8,1535.5L495.5,1543.0zM550.0,1534.1L541.2,1531.8L542.2,1527.8L529.9,1531.2L539.1,1540.0L540.1,1535.9L549.0,1538.2zM600.5,1532.4L593.0,1531.7L593.3,1527.8L582.4,1532.9L592.3,1539.7L592.6,1535.8L600.2,1536.5zM651.0,1532.4L645.2,1531.9L645.5,1528.3L635.4,1532.9L644.5,1539.4L644.8,1535.8L650.6,1536.3zM702.6,1534.4L697.3,1532.5L698.5,1529.1L687.7,1531.1L694.8,1539.5L696.0,1536.1L701.3,1538.0zM753.8,1535.0L749.2,1532.8L750.7,1529.7L740.0,1530.6L746.1,1539.4L747.6,1536.3L752.2,1538.4zM804.0,1535.4L801.4,1533.7L803.2,1531.0L793.4,1530.4L797.6,1539.3L799.4,1536.6L802.0,1538.4zM856.8,1533.9L852.7,1532.6L853.7,1529.4L843.6,1531.6L850.5,1539.4L851.6,1536.1L855.6,1537.5zM904.8,1537.4L904.3,1536.0L907.0,1535.0L900.0,1529.3L898.3,1538.2L901.1,1537.2L901.6,1538.6zM956.1,1529.8L955.1,1530.5L953.5,1528.1L949.6,1536.1L958.5,1535.7L956.9,1533.3L958.0,1532.6zM1006.6,1529.0L1005.7,1530.1L1003.4,1528.3L1002.1,1537.2L1010.6,1534.2L1008.3,1532.3L1009.3,1531.2zM1061.6,1532.4L1060.0,1532.3L1060.3,1529.3L1051.9,1533.1L1059.3,1538.6L1059.6,1535.7L1061.3,1535.9zM1113.7,1531.7L1105.2,1531.7L1109.1,1539.2zM1164.5,1537.2L1160.1,1529.9L1155.7,1537.1zM1216.1,1537.2L1211.8,1529.9L1207.4,1537.1zM1267.9,1536.9L1263.4,1530.3L1259.4,1537.2zM1319.3,1536.5L1315.2,1530.8L1311.1,1536.5zM1372.0,1534.0L1365.3,1531.1L1365.0,1538.4zM1423.5,1532.3L1416.3,1531.8L1418.2,1538.7zM1471.5,1538.1L1471.6,1537.1L1474.4,1537.4L1470.8,1529.4L1465.4,1536.4L1468.2,1536.7L1468.1,1537.7zM1523.3,1538.3L1523.4,1537.0L1526.3,1537.2L1522.4,1529.2L1517.1,1536.4L1520.0,1536.7L1519.9,1538.0zM1578.6,1530.9L1570.3,1532.2L1575.3,1539.0zM1630.3,1530.9L1622.0,1532.3L1627.1,1539.0zM1681.4,1533.3L1680.9,1533.1L1681.7,1530.5L1673.3,1532.4L1679.0,1538.9L1679.8,1536.3L1680.4,1536.5zM1733.3,1534.6L1732.5,1534.1L1734.1,1531.7L1725.3,1531.3L1729.1,1539.2L1730.6,1536.9L1731.4,1537.4zM1782.4,1538.7L1782.3,1536.6L1785.3,1536.5L1780.4,1528.6L1775.8,1536.7L1778.8,1536.7L1778.9,1538.8zM1834.4,1539.2L1834.2,1536.2L1837.3,1536.1L1831.8,1527.9L1827.4,1536.7L1830.6,1536.5L1830.8,1539.5zM1888.8,1538.8L1886.6,1534.7L1889.6,1533.1L1880.6,1527.6L1880.3,1538.2L1883.3,1536.5L1885.5,1540.6zM1940.8,1538.9L1938.3,1534.6L1941.3,1532.9L1932.1,1527.4L1932.0,1538.2L1935.0,1536.5L1937.5,1540.8zM1993.0,1537.8L1990.2,1534.3L1992.9,1532.1L1983.1,1528.4L1984.6,1538.7L1987.3,1536.6L1990.1,1540.1zM2044.4,1538.1L2041.8,1534.4L2044.6,1532.5L2035.1,1528.1L2036.0,1538.6L2038.8,1536.6L2041.4,1540.3zM521.7,1586.8L508.1,1579.0L510.8,1574.5L495.0,1574.2L503.1,1587.7L505.7,1583.2L519.2,1591.0zM567.4,1580.3L561.4,1579.8L561.8,1576.1L551.6,1580.8L560.7,1587.3L561.1,1583.7L567.0,1584.2zM618.2,1584.4L613.9,1581.2L616.0,1578.3L605.1,1577.1L609.5,1587.2L611.6,1584.3L616.0,1587.5zM668.6,1585.0L665.8,1582.0L668.2,1579.7L658.3,1576.8L660.6,1586.8L663.1,1584.6L665.9,1587.6zM720.1,1583.9L717.7,1581.9L719.8,1579.4L710.0,1577.8L713.3,1587.1L715.4,1584.6L717.8,1586.7zM773.3,1583.0L769.0,1580.8L770.6,1577.8L760.0,1578.4L765.8,1587.3L767.3,1584.2L771.6,1586.4zM824.7,1582.3L820.8,1580.7L822.0,1577.6L811.7,1579.1L818.1,1587.3L819.4,1584.1L823.4,1585.7zM873.7,1584.5L872.8,1583.2L875.2,1581.5L867.0,1577.6L867.5,1586.7L869.9,1585.1L870.8,1586.4zM925.5,1584.8L921.3,1578.3L917.1,1584.8zM977.2,1584.9L973.1,1578.3L968.7,1584.7zM1027.4,1586.4L1026.1,1578.1L1019.3,1583.1zM1080.7,1581.5L1080.2,1581.3L1081.3,1578.8L1072.7,1580.0L1077.8,1587.0L1078.9,1584.4L1079.4,1584.6zM1133.6,1580.5L1125.2,1578.9L1127.7,1587.1zM1181.4,1585.7L1181.4,1584.9L1184.2,1585.0L1179.9,1577.4L1175.2,1584.8L1178.0,1584.9L1178.0,1585.6zM1233.8,1586.7L1233.2,1578.2L1226.0,1582.7zM1278.8,1579.2L1283.5,1584.4L1287.0,1578.2zM1330.0,1580.3L1335.9,1584.2L1337.7,1577.3zM1390.7,1584.4L1386.6,1578.7L1382.5,1584.3zM1441.5,1585.6L1439.1,1578.6L1433.5,1583.4zM1487.3,1585.8L1492.8,1581.4L1487.0,1577.6zM1542.2,1586.9L1544.1,1579.3L1536.4,1580.7zM1597.5,1584.3L1593.4,1578.7L1589.3,1584.3zM1650.2,1583.9L1644.2,1577.9L1641.6,1585.9zM1698.5,1586.3L1698.5,1584.6L1701.5,1584.6L1696.8,1576.8L1692.1,1584.7L1695.1,1584.6L1695.1,1586.3zM1751.1,1586.5L1750.7,1584.1L1753.8,1583.6L1747.6,1576.3L1744.2,1585.2L1747.2,1584.7L1747.6,1587.1zM1804.2,1587.2L1802.7,1583.1L1805.9,1581.9L1797.9,1575.2L1796.0,1585.5L1799.2,1584.3L1800.7,1588.5zM1856.5,1586.9L1854.6,1582.8L1857.7,1581.4L1849.0,1575.4L1848.1,1585.8L1851.2,1584.4L1853.1,1588.5zM1909.6,1586.8L1906.3,1582.0L1909.3,1579.9L1899.2,1575.2L1900.1,1586.3L1903.1,1584.2L1906.4,1589.0zM1961.3,1585.3L1958.2,1581.9L1960.7,1579.6L1950.7,1576.5L1952.9,1586.8L1955.4,1584.5L1958.5,1587.8zM2013.1,1585.0L2010.0,1581.8L2012.4,1579.4L2002.2,1576.8L2004.9,1586.9L2007.3,1584.5L2010.4,1587.6zM502.8,1639.6L488.3,1626.1L492.3,1621.7L475.0,1617.3L480.6,1634.3L484.7,1629.9L499.2,1643.5zM553.3,1638.1L540.3,1626.6L544.0,1622.5L527.8,1618.9L533.3,1634.5L537.0,1630.4L549.9,1641.9zM602.0,1637.4L592.9,1627.7L596.5,1624.4L582.5,1619.9L586.0,1634.2L589.6,1630.9L598.6,1640.5zM650.2,1637.2L645.4,1629.1L649.0,1626.9L637.8,1620.6L638.1,1633.4L641.7,1631.3L646.6,1639.4zM699.4,1638.3L697.1,1629.9L701.0,1628.9L692.2,1620.0L689.1,1632.1L693.1,1631.1L695.4,1639.4zM752.2,1638.8L748.8,1629.3L752.8,1627.9L742.8,1619.4L740.7,1632.3L744.7,1630.8L748.2,1640.2zM805.4,1632.9L800.9,1629.2L803.2,1626.4L792.3,1624.4L796.1,1634.9L798.4,1632.1L802.9,1635.9zM855.1,1630.8L853.3,1629.6L855.0,1627.1L845.7,1626.6L849.7,1635.0L851.4,1632.6L853.1,1633.7zM904.6,1634.1L902.9,1625.8L896.3,1631.2zM953.0,1635.0L956.3,1627.3L947.9,1628.0zM1005.3,1635.0L1007.8,1627.0L999.5,1628.5zM1060.0,1632.2L1059.7,1631.7L1062.2,1630.5L1054.9,1625.9L1054.3,1634.5L1056.7,1633.2L1057.0,1633.7zM1113.8,1632.1L1111.6,1630.0L1113.8,1627.7L1104.3,1625.5L1106.9,1634.9L1109.1,1632.6L1111.3,1634.7zM1164.2,1621.5L1159.6,1627.0L1156.6,1624.5L1154.4,1636.0L1165.5,1632.1L1162.6,1629.6L1167.3,1624.1zM1217.3,1630.3L1209.9,1626.1L1209.7,1634.6zM1264.0,1635.0L1266.1,1626.9L1257.9,1628.8zM1311.7,1633.8L1318.9,1629.4L1311.6,1625.1zM1364.1,1634.3L1370.4,1628.9L1362.7,1625.7zM1415.6,1634.2L1422.2,1629.0L1414.6,1625.5zM1469.7,1635.0L1473.3,1627.5L1465.0,1627.8zM1521.5,1635.0L1525.0,1627.4L1516.6,1627.8zM1572.5,1633.8L1573.1,1633.1L1575.3,1634.8L1576.3,1626.0L1568.1,1629.3L1570.4,1631.0L1569.8,1631.8zM1623.9,1634.5L1625.1,1632.9L1627.5,1634.6L1628.3,1625.4L1619.8,1629.1L1622.2,1630.8L1621.1,1632.5zM1674.4,1635.2L1676.8,1632.5L1679.2,1634.7L1681.2,1624.8L1671.6,1628.0L1674.0,1630.1L1671.7,1632.8zM1726.4,1635.1L1728.5,1632.6L1730.9,1634.7L1732.6,1624.9L1723.3,1628.2L1725.7,1630.3L1723.6,1632.8zM1782.0,1635.3L1782.2,1632.2L1785.3,1632.4L1780.8,1623.6L1775.4,1631.8L1778.5,1632.0L1778.4,1635.1zM1834.8,1635.1L1834.3,1631.8L1837.5,1631.4L1831.4,1623.6L1827.6,1632.7L1830.7,1632.3L1831.2,1635.5zM1888.7,1634.4L1886.7,1630.6L1889.6,1629.0L1880.7,1623.6L1880.4,1634.0L1883.4,1632.4L1885.5,1636.2zM1940.8,1633.6L1938.5,1630.4L1941.2,1628.5L1931.9,1624.2L1932.8,1634.4L1935.5,1632.5L1937.8,1635.7zM1993.2,1630.9L1990.5,1629.3L1992.2,1626.6L1982.4,1626.4L1987.0,1635.1L1988.6,1632.4L1991.3,1634.0zM2044.7,1631.8L2042.2,1629.7L2044.2,1627.2L2034.4,1625.7L2037.9,1635.0L2039.9,1632.5L2042.4,1634.6zM523.6,1689.3L507.6,1673.3L512.1,1668.8L493.7,1663.4L499.2,1681.8L503.7,1677.2L519.7,1693.2zM575.3,1689.3L559.3,1673.3L563.8,1668.8L545.5,1663.4L550.9,1681.8L555.4,1677.2L571.4,1693.2zM622.2,1688.8L612.4,1674.8L616.9,1671.7L602.1,1664.4L603.8,1680.8L608.3,1677.7L618.1,1691.6zM664.8,1685.1L664.8,1679.2L668.4,1679.1L662.7,1669.5L657.2,1679.2L660.9,1679.2L660.9,1685.2zM724.3,1684.1L716.3,1676.0L719.5,1672.8L706.2,1669.0L709.9,1682.3L713.1,1679.1L721.2,1687.2zM778.3,1686.0L767.3,1675.0L771.0,1671.3L755.8,1666.9L760.1,1682.1L763.9,1678.4L774.8,1689.5zM822.4,1681.5L820.8,1678.7L823.6,1677.1L815.0,1672.3L814.9,1682.1L817.7,1680.5L819.3,1683.3zM872.7,1682.5L872.0,1679.5L875.1,1678.8L868.3,1671.7L865.4,1681.1L868.5,1680.3L869.2,1683.4zM920.5,1682.9L924.5,1675.4L916.1,1675.3zM974.9,1682.6L974.9,1674.1L967.4,1678.0zM1024.2,1682.3L1024.9,1680.9L1027.6,1682.1L1026.7,1673.1L1019.1,1678.1L1021.8,1679.4L1021.1,1680.8zM1079.7,1681.3L1079.1,1679.6L1081.9,1678.6L1074.7,1672.8L1073.0,1681.8L1075.8,1680.8L1076.4,1682.5zM1132.0,1681.3L1131.0,1679.2L1133.7,1677.8L1125.8,1672.6L1125.0,1682.0L1127.8,1680.7L1128.8,1682.8zM1182.2,1682.0L1181.9,1680.1L1184.9,1679.7L1179.1,1672.4L1175.5,1681.0L1178.5,1680.5L1178.8,1682.5zM1236.2,1680.4L1231.2,1673.5L1227.4,1681.1zM1287.4,1681.1L1283.4,1673.6L1278.6,1680.6zM1338.7,1681.5L1335.5,1673.6L1330.0,1680.1zM1390.4,1673.2L1382.9,1677.1L1389.8,1681.9zM1443.9,1677.8L1436.2,1674.3L1436.7,1682.7zM1494.3,1680.9L1490.0,1673.6L1485.6,1680.8zM1545.2,1681.7L1542.6,1673.6L1536.6,1679.7zM1597.7,1680.9L1593.5,1673.5L1589.0,1680.7zM1640.2,1686.1L1646.0,1679.5L1649.1,1682.2L1651.5,1669.9L1639.7,1674.1L1642.8,1676.8L1637.1,1683.3zM1693.9,1684.8L1697.3,1680.0L1700.3,1682.1L1701.3,1670.9L1691.1,1675.6L1694.1,1677.7L1690.7,1682.6zM1743.7,1681.0L1746.6,1680.0L1747.7,1682.9L1753.9,1675.3L1744.2,1673.6L1745.3,1676.6L1742.5,1677.6zM1801.4,1682.7L1801.6,1680.4L1804.7,1680.8L1800.8,1672.1L1795.1,1679.7L1798.1,1680.0L1797.9,1682.3zM1853.6,1682.1L1853.6,1680.4L1856.6,1680.4L1851.9,1672.6L1847.2,1680.4L1850.2,1680.4L1850.2,1682.1zM1906.9,1681.7L1906.2,1679.5L1909.1,1678.6L1902.0,1672.4L1899.9,1681.6L1902.8,1680.6L1903.6,1682.8zM1959.2,1680.6L1958.3,1679.1L1960.9,1677.7L1952.9,1673.2L1952.8,1682.3L1955.3,1680.9L1956.2,1682.3zM2011.4,1680.7L2010.1,1678.8L2012.6,1677.1L2004.1,1673.0L2004.6,1682.4L2007.2,1680.7L2008.4,1682.6zM504.8,1737.9L487.7,1720.8L492.4,1716.1L473.3,1710.5L478.9,1729.6L483.6,1724.9L500.7,1742.0zM556.9,1738.3L539.2,1720.6L544.0,1715.8L524.5,1710.1L530.3,1729.5L535.1,1724.7L552.8,1742.4zM605.3,1737.1L592.0,1721.8L596.5,1717.8L579.6,1711.6L583.4,1729.2L587.9,1725.3L601.2,1740.6zM654.7,1736.3L644.3,1722.6L648.7,1719.3L633.5,1712.6L635.9,1729.0L640.3,1725.7L650.7,1739.3zM705.7,1735.9L696.2,1722.9L700.5,1719.8L685.9,1713.1L687.9,1729.0L692.2,1725.8L701.7,1738.8zM757.5,1736.4L747.8,1722.8L752.2,1719.7L737.5,1712.6L739.4,1728.8L743.8,1725.7L753.4,1739.3zM807.3,1735.9L800.0,1723.5L804.3,1721.0L791.1,1713.3L791.6,1728.5L795.9,1726.0L803.2,1738.3zM856.8,1734.9L852.0,1724.6L856.2,1722.6L845.0,1714.5L843.9,1728.3L848.0,1726.4L852.8,1736.8zM901.2,1729.7L901.6,1728.9L904.1,1730.2L903.5,1721.5L896.1,1726.1L898.6,1727.4L898.2,1728.2zM953.2,1730.2L953.8,1728.8L956.5,1729.8L955.0,1720.9L947.8,1726.5L950.6,1727.5L950.0,1728.9zM1006.6,1730.8L1006.7,1728.1L1009.8,1728.2L1005.2,1719.7L1000.0,1727.8L1003.1,1727.9L1003.0,1730.7zM1062.3,1729.1L1059.7,1725.9L1062.2,1723.7L1052.5,1720.2L1054.2,1730.4L1056.8,1728.2L1059.4,1731.4zM1112.8,1729.2L1111.3,1726.7L1114.1,1725.1L1105.5,1720.3L1105.5,1730.1L1108.2,1728.5L1109.7,1731.0zM1164.0,1728.5L1163.1,1727.0L1165.7,1725.6L1157.8,1721.1L1157.6,1730.2L1160.1,1728.8L1160.9,1730.2zM1216.2,1728.7L1211.8,1721.4L1207.4,1728.7zM1268.3,1728.2L1263.1,1721.6L1259.6,1729.2zM1319.7,1728.5L1315.0,1721.5L1311.0,1728.9zM1372.2,1726.6L1365.5,1722.1L1364.4,1730.0zM1423.3,1727.8L1418.1,1721.9L1415.0,1729.2zM1475.2,1727.9L1469.6,1721.6L1466.6,1729.4zM1526.6,1728.3L1521.7,1721.4L1517.9,1729.0zM1578.0,1728.8L1573.8,1721.3L1569.2,1728.5zM1626.7,1729.9L1626.8,1728.5L1629.7,1728.8L1625.8,1720.6L1620.5,1727.9L1623.4,1728.2L1623.3,1729.6zM1681.1,1730.8L1679.7,1726.8L1682.8,1725.6L1674.8,1719.0L1673.0,1729.2L1676.2,1728.1L1677.6,1732.1zM1732.0,1731.1L1731.1,1727.2L1734.4,1726.5L1727.4,1718.9L1724.3,1728.7L1727.5,1728.0L1728.4,1731.9zM1784.3,1728.7L1783.5,1727.1L1786.1,1725.7L1778.3,1720.9L1777.8,1730.1L1780.4,1728.7L1781.2,1730.3zM1835.9,1728.6L1835.1,1727.2L1837.8,1725.9L1830.1,1721.0L1829.4,1730.1L1832.1,1728.8L1832.8,1730.2zM1886.0,1729.8L1885.9,1728.2L1888.8,1728.0L1883.5,1720.5L1879.5,1728.7L1882.4,1728.5L1882.5,1730.0zM1938.7,1729.0L1938.3,1727.6L1941.0,1726.7L1934.1,1720.9L1932.2,1729.7L1935.0,1728.8L1935.5,1730.1zM1989.3,1729.9L1989.2,1728.2L1992.2,1728.0L1987.0,1720.5L1982.8,1728.6L1985.8,1728.4L1985.9,1730.1zM2042.2,1729.2L2041.7,1727.5L2044.5,1726.5L2037.4,1720.7L2035.6,1729.7L2038.4,1728.7L2039.0,1730.3zM525.5,1786.7L507.0,1768.3L512.0,1763.3L492.0,1757.4L497.9,1777.4L502.9,1772.4L521.3,1790.9zM576.8,1786.4L558.9,1768.4L563.7,1763.6L544.0,1757.7L549.9,1777.4L554.7,1772.6L572.7,1790.5zM624.9,1785.4L611.7,1769.6L616.3,1765.7L599.4,1759.1L602.9,1776.9L607.6,1773.1L620.8,1788.8zM676.4,1787.6L663.4,1769.1L668.6,1765.5L651.5,1757.0L653.6,1776.0L658.9,1772.3L671.8,1790.8zM724.6,1785.5L716.0,1770.7L720.7,1768.0L706.6,1759.5L706.9,1776.0L711.7,1773.2L720.2,1788.0zM777.2,1784.6L767.5,1770.6L772.0,1767.5L757.2,1760.2L758.9,1776.6L763.4,1773.5L773.1,1787.4zM822.4,1779.8L820.4,1774.2L823.8,1772.9L815.2,1765.7L813.3,1776.8L816.7,1775.5L818.8,1781.2zM873.6,1780.2L872.0,1774.3L875.5,1773.4L867.5,1765.5L864.7,1776.4L868.2,1775.4L869.8,1781.3zM924.9,1777.9L923.9,1775.0L926.9,1774.0L919.4,1767.7L917.5,1777.3L920.5,1776.3L921.5,1779.1zM978.6,1777.2L975.9,1773.7L978.6,1771.6L968.8,1767.9L970.3,1778.2L973.0,1776.1L975.7,1779.5zM1031.2,1777.3L1027.5,1773.3L1030.1,1770.8L1019.6,1767.6L1022.0,1778.3L1024.6,1775.9L1028.4,1779.9zM1081.0,1776.8L1079.4,1774.4L1082.0,1772.7L1073.3,1768.4L1073.8,1778.1L1076.4,1776.4L1078.0,1778.8zM1131.3,1776.8L1130.8,1775.5L1133.5,1774.5L1126.5,1768.8L1124.9,1777.7L1127.6,1776.7L1128.1,1778.0zM1184.5,1776.2L1179.5,1769.2L1175.6,1776.8zM1236.4,1775.8L1230.9,1769.5L1227.8,1777.3zM1288.5,1772.0L1280.6,1771.0L1283.0,1778.5zM1340.4,1773.2L1332.8,1770.4L1333.6,1778.4zM1391.7,1771.5L1383.9,1771.2L1386.9,1778.5zM1443.8,1773.4L1436.3,1770.3L1436.8,1778.4zM1495.3,1771.4L1486.9,1771.0L1490.5,1778.7zM1547.0,1775.0L1540.5,1769.4L1538.5,1777.7zM1592.6,1778.1L1593.4,1776.7L1596.0,1778.1L1595.7,1769.0L1587.8,1773.6L1590.4,1775.0L1589.6,1776.4zM1644.9,1778.8L1645.8,1776.4L1648.7,1777.4L1647.0,1768.0L1639.5,1774.1L1642.4,1775.1L1641.6,1777.6zM1691.5,1781.5L1697.5,1775.4L1700.4,1778.2L1703.5,1766.2L1691.6,1769.6L1694.5,1772.5L1688.6,1778.6zM1748.1,1779.5L1749.3,1776.1L1752.4,1777.2L1750.6,1767.4L1742.9,1773.8L1745.9,1774.9L1744.7,1778.2zM1798.5,1768.3L1798.5,1770.0L1795.5,1770.0L1800.2,1777.8L1804.9,1770.0L1801.9,1770.0L1801.9,1768.4zM1856.3,1774.6L1855.5,1773.9L1857.3,1771.8L1848.6,1770.3L1851.5,1778.7L1853.3,1776.5L1854.1,1777.2zM1908.8,1771.1L1900.4,1771.2L1904.4,1778.6zM1959.7,1775.0L1958.8,1774.1L1960.8,1772.0L1952.1,1770.0L1954.4,1778.6L1956.4,1776.6L1957.3,1777.5zM2012.1,1773.2L2010.5,1772.6L2011.6,1769.9L2002.6,1771.4L2008.2,1778.6L2009.3,1775.8L2010.8,1776.4zM504.8,1833.7L487.6,1816.6L492.4,1811.9L473.2,1806.2L478.9,1825.3L483.6,1820.6L500.8,1837.8zM556.4,1833.7L539.4,1816.6L544.1,1811.9L525.0,1806.2L530.6,1825.3L535.3,1820.6L552.4,1837.8zM606.6,1833.5L591.6,1817.1L596.2,1812.8L578.3,1806.6L582.8,1825.0L587.5,1820.8L602.5,1837.3zM656.7,1833.5L643.7,1817.5L648.4,1813.7L631.5,1806.8L634.9,1824.7L639.6,1820.9L652.6,1836.9zM705.9,1832.5L696.1,1818.5L700.6,1815.3L685.8,1808.0L687.5,1824.5L692.0,1821.3L701.8,1835.4zM756.0,1831.9L748.2,1819.1L752.6,1816.5L739.1,1808.8L739.7,1824.3L744.1,1821.6L751.9,1834.4zM806.7,1831.2L800.1,1819.6L804.3,1817.2L791.7,1809.6L791.9,1824.3L796.1,1821.9L802.7,1833.5zM856.2,1829.5L852.2,1820.8L856.0,1819.0L845.5,1811.6L844.5,1824.5L848.3,1822.7L852.4,1831.3zM905.4,1826.5L904.1,1822.7L907.3,1821.7L899.6,1814.9L897.4,1824.9L900.6,1823.9L901.8,1827.7zM957.2,1825.9L956.0,1822.7L959.0,1821.5L951.1,1815.4L949.6,1825.3L952.6,1824.1L953.9,1827.3zM1010.4,1825.5L1007.8,1821.8L1010.7,1819.9L1001.2,1815.4L1001.9,1825.9L1004.8,1823.9L1007.3,1827.6zM1062.3,1824.9L1059.6,1821.6L1062.2,1819.5L1052.5,1815.9L1054.2,1826.1L1056.8,1824.0L1059.4,1827.3zM1112.2,1824.8L1111.3,1822.9L1114.0,1821.6L1106.2,1816.4L1105.4,1825.8L1108.1,1824.4L1109.0,1826.3zM1162.6,1824.8L1162.4,1823.9L1165.2,1823.4L1159.3,1816.9L1156.3,1825.1L1159.1,1824.6L1159.2,1825.4zM1216.8,1823.5L1211.0,1817.3L1208.2,1825.3zM1268.4,1823.7L1262.8,1817.4L1259.9,1825.3zM1319.8,1824.2L1314.9,1817.3L1311.1,1824.8zM1371.9,1823.5L1366.1,1817.5L1363.5,1825.4zM1423.3,1824.1L1418.2,1817.3L1414.6,1824.9zM1475.3,1823.6L1469.6,1817.3L1466.7,1825.3zM1526.7,1824.1L1521.7,1817.2L1517.9,1824.8zM1578.0,1824.6L1573.8,1817.1L1569.2,1824.3zM1626.7,1825.2L1626.8,1824.5L1629.5,1824.8L1625.8,1816.9L1620.6,1823.9L1623.4,1824.2L1623.3,1824.9zM1678.4,1825.6L1678.5,1824.3L1681.4,1824.6L1677.5,1816.5L1672.3,1823.8L1675.1,1824.0L1675.0,1825.3zM1730.1,1825.9L1730.2,1824.2L1733.2,1824.5L1729.2,1816.3L1723.9,1823.6L1726.8,1823.9L1726.6,1825.6zM1782.2,1825.0L1782.2,1824.4L1784.9,1824.4L1780.5,1817.0L1776.0,1824.4L1778.8,1824.4L1778.8,1825.0zM1834.4,1824.7L1834.3,1824.1L1837.1,1823.7L1831.6,1817.0L1828.3,1825.0L1831.0,1824.6L1831.1,1825.2zM1888.1,1822.4L1887.6,1821.9L1889.4,1819.8L1880.8,1818.3L1883.5,1826.6L1885.3,1824.5L1885.8,1824.9zM1939.8,1822.7L1939.2,1822.1L1941.1,1820.1L1932.6,1818.0L1934.8,1826.5L1936.8,1824.5L1937.4,1825.2zM1992.1,1822.3L1990.9,1821.4L1992.6,1819.1L1983.5,1818.3L1987.2,1826.6L1988.9,1824.2L1990.1,1825.1zM2043.7,1822.6L2042.5,1821.6L2044.4,1819.3L2035.4,1818.1L2038.5,1826.6L2040.4,1824.3L2041.6,1825.3z"/>
<rect x="490.1" y="339.5" width="93.8" height="57.9" fill="#fff"/>
<text x="495.4" y="379.1" font-size="43" font-family="Liberation Sans, Arial, Helvetica, sans-serif">L<tspan x="519.3" y="388.0" font-size="26">1023</tspan></text>
<rect x="513.9" y="483.4" width="93.8" height="57.9" fill="#fff"/>
<text x="519.2" y="523.0" font-size="43" font-family="Liberation Sans, Arial, Helvetica, sans-serif">L<tspan x="543.1" y="531.9" font-size="26">1026</tspan></text>
<rect x="509.8" y="609.7" width="93.8" height="57.9" fill="#fff"/>
<text x="515.1" y="649.3" font-size="43" font-family="Liberation Sans, Arial, Helvetica, sans-serif">L<tspan x="539.0" y="658.2" font-size="26">1026</tspan></text>
<rect x="881.1" y="394.9" width="100.9" height="57.9" fill="#fff"/>
<text x="886.4" y="434.5" font-size="43" font-family="Liberation Sans, Arial, Helvetica, sans-serif">H<tspan x="917.4" y="443.4" font-size="26">1029</tspan></text>
<rect x="1151.0" y="275.4" width="93.8" height="57.9" fill="#fff"/>
<text x="1156.3" y="315.0" font-size="43" font-family="Liberation Sans, Arial, Helvetica, sans-serif">L<tspan x="1180.2" y="323.9" font-size="26">1027</tspan></text>
<rect x="1359.0" y="299.5" width="100.9" height="57.9" fill="#fff"/>
<text x="1364.3" y="339.1" font-size="43" font-family="Liberation Sans, Arial, Helvetica, sans-serif">H<tspan x="1395.3" y="348.0" font-size="26">1028</tspan></text>
<rect x="1270.8" y="538.9" width="93.8" height="57.9" fill="#fff"/>
<text x="1276.1" y="578.5" font-size="43" font-family="Liberation Sans, Arial, Helvetica, sans-serif">L<tspan x="1300.0" y="587.4" font-size="26">1027</tspan></text>
<rect x="1422.0" y="617.9" width="93.8" height="57.9" fill="#fff"/>
<text x="1427.3" y="657.5" font-size="43" font-family="Liberation Sans, Arial, Helvetica, sans-serif">L<tspan x="1451.2" y="666.4" font-size="26">1027</tspan></text>
<rect x="1541.7" y="550.6" width="93.8" height="57.9" fill="#fff"/>
<text x="1547.0" y="590.2" font-size="43" font-family="Liberation Sans, Arial, Helvetica, sans-serif">L<tspan x="1570.9" y="599.1" font-size="26">1027</tspan></text>
<rect x="1597.6" y="519.1" width="100.9" height="57.9" fill="#fff"/>
<text x="1602.9" y="558.7" font-size="43" font-family="Liberation Sans, Arial, Helvetica, sans-serif">H<tspan x="1633.9" y="567.6" font-size="26">1028</tspan></text>
<rect x="1678.2" y="498.7" width="100.9" height="57.9" fill="#fff"/>
<text x="1683.5" y="538.3" font-size="43" font-family="Liberation Sans, Arial, Helvetica, sans-serif">H<tspan x="1714.5" y="547.2" font-size="26">1028</tspan></text>
<rect x="1299.4" y="669.5" width="100.9" height="57.9" fill="#fff"/>
<text x="1304.7" y="709.1" font-size="43" font-family="Liberation Sans, Arial, Helvetica, sans-serif">H<tspan x="1335.8" y="718.0" font-size="26">1028</tspan></text>
<rect x="1832.9" y="781.9" width="93.8" height="57.9" fill="#fff"/>
<text x="1838.2" y="821.5" font-size="43" font-family="Liberation Sans, Arial, Helvetica, sans-serif">L<tspan x="1862.1" y="830.4" font-size="26">1025</tspan></text>
<rect x="1976.0" y="781.9" width="93.8" height="57.9" fill="#fff"/>
<text x="1981.3" y="821.5" font-size="43" font-family="Liberation Sans, Arial, Helvetica, sans-serif">L<tspan x="2005.2" y="830.4" font-size="26">1026</tspan></text>
<rect x="1550.0" y="864.6" width="93.8" height="57.9" fill="#fff"/>
<text x="1555.3" y="904.2" font-size="43" font-family="Liberation Sans, Arial, Helvetica, sans-serif">L<tspan x="1579.2" y="913.1" font-size="26">1026</tspan></text>
<rect x="1661.3" y="920.9" width="93.8" height="57.9" fill="#fff"/>
<text x="1666.6" y="960.5" font-size="43" font-family="Liberation Sans, Arial, Helvetica, sans-serif">L<tspan x="1690.5" y="969.4" font-size="26">1026</tspan></text>
<rect x="1474.0" y="973.0" width="93.8" height="57.9" fill="#fff"/>
<text x="1479.3" y="1012.6" font-size="43" font-family="Liberation Sans, Arial, Helvetica, sans-serif">L<tspan x="1503.2" y="1021.5" font-size="26">1026</tspan></text>
<rect x="1338.8" y="1005.3" width="93.8" height="57.9" fill="#fff"/>
<text x="1344.1" y="1044.9" font-size="43" font-family="Liberation Sans, Arial, Helvetica, sans-serif">L<tspan x="1368.0" y="1053.8" font-size="26">1026</tspan></text>
<rect x="1529.9" y="1028.9" width="100.9" height="57.9" fill="#fff"/>
<text x="1535.2" y="1068.5" font-size="43" font-family="Liberation Sans, Arial, Helvetica, sans-serif">H<tspan x="1566.2" y="1077.4" font-size="26">1026</tspan></text>
<rect x="1784.8" y="1016.7" width="100.9" height="57.9" fill="#fff"/>
<text x="1790.1" y="1056.3" font-size="43" font-family="Liberation Sans, Arial, Helvetica, sans-serif">H<tspan x="1821.1" y="1065.2" font-size="26">1026</tspan></text>
<rect x="1195.5" y="1065.0" width="93.8" height="57.9" fill="#fff"/>
<text x="1200.8" y="1104.6" font-size="43" font-family="Liberation Sans, Arial, Helvetica, sans-serif">L<tspan x="1224.7" y="1113.5" font-size="26">1026</tspan></text>
<rect x="1207.9" y="1127.8" width="100.9" height="57.9" fill="#fff"/>
<text x="1213.2" y="1167.4" font-size="43" font-family="Liberation Sans, Arial, Helvetica, sans-serif">H<tspan x="1244.2" y="1176.3" font-size="26">1026</tspan></text>
<rect x="1354.3" y="1123.8" width="93.8" height="57.9" fill="#fff"/>
<text x="1359.6" y="1163.4" font-size="43" font-family="Liberation Sans, Arial, Helvetica, sans-serif">L<tspan x="1383.5" y="1172.3" font-size="26">1026</tspan></text>
<rect x="1310.8" y="1199.9" width="100.9" height="57.9" fill="#fff"/>
<text x="1316.1" y="1239.5" font-size="43" font-family="Liberation Sans, Arial, Helvetica, sans-serif">H<tspan x="1347.1" y="1248.4" font-size="26">1026</tspan></text>
<rect x="1506.0" y="1147.5" width="93.8" height="57.9" fill="#fff"/>
<text x="1511.3" y="1187.1" font-size="43" font-family="Liberation Sans, Arial, Helvetica, sans-serif">L<tspan x="1535.2" y="1196.0" font-size="26">1026</tspan></text>
<rect x="1582.0" y="1143.9" width="100.9" height="57.9" fill="#fff"/>
<text x="1587.3" y="1183.5" font-size="43" font-family="Liberation Sans, Arial, Helvetica, sans-serif">H<tspan x="1618.3" y="1192.4" font-size="26">1026</tspan></text>
<rect x="1701.0" y="1091.5" width="93.8" height="57.9" fill="#fff"/>
<text x="1706.3" y="1131.1" font-size="43" font-family="Liberation Sans, Arial, Helvetica, sans-serif">L<tspan x="1730.2" y="1140.0" font-size="26">1026</tspan></text>
<rect x="1582.0" y="1319.8" width="93.8" height="57.9" fill="#fff"/>
<text x="1587.3" y="1359.4" font-size="43" font-family="Liberation Sans, Arial, Helvetica, sans-serif">L<tspan x="1611.2" y="1368.3" font-size="26">1025</tspan></text>
<rect x="1784.8" y="1426.9" width="93.8" height="57.9" fill="#fff"/>
<text x="1790.1" y="1466.5" font-size="43" font-family="Liberation Sans, Arial, Helvetica, sans-serif">L<tspan x="1814.0" y="1475.4" font-size="26">1025</tspan></text>
<rect x="1609.0" y="1466.8" width="93.8" height="57.9" fill="#fff"/>
<text x="1614.3" y="1506.4" font-size="43" font-family="Liberation Sans, Arial, Helvetica, sans-serif">L<tspan x="1638.2" y="1515.3" font-size="26">1024</tspan></text>
<rect x="1271.0" y="1503.6" width="93.8" height="57.9" fill="#fff"/>
<text x="1276.3" y="1543.2" font-size="43" font-family="Liberation Sans, Arial, Helvetica, sans-serif">L<tspan x="1300.2" y="1552.1" font-size="26">1024</tspan></text>
<rect x="1467.1" y="1574.0" width="100.9" height="57.9" fill="#fff"/>
<text x="1472.4" y="1613.6" font-size="43" font-family="Liberation Sans, Arial, Helvetica, sans-serif">H<tspan x="1503.4" y="1622.5" font-size="26">1027</tspan></text>
<rect x="1180.0" y="1614.4" width="100.9" height="57.9" fill="#fff"/>
<text x="1185.3" y="1654.0" font-size="43" font-family="Liberation Sans, Arial, Helvetica, sans-serif">H<tspan x="1216.3" y="1662.9" font-size="26">1027</tspan></text>
<rect x="1287.0" y="1637.8" width="100.9" height="57.9" fill="#fff"/>
<text x="1292.3" y="1677.4" font-size="43" font-family="Liberation Sans, Arial, Helvetica, sans-serif">H<tspan x="1323.3" y="1686.3" font-size="26">1027</tspan></text>
<rect x="1008.1" y="1685.8" width="93.8" height="57.9" fill="#fff"/>
<text x="1013.4" y="1725.4" font-size="43" font-family="Liberation Sans, Arial, Helvetica, sans-serif">L<tspan x="1037.3" y="1734.3" font-size="26">1023</tspan></text>
<rect x="1545.8" y="1730.3" width="100.9" height="57.9" fill="#fff"/>
<text x="1551.1" y="1769.9" font-size="43" font-family="Liberation Sans, Arial, Helvetica, sans-serif">H<tspan x="1582.1" y="1778.8" font-size="26">1027</tspan></text>
<rect x="1896.0" y="1653.6" width="93.8" height="57.9" fill="#fff"/>
<text x="1901.3" y="1693.2" font-size="43" font-family="Liberation Sans, Arial, Helvetica, sans-serif">L<tspan x="1925.2" y="1702.1" font-size="26">1026</tspan></text>
<rect x="1829.0" y="1758.4" width="93.8" height="57.9" fill="#fff"/>
<text x="1834.3" y="1798.0" font-size="43" font-family="Liberation Sans, Arial, Helvetica, sans-serif">L<tspan x="1858.2" y="1806.9" font-size="26">1026</tspan></text>
<rect x="1922.1" y="1770.8" width="93.8" height="57.9" fill="#fff"/>
<text x="1927.4" y="1810.4" font-size="43" font-family="Liberation Sans, Arial, Helvetica, sans-serif">L<tspan x="1951.3" y="1819.3" font-size="26">1026</tspan></text>
<g transform="translate(690.75,406.8) rotate(-56.0)"><rect x="-51.7" y="-23.75" width="103.4" height="47.5" fill="#fff"/><text x="0" y="14.5" font-size="42" text-anchor="middle" font-family="Liberation Sans, Arial, Helvetica, sans-serif">1028</text></g>
<g transform="translate(1277.0,419.7) rotate(-6.5)"><rect x="-51.7" y="-23.75" width="103.4" height="47.5" fill="#fff"/><text x="0" y="14.5" font-size="42" text-anchor="middle" font-family="Liberation Sans, Arial, Helvetica, sans-serif">1028</text></g>
<g transform="translate(1190.4,717.4) rotate(-67.0)"><rect x="-51.7" y="-23.75" width="103.4" height="47.5" fill="#fff"/><text x="0" y="14.5" font-size="42" text-anchor="middle" font-family="Liberation Sans, Arial, Helvetica, sans-serif">1028</text></g>
<g transform="translate(822.9,1378.1) rotate(22.8)"><rect x="-51.7" y="-23.75" width="103.4" height="47.5" fill="#fff"/><text x="0" y="14.5" font-size="42" text-anchor="middle" font-family="Liberation Sans, Arial, Helvetica, sans-serif">1024</text></g>
<g transform="translate(1185.9,1502.0) rotate(-7.1)"><rect x="-51.7" y="-23.75" width="103.4" height="47.5" fill="#fff"/><text x="0" y="14.5" font-size="42" text-anchor="middle" font-family="Liberation Sans, Arial, Helvetica, sans-serif">1024</text></g>
<path clip-path="url(#tA)" fill="none" stroke="#4a4a4a" stroke-width="3.0" stroke-linejoin="round" stroke-linecap="round"  d="M487.0,303.3C489.1,302.8 495.6,300.3 499.4,300.2C503.2,300.0 506.3,302.9 509.8,302.2C513.2,301.6 516.0,296.9 520.1,296.0C524.3,295.2 530.5,295.9 534.6,297.1C538.8,298.3 541.5,302.2 545.0,303.3C548.4,304.3 551.2,302.6 555.3,303.3C559.5,304.0 564.6,306.4 569.8,307.4C575.0,308.5 581.9,308.8 586.4,309.5C590.9,310.2 593.3,310.5 596.7,311.6C600.2,312.6 604.3,314.0 607.1,315.7C609.8,317.4 611.9,318.5 613.3,321.9C614.7,325.4 615.7,332.6 615.4,336.4C615.0,340.2 613.3,341.9 611.2,344.7C609.2,347.4 605.7,349.9 602.9,353.0C600.2,356.1 596.4,359.9 594.7,363.3C592.9,366.8 594.3,370.2 592.6,373.7C590.9,377.1 586.4,380.6 584.3,384.0C582.2,387.5 581.9,391.3 580.2,394.4C578.4,397.5 576.7,399.6 574.0,402.7C571.2,405.8 566.4,410.3 563.6,413.0C560.8,415.8 559.1,416.8 557.4,419.2C555.7,421.6 555.3,424.7 553.3,427.5C551.2,430.3 548.1,433.7 545.0,435.8C541.9,437.9 539.1,438.9 534.6,439.9C530.1,441.0 523.6,441.0 518.1,442.0C512.5,443.0 504.3,445.4 501.5,446.1M534.6,439.9C534.3,441.7 531.2,446.8 532.5,450.3C533.9,453.7 543.2,457.2 542.9,460.6C542.6,464.1 534.6,468.6 530.5,471.0C526.3,473.4 521.9,473.4 518.1,475.1C514.3,476.8 510.8,480.0 507.7,481.3C504.6,482.7 502.9,483.2 499.4,483.4C496.0,483.6 489.1,482.5 487.0,482.4M487.0,483.4C489.1,483.8 495.6,483.8 499.4,485.5C503.2,487.2 506.7,492.4 509.8,493.8C512.9,495.1 516.0,494.8 518.1,493.8C520.1,492.7 519.8,488.6 522.2,487.5C524.6,486.5 529.8,486.5 532.5,487.5C535.3,488.6 536.0,491.7 538.8,493.8C541.5,495.8 544.6,497.6 549.1,500.0C553.6,502.4 561.5,504.5 565.7,508.3C569.8,512.0 571.2,517.9 574.0,522.7C576.7,527.6 579.5,532.8 582.2,537.2C585.0,541.7 589.1,545.2 590.5,549.7C591.9,554.1 590.9,558.3 590.5,564.2C590.2,570.0 588.4,578.0 588.4,584.9C588.4,591.8 589.1,598.7 590.5,605.6C591.9,612.5 595.2,619.4 596.7,626.3C598.3,633.2 598.8,641.4 599.8,647.0C600.9,652.5 602.1,655.9 602.9,659.4C603.8,662.8 602.3,665.3 605.0,667.7C607.8,670.1 615.0,672.2 619.5,673.9C624.0,675.6 627.8,674.5 631.9,678.0C636.1,681.5 642.3,692.2 644.3,695.0"/>
<path clip-path="url(#tE)" fill="none" stroke="#4a4a4a" stroke-width="3.0" stroke-linejoin="round" stroke-linecap="round"  d="M646.4,695.0C646.8,697.1 647.1,704.3 648.5,707.4C649.9,710.5 654.0,710.9 654.7,713.6C655.4,716.4 654.0,720.5 652.6,724.0C651.3,727.4 647.5,731.2 646.4,734.3C645.4,737.4 645.4,738.8 646.4,742.6C647.5,746.4 651.9,753.3 652.6,757.1C653.3,760.9 649.5,761.9 650.6,765.4C651.6,768.8 655.7,773.0 658.8,777.8C661.9,782.6 666.4,790.2 669.2,794.4C672.0,798.5 673.7,797.5 675.4,802.7C677.1,807.8 679.2,819.2 679.5,825.4C679.9,831.6 680.2,836.1 677.5,839.9C674.7,843.7 667.1,845.1 663.0,848.2C658.8,851.3 652.6,855.8 652.6,858.6C652.6,861.3 660.6,862.7 663.0,864.8C665.4,866.8 665.1,869.6 667.1,871.0C669.2,872.4 672.3,875.5 675.4,873.1C678.5,870.6 680.9,859.3 685.8,856.5C690.6,853.7 697.8,855.8 704.4,856.5C710.9,857.2 718.2,858.6 725.1,860.6C732.0,862.7 739.6,864.1 745.8,868.9C752.0,873.7 759.3,882.4 762.4,889.6C765.5,896.9 765.5,905.1 764.4,912.4C763.4,919.6 758.9,926.2 756.2,933.1C753.4,940.0 751.3,947.9 747.9,953.8C744.4,959.7 739.2,964.8 735.4,968.3C731.7,971.7 727.2,971.7 725.1,974.5C723.0,977.3 725.8,982.1 723.0,984.9C720.3,987.6 712.7,989.3 708.5,991.1C704.4,992.8 700.3,992.1 698.2,995.2C696.1,998.3 698.5,1005.9 696.1,1009.7C693.7,1013.5 688.5,1017.1 683.7,1018.0C678.9,1018.8 673.0,1014.9 667.1,1014.9C661.3,1014.9 648.5,1016.4 648.5,1018.0C648.5,1019.5 660.9,1022.5 667.1,1024.2C673.3,1025.9 681.3,1026.6 685.8,1028.3C690.2,1030.1 686.8,1032.8 694.0,1034.5C701.3,1036.3 724.4,1036.6 729.2,1038.7C734.1,1040.8 724.1,1043.5 723.0,1047.0C722.0,1050.4 725.1,1055.6 723.0,1059.4C721.0,1063.2 715.8,1067.0 710.6,1069.7C705.4,1072.5 695.8,1073.2 692.0,1076.0C688.2,1078.7 690.9,1085.3 687.8,1086.3C684.7,1087.3 679.2,1082.2 673.3,1082.2C667.5,1082.2 658.2,1084.2 652.6,1086.3C647.1,1088.4 642.3,1093.6 640.2,1095.0M613.3,763.3C615.0,763.2 620.5,761.8 623.6,762.3C626.8,762.8 627.8,765.9 631.9,766.4C636.1,766.9 645.7,765.6 648.5,765.4M487.0,1080.1C491.1,1080.4 504.9,1082.5 511.8,1082.2C518.7,1081.8 523.6,1077.3 528.4,1078.0C533.2,1078.7 537.4,1085.3 540.8,1086.3C544.3,1087.3 544.3,1084.6 549.1,1084.2C553.9,1083.9 562.9,1084.6 569.8,1084.2C576.7,1083.9 583.6,1082.2 590.5,1082.2C597.4,1082.2 604.3,1082.1 611.2,1084.2C618.1,1086.4 628.5,1093.2 631.9,1095.0M714.7,1095.0C719.9,1093.9 735.4,1090.9 745.8,1088.4C756.2,1085.9 766.5,1083.2 776.9,1080.1C787.2,1077.0 797.6,1073.9 807.9,1069.7C818.3,1065.6 828.6,1058.7 839.0,1055.2C849.3,1051.8 862.0,1049.7 870.0,1049.0C878.0,1048.3 884.2,1050.8 887.0,1051.1"/>
<path clip-path="url(#tI)" fill="none" stroke="#4a4a4a" stroke-width="3.0" stroke-linejoin="round" stroke-linecap="round"  d="M733.4,1095.0C732.5,1101.2 729.9,1122.6 728.2,1132.3C726.5,1141.9 723.2,1146.8 723.0,1153.0C722.9,1159.2 728.5,1165.4 727.2,1169.5C725.8,1173.7 720.3,1174.0 714.7,1177.8C709.2,1181.6 700.9,1189.2 694.0,1192.3C687.1,1195.4 680.2,1195.4 673.3,1196.4C666.4,1197.5 659.5,1197.1 652.6,1198.5C645.7,1199.9 638.1,1202.7 631.9,1204.7C625.7,1206.8 619.5,1206.5 615.4,1210.9C611.2,1215.4 607.1,1227.2 607.1,1231.6C607.1,1236.1 610.5,1236.8 615.4,1237.9C620.2,1238.9 636.8,1236.8 636.1,1237.9C635.4,1238.9 618.8,1241.7 611.2,1244.1C603.6,1246.5 595.4,1250.6 590.5,1252.3C585.7,1254.1 585.7,1255.5 582.2,1254.4C578.8,1253.4 575.3,1248.6 569.8,1246.1C564.3,1243.7 556.0,1241.7 549.1,1239.9C542.2,1238.2 533.6,1236.8 528.4,1235.8C523.2,1234.8 520.1,1237.9 518.1,1233.7C516.0,1229.6 517.4,1216.1 516.0,1210.9C514.6,1205.8 510.1,1205.1 509.8,1202.7C509.4,1200.2 515.3,1197.7 513.9,1196.4C512.5,1195.2 506.0,1195.4 501.5,1195.4C497.0,1195.4 489.4,1196.3 487.0,1196.4M522.2,1095.0C523.2,1095.9 526.0,1099.8 528.4,1100.2C530.8,1100.5 535.3,1097.6 536.7,1097.1M629.9,1095.0C630.9,1095.7 633.7,1099.1 636.1,1099.1C638.5,1099.1 643.0,1095.7 644.3,1095.0"/>
<path clip-path="url(#tF)" fill="none" stroke="#4a4a4a" stroke-width="3.0" stroke-linejoin="round" stroke-linecap="round"  d="M909.8,1005.6C910.5,1002.8 910.8,994.5 913.9,989.0C917.0,983.5 923.2,978.6 928.4,972.4C933.6,966.2 940.8,957.2 945.0,951.7C949.1,946.2 950.8,945.9 953.3,939.3C955.7,932.8 957.4,921.4 959.5,912.4C961.5,903.4 964.3,891.7 965.7,885.5C967.1,879.3 966.4,878.6 967.7,875.1C969.1,871.7 971.9,867.5 974.0,864.8C976.0,862.0 977.4,861.0 980.2,858.6C982.9,856.1 985.3,852.7 990.5,850.3C995.7,847.9 1004.3,845.8 1011.2,844.1C1018.1,842.3 1025.0,841.0 1031.9,839.9C1038.8,838.9 1045.7,838.4 1052.6,837.9C1059.5,837.3 1066.4,837.5 1073.3,836.8C1080.2,836.1 1087.8,833.5 1094.0,833.7C1100.3,833.9 1107.2,834.8 1110.6,837.9C1114.1,841.0 1111.3,849.2 1114.7,852.3C1118.2,855.5 1127.9,855.1 1131.3,856.5C1134.8,857.9 1133.0,859.3 1135.4,860.6C1137.9,862.0 1144.1,864.1 1145.8,864.8M998.8,839.9C999.5,839.2 998.1,836.8 1002.9,835.8C1007.8,834.8 1019.5,834.1 1027.8,833.7C1036.1,833.4 1046.8,834.1 1052.6,833.7C1058.5,833.4 1057.8,832.7 1063.0,831.6C1068.2,830.6 1076.8,829.2 1083.7,827.5C1090.6,825.8 1099.2,823.4 1104.4,821.3C1109.6,819.2 1109.6,816.8 1114.7,815.1C1119.9,813.4 1128.5,812.1 1135.4,810.9C1142.3,809.7 1147.9,809.0 1156.2,807.8C1164.4,806.6 1180.3,804.4 1185.1,803.7M1121.0,850.3C1121.3,846.8 1121.3,834.8 1123.0,829.6C1124.8,824.4 1127.5,822.0 1131.3,819.2C1135.1,816.5 1139.9,814.2 1145.8,813.0C1151.7,811.8 1159.6,812.0 1166.5,812.0C1173.4,812.0 1182.7,811.8 1187.2,813.0C1191.7,814.2 1192.0,814.7 1193.4,819.2C1194.8,823.7 1193.8,835.8 1195.5,839.9C1197.2,844.1 1202.4,845.8 1203.8,844.1C1205.2,842.3 1201.4,832.0 1203.8,829.6C1206.2,827.2 1215.2,832.0 1218.3,829.6C1221.4,827.2 1221.0,820.3 1222.4,815.1C1223.8,809.9 1223.8,802.3 1226.5,798.5C1229.3,794.7 1233.4,792.7 1239.0,792.3C1244.5,792.0 1253.5,795.1 1259.7,796.4C1265.9,797.8 1271.7,798.2 1276.2,800.6C1280.8,803.0 1285.2,809.2 1287.0,810.9M1226.5,798.5C1225.9,795.1 1221.7,784.7 1222.4,777.8C1223.1,770.9 1228.6,764.0 1230.7,757.1C1232.8,750.2 1235.2,743.3 1234.8,736.4C1234.5,729.5 1228.6,721.6 1228.6,715.7C1228.6,709.8 1233.1,704.7 1234.8,701.2C1236.6,697.8 1238.3,696.0 1239.0,695.0M1011.2,844.1C1010.9,846.8 1009.2,855.5 1009.2,860.6C1009.2,865.8 1011.6,869.9 1011.2,875.1C1010.9,880.3 1006.7,887.2 1007.1,891.7C1007.4,896.2 1010.9,898.6 1013.3,902.0C1015.7,905.5 1019.2,908.9 1021.6,912.4C1024.0,915.8 1025.4,920.0 1027.8,922.7C1030.2,925.5 1034.7,927.9 1036.1,929.0M967.7,881.3C969.8,882.4 976.7,886.2 980.2,887.5C983.6,888.9 986.0,885.5 988.4,889.6C990.9,893.8 992.2,908.3 994.7,912.4C997.1,916.5 1002.3,912.7 1002.9,914.5C1003.6,916.2 1001.6,920.7 998.8,922.7C996.0,924.8 988.4,923.4 986.4,926.9C984.3,930.3 987.1,939.7 986.4,943.4C985.7,947.2 981.5,947.9 982.2,949.7C982.9,951.4 989.1,953.1 990.5,953.8M911.8,1005.6C909.8,1005.6 903.6,1004.2 899.4,1005.6C895.3,1006.9 889.1,1012.5 887.0,1013.8M913.9,1005.6C916.3,1007.6 922.5,1014.9 928.4,1018.0C934.3,1021.1 943.2,1023.5 949.1,1024.2C955.0,1024.9 961.2,1022.5 963.6,1022.1"/>
<path clip-path="url(#tB)" fill="none" stroke="#4a4a4a" stroke-width="3.0" stroke-linejoin="round" stroke-linecap="round"  d="M1098.2,295.0C1100.9,296.4 1110.9,300.5 1114.7,303.3C1118.5,306.0 1120.6,309.1 1121.0,311.6C1121.3,314.0 1115.8,315.4 1116.8,317.8C1117.8,320.2 1123.0,323.3 1127.2,326.1C1131.3,328.8 1135.8,332.6 1141.7,334.3C1147.5,336.1 1155.8,336.8 1162.4,336.4C1168.9,336.1 1174.4,334.3 1181.0,332.3C1187.6,330.2 1195.5,327.1 1201.7,324.0C1207.9,320.9 1212.1,317.8 1218.3,313.6C1224.5,309.5 1234.5,302.2 1239.0,299.1C1243.5,296.0 1244.1,295.7 1245.2,295.0"/>
<path clip-path="url(#tD)" fill="none" stroke="#4a4a4a" stroke-width="3.0" stroke-linejoin="round" stroke-linecap="round"  d="M1722.7,295.0C1722.4,298.5 1721.4,307.1 1720.7,315.7C1720.0,324.3 1719.3,336.4 1718.6,346.8C1717.9,357.1 1717.2,367.5 1716.5,377.8C1715.8,388.2 1715.1,398.5 1714.4,408.9C1713.8,419.2 1713.4,429.6 1712.4,439.9C1711.3,450.3 1710.0,465.1 1708.2,471.0C1706.5,476.8 1704.1,472.7 1702.0,475.1C1700.0,477.5 1698.2,479.3 1695.8,485.5C1693.4,491.7 1689.9,504.8 1687.5,512.4C1685.1,520.0 1682.7,526.2 1681.3,531.0C1679.9,535.9 1683.7,541.7 1679.3,541.4C1674.8,541.0 1665.4,530.7 1654.4,529.0C1643.4,527.2 1619.9,530.7 1613.0,531.0M1745.5,388.2C1744.5,390.9 1743.1,400.2 1741.4,408.9C1739.6,417.5 1737.6,431.3 1735.2,439.9C1732.7,448.6 1729.6,453.7 1726.9,460.6C1724.1,467.5 1720.7,474.4 1718.6,481.3C1716.5,488.2 1715.3,495.8 1714.4,502.0C1713.6,508.3 1712.4,518.6 1713.4,518.6C1714.4,518.6 1718.4,508.3 1720.7,502.0C1722.9,495.8 1724.8,488.2 1726.9,481.3C1728.9,474.4 1731.4,467.5 1733.1,460.6C1734.8,453.7 1735.5,448.2 1737.2,439.9C1738.9,431.6 1741.7,418.9 1743.4,410.9C1745.2,403.0 1747.2,396.1 1747.6,392.3C1747.9,388.5 1746.5,385.4 1745.5,388.2M1811.8,431.6C1813.5,435.1 1816.9,423.7 1820.0,419.2C1823.1,414.7 1826.6,410.3 1830.4,404.7C1834.2,399.2 1839.4,391.6 1842.8,386.1C1846.3,380.6 1849.0,375.1 1851.1,371.6C1853.2,368.2 1856.3,367.1 1855.2,365.4C1854.2,363.7 1847.0,366.1 1844.9,361.3C1842.8,356.4 1841.4,342.3 1842.8,336.4C1844.2,330.5 1850.4,329.5 1853.2,326.1C1855.9,322.6 1856.6,319.2 1859.4,315.7C1862.1,312.3 1869.4,307.4 1869.7,305.4C1870.1,303.3 1864.2,302.2 1861.4,303.3C1858.7,304.3 1857.3,309.5 1853.2,311.6C1849.0,313.6 1840.7,313.3 1836.6,315.7C1832.5,318.1 1831.8,322.6 1828.3,326.1C1824.9,329.5 1819.3,331.9 1815.9,336.4C1812.4,340.9 1809.7,348.8 1807.6,353.0C1805.5,357.1 1803.8,357.1 1803.5,361.3C1803.1,365.4 1804.5,371.6 1805.5,377.8C1806.6,384.0 1808.7,389.5 1809.7,398.5C1810.7,407.5 1810.0,428.2 1811.8,431.6M2013.0,348.8C2011.6,351.2 2005.4,356.8 2004.3,363.3C2003.2,369.9 2007.1,381.3 2006.4,388.2C2005.7,395.1 2002.9,399.6 2000.2,404.7C1997.4,409.9 1991.2,411.6 1989.8,419.2C1988.4,426.8 1991.2,439.9 1991.9,450.3C1992.6,460.6 1992.6,472.7 1994.0,481.3C1995.3,490.0 1997.7,493.4 2000.2,502.0C2002.6,510.7 2006.3,524.5 2008.4,533.1C2010.6,541.7 2012.2,550.3 2013.0,553.8M2013.0,578.6C2011.2,583.1 2006.8,597.3 2002.2,605.6C1997.7,613.8 1993.6,624.2 1985.7,628.3C1977.7,632.5 1960.5,628.7 1954.6,630.4C1948.7,632.1 1950.5,634.2 1950.5,638.7C1950.5,643.2 1955.0,651.5 1954.6,657.3C1954.3,663.2 1950.8,667.6 1948.4,673.9C1946.0,680.2 1941.5,691.5 1940.1,695.0M1762.1,695.0C1766.6,692.2 1781.0,681.9 1789.0,678.0C1796.9,674.2 1802.8,673.5 1809.7,671.8C1816.6,670.1 1823.5,668.7 1830.4,667.7C1837.3,666.6 1845.9,663.9 1851.1,665.6C1856.3,667.3 1858.7,673.1 1861.4,678.0C1864.2,682.9 1866.6,692.2 1867.7,695.0M1619.2,628.3C1622.0,625.9 1629.2,633.5 1633.7,636.6C1638.2,639.7 1644.4,642.8 1646.1,647.0C1647.9,651.1 1646.8,659.4 1644.1,661.5C1641.3,663.5 1634.0,661.1 1629.6,659.4C1625.1,657.7 1618.9,656.3 1617.1,651.1C1615.4,645.9 1616.5,630.7 1619.2,628.3"/>
<path clip-path="url(#tH)" fill="none" stroke="#4a4a4a" stroke-width="3.0" stroke-linejoin="round" stroke-linecap="round"  d="M1613.0,775.7C1616.5,774.0 1625.1,769.5 1633.7,765.4C1642.3,761.3 1654.4,755.0 1664.8,750.9C1675.1,746.8 1687.2,743.3 1695.8,740.5C1704.4,737.8 1711.0,737.8 1716.5,734.3C1722.0,730.9 1724.8,724.7 1728.9,719.8C1733.1,715.0 1735.8,709.5 1741.4,705.4C1746.9,701.2 1758.6,696.7 1762.1,695.0M1869.7,695.0C1871.8,697.1 1874.9,705.0 1882.2,707.4C1889.4,709.8 1904.2,710.2 1913.2,709.5C1922.2,708.8 1930.8,705.7 1936.0,703.3C1941.2,700.9 1942.9,696.4 1944.3,695.0"/>
<path clip-path="url(#tO)" fill="none" stroke="#4a4a4a" stroke-width="3.0" stroke-linejoin="round" stroke-linecap="round"  d="M1494.0,1821.0C1494.7,1816.4 1498.2,1801.7 1498.2,1793.7C1498.2,1785.7 1495.4,1779.9 1494.0,1773.0C1492.7,1766.1 1491.3,1758.5 1489.9,1752.3C1488.5,1746.1 1485.1,1740.9 1485.8,1735.7C1486.4,1730.5 1489.9,1725.0 1494.0,1721.2C1498.2,1717.4 1503.7,1716.0 1510.6,1712.9C1517.5,1709.8 1527.9,1706.4 1535.4,1702.6C1543.0,1698.8 1549.2,1692.9 1556.2,1690.2C1563.1,1687.4 1571.0,1686.7 1576.9,1686.0C1582.7,1685.3 1586.2,1683.9 1591.3,1686.0C1596.5,1688.1 1604.1,1695.7 1607.9,1698.4C1611.7,1701.2 1613.8,1700.5 1614.1,1702.6C1614.5,1704.6 1613.4,1708.8 1610.0,1710.9C1606.5,1712.9 1595.5,1709.8 1593.4,1715.0C1591.3,1720.2 1594.8,1734.0 1597.6,1741.9C1600.3,1749.8 1606.5,1757.4 1610.0,1762.6C1613.4,1767.8 1615.2,1769.2 1618.3,1773.0C1621.4,1776.8 1625.2,1785.4 1628.6,1785.4C1632.1,1785.4 1636.6,1778.5 1639.0,1773.0C1641.4,1767.4 1641.4,1759.2 1643.1,1752.3C1644.8,1745.4 1646.6,1735.7 1649.3,1731.6C1652.1,1727.4 1656.2,1727.4 1659.7,1727.4C1663.1,1727.4 1665.5,1728.8 1670.0,1731.6C1674.6,1734.3 1684.2,1741.9 1687.0,1744.0M1384.3,1679.8C1382.6,1684.3 1377.1,1701.5 1374.0,1706.7C1370.9,1711.9 1368.1,1708.8 1365.7,1710.9C1363.3,1712.9 1358.8,1716.4 1359.5,1719.1C1360.2,1721.9 1367.4,1728.1 1369.8,1727.4C1372.2,1726.7 1371.5,1721.9 1374.0,1715.0C1376.4,1708.1 1382.6,1690.8 1384.3,1686.0"/>
<path clip-path="url(#tP)" fill="none" stroke="#4a4a4a" stroke-width="3.0" stroke-linejoin="round" stroke-linecap="round"  d="M1869.7,1561.8C1870.8,1561.8 1876.6,1558.3 1882.2,1555.6C1887.7,1552.8 1897.7,1548.3 1902.9,1545.2C1908.0,1542.1 1909.4,1539.7 1913.2,1536.9C1917.0,1534.2 1922.2,1531.1 1925.6,1528.7C1929.1,1526.2 1933.9,1524.3 1933.9,1522.4C1933.9,1520.6 1927.4,1516.6 1925.6,1517.3C1923.9,1518.0 1925.6,1524.0 1923.6,1526.6C1921.5,1529.2 1918.4,1530.0 1913.2,1532.8C1908.0,1535.6 1898.7,1539.4 1892.5,1543.2C1886.3,1546.9 1879.7,1552.5 1875.9,1555.6C1872.1,1558.7 1868.7,1561.8 1869.7,1561.8M1646.1,1821.0C1646.8,1816.4 1648.9,1803.4 1650.3,1793.7C1651.6,1783.9 1654.4,1771.2 1654.4,1762.6C1654.4,1754.0 1650.3,1747.1 1650.3,1741.9C1650.3,1736.7 1650.3,1732.6 1654.4,1731.6C1658.5,1730.5 1668.2,1732.2 1675.1,1735.7C1682.0,1739.2 1691.7,1746.1 1695.8,1752.3C1700.0,1758.5 1698.2,1766.1 1700.0,1773.0C1701.7,1779.9 1703.4,1786.8 1706.2,1793.7C1708.9,1800.6 1714.1,1809.8 1716.5,1814.4C1718.9,1818.9 1720.0,1819.9 1720.7,1821.0M1658.5,1821.0C1659.6,1816.4 1662.0,1801.7 1664.8,1793.7C1667.5,1785.7 1671.7,1778.1 1675.1,1773.0C1678.6,1767.8 1682.0,1760.9 1685.5,1762.6C1688.9,1764.3 1694.8,1776.4 1695.8,1783.3C1696.9,1790.2 1695.1,1797.7 1691.7,1804.0C1688.2,1810.3 1677.9,1818.2 1675.1,1821.0"/>
<path clip-path="url(#tN)" fill="none" stroke="#4a4a4a" stroke-width="3.0" stroke-linejoin="round" stroke-linecap="round"  d="M1021.6,1638.4C1023.3,1634.9 1027.8,1623.2 1031.9,1617.7C1036.1,1612.2 1041.2,1607.3 1046.4,1605.3C1051.6,1603.2 1056.8,1603.5 1063.0,1605.3C1069.2,1607.0 1082.0,1613.5 1083.7,1615.6C1085.4,1617.7 1079.9,1616.7 1073.3,1617.7C1066.8,1618.7 1051.3,1620.1 1044.3,1621.8C1037.4,1623.6 1035.4,1625.3 1031.9,1628.0C1028.5,1630.8 1025.0,1636.7 1023.6,1638.4M1065.1,1574.2C1069.0,1570.6 1087.1,1556.4 1092.0,1553.5C1096.8,1550.6 1098.0,1553.0 1094.0,1556.6C1090.1,1560.2 1073.0,1572.3 1068.2,1575.2C1063.3,1578.2 1061.1,1577.8 1065.1,1574.2M1247.2,1466.5C1249.3,1467.9 1254.1,1471.0 1259.7,1474.8C1265.2,1478.6 1275.8,1486.2 1280.4,1489.3C1284.9,1492.4 1285.9,1492.8 1287.0,1493.5M1239.0,1481.0C1241.0,1480.0 1247.2,1475.2 1251.4,1474.8C1255.5,1474.5 1261.7,1478.3 1263.8,1479.0"/>
<path fill="none" stroke="#4a4a4a" stroke-width="3" stroke-linejoin="round" d="M1393.2,295.0C1395.8,296.3 1404.1,300.2 1408.7,302.8C1413.3,305.4 1420.1,306.6 1421.1,310.5C1422.1,314.4 1415.4,319.6 1414.9,326.1C1414.4,332.6 1417.5,342.8 1418.0,349.3C1418.5,355.8 1417.0,361.0 1418.0,364.9C1419.0,368.8 1421.9,368.7 1424.2,372.6C1426.5,376.5 1429.9,383.0 1432.0,388.2C1434.1,393.4 1434.5,398.5 1436.6,403.7C1438.7,408.9 1441.8,414.0 1444.4,419.2C1447.0,424.4 1449.6,429.6 1452.2,434.8C1454.8,440.0 1456.8,445.7 1459.9,450.3C1463.0,454.9 1467.2,458.8 1470.8,462.7C1474.4,466.6 1478.3,470.0 1481.7,473.6C1485.1,477.2 1488.4,481.5 1491.0,484.4C1493.6,487.2 1495.9,487.8 1497.2,490.7C1498.5,493.6 1499.6,498.7 1498.8,501.5C1498.0,504.3 1495.3,506.7 1492.5,507.7C1489.7,508.7 1483.8,506.9 1481.7,507.7C1479.6,508.5 1478.8,510.3 1480.1,512.4C1481.4,514.5 1487.1,517.6 1489.4,520.2C1491.7,522.8 1493.3,526.6 1494.1,527.9M1469.9,523.3C1472.0,527.9 1478.4,543.7 1482.3,551.2C1486.2,558.7 1489.8,563.9 1493.2,568.3C1496.6,572.7 1499.7,574.0 1502.5,577.6C1505.3,581.2 1509.2,587.0 1510.2,590.1C1511.2,593.2 1510.0,593.7 1508.7,596.3C1507.4,598.9 1503.0,602.0 1502.5,605.6C1502.0,609.2 1506.1,614.9 1505.6,618.0C1505.1,621.1 1497.6,622.9 1499.4,624.2C1501.2,625.5 1511.1,625.0 1516.5,625.8C1521.9,626.6 1526.8,630.2 1532.0,628.9C1537.2,627.6 1542.3,620.1 1547.5,618.0C1552.7,615.9 1557.8,616.0 1563.0,616.5C1568.2,617.0 1573.7,622.4 1578.6,621.1C1583.5,619.8 1589.9,611.3 1592.5,608.7C1595.1,606.1 1595.6,610.8 1594.1,605.6C1592.5,600.4 1583.7,586.2 1583.2,577.6C1582.7,569.0 1587.9,560.0 1591.0,554.3C1594.1,548.6 1597.5,547.4 1601.9,543.5C1606.3,539.6 1612.2,533.7 1617.4,531.1C1622.6,528.5 1627.7,528.8 1632.9,528.0C1638.1,527.2 1640.6,526.7 1648.4,526.4C1656.2,526.1 1673.0,528.7 1679.5,526.4C1686.0,524.1 1686.0,514.7 1687.3,512.4M1300.0,403.7C1301.0,401.9 1303.6,396.2 1306.2,392.8C1308.8,389.4 1311.1,385.3 1315.5,383.5C1319.9,381.7 1326.6,384.9 1332.6,382.0C1338.5,379.1 1346.8,369.1 1351.2,366.4C1355.6,363.7 1359.8,363.1 1359.0,365.7C1358.2,368.3 1348.4,376.2 1346.6,382.0C1344.8,387.8 1347.3,393.6 1348.1,400.6C1348.9,407.6 1352.0,416.6 1351.2,423.9C1350.4,431.1 1346.1,439.7 1343.5,444.1C1340.9,448.5 1336.7,446.7 1335.7,450.3C1334.7,453.9 1336.8,460.6 1337.3,465.8C1337.8,471.0 1338.3,476.6 1338.8,481.3C1339.3,486.0 1337.8,490.7 1340.4,493.8C1343.0,496.9 1349.7,498.7 1354.3,500.0C1358.9,501.3 1364.7,499.7 1368.3,501.5C1371.9,503.3 1375.1,507.7 1376.1,510.8C1377.1,513.9 1375.3,517.4 1374.5,520.2C1373.7,523.1 1373.2,525.3 1371.4,527.9C1369.6,530.5 1366.6,533.9 1363.7,535.7C1360.8,537.5 1357.4,539.4 1354.3,538.8C1351.2,538.2 1347.9,531.8 1345.0,532.0C1342.1,532.2 1339.0,536.2 1337.0,540.0C1335.0,543.8 1333.5,548.3 1333.0,555.0C1332.5,561.7 1334.5,574.2 1334.0,580.0C1333.5,585.8 1333.2,587.8 1330.0,590.0C1326.8,592.2 1320.0,592.0 1315.0,593.0C1310.0,594.0 1304.2,594.3 1300.0,596.0C1295.8,597.7 1290.7,599.8 1290.0,603.0C1289.3,606.2 1296.0,610.8 1296.0,615.0C1296.0,619.2 1291.8,622.2 1290.0,628.0C1288.2,633.8 1286.2,643.0 1285.0,650.0C1283.8,657.0 1281.8,663.3 1283.0,670.0C1284.2,676.7 1289.2,685.0 1292.0,690.0C1294.8,695.0 1298.7,698.3 1300.0,700.0M1300.0,403.7C1298.3,405.1 1295.0,408.4 1290.0,412.0C1285.0,415.6 1276.7,420.3 1270.0,425.0C1263.3,429.7 1257.0,435.8 1250.0,440.0C1243.0,444.2 1233.7,446.0 1228.0,450.0C1222.3,454.0 1219.2,458.5 1216.0,464.0C1212.8,469.5 1211.2,475.0 1209.0,483.0C1206.8,491.0 1204.3,500.5 1203.0,512.0C1201.7,523.5 1200.7,542.0 1201.0,552.0C1201.3,562.0 1205.7,562.8 1205.0,572.0C1204.3,581.2 1195.8,599.2 1197.0,607.0C1198.2,614.8 1207.0,615.0 1212.1,618.8C1217.2,622.6 1224.0,625.8 1227.6,629.7C1231.2,633.6 1232.9,637.5 1233.9,642.1C1235.0,646.8 1234.4,651.4 1233.9,657.6C1233.4,663.8 1230.7,673.7 1230.7,679.4C1230.7,685.1 1232.9,687.7 1233.9,691.8C1235.0,695.9 1234.9,700.1 1237.0,704.2C1239.1,708.3 1243.2,712.7 1246.3,716.6C1249.4,720.5 1255.1,724.4 1255.6,727.5C1256.1,730.6 1253.3,733.5 1249.4,735.3C1245.5,737.1 1235.9,736.3 1232.3,738.4C1228.7,740.5 1226.8,745.1 1227.6,747.7C1228.4,750.3 1234.4,752.2 1237.0,754.0C1239.6,755.8 1242.2,754.7 1243.2,758.6C1244.2,762.5 1242.2,772.0 1243.2,777.2C1244.2,782.4 1246.3,786.8 1249.4,789.6C1252.5,792.5 1257.7,793.0 1261.8,794.3C1265.9,795.6 1270.8,794.3 1274.2,797.4C1277.6,800.5 1279.4,807.7 1282.0,812.9C1284.6,818.1 1285.9,824.8 1289.8,828.4C1293.7,832.0 1302.7,833.7 1305.3,834.7M1228.0,452.0C1230.8,451.7 1238.8,450.8 1245.0,450.0C1251.2,449.2 1257.5,448.3 1265.0,447.0C1272.5,445.7 1282.5,443.2 1290.0,442.0C1297.5,440.8 1306.7,440.3 1310.0,440.0M1235.0,460.0C1236.7,462.5 1241.7,470.0 1245.0,475.0C1248.3,480.0 1254.2,485.0 1255.0,490.0C1255.8,495.0 1248.8,503.3 1250.0,505.0C1251.2,506.7 1259.0,504.2 1262.0,500.0C1265.0,495.8 1268.0,486.3 1268.0,480.0C1268.0,473.7 1263.0,465.0 1262.0,462.0M1305.3,603.3C1308.3,600.3 1314.8,600.5 1320.0,600.0C1325.2,599.5 1329.7,599.7 1336.3,600.2C1342.9,600.8 1354.4,598.9 1359.6,603.3C1364.8,607.7 1365.6,620.1 1367.4,626.6C1369.2,633.1 1370.5,636.9 1370.5,642.1C1370.5,647.3 1370.5,653.5 1367.4,657.6C1364.3,661.8 1358.4,666.0 1351.9,667.0C1345.4,668.0 1335.1,666.8 1328.6,663.9C1322.1,661.0 1316.9,654.8 1313.0,649.9C1309.1,645.0 1307.1,639.6 1305.3,634.3C1303.5,629.0 1302.0,623.2 1302.0,618.0C1302.0,612.8 1302.3,606.3 1305.3,603.3M1397.8,557.4C1399.2,556.4 1404.8,561.3 1408.7,562.1C1412.6,562.9 1417.2,562.9 1421.1,562.1C1425.0,561.3 1427.6,559.5 1432.0,557.4C1436.4,555.3 1442.5,552.3 1447.5,549.7C1452.5,547.1 1456.6,541.6 1462.1,541.9C1467.6,542.1 1478.4,547.1 1480.7,551.2C1483.0,555.4 1476.1,560.8 1476.1,566.8C1476.1,572.8 1480.5,581.3 1480.7,587.0C1481.0,592.7 1479.7,598.6 1477.6,600.9C1475.5,603.2 1471.6,598.8 1468.3,600.9C1465.0,603.0 1459.3,610.0 1457.5,613.4C1455.7,616.8 1455.2,618.3 1457.5,621.1C1459.8,623.9 1468.6,627.5 1471.4,630.4C1474.2,633.2 1476.0,636.1 1474.5,638.2C1473.0,640.3 1466.0,641.1 1462.1,642.9C1458.2,644.7 1454.9,646.2 1451.2,649.1C1447.5,652.0 1444.4,656.9 1440.0,660.0C1435.6,663.1 1430.8,666.7 1425.0,668.0C1419.2,669.3 1410.5,669.3 1405.0,668.0C1399.5,666.7 1395.2,664.7 1392.0,660.0C1388.8,655.3 1387.7,646.7 1386.0,640.0C1384.3,633.3 1383.3,626.2 1382.0,620.0C1380.7,613.8 1377.5,608.0 1378.0,603.0C1378.5,598.0 1381.7,593.8 1385.0,590.0C1388.3,586.2 1395.5,583.7 1398.0,580.0C1400.5,576.3 1400.0,571.8 1400.0,568.0C1400.0,564.2 1396.3,558.4 1397.8,557.4M1400.0,673.9C1404.2,670.7 1410.3,670.0 1415.5,670.8C1420.7,671.6 1425.8,676.5 1431.0,678.6C1436.2,680.7 1441.9,681.9 1446.6,683.2C1451.3,684.5 1459.0,681.9 1459.0,686.3C1459.0,690.7 1449.4,703.9 1446.6,709.6C1443.8,715.3 1444.0,721.8 1441.9,720.5C1439.8,719.2 1437.3,704.5 1434.2,701.9C1431.1,699.3 1429.0,705.0 1423.3,705.0C1417.6,705.0 1405.5,704.4 1400.0,701.9C1394.5,699.4 1390.0,694.7 1390.0,690.0C1390.0,685.3 1395.8,677.1 1400.0,673.9M1299.1,726.0C1302.7,726.5 1314.6,727.8 1320.8,729.1C1327.0,730.4 1331.1,731.4 1336.3,733.7C1341.5,736.0 1346.7,740.7 1351.9,743.0C1357.1,745.3 1362.2,747.7 1367.4,747.7C1372.6,747.7 1379.3,745.1 1382.9,743.0C1386.5,740.9 1386.5,737.9 1389.1,735.3C1391.7,732.7 1396.1,727.5 1398.4,727.5C1400.7,727.5 1405.2,731.4 1403.1,735.3C1401.0,739.2 1389.4,745.6 1386.0,750.8C1382.6,756.0 1385.2,761.1 1382.9,766.3C1380.6,771.5 1372.0,778.0 1372.0,781.9C1372.0,785.8 1378.2,788.7 1382.9,789.6C1387.6,790.5 1394.6,789.8 1400.0,787.3C1405.4,784.8 1410.3,778.2 1415.5,774.8C1420.7,771.4 1424.5,769.8 1431.0,767.0C1437.5,764.2 1447.8,761.9 1454.3,757.8C1460.8,753.7 1465.5,747.4 1469.9,742.2C1474.3,737.0 1476.8,729.5 1480.7,726.7C1484.6,723.9 1488.5,726.2 1493.2,725.2C1497.9,724.2 1504.1,723.4 1508.7,720.5C1513.3,717.6 1517.2,711.0 1521.1,708.1C1525.0,705.2 1529.4,704.7 1532.0,703.4C1534.6,702.1 1534.0,699.3 1536.6,700.3C1539.2,701.3 1544.4,707.3 1547.5,709.6C1550.6,711.9 1554.3,712.3 1555.3,714.3C1556.3,716.3 1555.0,719.2 1553.7,721.7C1552.4,724.2 1546.5,726.7 1547.5,729.2C1548.5,731.8 1557.4,733.3 1560.0,737.0C1562.6,740.7 1562.5,747.1 1563.0,751.6C1563.5,756.1 1561.7,760.6 1563.0,764.0C1564.3,767.4 1566.9,769.1 1570.8,771.7C1574.7,774.3 1581.1,776.9 1586.3,779.5C1591.5,782.1 1596.7,787.8 1601.9,787.3C1607.1,786.8 1612.2,780.3 1617.4,776.4C1622.6,772.5 1627.7,767.4 1632.9,764.0C1638.1,760.6 1643.2,758.8 1648.4,756.2C1653.6,753.6 1658.8,750.7 1664.0,748.4C1669.2,746.1 1673.5,744.8 1679.5,742.2C1685.5,739.6 1693.8,734.2 1700.0,732.9C1706.2,731.6 1711.7,736.5 1716.5,734.3C1721.3,732.1 1724.8,724.6 1728.9,719.8C1733.1,715.0 1735.9,709.5 1741.4,705.4C1746.9,701.3 1758.6,696.7 1762.1,695.0M1620.5,628.9C1625.2,628.4 1641.4,640.6 1645.3,646.0C1649.2,651.4 1648.4,661.0 1643.8,661.5C1639.2,662.0 1621.3,654.5 1617.4,649.1C1613.5,643.7 1615.8,629.4 1620.5,628.9"/>
<path fill="none" stroke="#333" stroke-width="1" d="M729.2,295 L675.4,695 L619.5,1095 L566.7,1495 L522.2,1821"/>
<path fill="none" stroke="#333" stroke-width="1" d="M1612,295 L1639,695 L1666,1095 L1693.7,1495 L1716,1821"/>
<path fill="none" stroke="#333" stroke-width="1" d="M487.0,1720.0C521.5,1724.3 627.3,1738.8 694.0,1746.0C760.7,1753.2 821.5,1758.7 887.0,1763.0C952.5,1767.3 1020.3,1769.7 1087.0,1772.0C1153.7,1774.3 1220.3,1776.2 1287.0,1777.0C1353.7,1777.8 1420.3,1778.3 1487.0,1777.0C1553.7,1775.7 1631.5,1772.1 1687.0,1769.0C1742.5,1765.9 1765.7,1763.8 1820.0,1758.5C1874.3,1753.2 1980.8,1740.6 2013.0,1737.0"/>
</g>
<rect x="487" y="295" width="1526" height="1526" fill="none" stroke="#000" stroke-width="1.6"/>
<text x="605.1" y="114.5" font-size="91" textLength="1290.5" lengthAdjust="spacing" font-family="Liberation Sans, Arial, Helvetica, sans-serif">Composite (Mar 04 2026 12UTC)</text>
<line x1="728.7" y1="259.6" x2="728.7" y2="295" stroke="#555" stroke-width="1.3"/>
<text x="728.7" y="224" font-size="51" text-anchor="middle" font-family="Liberation Sans, Arial, Helvetica, sans-serif">0°</text>
<line x1="1025.2" y1="259.6" x2="1025.2" y2="295" stroke="#555" stroke-width="1.3"/>
<text x="1025.2" y="224" font-size="51" text-anchor="middle" font-family="Liberation Sans, Arial, Helvetica, sans-serif">5°E</text>
<line x1="1317.5" y1="259.6" x2="1317.5" y2="295" stroke="#555" stroke-width="1.3"/>
<text x="1317.5" y="224" font-size="51" text-anchor="middle" font-family="Liberation Sans, Arial, Helvetica, sans-serif">10°E</text>
<line x1="1612" y1="259.6" x2="1612" y2="295" stroke="#555" stroke-width="1.3"/>
<text x="1612" y="224" font-size="51" text-anchor="middle" font-family="Liberation Sans, Arial, Helvetica, sans-serif">15°E</text>
<line x1="1910" y1="259.6" x2="1910" y2="295" stroke="#555" stroke-width="1.3"/>
<text x="1910" y="224" font-size="51" text-anchor="middle" font-family="Liberation Sans, Arial, Helvetica, sans-serif">20°E</text>
<line x1="521.7" y1="1821" x2="521.7" y2="1857" stroke="#555" stroke-width="1.3"/>
<text x="521.7" y="1929" font-size="51" text-anchor="middle" font-family="Liberation Sans, Arial, Helvetica, sans-serif">0°</text>
<line x1="683" y1="1821" x2="683" y2="1857" stroke="#555" stroke-width="1.3"/>
<text x="683" y="1929" font-size="51" text-anchor="middle" font-family="Liberation Sans, Arial, Helvetica, sans-serif">2°E</text>
<line x1="842.5" y1="1821" x2="842.5" y2="1857" stroke="#555" stroke-width="1.3"/>
<text x="842.5" y="1929" font-size="51" text-anchor="middle" font-family="Liberation Sans, Arial, Helvetica, sans-serif">4°E</text>
<line x1="1001.6" y1="1821" x2="1001.6" y2="1857" stroke="#555" stroke-width="1.3"/>
<text x="1001.6" y="1929" font-size="51" text-anchor="middle" font-family="Liberation Sans, Arial, Helvetica, sans-serif">6°E</text>
<line x1="1160.2" y1="1821" x2="1160.2" y2="1857" stroke="#555" stroke-width="1.3"/>
<text x="1160.2" y="1929" font-size="51" text-anchor="middle" font-family="Liberation Sans, Arial, Helvetica, sans-serif">8°E</text>
<line x1="1318.2" y1="1821" x2="1318.2" y2="1857" stroke="#555" stroke-width="1.3"/>
<text x="1318.2" y="1929" font-size="51" text-anchor="middle" font-family="Liberation Sans, Arial, Helvetica, sans-serif">10°E</text>
<line x1="1477.5" y1="1821" x2="1477.5" y2="1857" stroke="#555" stroke-width="1.3"/>
<text x="1477.5" y="1929" font-size="51" text-anchor="middle" font-family="Liberation Sans, Arial, Helvetica, sans-serif">12°E</text>
<line x1="1636.8" y1="1821" x2="1636.8" y2="1857" stroke="#555" stroke-width="1.3"/>
<text x="1636.8" y="1929" font-size="51" text-anchor="middle" font-family="Liberation Sans, Arial, Helvetica, sans-serif">14°E</text>
<line x1="1795.6" y1="1821" x2="1795.6" y2="1857" stroke="#555" stroke-width="1.3"/>
<text x="1795.6" y="1929" font-size="51" text-anchor="middle" font-family="Liberation Sans, Arial, Helvetica, sans-serif">16°E</text>
<line x1="1955.2" y1="1821" x2="1955.2" y2="1857" stroke="#555" stroke-width="1.3"/>
<text x="1955.2" y="1929" font-size="51" text-anchor="middle" font-family="Liberation Sans, Arial, Helvetica, sans-serif">18°E</text>
<line x1="451.3" y1="483" x2="487" y2="483" stroke="#555" stroke-width="1.3"/>
<text x="421.8" y="501.3" font-size="51" text-anchor="end" font-family="Liberation Sans, Arial, Helvetica, sans-serif">56°N</text>
<line x1="451.3" y1="710.2" x2="487" y2="710.2" stroke="#555" stroke-width="1.3"/>
<text x="421.8" y="728.5" font-size="51" text-anchor="end" font-family="Liberation Sans, Arial, Helvetica, sans-serif">54°N</text>
<line x1="451.3" y1="934.7" x2="487" y2="934.7" stroke="#555" stroke-width="1.3"/>
<text x="421.8" y="953.0" font-size="51" text-anchor="end" font-family="Liberation Sans, Arial, Helvetica, sans-serif">52°N</text>
<line x1="451.3" y1="1159" x2="487" y2="1159" stroke="#555" stroke-width="1.3"/>
<text x="421.8" y="1177.3" font-size="51" text-anchor="end" font-family="Liberation Sans, Arial, Helvetica, sans-serif">50°N</text>
<line x1="451.3" y1="1382.3" x2="487" y2="1382.3" stroke="#555" stroke-width="1.3"/>
<text x="421.8" y="1400.6" font-size="51" text-anchor="end" font-family="Liberation Sans, Arial, Helvetica, sans-serif">48°N</text>
<line x1="451.3" y1="1606.7" x2="487" y2="1606.7" stroke="#555" stroke-width="1.3"/>
<text x="421.8" y="1625.0" font-size="51" text-anchor="end" font-family="Liberation Sans, Arial, Helvetica, sans-serif">46°N</text>
<line x1="2013" y1="506" x2="2048.8" y2="506" stroke="#555" stroke-width="1.3"/>
<text x="2081.9" y="524.3" font-size="51" font-family="Liberation Sans, Arial, Helvetica, sans-serif">56°N</text>
<line x1="2013" y1="732.1" x2="2048.8" y2="732.1" stroke="#555" stroke-width="1.3"/>
<text x="2081.9" y="750.4" font-size="51" font-family="Liberation Sans, Arial, Helvetica, sans-serif">54°N</text>
<line x1="2013" y1="955.6" x2="2048.8" y2="955.6" stroke="#555" stroke-width="1.3"/>
<text x="2081.9" y="973.9" font-size="51" font-family="Liberation Sans, Arial, Helvetica, sans-serif">52°N</text>
<line x1="2013" y1="1177.9" x2="2048.8" y2="1177.9" stroke="#555" stroke-width="1.3"/>
<text x="2081.9" y="1196.2" font-size="51" font-family="Liberation Sans, Arial, Helvetica, sans-serif">50°N</text>
<line x1="2013" y1="1402" x2="2048.8" y2="1402" stroke="#555" stroke-width="1.3"/>
<text x="2081.9" y="1420.3" font-size="51" font-family="Liberation Sans, Arial, Helvetica, sans-serif">48°N</text>
<line x1="2013" y1="1626" x2="2048.8" y2="1626" stroke="#555" stroke-width="1.3"/>
<text x="2081.9" y="1644.3" font-size="51" font-family="Liberation Sans, Arial, Helvetica, sans-serif">46°N</text>
<rect x="1190.5" y="1960.2" width="822.2" height="60.1" fill="#fff" stroke="#999" stroke-width="1.3"/>
<text x="1197.5" y="2001.2" font-size="42" font-family="Liberation Sans, Arial, Helvetica, sans-serif">pressure (hPa) from 1018 to 1030 by 1 hPa</text>
<rect x="1466.8" y="2050.6" width="545.9" height="142.4" fill="#fff" stroke="#999" stroke-width="1.3"/>
<text x="1739.5" y="2085.3" font-size="35" text-anchor="middle" font-family="Liberation Sans, Arial, Helvetica, sans-serif">15 m/s</text>
<path d="M1702,2114.8 h49.2 v-8.5 l26,12.6 l-26,12.2 v-8.1 h-49.2 z" fill="#000"/>
<text x="1739.9" y="2177.5" font-size="35" text-anchor="middle" font-family="Liberation Sans, Arial, Helvetica, sans-serif">ground windspeed (m/s) reference</text>
<text x="1250" y="2273.5" font-size="53" text-anchor="middle" font-family="Liberation Sans, Arial, Helvetica, sans-serif">temperature in (degC)</text>
<rect x="433.50" y="2306.2" width="22.98" height="60.5" fill="#0000ff"/>
<rect x="456.18" y="2306.2" width="22.98" height="60.5" fill="#0d13ff"/>
<rect x="478.86" y="2306.2" width="22.98" height="60.5" fill="#0a23ff"/>
<rect x="501.54" y="2306.2" width="22.98" height="60.5" fill="#0037ff"/>
<rect x="524.22" y="2306.2" width="22.98" height="60.5" fill="#004bff"/>
<rect x="546.90" y="2306.2" width="22.98" height="60.5" fill="#0064ff"/>
<rect x="569.58" y="2306.2" width="22.98" height="60.5" fill="#0082ff"/>
<rect x="592.26" y="2306.2" width="22.98" height="60.5" fill="#009bff"/>
<rect x="614.94" y="2306.2" width="22.98" height="60.5" fill="#00aaff"/>
<rect x="637.62" y="2306.2" width="22.98" height="60.5" fill="#00beff"/>
<rect x="660.31" y="2306.2" width="22.98" height="60.5" fill="#00d7ff"/>
<rect x="682.99" y="2306.2" width="22.98" height="60.5" fill="#00ebff"/>
<rect x="705.67" y="2306.2" width="22.98" height="60.5" fill="#00ffff"/>
<rect x="728.35" y="2306.2" width="22.98" height="60.5" fill="#00f5e1"/>
<rect x="751.03" y="2306.2" width="22.98" height="60.5" fill="#00f0cd"/>
<rect x="773.71" y="2306.2" width="22.98" height="60.5" fill="#00ebbe"/>
<rect x="796.39" y="2306.2" width="22.98" height="60.5" fill="#00e4a5"/>
<rect x="819.07" y="2306.2" width="22.98" height="60.5" fill="#04dc91"/>
<rect x="841.75" y="2306.2" width="22.98" height="60.5" fill="#05d782"/>
<rect x="864.43" y="2306.2" width="22.98" height="60.5" fill="#05cd6e"/>
<rect x="887.11" y="2306.2" width="22.98" height="60.5" fill="#06c355"/>
<rect x="909.79" y="2306.2" width="22.98" height="60.5" fill="#08be46"/>
<rect x="932.47" y="2306.2" width="22.98" height="60.5" fill="#0ab432"/>
<rect x="955.15" y="2306.2" width="22.98" height="60.5" fill="#0fb428"/>
<rect x="977.83" y="2306.2" width="22.98" height="60.5" fill="#0faf14"/>
<rect x="1000.51" y="2306.2" width="22.98" height="60.5" fill="#23b914"/>
<rect x="1023.19" y="2306.2" width="22.98" height="60.5" fill="#3cc314"/>
<rect x="1045.88" y="2306.2" width="22.98" height="60.5" fill="#50c80f"/>
<rect x="1068.56" y="2306.2" width="22.98" height="60.5" fill="#5fcd0f"/>
<rect x="1091.24" y="2306.2" width="22.98" height="60.5" fill="#73d20a"/>
<rect x="1113.92" y="2306.2" width="22.98" height="60.5" fill="#91dc05"/>
<rect x="1136.60" y="2306.2" width="22.98" height="60.5" fill="#a0e105"/>
<rect x="1159.28" y="2306.2" width="22.98" height="60.5" fill="#b4e805"/>
<rect x="1181.96" y="2306.2" width="22.98" height="60.5" fill="#c3eb05"/>
<rect x="1204.64" y="2306.2" width="22.98" height="60.5" fill="#d7f000"/>
<rect x="1227.32" y="2306.2" width="22.98" height="60.5" fill="#ebfa00"/>
<rect x="1250.00" y="2306.2" width="22.98" height="60.5" fill="#fffc00"/>
<rect x="1272.68" y="2306.2" width="22.98" height="60.5" fill="#ffee00"/>
<rect x="1295.36" y="2306.2" width="22.98" height="60.5" fill="#ffe800"/>
<rect x="1318.04" y="2306.2" width="22.98" height="60.5" fill="#ffe100"/>
<rect x="1340.72" y="2306.2" width="22.98" height="60.5" fill="#ffd700"/>
<rect x="1363.40" y="2306.2" width="22.98" height="60.5" fill="#ffd000"/>
<rect x="1386.08" y="2306.2" width="22.98" height="60.5" fill="#ffcb00"/>
<rect x="1408.76" y="2306.2" width="22.98" height="60.5" fill="#ffc300"/>
<rect x="1431.44" y="2306.2" width="22.98" height="60.5" fill="#ffbc00"/>
<rect x="1454.12" y="2306.2" width="22.98" height="60.5" fill="#ffb400"/>
<rect x="1476.81" y="2306.2" width="22.98" height="60.5" fill="#ffac00"/>
<rect x="1499.49" y="2306.2" width="22.98" height="60.5" fill="#ffa500"/>
<rect x="1522.17" y="2306.2" width="22.98" height="60.5" fill="#ff9b00"/>
<rect x="1544.85" y="2306.2" width="22.98" height="60.5" fill="#ff9100"/>
<rect x="1567.53" y="2306.2" width="22.98" height="60.5" fill="#ff8200"/>
<rect x="1590.21" y="2306.2" width="22.98" height="60.5" fill="#ff7800"/>
<rect x="1612.89" y="2306.2" width="22.98" height="60.5" fill="#ff6900"/>
<rect x="1635.57" y="2306.2" width="22.98" height="60.5" fill="#ff5a00"/>
<rect x="1658.25" y="2306.2" width="22.98" height="60.5" fill="#ff5000"/>
<rect x="1680.93" y="2306.2" width="22.98" height="60.5" fill="#ff4100"/>
<rect x="1703.61" y="2306.2" width="22.98" height="60.5" fill="#ff3200"/>
<rect x="1726.29" y="2306.2" width="22.98" height="60.5" fill="#ff2300"/>
<rect x="1748.97" y="2306.2" width="22.98" height="60.5" fill="#ff1400"/>
<rect x="1771.65" y="2306.2" width="22.98" height="60.5" fill="#fa0500"/>
<rect x="1794.33" y="2306.2" width="22.98" height="60.5" fill="#f2000a"/>
<rect x="1817.01" y="2306.2" width="22.98" height="60.5" fill="#e10019"/>
<rect x="1839.69" y="2306.2" width="22.98" height="60.5" fill="#d20028"/>
<rect x="1862.38" y="2306.2" width="22.98" height="60.5" fill="#c8002d"/>
<rect x="1885.06" y="2306.2" width="22.98" height="60.5" fill="#be0037"/>
<rect x="1907.74" y="2306.2" width="22.98" height="60.5" fill="#af0046"/>
<rect x="1930.42" y="2306.2" width="22.98" height="60.5" fill="#a0004b"/>
<rect x="1953.10" y="2306.2" width="22.98" height="60.5" fill="#8c005a"/>
<rect x="1975.78" y="2306.2" width="22.98" height="60.5" fill="#800064"/>
<rect x="1998.46" y="2306.2" width="22.98" height="60.5" fill="#780073"/>
<rect x="2021.14" y="2306.2" width="22.98" height="60.5" fill="#640078"/>
<rect x="2043.82" y="2306.2" width="22.98" height="60.5" fill="#55008c"/>
<path d="M456.18,2306.2V2366.7M478.86,2306.2V2366.7M501.54,2306.2V2366.7M524.22,2306.2V2366.7M546.90,2306.2V2366.7M569.58,2306.2V2366.7M592.26,2306.2V2366.7M614.94,2306.2V2366.7M637.62,2306.2V2366.7M660.31,2306.2V2366.7M682.99,2306.2V2366.7M705.67,2306.2V2366.7M728.35,2306.2V2366.7M751.03,2306.2V2366.7M773.71,2306.2V2366.7M796.39,2306.2V2366.7M819.07,2306.2V2366.7M841.75,2306.2V2366.7M864.43,2306.2V2366.7M887.11,2306.2V2366.7M909.79,2306.2V2366.7M932.47,2306.2V2366.7M955.15,2306.2V2366.7M977.83,2306.2V2366.7M1000.51,2306.2V2366.7M1023.19,2306.2V2366.7M1045.88,2306.2V2366.7M1068.56,2306.2V2366.7M1091.24,2306.2V2366.7M1113.92,2306.2V2366.7M1136.60,2306.2V2366.7M1159.28,2306.2V2366.7M1181.96,2306.2V2366.7M1204.64,2306.2V2366.7M1227.32,2306.2V2366.7M1250.00,2306.2V2366.7M1272.68,2306.2V2366.7M1295.36,2306.2V2366.7M1318.04,2306.2V2366.7M1340.72,2306.2V2366.7M1363.40,2306.2V2366.7M1386.08,2306.2V2366.7M1408.76,2306.2V2366.7M1431.44,2306.2V2366.7M1454.12,2306.2V2366.7M1476.81,2306.2V2366.7M1499.49,2306.2V2366.7M1522.17,2306.2V2366.7M1544.85,2306.2V2366.7M1567.53,2306.2V2366.7M1590.21,2306.2V2366.7M1612.89,2306.2V2366.7M1635.57,2306.2V2366.7M1658.25,2306.2V2366.7M1680.93,2306.2V2366.7M1703.61,2306.2V2366.7M1726.29,2306.2V2366.7M1748.97,2306.2V2366.7M1771.65,2306.2V2366.7M1794.33,2306.2V2366.7M1817.01,2306.2V2366.7M1839.69,2306.2V2366.7M1862.38,2306.2V2366.7M1885.06,2306.2V2366.7M1907.74,2306.2V2366.7M1930.42,2306.2V2366.7M1953.10,2306.2V2366.7M1975.78,2306.2V2366.7M1998.46,2306.2V2366.7M2021.14,2306.2V2366.7M2043.82,2306.2V2366.7" stroke="#000" stroke-width="1.2" opacity="0.75"/>
<rect x="433.5" y="2306.2" width="1633.0" height="60.5" fill="none" stroke="#000" stroke-width="1.3"/>
<text x="478.9" y="2422.5" font-size="51" text-anchor="middle" font-family="Liberation Sans, Arial, Helvetica, sans-serif">-24</text>
<text x="569.6" y="2422.5" font-size="51" text-anchor="middle" font-family="Liberation Sans, Arial, Helvetica, sans-serif">-20</text>
<text x="660.3" y="2422.5" font-size="51" text-anchor="middle" font-family="Liberation Sans, Arial, Helvetica, sans-serif">-16</text>
<text x="751.0" y="2422.5" font-size="51" text-anchor="middle" font-family="Liberation Sans, Arial, Helvetica, sans-serif">-12</text>
<text x="841.8" y="2422.5" font-size="51" text-anchor="middle" font-family="Liberation Sans, Arial, Helvetica, sans-serif">-8</text>
<text x="932.5" y="2422.5" font-size="51" text-anchor="middle" font-family="Liberation Sans, Arial, Helvetica, sans-serif">-4</text>
<text x="1023.2" y="2422.5" font-size="51" text-anchor="middle" font-family="Liberation Sans, Arial, Helvetica, sans-serif">0</text>
<text x="1113.9" y="2422.5" font-size="51" text-anchor="middle" font-family="Liberation Sans, Arial, Helvetica, sans-serif">4</text>
<text x="1204.6" y="2422.5" font-size="51" text-anchor="middle" font-family="Liberation Sans, Arial, Helvetica, sans-serif">8</text>
<text x="1295.4" y="2422.5" font-size="51" text-anchor="middle" font-family="Liberation Sans, Arial, Helvetica, sans-serif">12</text>
<text x="1386.1" y="2422.5" font-size="51" text-anchor="middle" font-family="Liberation Sans, Arial, Helvetica, sans-serif">16</text>
<text x="1476.8" y="2422.5" font-size="51" text-anchor="middle" font-family="Liberation Sans, Arial, Helvetica, sans-serif">20</text>
<text x="1567.5" y="2422.5" font-size="51" text-anchor="middle" font-family="Liberation Sans, Arial, Helvetica, sans-serif">24</text>
<text x="1658.2" y="2422.5" font-size="51" text-anchor="middle" font-family="Liberation Sans, Arial, Helvetica, sans-serif">28</text>
<text x="1749.0" y="2422.5" font-size="51" text-anchor="middle" font-family="Liberation Sans, Arial, Helvetica, sans-serif">32</text>
<text x="1839.7" y="2422.5" font-size="51" text-anchor="middle" font-family="Liberation Sans, Arial, Helvetica, sans-serif">36</text>
<text x="1930.4" y="2422.5" font-size="51" text-anchor="middle" font-family="Liberation Sans, Arial, Helvetica, sans-serif">40</text>
<text x="2021.1" y="2422.5" font-size="51" text-anchor="middle" font-family="Liberation Sans, Arial, Helvetica, sans-serif">44</text>
</svg></body></html>
